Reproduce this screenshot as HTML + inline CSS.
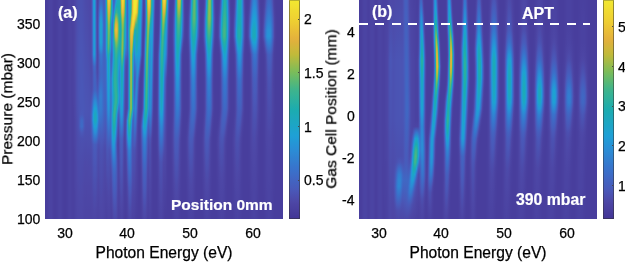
<!DOCTYPE html><html><head><meta charset="utf-8"><style>html,body{margin:0;padding:0;background:#fff;}body{width:625px;height:262px;position:relative;overflow:hidden;font-family:"Liberation Sans",sans-serif;}.t{position:absolute;line-height:1;white-space:nowrap;-webkit-font-smoothing:antialiased;will-change:transform;-webkit-text-stroke:0.25px #000;}.w{-webkit-text-stroke:0.2px #fff;}.hm{position:absolute;top:0;height:219px;width:238px;display:flex;}.hm i{display:block;width:1px;height:219px;flex:none;}.cb{position:absolute;top:0;height:219px;width:11.6px;box-sizing:border-box;border:1px solid rgba(50,50,50,0.5);border-top-color:rgba(50,50,50,0.3);background:linear-gradient(#f2e830,#f1e430,#f1e031,#f0db31,#f0d731,#efd332,#eecf32,#edca33,#ebc435,#e9be37,#e7b939,#e5b33b,#e0b13c,#d8b33b,#d0b63b,#c8b83a,#c0ba3a,#b2ba40,#a5bb47,#97bb4d,#89bc53,#7cbc59,#70bb63,#64b96c,#58b876,#4db680,#41b48a,#3ab391,#34b297,#2eb09d,#28afa3,#22ada9,#1cacaf,#1caab4,#1da9b9,#1da7be,#1da6c3,#1da4c8,#1ea3cd,#1ea1d3,#1f9fd6,#229ad6,#2595d6,#2890d6,#2b8cd5,#2e87d3,#3082d1,#337ecf,#3579ce,#3874cc,#3a70ca,#3d6cc7,#4067c4,#4363c0,#455fbd,#485bba,#4a56b6,#4b51b1,#4c4cab,#4d47a6,#4b43a2,#49409f,#473c9b,#443899,#423496);background-origin:border-box;}.tk{position:absolute;width:1.6px;height:1px;background:#4a4a4a;}.dash{position:absolute;height:2.4px;background:#fff;top:22.8px;}</style></head><body><div class="hm" style="left:45px"><i style="background:linear-gradient(#483e9d 0.5px,#483e9d 6.5px,#483e9d 12.5px,#483e9d 18.5px,#483e9d 24.5px,#483e9d 30.5px,#483e9d 36.5px,#483e9d 42.5px,#483e9d 48.5px,#483e9d 54.5px,#483e9d 60.5px,#483e9d 66.5px,#483e9d 72.5px,#483e9d 78.5px,#483e9d 84.5px,#483e9d 90.5px,#483e9d 96.5px,#483e9d 102.5px,#483e9d 108.5px,#483e9d 114.5px,#483e9d 120.5px,#483e9d 126.5px,#483e9d 132.5px,#483e9d 138.5px,#483e9d 144.5px,#483e9d 150.5px,#483e9d 156.5px,#483e9d 162.5px,#483e9d 168.5px,#483e9d 174.5px,#483e9d 180.5px,#483e9d 186.5px,#483e9d 192.5px,#483e9d 198.5px,#483e9d 204.5px,#483e9d 210.5px,#483e9d 216.5px,#483e9d 218.5px)"></i><i style="background:linear-gradient(#483e9d 0.5px,#483e9d 6.5px,#483e9d 12.5px,#483e9d 18.5px,#483e9d 24.5px,#483e9d 30.5px,#483e9d 36.5px,#483e9d 42.5px,#483e9d 48.5px,#483e9d 54.5px,#483e9d 60.5px,#483e9d 66.5px,#483e9d 72.5px,#483e9d 78.5px,#483e9d 84.5px,#483e9d 90.5px,#483e9d 96.5px,#483e9d 102.5px,#483e9d 108.5px,#483e9d 114.5px,#483e9d 120.5px,#483e9d 126.5px,#483e9d 132.5px,#483e9d 138.5px,#483e9d 144.5px,#483e9d 150.5px,#483e9d 156.5px,#483e9d 162.5px,#483e9d 168.5px,#483e9d 174.5px,#483e9d 180.5px,#483e9d 186.5px,#483e9d 192.5px,#483e9d 198.5px,#483e9d 204.5px,#483e9d 210.5px,#483e9d 216.5px,#483e9d 218.5px)"></i><i style="background:linear-gradient(#493f9e 0.5px,#493f9e 6.5px,#493f9e 12.5px,#493f9e 18.5px,#493f9e 24.5px,#493f9e 30.5px,#493f9e 36.5px,#493f9e 42.5px,#493f9e 48.5px,#493f9e 54.5px,#493f9e 60.5px,#493f9e 66.5px,#493f9e 72.5px,#493f9e 78.5px,#493f9e 84.5px,#493f9e 90.5px,#493f9e 96.5px,#493f9e 102.5px,#493f9e 108.5px,#493f9e 114.5px,#493f9e 120.5px,#493f9e 126.5px,#493f9e 132.5px,#493f9e 138.5px,#493f9e 144.5px,#493f9e 150.5px,#493f9e 156.5px,#493f9e 162.5px,#493f9e 168.5px,#493f9e 174.5px,#493f9e 180.5px,#493f9e 186.5px,#493f9e 192.5px,#493f9e 198.5px,#493f9e 204.5px,#493f9e 210.5px,#493f9e 216.5px,#493f9e 218.5px)"></i><i style="background:linear-gradient(#4a41a0 0.5px,#4a41a0 6.5px,#4a41a0 12.5px,#4a41a0 18.5px,#4a41a0 24.5px,#4a41a0 30.5px,#4a41a0 36.5px,#4a41a0 42.5px,#4a41a0 48.5px,#4a41a0 54.5px,#4a41a0 60.5px,#4a41a0 66.5px,#4a41a0 72.5px,#4a41a0 78.5px,#4a41a0 84.5px,#4a41a0 90.5px,#4a41a0 96.5px,#4a41a0 102.5px,#4a41a0 108.5px,#4a41a0 114.5px,#4a41a0 120.5px,#4a41a0 126.5px,#4a41a0 132.5px,#4a41a0 138.5px,#4a41a0 144.5px,#4a41a0 150.5px,#4a41a0 156.5px,#4a41a0 162.5px,#4a41a0 168.5px,#4a41a0 174.5px,#4a41a0 180.5px,#4a41a0 186.5px,#4a41a0 192.5px,#4a41a0 198.5px,#4a41a0 204.5px,#4a41a0 210.5px,#4a41a0 216.5px,#4a41a0 218.5px)"></i><i style="background:linear-gradient(#4b43a2 0.5px,#4b43a2 6.5px,#4b43a2 12.5px,#4b43a2 18.5px,#4b43a2 24.5px,#4b43a2 30.5px,#4b43a2 36.5px,#4b43a2 42.5px,#4b43a2 48.5px,#4b43a2 54.5px,#4b43a2 60.5px,#4b43a2 66.5px,#4b43a2 72.5px,#4b43a2 78.5px,#4b43a2 84.5px,#4b43a2 90.5px,#4b43a2 96.5px,#4b43a2 102.5px,#4b43a2 108.5px,#4b43a2 114.5px,#4b43a2 120.5px,#4b43a2 126.5px,#4b43a2 132.5px,#4b43a2 138.5px,#4b43a2 144.5px,#4b43a2 150.5px,#4b43a2 156.5px,#4b43a2 162.5px,#4b43a2 168.5px,#4b43a2 174.5px,#4b43a2 180.5px,#4b43a2 186.5px,#4b43a2 192.5px,#4b43a2 198.5px,#4b43a2 204.5px,#4b43a2 210.5px,#4b43a2 216.5px,#4b43a2 218.5px)"></i><i style="background:linear-gradient(#4b43a2 0.5px,#4b43a2 6.5px,#4b43a2 12.5px,#4b43a2 18.5px,#4b43a2 24.5px,#4b43a2 30.5px,#4b43a2 36.5px,#4b43a2 42.5px,#4b43a2 48.5px,#4b43a2 54.5px,#4b43a2 60.5px,#4b43a2 66.5px,#4b43a2 72.5px,#4b43a2 78.5px,#4b43a2 84.5px,#4b43a2 90.5px,#4b43a2 96.5px,#4b43a2 102.5px,#4b43a2 108.5px,#4b43a2 114.5px,#4b43a2 120.5px,#4b43a2 126.5px,#4b43a2 132.5px,#4b43a2 138.5px,#4b43a2 144.5px,#4b43a2 150.5px,#4b43a2 156.5px,#4b43a2 162.5px,#4b43a2 168.5px,#4b43a2 174.5px,#4b43a2 180.5px,#4b43a2 186.5px,#4b43a2 192.5px,#4b43a2 198.5px,#4b43a2 204.5px,#4b43a2 210.5px,#4b43a2 216.5px,#4b43a2 218.5px)"></i><i style="background:linear-gradient(#4b43a2 0.5px,#4b43a2 6.5px,#4b43a2 12.5px,#4b43a2 18.5px,#4b43a2 24.5px,#4b43a2 30.5px,#4b43a2 36.5px,#4b43a2 42.5px,#4b43a2 48.5px,#4b43a2 54.5px,#4b43a2 60.5px,#4b43a2 66.5px,#4b43a2 72.5px,#4b43a2 78.5px,#4b43a2 84.5px,#4b43a2 90.5px,#4b43a2 96.5px,#4b43a2 102.5px,#4b43a2 108.5px,#4b43a2 114.5px,#4b43a2 120.5px,#4b43a2 126.5px,#4b43a2 132.5px,#4b43a2 138.5px,#4b43a2 144.5px,#4b43a2 150.5px,#4b43a2 156.5px,#4b43a2 162.5px,#4b43a2 168.5px,#4b43a2 174.5px,#4b43a2 180.5px,#4b43a2 186.5px,#4b43a2 192.5px,#4b43a2 198.5px,#4b43a2 204.5px,#4b43a2 210.5px,#4b43a2 216.5px,#4b43a2 218.5px)"></i><i style="background:linear-gradient(#4a41a0 0.5px,#4a41a0 6.5px,#4a41a0 12.5px,#4a41a0 18.5px,#4a41a0 24.5px,#4a41a0 30.5px,#4a41a0 36.5px,#4a41a0 42.5px,#4a41a0 48.5px,#4a41a0 54.5px,#4a41a0 60.5px,#4a41a0 66.5px,#4a41a0 72.5px,#4a41a0 78.5px,#4a41a0 84.5px,#4a41a0 90.5px,#4a41a0 96.5px,#4a41a0 102.5px,#4a41a0 108.5px,#4a41a0 114.5px,#4a41a0 120.5px,#4a41a0 126.5px,#4a41a0 132.5px,#4a41a0 138.5px,#4a41a0 144.5px,#4a41a0 150.5px,#4a41a0 156.5px,#4a41a0 162.5px,#4a41a0 168.5px,#4a41a0 174.5px,#4a41a0 180.5px,#4a41a0 186.5px,#4a41a0 192.5px,#4a41a0 198.5px,#4a41a0 204.5px,#4a41a0 210.5px,#4a41a0 216.5px,#4a41a0 218.5px)"></i><i style="background:linear-gradient(#493f9e 0.5px,#493f9e 6.5px,#493f9e 12.5px,#493f9e 18.5px,#493f9e 24.5px,#493f9e 30.5px,#493f9e 36.5px,#493f9e 42.5px,#493f9e 48.5px,#493f9e 54.5px,#493f9e 60.5px,#493f9e 66.5px,#493f9e 72.5px,#493f9e 78.5px,#493f9e 84.5px,#493f9e 90.5px,#493f9e 96.5px,#493f9e 102.5px,#493f9e 108.5px,#493f9e 114.5px,#493f9e 120.5px,#493f9e 126.5px,#493f9e 132.5px,#493f9e 138.5px,#493f9e 144.5px,#493f9e 150.5px,#493f9e 156.5px,#493f9e 162.5px,#493f9e 168.5px,#493f9e 174.5px,#493f9e 180.5px,#493f9e 186.5px,#493f9e 192.5px,#493f9e 198.5px,#493f9e 204.5px,#493f9e 210.5px,#493f9e 216.5px,#493f9e 218.5px)"></i><i style="background:linear-gradient(#483e9d 0.5px,#483e9d 6.5px,#483e9d 12.5px,#483e9d 18.5px,#483e9d 24.5px,#483e9d 30.5px,#483e9d 36.5px,#483e9d 42.5px,#483e9d 48.5px,#483e9d 54.5px,#483e9d 60.5px,#483e9d 66.5px,#483e9d 72.5px,#483e9d 78.5px,#483e9d 84.5px,#483e9d 90.5px,#483e9d 96.5px,#483e9d 102.5px,#483e9d 108.5px,#483e9d 114.5px,#483e9d 120.5px,#483e9d 126.5px,#483e9d 132.5px,#483e9d 138.5px,#483e9d 144.5px,#483e9d 150.5px,#483e9d 156.5px,#483e9d 162.5px,#483e9d 168.5px,#483e9d 174.5px,#483e9d 180.5px,#483e9d 186.5px,#483e9d 192.5px,#483e9d 198.5px,#483e9d 204.5px,#483e9d 210.5px,#483e9d 216.5px,#483e9d 218.5px)"></i><i style="background:linear-gradient(#483e9d 0.5px,#483e9d 6.5px,#483e9d 12.5px,#483e9d 18.5px,#483e9d 24.5px,#483e9d 30.5px,#483e9d 36.5px,#483e9d 42.5px,#483e9d 48.5px,#483e9d 54.5px,#483e9d 60.5px,#483e9d 66.5px,#483e9d 72.5px,#483e9d 78.5px,#483e9d 84.5px,#483e9d 90.5px,#483e9d 96.5px,#483e9d 102.5px,#483e9d 108.5px,#483e9d 114.5px,#483e9d 120.5px,#483e9d 126.5px,#483e9d 132.5px,#483e9d 138.5px,#483e9d 144.5px,#483e9d 150.5px,#483e9d 156.5px,#483e9d 162.5px,#483e9d 168.5px,#483e9d 174.5px,#483e9d 180.5px,#483e9d 186.5px,#483e9d 192.5px,#483e9d 198.5px,#483e9d 204.5px,#483e9d 210.5px,#483e9d 216.5px,#483e9d 218.5px)"></i><i style="background:linear-gradient(#483f9e 0.5px,#483f9e 6.5px,#483f9e 12.5px,#483f9e 18.5px,#483f9e 24.5px,#483f9e 30.5px,#483f9e 36.5px,#483f9e 42.5px,#483f9e 48.5px,#483f9e 54.5px,#483f9e 60.5px,#483f9e 66.5px,#483f9e 72.5px,#483f9e 78.5px,#483f9e 84.5px,#483f9e 90.5px,#483f9e 96.5px,#483f9e 102.5px,#483f9e 108.5px,#483f9e 114.5px,#483f9e 120.5px,#483f9e 126.5px,#483f9e 132.5px,#483f9e 138.5px,#483f9e 144.5px,#483f9e 150.5px,#483f9e 156.5px,#483f9e 162.5px,#483f9e 168.5px,#483f9e 174.5px,#483f9e 180.5px,#483f9e 186.5px,#483f9e 192.5px,#483f9e 198.5px,#483f9e 204.5px,#483f9e 210.5px,#483f9e 216.5px,#483f9e 218.5px)"></i><i style="background:linear-gradient(#49409f 0.5px,#49409f 6.5px,#49409f 12.5px,#49409f 18.5px,#49409f 24.5px,#49409f 30.5px,#49409f 36.5px,#49409f 42.5px,#49409f 48.5px,#49409f 54.5px,#49409f 60.5px,#49409f 66.5px,#49409f 72.5px,#49409f 78.5px,#49409f 84.5px,#49409f 90.5px,#49409f 96.5px,#49409f 102.5px,#49409f 108.5px,#49409f 114.5px,#49409f 120.5px,#49409f 126.5px,#49409f 132.5px,#49409f 138.5px,#49409f 144.5px,#49409f 150.5px,#49409f 156.5px,#49409f 162.5px,#49409f 168.5px,#49409f 174.5px,#49409f 180.5px,#49409f 186.5px,#49409f 192.5px,#49409f 198.5px,#49409f 204.5px,#49409f 210.5px,#49409f 216.5px,#49409f 218.5px)"></i><i style="background:linear-gradient(#4a42a1 0.5px,#4a42a1 6.5px,#4a42a1 12.5px,#4a42a1 18.5px,#4a42a1 24.5px,#4a42a1 30.5px,#4a42a1 36.5px,#4a42a1 42.5px,#4a42a1 48.5px,#4a42a1 54.5px,#4a42a1 60.5px,#4a42a1 66.5px,#4a42a1 72.5px,#4a42a1 78.5px,#4a42a1 84.5px,#4a42a1 90.5px,#4a42a1 96.5px,#4a42a1 102.5px,#4a42a1 108.5px,#4a42a1 114.5px,#4a42a1 120.5px,#4a42a1 126.5px,#4a42a1 132.5px,#4a42a1 138.5px,#4a42a1 144.5px,#4a42a1 150.5px,#4a42a1 156.5px,#4a42a1 162.5px,#4a42a1 168.5px,#4a42a1 174.5px,#4a42a1 180.5px,#4a42a1 186.5px,#4a42a1 192.5px,#4a42a1 198.5px,#4a42a1 204.5px,#4a42a1 210.5px,#4a42a1 216.5px,#4a42a1 218.5px)"></i><i style="background:linear-gradient(#4b43a2 0.5px,#4b43a2 6.5px,#4b43a2 12.5px,#4b43a2 18.5px,#4b43a2 24.5px,#4b43a2 30.5px,#4b43a2 36.5px,#4b43a2 42.5px,#4b43a2 48.5px,#4b43a2 54.5px,#4b43a2 60.5px,#4b43a2 66.5px,#4b43a2 72.5px,#4b43a2 78.5px,#4b43a2 84.5px,#4b43a2 90.5px,#4b43a2 96.5px,#4b43a2 102.5px,#4b43a2 108.5px,#4b43a2 114.5px,#4b43a2 120.5px,#4b43a2 126.5px,#4b43a2 132.5px,#4b43a2 138.5px,#4b43a2 144.5px,#4b43a2 150.5px,#4b43a2 156.5px,#4b43a2 162.5px,#4b43a2 168.5px,#4b43a2 174.5px,#4b43a2 180.5px,#4b43a2 186.5px,#4b43a2 192.5px,#4b43a2 198.5px,#4b43a2 204.5px,#4b43a2 210.5px,#4b43a2 216.5px,#4b43a2 218.5px)"></i><i style="background:linear-gradient(#4b43a2 0.5px,#4b43a2 6.5px,#4b43a2 12.5px,#4b43a2 18.5px,#4b43a2 24.5px,#4b43a2 30.5px,#4b43a2 36.5px,#4b43a2 42.5px,#4b43a2 48.5px,#4b43a2 54.5px,#4b43a2 60.5px,#4b43a2 66.5px,#4b43a2 72.5px,#4b43a2 78.5px,#4b43a2 84.5px,#4b43a2 90.5px,#4b43a2 96.5px,#4b43a2 102.5px,#4b43a2 108.5px,#4b43a2 114.5px,#4b43a2 120.5px,#4b43a2 126.5px,#4b43a2 132.5px,#4b43a2 138.5px,#4b43a2 144.5px,#4b43a2 150.5px,#4b43a2 156.5px,#4b43a2 162.5px,#4b43a2 168.5px,#4b43a2 174.5px,#4b43a2 180.5px,#4b43a2 186.5px,#4b43a2 192.5px,#4b43a2 198.5px,#4b43a2 204.5px,#4b43a2 210.5px,#4b43a2 216.5px,#4b43a2 218.5px)"></i><i style="background:linear-gradient(#4a42a1 0.5px,#4a42a1 6.5px,#4a42a1 12.5px,#4a42a1 18.5px,#4a42a1 24.5px,#4a42a1 30.5px,#4a42a1 36.5px,#4a42a1 42.5px,#4a42a1 48.5px,#4a42a1 54.5px,#4a42a1 60.5px,#4a42a1 66.5px,#4a42a1 72.5px,#4a42a1 78.5px,#4a42a1 84.5px,#4a42a1 90.5px,#4a42a1 96.5px,#4a42a1 102.5px,#4a42a1 108.5px,#4a42a1 114.5px,#4a42a1 120.5px,#4a42a1 126.5px,#4a42a1 132.5px,#4a42a1 138.5px,#4a42a1 144.5px,#4a42a1 150.5px,#4a42a1 156.5px,#4a42a1 162.5px,#4a42a1 168.5px,#4a42a1 174.5px,#4a42a1 180.5px,#4a42a1 186.5px,#4a42a1 192.5px,#4a42a1 198.5px,#4a42a1 204.5px,#4a42a1 210.5px,#4a42a1 216.5px,#4a42a1 218.5px)"></i><i style="background:linear-gradient(#49409f 0.5px,#49409f 6.5px,#49409f 12.5px,#49409f 18.5px,#49409f 24.5px,#49409f 30.5px,#49409f 36.5px,#49409f 42.5px,#49409f 48.5px,#49409f 54.5px,#49409f 60.5px,#49409f 66.5px,#49409f 72.5px,#49409f 78.5px,#49409f 84.5px,#49409f 90.5px,#49409f 96.5px,#49409f 102.5px,#49409f 108.5px,#49409f 114.5px,#49409f 120.5px,#49409f 126.5px,#49409f 132.5px,#49409f 138.5px,#49409f 144.5px,#49409f 150.5px,#49409f 156.5px,#49409f 162.5px,#49409f 168.5px,#49409f 174.5px,#49409f 180.5px,#49409f 186.5px,#49409f 192.5px,#49409f 198.5px,#49409f 204.5px,#49409f 210.5px,#49409f 216.5px,#49409f 218.5px)"></i><i style="background:linear-gradient(#483f9e 0.5px,#483f9e 6.5px,#483f9e 12.5px,#483f9e 18.5px,#483f9e 24.5px,#483f9e 30.5px,#483f9e 36.5px,#483f9e 42.5px,#483f9e 48.5px,#483f9e 54.5px,#483f9e 60.5px,#483f9e 66.5px,#483f9e 72.5px,#483f9e 78.5px,#483f9e 84.5px,#483f9e 90.5px,#483f9e 96.5px,#483f9e 102.5px,#483f9e 108.5px,#483f9e 114.5px,#483f9e 120.5px,#483f9e 126.5px,#483f9e 132.5px,#483f9e 138.5px,#483f9e 144.5px,#483f9e 150.5px,#483f9e 156.5px,#483f9e 162.5px,#483f9e 168.5px,#483f9e 174.5px,#483f9e 180.5px,#483f9e 186.5px,#483f9e 192.5px,#483f9e 198.5px,#483f9e 204.5px,#483f9e 210.5px,#483f9e 216.5px,#483f9e 218.5px)"></i><i style="background:linear-gradient(#483e9d 0.5px,#483e9d 6.5px,#483e9d 12.5px,#483e9d 18.5px,#483e9d 24.5px,#483e9d 30.5px,#483e9d 36.5px,#483e9d 42.5px,#483e9d 48.5px,#483e9d 54.5px,#483e9d 60.5px,#483e9d 66.5px,#483e9d 72.5px,#483e9d 78.5px,#483e9d 84.5px,#483e9d 90.5px,#483e9d 96.5px,#483e9d 102.5px,#483e9d 108.5px,#483e9d 114.5px,#483e9d 120.5px,#483e9d 126.5px,#483e9d 132.5px,#483e9d 138.5px,#483e9d 144.5px,#483e9d 150.5px,#483e9d 156.5px,#483e9d 162.5px,#483e9d 168.5px,#483e9d 174.5px,#483e9d 180.5px,#483e9d 186.5px,#483e9d 192.5px,#483e9d 198.5px,#483e9d 204.5px,#483e9d 210.5px,#483e9d 216.5px,#483e9d 218.5px)"></i><i style="background:linear-gradient(#483e9d 0.5px,#483e9d 6.5px,#483e9d 12.5px,#483e9d 18.5px,#483e9d 24.5px,#483e9d 30.5px,#483e9d 36.5px,#483e9d 42.5px,#483e9d 48.5px,#483e9d 54.5px,#483e9d 60.5px,#483e9d 66.5px,#483e9d 72.5px,#483e9d 78.5px,#483e9d 84.5px,#483e9d 90.5px,#483e9d 96.5px,#483e9d 102.5px,#483e9d 108.5px,#483e9d 114.5px,#483e9d 120.5px,#483e9d 126.5px,#483e9d 132.5px,#483e9d 138.5px,#483e9d 144.5px,#483e9d 150.5px,#483e9d 156.5px,#483e9d 162.5px,#483e9d 168.5px,#483e9d 174.5px,#483e9d 180.5px,#483e9d 186.5px,#483e9d 192.5px,#483e9d 198.5px,#483e9d 204.5px,#483e9d 210.5px,#483e9d 216.5px,#483e9d 218.5px)"></i><i style="background:linear-gradient(#483f9e 0.5px,#483f9e 6.5px,#483f9e 12.5px,#483f9e 18.5px,#483f9e 24.5px,#483f9e 30.5px,#483f9e 36.5px,#483f9e 42.5px,#483f9e 48.5px,#483f9e 54.5px,#483f9e 60.5px,#483f9e 66.5px,#483f9e 72.5px,#483f9e 78.5px,#483f9e 84.5px,#483f9e 90.5px,#483f9e 96.5px,#483f9e 102.5px,#483f9e 108.5px,#483f9e 114.5px,#483f9e 120.5px,#483f9e 126.5px,#483f9e 132.5px,#483f9e 138.5px,#483f9e 144.5px,#483f9e 150.5px,#483f9e 156.5px,#483f9e 162.5px,#483f9e 168.5px,#483f9e 174.5px,#483f9e 180.5px,#483f9e 186.5px,#483f9e 192.5px,#483f9e 198.5px,#483f9e 204.5px,#483f9e 210.5px,#483f9e 216.5px,#483f9e 218.5px)"></i><i style="background:linear-gradient(#49409f 0.5px,#49409f 6.5px,#49409f 12.5px,#49409f 18.5px,#49409f 24.5px,#49409f 30.5px,#49409f 36.5px,#49409f 42.5px,#49409f 48.5px,#49409f 54.5px,#49409f 60.5px,#49409f 66.5px,#49409f 72.5px,#49409f 78.5px,#49409f 84.5px,#49409f 90.5px,#49409f 96.5px,#49409f 102.5px,#49409f 108.5px,#49409f 114.5px,#49409f 120.5px,#49409f 126.5px,#49409f 132.5px,#49409f 138.5px,#49409f 144.5px,#49409f 150.5px,#49409f 156.5px,#49409f 162.5px,#49409f 168.5px,#49409f 174.5px,#49409f 180.5px,#49409f 186.5px,#49409f 192.5px,#49409f 198.5px,#49409f 204.5px,#49409f 210.5px,#49409f 216.5px,#49409f 218.5px)"></i><i style="background:linear-gradient(#4a42a1 0.5px,#4a42a1 6.5px,#4a42a1 12.5px,#4a42a1 18.5px,#4a42a1 24.5px,#4a42a1 30.5px,#4a42a1 36.5px,#4a42a1 42.5px,#4a42a1 48.5px,#4a42a1 54.5px,#4a42a1 60.5px,#4a42a1 66.5px,#4a42a1 72.5px,#4a42a1 78.5px,#4a42a1 84.5px,#4a42a1 90.5px,#4a42a1 96.5px,#4a42a1 102.5px,#4a42a1 108.5px,#4a42a1 114.5px,#4a42a1 120.5px,#4a42a1 126.5px,#4a42a1 132.5px,#4a42a1 138.5px,#4a42a1 144.5px,#4a42a1 150.5px,#4a42a1 156.5px,#4a42a1 162.5px,#4a42a1 168.5px,#4a42a1 174.5px,#4a42a1 180.5px,#4a42a1 186.5px,#4a42a1 192.5px,#4a42a1 198.5px,#4a42a1 204.5px,#4a42a1 210.5px,#4a42a1 216.5px,#4a42a1 218.5px)"></i><i style="background:linear-gradient(#4b43a2 0.5px,#4b43a2 6.5px,#4b43a2 12.5px,#4b43a2 18.5px,#4b43a2 24.5px,#4b43a2 30.5px,#4b43a2 36.5px,#4b43a2 42.5px,#4b43a2 48.5px,#4b43a2 54.5px,#4b43a2 60.5px,#4b43a2 66.5px,#4b43a2 72.5px,#4b43a2 78.5px,#4b43a2 84.5px,#4b43a2 90.5px,#4b43a2 96.5px,#4b43a2 102.5px,#4b43a2 108.5px,#4b43a2 114.5px,#4b43a2 120.5px,#4b43a2 126.5px,#4b43a2 132.5px,#4b43a2 138.5px,#4b43a2 144.5px,#4b43a2 150.5px,#4b43a2 156.5px,#4b43a2 162.5px,#4b43a2 168.5px,#4b43a2 174.5px,#4b43a2 180.5px,#4b43a2 186.5px,#4b43a2 192.5px,#4b43a2 198.5px,#4b43a2 204.5px,#4b43a2 210.5px,#4b43a2 216.5px,#4b43a2 218.5px)"></i><i style="background:linear-gradient(#4b43a2 0.5px,#4b43a2 6.5px,#4b43a2 12.5px,#4b43a2 18.5px,#4b43a2 24.5px,#4b43a2 30.5px,#4b43a2 36.5px,#4b43a2 42.5px,#4b43a2 48.5px,#4b43a2 54.5px,#4b43a2 60.5px,#4b43a2 66.5px,#4b43a2 72.5px,#4b43a2 78.5px,#4b43a2 84.5px,#4b43a2 90.5px,#4b43a2 96.5px,#4b43a2 102.5px,#4b43a2 108.5px,#4b43a2 114.5px,#4b43a2 120.5px,#4b43a2 126.5px,#4b43a2 132.5px,#4b43a2 138.5px,#4b43a2 144.5px,#4b43a2 150.5px,#4b43a2 156.5px,#4b43a2 162.5px,#4b43a2 168.5px,#4b43a2 174.5px,#4b43a2 180.5px,#4b43a2 186.5px,#4b43a2 192.5px,#4b43a2 198.5px,#4b43a2 204.5px,#4b43a2 210.5px,#4b43a2 216.5px,#4b43a2 218.5px)"></i><i style="background:linear-gradient(#4a42a1 0.5px,#4a42a1 6.5px,#4a42a1 12.5px,#4a42a1 18.5px,#4a42a1 24.5px,#4b43a2 30.5px,#4b43a2 36.5px,#4b43a2 42.5px,#4b43a2 48.5px,#4b43a2 54.5px,#4b43a2 60.5px,#4b43a2 66.5px,#4a42a1 72.5px,#4a42a1 78.5px,#4a42a1 84.5px,#4a42a1 90.5px,#4a42a1 96.5px,#4a42a1 102.5px,#4a42a1 108.5px,#4a42a1 114.5px,#4a42a1 120.5px,#4a42a1 126.5px,#4a42a1 132.5px,#4a42a1 138.5px,#4a42a1 144.5px,#4a42a1 150.5px,#4a42a1 156.5px,#4a42a1 162.5px,#4a42a1 168.5px,#4a42a1 174.5px,#4a42a1 180.5px,#4a42a1 186.5px,#4a42a1 192.5px,#4a42a1 198.5px,#4a42a1 204.5px,#4a42a1 210.5px,#4a42a1 216.5px,#4a42a1 218.5px)"></i><i style="background:linear-gradient(#4a42a1 0.5px,#4a42a1 6.5px,#4a42a1 12.5px,#4a42a1 18.5px,#4a42a1 24.5px,#4a42a1 30.5px,#4a42a1 36.5px,#4a42a1 42.5px,#4a42a1 48.5px,#4a42a1 54.5px,#4a42a1 60.5px,#4a42a1 66.5px,#4a42a1 72.5px,#4a42a1 78.5px,#4a42a1 84.5px,#4a42a1 90.5px,#4a42a1 96.5px,#4a41a0 102.5px,#4a41a0 108.5px,#4a41a0 114.5px,#4a41a0 120.5px,#4a41a0 126.5px,#4a41a0 132.5px,#4a41a0 138.5px,#4a41a0 144.5px,#4a41a0 150.5px,#4a41a0 156.5px,#4a41a0 162.5px,#4a41a0 168.5px,#4a41a0 174.5px,#4a41a0 180.5px,#4a41a0 186.5px,#4a41a0 192.5px,#4a41a0 198.5px,#4a41a0 204.5px,#4a41a0 210.5px,#4a41a0 216.5px,#4a41a0 218.5px)"></i><i style="background:linear-gradient(#4a42a1 0.5px,#4b43a2 6.5px,#4b43a2 12.5px,#4b43a2 18.5px,#4b43a2 24.5px,#4b43a2 30.5px,#4b43a2 36.5px,#4b43a2 42.5px,#4b43a2 48.5px,#4b43a2 54.5px,#4b44a3 60.5px,#4b43a2 66.5px,#4b43a2 72.5px,#4b43a2 78.5px,#4b43a2 84.5px,#4b43a2 90.5px,#4b43a2 96.5px,#4b43a2 102.5px,#4a42a1 108.5px,#4a42a1 114.5px,#4a42a1 120.5px,#4a42a1 126.5px,#4a42a1 132.5px,#4a42a1 138.5px,#4a42a1 144.5px,#4a41a0 150.5px,#4a41a0 156.5px,#4a41a0 162.5px,#4a41a0 168.5px,#4a41a0 174.5px,#4a41a0 180.5px,#4a41a0 186.5px,#4a41a0 192.5px,#4a41a0 198.5px,#4a41a0 204.5px,#4941a0 210.5px,#4941a0 216.5px,#4941a0 218.5px)"></i><i style="background:linear-gradient(#4c45a4 0.5px,#4c45a4 6.5px,#4c45a4 12.5px,#4c45a4 18.5px,#4c45a4 24.5px,#4c45a4 30.5px,#4c45a4 36.5px,#4c46a5 42.5px,#4c46a5 48.5px,#4c46a5 54.5px,#4c46a5 60.5px,#4c46a5 66.5px,#4c46a5 72.5px,#4c46a5 78.5px,#4c45a4 84.5px,#4c45a4 90.5px,#4c45a4 96.5px,#4c45a4 102.5px,#4c45a4 108.5px,#4c45a4 114.5px,#4b44a3 120.5px,#4b44a3 126.5px,#4b44a3 132.5px,#4b44a3 138.5px,#4b44a3 144.5px,#4b43a2 150.5px,#4b43a2 156.5px,#4b43a2 162.5px,#4b43a2 168.5px,#4b43a2 174.5px,#4b43a2 180.5px,#4b43a2 186.5px,#4a42a1 192.5px,#4a42a1 198.5px,#4a42a1 204.5px,#4a42a1 210.5px,#4a42a1 216.5px,#4a42a1 218.5px)"></i><i style="background:linear-gradient(#4d47a6 0.5px,#4d47a7 6.5px,#4d48a7 12.5px,#4d48a7 18.5px,#4d48a7 24.5px,#4d49a8 30.5px,#4d49a8 36.5px,#4d49a8 42.5px,#4d49a9 48.5px,#4d4aa9 54.5px,#4c4aa9 60.5px,#4d4aa9 66.5px,#4d4aa9 72.5px,#4d49a9 78.5px,#4d49a8 84.5px,#4d49a8 90.5px,#4d49a8 96.5px,#4d49a8 102.5px,#4d48a7 108.5px,#4d48a7 114.5px,#4d47a6 120.5px,#4d47a6 126.5px,#4d47a6 132.5px,#4d46a5 138.5px,#4c46a5 144.5px,#4c46a5 150.5px,#4c46a5 156.5px,#4c45a4 162.5px,#4c45a4 168.5px,#4c45a4 174.5px,#4c45a4 180.5px,#4c45a4 186.5px,#4c44a3 192.5px,#4b44a3 198.5px,#4b44a3 204.5px,#4b44a3 210.5px,#4b44a3 216.5px,#4b44a3 218.5px)"></i><i style="background:linear-gradient(#4c4baa 0.5px,#4c4baa 6.5px,#4c4bab 12.5px,#4c4cab 18.5px,#4c4cab 24.5px,#4c4cac 30.5px,#4c4dac 36.5px,#4c4dac 42.5px,#4c4dad 48.5px,#4c4ead 54.5px,#4c4ead 60.5px,#4c4ead 66.5px,#4c4ead 72.5px,#4c4ead 78.5px,#4c4ead 84.5px,#4c4ead 90.5px,#4c4ead 96.5px,#4c4dad 102.5px,#4c4dac 108.5px,#4c4cab 114.5px,#4c4baa 120.5px,#4c4baa 126.5px,#4c4aa9 132.5px,#4d49a9 138.5px,#4d49a8 144.5px,#4d49a8 150.5px,#4d48a7 156.5px,#4d48a7 162.5px,#4d47a6 168.5px,#4d47a6 174.5px,#4d47a6 180.5px,#4d46a5 186.5px,#4d46a5 192.5px,#4c46a5 198.5px,#4c46a5 204.5px,#4c45a4 210.5px,#4c45a4 216.5px,#4c45a4 218.5px)"></i><i style="background:linear-gradient(#4c4ead 0.5px,#4c4ead 6.5px,#4c4eae 12.5px,#4c4fae 18.5px,#4c4faf 24.5px,#4c4faf 30.5px,#4b50af 36.5px,#4b50b0 42.5px,#4b51b0 48.5px,#4b51b1 54.5px,#4b51b1 60.5px,#4b51b1 66.5px,#4b51b1 72.5px,#4b51b1 78.5px,#4b51b1 84.5px,#4b51b1 90.5px,#4b51b1 96.5px,#4b51b0 102.5px,#4b50b0 108.5px,#4c4faf 114.5px,#4c4eae 120.5px,#4c4ead 126.5px,#4c4dac 132.5px,#4c4cab 138.5px,#4c4cab 144.5px,#4c4baa 150.5px,#4c4baa 156.5px,#4c4aa9 162.5px,#4d4aa9 168.5px,#4d49a8 174.5px,#4d49a8 180.5px,#4d48a7 186.5px,#4d48a7 192.5px,#4d47a6 198.5px,#4d47a6 204.5px,#4d47a6 210.5px,#4d46a5 216.5px,#4d46a5 218.5px)"></i><i style="background:linear-gradient(#4c4faf 0.5px,#4b50af 6.5px,#4b50b0 12.5px,#4b51b0 18.5px,#4b51b1 24.5px,#4b51b1 30.5px,#4b52b2 36.5px,#4b52b2 42.5px,#4b53b2 48.5px,#4b53b3 54.5px,#4b54b3 60.5px,#4b54b3 66.5px,#4b54b3 72.5px,#4b54b4 78.5px,#4b54b4 84.5px,#4b54b4 90.5px,#4b54b3 96.5px,#4b53b3 102.5px,#4b53b3 108.5px,#4b52b2 114.5px,#4b53b2 120.5px,#4b52b2 126.5px,#4c4faf 132.5px,#4c4ead 138.5px,#4c4dac 144.5px,#4c4cac 150.5px,#4c4cab 156.5px,#4c4bab 162.5px,#4c4baa 168.5px,#4c4aaa 174.5px,#4d4aa9 180.5px,#4d49a8 186.5px,#4d49a8 192.5px,#4d48a7 198.5px,#4d48a7 204.5px,#4d47a6 210.5px,#4d47a6 216.5px,#4d47a6 218.5px)"></i><i style="background:linear-gradient(#4b50b0 0.5px,#4b51b0 6.5px,#4b51b1 12.5px,#4b52b1 18.5px,#4b52b2 24.5px,#4b53b2 30.5px,#4b53b3 36.5px,#4b54b3 42.5px,#4b54b4 48.5px,#4b55b4 54.5px,#4b55b5 60.5px,#4b55b5 66.5px,#4a55b5 72.5px,#4a55b5 78.5px,#4a55b5 84.5px,#4a55b5 90.5px,#4a56b5 96.5px,#4a55b5 102.5px,#4b55b5 108.5px,#4b55b5 114.5px,#485aba 120.5px,#485bba 126.5px,#4b52b2 132.5px,#4c4fae 138.5px,#4c4ead 144.5px,#4c4dac 150.5px,#4c4cac 156.5px,#4c4cab 162.5px,#4c4bab 168.5px,#4c4baa 174.5px,#4c4aaa 180.5px,#4d4aa9 186.5px,#4d49a8 192.5px,#4d49a8 198.5px,#4d48a7 204.5px,#4d48a7 210.5px,#4d47a6 216.5px,#4d47a6 218.5px)"></i><i style="background:linear-gradient(#4b51b0 0.5px,#4b51b1 6.5px,#4b52b1 12.5px,#4b52b2 18.5px,#4b53b2 24.5px,#4b53b3 30.5px,#4b54b3 36.5px,#4b54b4 42.5px,#4b55b4 48.5px,#4a55b5 54.5px,#4a56b6 60.5px,#4a56b6 66.5px,#4a56b6 72.5px,#4a56b6 78.5px,#4a56b6 84.5px,#4a57b7 90.5px,#4a57b7 96.5px,#4a57b7 102.5px,#4a56b6 108.5px,#4a58b8 114.5px,#4263c1 120.5px,#4166c2 126.5px,#4a56b6 132.5px,#4b50af 138.5px,#4c4eae 144.5px,#4c4ead 150.5px,#4c4dac 156.5px,#4c4cab 162.5px,#4c4cab 168.5px,#4c4baa 174.5px,#4c4aaa 180.5px,#4c4aa9 186.5px,#4d49a9 192.5px,#4d49a8 198.5px,#4d48a7 204.5px,#4d48a7 210.5px,#4d47a6 216.5px,#4d47a6 218.5px)"></i><i style="background:linear-gradient(#4b51b0 0.5px,#4b51b1 6.5px,#4b52b1 12.5px,#4b52b2 18.5px,#4b53b2 24.5px,#4b53b3 30.5px,#4b54b3 36.5px,#4b54b4 42.5px,#4b55b5 48.5px,#4a55b5 54.5px,#4a56b6 60.5px,#4a56b6 66.5px,#4a56b6 72.5px,#4a57b7 78.5px,#4a57b7 84.5px,#4a57b7 90.5px,#4a57b7 96.5px,#4a57b7 102.5px,#4a57b7 108.5px,#4959b9 114.5px,#3f68c4 120.5px,#3d6bc6 126.5px,#4a59b9 132.5px,#4b50b0 138.5px,#4c4fae 144.5px,#4c4ead 150.5px,#4c4dac 156.5px,#4c4cab 162.5px,#4c4bab 168.5px,#4c4baa 174.5px,#4c4aaa 180.5px,#4d4aa9 186.5px,#4d49a8 192.5px,#4d49a8 198.5px,#4d48a7 204.5px,#4d48a7 210.5px,#4d47a6 216.5px,#4d47a6 218.5px)"></i><i style="background:linear-gradient(#4b50af 0.5px,#4b50b0 6.5px,#4b51b0 12.5px,#4b51b1 18.5px,#4b52b2 24.5px,#4b52b2 30.5px,#4b53b3 36.5px,#4b54b3 42.5px,#4b54b4 48.5px,#4b55b5 54.5px,#4a55b5 60.5px,#4a56b5 66.5px,#4a56b6 72.5px,#4a56b6 78.5px,#4a57b7 84.5px,#4a57b7 90.5px,#4a57b7 96.5px,#4a57b7 102.5px,#4a57b7 108.5px,#4959b9 114.5px,#4066c3 120.5px,#3f69c5 126.5px,#4a58b8 132.5px,#4b50b0 138.5px,#4c4fae 144.5px,#4c4ead 150.5px,#4c4cac 156.5px,#4c4cab 162.5px,#4c4baa 168.5px,#4c4aaa 174.5px,#4c4aa9 180.5px,#4d49a8 186.5px,#4d49a8 192.5px,#4d48a7 198.5px,#4d48a7 204.5px,#4d47a6 210.5px,#4d47a6 216.5px,#4d47a6 218.5px)"></i><i style="background:linear-gradient(#4c4eae 0.5px,#4c4fae 6.5px,#4c4faf 12.5px,#4b50b0 18.5px,#4b51b0 24.5px,#4b51b1 30.5px,#4b52b1 36.5px,#4b52b2 42.5px,#4b53b3 48.5px,#4b54b3 54.5px,#4b54b4 60.5px,#4b55b4 66.5px,#4b55b5 72.5px,#4a55b5 78.5px,#4a56b5 84.5px,#4a56b6 90.5px,#4a56b6 96.5px,#4a57b6 102.5px,#4a57b7 108.5px,#4a57b7 114.5px,#455fbd 120.5px,#4560be 126.5px,#4b55b5 132.5px,#4b50af 138.5px,#4c4eae 144.5px,#4c4dac 150.5px,#4c4cab 156.5px,#4c4baa 162.5px,#4c4aa9 168.5px,#4d49a9 174.5px,#4d49a8 180.5px,#4d48a7 186.5px,#4d48a7 192.5px,#4d47a6 198.5px,#4d47a6 204.5px,#4d46a5 210.5px,#4c46a5 216.5px,#4c46a5 218.5px)"></i><i style="background:linear-gradient(#4c4dac 0.5px,#4c4dad 6.5px,#4c4ead 12.5px,#4c4eae 18.5px,#4c4faf 24.5px,#4b50af 30.5px,#4b50b0 36.5px,#4b51b1 42.5px,#4b52b1 48.5px,#4b52b2 54.5px,#4b53b3 60.5px,#4b53b3 66.5px,#4b54b3 72.5px,#4b54b4 78.5px,#4b54b4 84.5px,#4b55b5 90.5px,#4a55b5 96.5px,#4a56b5 102.5px,#4a56b6 108.5px,#4a55b5 114.5px,#4a57b7 120.5px,#4a57b7 126.5px,#4b52b1 132.5px,#4c4faf 138.5px,#4c4ead 144.5px,#4c4cac 150.5px,#4c4baa 156.5px,#4d4aa9 162.5px,#4d49a8 168.5px,#4d49a8 174.5px,#4d48a7 180.5px,#4d47a6 186.5px,#4d47a6 192.5px,#4d46a5 198.5px,#4c46a5 204.5px,#4c46a5 210.5px,#4c45a4 216.5px,#4c45a4 218.5px)"></i><i style="background:linear-gradient(#4c4bab 0.5px,#4c4cab 6.5px,#4c4dac 12.5px,#4c4dad 18.5px,#4c4ead 24.5px,#4c4eae 30.5px,#4c4faf 36.5px,#4b50af 42.5px,#4b50b0 48.5px,#4b51b1 54.5px,#4b52b1 60.5px,#4b52b2 66.5px,#4b53b2 72.5px,#4b53b3 78.5px,#4b53b3 84.5px,#4b54b4 90.5px,#4b54b4 96.5px,#4b55b4 102.5px,#4b55b5 108.5px,#4b54b4 114.5px,#4b53b3 120.5px,#4b52b2 126.5px,#4b50b0 132.5px,#4c4fae 138.5px,#4c4dad 144.5px,#4c4cab 150.5px,#4c4baa 156.5px,#4d49a9 162.5px,#4d49a8 168.5px,#4d48a7 174.5px,#4d48a7 180.5px,#4d47a6 186.5px,#4d47a6 192.5px,#4c46a5 198.5px,#4c46a5 204.5px,#4c45a4 210.5px,#4c45a4 216.5px,#4c45a4 218.5px)"></i><i style="background:linear-gradient(#4c4aaa 0.5px,#4c4baa 6.5px,#4c4cab 12.5px,#4c4cac 18.5px,#4c4dac 24.5px,#4c4ead 30.5px,#4c4eae 36.5px,#4c4fae 42.5px,#4b50af 48.5px,#4b50b0 54.5px,#4b51b1 60.5px,#4b51b1 66.5px,#4b52b2 72.5px,#4b52b2 78.5px,#4b53b3 84.5px,#4b53b3 90.5px,#4b54b4 96.5px,#4b54b4 102.5px,#4b55b4 108.5px,#4b54b4 114.5px,#4b53b2 120.5px,#4b51b1 126.5px,#4b50b0 132.5px,#4c4fae 138.5px,#4c4dad 144.5px,#4c4cab 150.5px,#4c4baa 156.5px,#4d4aa9 162.5px,#4d49a8 168.5px,#4d48a7 174.5px,#4d48a7 180.5px,#4d47a6 186.5px,#4d46a5 192.5px,#4c46a5 198.5px,#4c46a5 204.5px,#4c45a4 210.5px,#4c45a4 216.5px,#4c45a4 218.5px)"></i><i style="background:linear-gradient(#4d4aa9 0.5px,#4c4aa9 6.5px,#4c4baa 12.5px,#4c4cab 18.5px,#4c4cac 24.5px,#4c4dac 30.5px,#4c4ead 36.5px,#4c4eae 42.5px,#4c4fae 48.5px,#4c4faf 54.5px,#4b50b0 60.5px,#4b51b0 66.5px,#4b51b1 72.5px,#4b52b1 78.5px,#4b52b2 84.5px,#4b53b3 90.5px,#4b53b3 96.5px,#4b54b4 102.5px,#4b54b4 108.5px,#4b54b3 114.5px,#4b52b2 120.5px,#4b51b1 126.5px,#4b50b0 132.5px,#4c4fae 138.5px,#4c4ead 144.5px,#4c4cac 150.5px,#4c4baa 156.5px,#4d4aa9 162.5px,#4d49a8 168.5px,#4d48a8 174.5px,#4d48a7 180.5px,#4d47a6 186.5px,#4d47a6 192.5px,#4d46a5 198.5px,#4c46a5 204.5px,#4c45a4 210.5px,#4c45a4 216.5px,#4c45a4 218.5px)"></i><i style="background:linear-gradient(#4d49a8 0.5px,#4d49a9 6.5px,#4c4aa9 12.5px,#4c4baa 18.5px,#4c4baa 24.5px,#4c4cab 30.5px,#4c4cac 36.5px,#4c4dac 42.5px,#4c4ead 48.5px,#4c4eae 54.5px,#4c4fae 60.5px,#4b50af 66.5px,#4b50b0 72.5px,#4b51b1 78.5px,#4b52b1 84.5px,#4b52b2 90.5px,#4b53b2 96.5px,#4b53b3 102.5px,#4b54b4 108.5px,#4b53b3 114.5px,#4b52b2 120.5px,#4b51b1 126.5px,#4b50b0 132.5px,#4c4fae 138.5px,#4c4ead 144.5px,#4c4cac 150.5px,#4c4baa 156.5px,#4c4aa9 162.5px,#4d49a8 168.5px,#4d49a8 174.5px,#4d48a7 180.5px,#4d47a6 186.5px,#4d47a6 192.5px,#4d46a5 198.5px,#4c46a5 204.5px,#4c45a4 210.5px,#4c45a4 216.5px,#4c45a4 218.5px)"></i><i style="background:linear-gradient(#4d48a7 0.5px,#4d48a7 6.5px,#4d49a8 12.5px,#4d49a8 18.5px,#4c4aa9 24.5px,#4c4aaa 30.5px,#4c4baa 36.5px,#4c4cab 42.5px,#4c4cab 48.5px,#4c4dac 54.5px,#4c4dad 60.5px,#4c4ead 66.5px,#4c4fae 72.5px,#4b50af 78.5px,#4b50b0 84.5px,#4b51b1 90.5px,#4b52b1 96.5px,#4b52b2 102.5px,#4b53b3 108.5px,#4b53b3 114.5px,#4b52b2 120.5px,#4b51b1 126.5px,#4b50af 132.5px,#4c4fae 138.5px,#4c4ead 144.5px,#4c4cac 150.5px,#4c4baa 156.5px,#4c4aa9 162.5px,#4d49a9 168.5px,#4d49a8 174.5px,#4d48a7 180.5px,#4d47a6 186.5px,#4d47a6 192.5px,#4d46a5 198.5px,#4c46a5 204.5px,#4c45a4 210.5px,#4c45a4 216.5px,#4c45a4 218.5px)"></i><i style="background:linear-gradient(#4d47a6 0.5px,#4d47a6 6.5px,#4d48a7 12.5px,#4d48a7 18.5px,#4d49a8 24.5px,#4d49a8 30.5px,#4d4aa9 36.5px,#4c4aa9 42.5px,#4c4baa 48.5px,#4c4baa 54.5px,#4c4cab 60.5px,#4c4cab 66.5px,#4c4dac 72.5px,#4c4ead 78.5px,#4c4fae 84.5px,#4b50af 90.5px,#4b51b0 96.5px,#4b52b2 102.5px,#4b55b4 108.5px,#4a57b6 114.5px,#4a56b6 120.5px,#4b54b3 126.5px,#4b52b1 132.5px,#4b50af 138.5px,#4c4ead 144.5px,#4c4dac 150.5px,#4c4bab 156.5px,#4c4aaa 162.5px,#4d4aa9 168.5px,#4d49a8 174.5px,#4d48a7 180.5px,#4d47a7 186.5px,#4d47a6 192.5px,#4d46a5 198.5px,#4c46a5 204.5px,#4c45a4 210.5px,#4c45a4 216.5px,#4c45a4 218.5px)"></i><i style="background:linear-gradient(#4c4faf 0.5px,#4c4faf 6.5px,#4c4faf 12.5px,#4c4faf 18.5px,#4c4faf 24.5px,#4c4faf 30.5px,#4c4faf 36.5px,#4b50af 42.5px,#4b50af 48.5px,#4b50af 54.5px,#4c4dad 60.5px,#4c4cab 66.5px,#4c4cab 72.5px,#4c4dac 78.5px,#4c4ead 84.5px,#4c4fae 90.5px,#4b53b3 96.5px,#4a59b8 102.5px,#465ebd 108.5px,#4264c1 114.5px,#4165c2 120.5px,#455fbd 126.5px,#495aba 132.5px,#4a55b5 138.5px,#4b50af 144.5px,#4c4eae 150.5px,#4c4dac 156.5px,#4c4cab 162.5px,#4c4baa 168.5px,#4c4aa9 174.5px,#4d49a8 180.5px,#4d48a7 186.5px,#4d48a7 192.5px,#4d47a6 198.5px,#4d46a5 204.5px,#4c46a5 210.5px,#4c45a4 216.5px,#4c45a4 218.5px)"></i><i style="background:linear-gradient(#3c6cc7 0.5px,#3d6cc7 6.5px,#3d6bc6 12.5px,#3e6bc6 18.5px,#3e6ac6 24.5px,#3e6ac5 30.5px,#3f69c5 36.5px,#3f69c4 42.5px,#3f68c4 48.5px,#4067c3 54.5px,#465ebc 60.5px,#4b54b4 66.5px,#4b51b1 72.5px,#4b52b2 78.5px,#4b52b2 84.5px,#4b54b4 90.5px,#465ebc 96.5px,#3f69c5 102.5px,#3775cc 108.5px,#3082d1 114.5px,#2f84d2 120.5px,#3776cd 126.5px,#3d6bc6 132.5px,#4461be 138.5px,#4a55b5 144.5px,#4b52b2 150.5px,#4b51b1 156.5px,#4b50af 162.5px,#4c4eae 168.5px,#4c4dac 174.5px,#4c4cab 180.5px,#4c4baa 186.5px,#4d49a9 192.5px,#4d48a7 198.5px,#4d47a6 204.5px,#4d46a5 210.5px,#4c46a5 216.5px,#4c45a4 218.5px)"></i><i style="background:linear-gradient(#2497d6 0.5px,#2496d6 6.5px,#2596d6 12.5px,#2695d6 18.5px,#2694d6 24.5px,#2793d6 30.5px,#2792d6 36.5px,#2891d6 42.5px,#2890d6 48.5px,#2a8fd6 54.5px,#3579ce 60.5px,#4263c1 66.5px,#465ebc 72.5px,#465dbc 78.5px,#475dbc 84.5px,#465ebd 90.5px,#3c6dc8 96.5px,#327fd0 102.5px,#2890d6 108.5px,#1ea0d5 114.5px,#1ea1d2 120.5px,#2891d6 126.5px,#327fd0 132.5px,#3d6cc7 138.5px,#485bba 144.5px,#4a57b7 150.5px,#4a56b6 156.5px,#4b54b4 162.5px,#4b52b2 168.5px,#4b51b0 174.5px,#4c4faf 180.5px,#4c4dad 186.5px,#4c4cab 192.5px,#4c4aa9 198.5px,#4d49a8 204.5px,#4d47a6 210.5px,#4d46a5 216.5px,#4c46a5 218.5px)"></i><i style="background:linear-gradient(#1ea0d6 0.5px,#1ea0d6 6.5px,#1ea0d6 12.5px,#1f9fd6 18.5px,#1f9fd6 24.5px,#1f9ed6 30.5px,#1f9ed6 36.5px,#209dd6 42.5px,#209dd6 48.5px,#219bd6 54.5px,#2f85d2 60.5px,#3e6ac6 66.5px,#4264c1 72.5px,#4264c1 78.5px,#4263c1 84.5px,#4165c2 90.5px,#3678cd 96.5px,#2b8cd5 102.5px,#1ea0d6 108.5px,#1da6c2 114.5px,#1da7bf 120.5px,#1ea0d5 126.5px,#2c8bd5 132.5px,#3973cb 138.5px,#465ebc 144.5px,#495ab9 150.5px,#4a58b8 156.5px,#4a56b6 162.5px,#4b54b4 168.5px,#4b53b2 174.5px,#4b51b0 180.5px,#4c4fae 186.5px,#4c4dac 192.5px,#4c4bab 198.5px,#4d4aa9 204.5px,#4d48a7 210.5px,#4d46a5 216.5px,#4d46a5 218.5px)"></i><i style="background:linear-gradient(#337ed0 0.5px,#337ed0 6.5px,#327ed0 12.5px,#327ed0 18.5px,#327ed0 24.5px,#327fd0 30.5px,#327fd0 36.5px,#327fd0 42.5px,#327fd0 48.5px,#327ed0 54.5px,#3972cb 60.5px,#4362bf 66.5px,#455fbd 72.5px,#4461bf 78.5px,#4362c0 84.5px,#4165c2 90.5px,#3678cd 96.5px,#2a8ed6 102.5px,#1ea1d3 108.5px,#1da7be 114.5px,#1da8bc 120.5px,#1ea1d2 126.5px,#2b8dd6 132.5px,#3873cb 138.5px,#465dbc 144.5px,#4959b9 150.5px,#4a58b8 156.5px,#4a56b6 162.5px,#4b54b4 168.5px,#4b52b2 174.5px,#4b50b0 180.5px,#4c4fae 186.5px,#4c4dac 192.5px,#4c4baa 198.5px,#4d49a8 204.5px,#4d47a6 210.5px,#4d46a5 216.5px,#4c46a5 218.5px)"></i><i style="background:linear-gradient(#4b55b4 0.5px,#4b55b5 6.5px,#4a55b5 12.5px,#4a56b6 18.5px,#4a56b6 24.5px,#4a56b6 30.5px,#4a57b7 36.5px,#4a57b7 42.5px,#4a57b7 48.5px,#4a58b8 54.5px,#4a55b5 60.5px,#4b50af 66.5px,#4b52b1 72.5px,#4a56b6 78.5px,#495aba 84.5px,#465fbd 90.5px,#3a70ca 96.5px,#2f85d2 102.5px,#229ad6 108.5px,#1da4c8 114.5px,#1da5c5 120.5px,#219cd6 126.5px,#2e86d3 132.5px,#3b6ec9 138.5px,#495aba 144.5px,#4a56b6 150.5px,#4b55b4 156.5px,#4b53b3 162.5px,#4b51b1 168.5px,#4b50af 174.5px,#4c4ead 180.5px,#4c4cac 186.5px,#4c4baa 192.5px,#4d49a8 198.5px,#4d48a7 204.5px,#4d46a5 210.5px,#4c45a4 216.5px,#4c45a4 218.5px)"></i><i style="background:linear-gradient(#4b44a3 0.5px,#4c45a4 6.5px,#4c46a5 12.5px,#4d47a6 18.5px,#4d48a7 24.5px,#4d48a7 30.5px,#4d48a7 36.5px,#4d48a7 42.5px,#4d47a6 48.5px,#4d47a6 54.5px,#4d48a7 60.5px,#4d48a7 66.5px,#4c4aa9 72.5px,#4c4eae 78.5px,#4b53b3 84.5px,#495ab9 90.5px,#4066c3 96.5px,#3775cc 102.5px,#2e86d3 108.5px,#2596d6 114.5px,#2399d6 120.5px,#2d88d4 126.5px,#3776cc 132.5px,#4264c1 138.5px,#4b54b4 144.5px,#4b50b0 150.5px,#4c4faf 156.5px,#4c4ead 162.5px,#4c4dac 168.5px,#4c4cab 174.5px,#4c4aa9 180.5px,#4d49a8 186.5px,#4d48a7 192.5px,#4d47a6 198.5px,#4c46a5 204.5px,#4c45a4 210.5px,#4c44a3 216.5px,#4b44a3 218.5px)"></i><i style="background:linear-gradient(#4c4baa 0.5px,#4b50b0 6.5px,#4a57b7 12.5px,#485bba 18.5px,#465fbd 24.5px,#455fbd 30.5px,#465ebd 36.5px,#465ebd 42.5px,#495ab9 48.5px,#4b52b1 54.5px,#4b52b1 60.5px,#4b53b2 66.5px,#4b53b3 72.5px,#4a56b6 78.5px,#475cbb 84.5px,#4362c0 90.5px,#3e6ac5 96.5px,#3b6fc9 102.5px,#3776cc 108.5px,#337dcf 114.5px,#337dcf 120.5px,#3a70ca 126.5px,#4165c2 132.5px,#495ab9 138.5px,#4b50af 144.5px,#4c4dac 150.5px,#4c4cab 156.5px,#4c4baa 162.5px,#4c4aa9 168.5px,#4d49a8 174.5px,#4d48a7 180.5px,#4d47a6 186.5px,#4d47a6 192.5px,#4c46a5 198.5px,#4c45a4 204.5px,#4c45a4 210.5px,#4c44a3 216.5px,#4b44a3 218.5px)"></i><i style="background:linear-gradient(#475dbb 0.5px,#4067c3 6.5px,#3873cb 12.5px,#337ecf 18.5px,#2e86d3 24.5px,#2e87d3 30.5px,#2f85d3 36.5px,#2f84d2 42.5px,#3678cd 48.5px,#4067c3 54.5px,#4363c0 60.5px,#4462bf 66.5px,#4560be 72.5px,#4362c0 78.5px,#3f69c5 84.5px,#3a70ca 90.5px,#3776cc 96.5px,#3776cc 102.5px,#3677cd 108.5px,#3874cc 114.5px,#3b6fc9 120.5px,#4067c3 126.5px,#465fbd 132.5px,#4a57b7 138.5px,#4b51b1 144.5px,#4c4eae 150.5px,#4c4ead 156.5px,#4c4dac 162.5px,#4c4cab 168.5px,#4c4baa 174.5px,#4c4aa9 180.5px,#4d49a8 186.5px,#4d48a7 192.5px,#4d47a6 198.5px,#4d47a6 204.5px,#4c46a5 210.5px,#4c45a4 216.5px,#4c45a4 218.5px)"></i><i style="background:linear-gradient(#3f68c4 0.5px,#3677cd 6.5px,#2d89d4 12.5px,#2398d6 18.5px,#1ea1d1 24.5px,#1ea2d1 30.5px,#1ea1d3 36.5px,#1ea1d4 42.5px,#2890d6 48.5px,#3776cc 54.5px,#3b6fc9 60.5px,#3d6bc6 66.5px,#4068c4 72.5px,#3e6ac5 78.5px,#3a70ca 84.5px,#3678cd 90.5px,#337ecf 96.5px,#337ccf 102.5px,#347bce 108.5px,#3775cc 114.5px,#3c6ec8 120.5px,#4066c3 126.5px,#455fbd 132.5px,#4959b9 138.5px,#4b54b4 144.5px,#4b51b1 150.5px,#4b50af 156.5px,#4c4fae 162.5px,#4c4ead 168.5px,#4c4dac 174.5px,#4c4cab 180.5px,#4c4baa 186.5px,#4c4aa9 192.5px,#4d49a8 198.5px,#4d48a7 204.5px,#4d47a6 210.5px,#4d46a5 216.5px,#4d46a5 218.5px)"></i><i style="background:linear-gradient(#3e6ac5 0.5px,#3579cd 6.5px,#2c8ad4 12.5px,#2399d6 18.5px,#1ea2d0 24.5px,#1ea2d0 30.5px,#1ea1d2 36.5px,#1ea1d3 42.5px,#2892d6 48.5px,#3678cd 54.5px,#3a71ca 60.5px,#3c6dc8 66.5px,#3e6ac5 72.5px,#3d6cc7 78.5px,#3a71ca 84.5px,#3677cd 90.5px,#347ccf 96.5px,#357ace 102.5px,#3579ce 108.5px,#3873cb 114.5px,#3c6cc7 120.5px,#4166c2 126.5px,#455fbe 132.5px,#4959b9 138.5px,#4b55b5 144.5px,#4b52b1 150.5px,#4b50b0 156.5px,#4c4faf 162.5px,#4c4eae 168.5px,#4c4dad 174.5px,#4c4cac 180.5px,#4c4bab 186.5px,#4c4aaa 192.5px,#4d49a8 198.5px,#4d48a7 204.5px,#4d47a6 210.5px,#4d47a6 216.5px,#4d46a5 218.5px)"></i><i style="background:linear-gradient(#4264c1 0.5px,#3c6dc8 6.5px,#3678cd 12.5px,#3082d1 18.5px,#2c8bd5 24.5px,#2b8bd5 30.5px,#2c8bd5 36.5px,#2c8ad4 42.5px,#327fd0 48.5px,#3b6fc9 54.5px,#3d6bc6 60.5px,#3f69c5 66.5px,#3f68c4 72.5px,#3f69c5 78.5px,#3d6cc7 84.5px,#3a6fca 90.5px,#3972cb 96.5px,#3971cb 102.5px,#3a71ca 108.5px,#3c6dc8 114.5px,#4068c4 120.5px,#4363c0 126.5px,#465dbc 132.5px,#4a58b8 138.5px,#4b54b3 144.5px,#4b50b0 150.5px,#4c4fae 156.5px,#4c4ead 162.5px,#4c4dac 168.5px,#4c4cab 174.5px,#4c4baa 180.5px,#4c4aa9 186.5px,#4d49a8 192.5px,#4d48a7 198.5px,#4d47a6 204.5px,#4d47a6 210.5px,#4c46a5 216.5px,#4c46a5 218.5px)"></i><i style="background:linear-gradient(#465ebc 0.5px,#4461bf 6.5px,#4165c2 12.5px,#3f69c4 18.5px,#3d6cc7 24.5px,#3c6cc7 30.5px,#3c6cc7 36.5px,#3c6dc8 42.5px,#3e6ac5 48.5px,#4166c2 54.5px,#4165c2 60.5px,#4165c2 66.5px,#4165c2 72.5px,#4166c2 78.5px,#4067c3 84.5px,#3f68c4 90.5px,#3f69c5 96.5px,#3f69c5 102.5px,#3f69c4 108.5px,#4166c2 114.5px,#4362bf 120.5px,#465ebd 126.5px,#495aba 132.5px,#4a56b6 138.5px,#4b51b1 144.5px,#4c4ead 150.5px,#4c4dac 156.5px,#4c4cab 162.5px,#4c4baa 168.5px,#4c4aa9 174.5px,#4d49a8 180.5px,#4d48a7 186.5px,#4d47a6 192.5px,#4d47a6 198.5px,#4d46a5 204.5px,#4c46a5 210.5px,#4c45a4 216.5px,#4c45a4 218.5px)"></i><i style="background:linear-gradient(#455fbe 0.5px,#4560be 6.5px,#4461bf 12.5px,#4362c0 18.5px,#4363c0 24.5px,#4264c1 30.5px,#4264c1 36.5px,#4165c2 42.5px,#4165c2 48.5px,#4263c1 54.5px,#4363c0 60.5px,#4263c0 66.5px,#4264c1 72.5px,#4264c1 78.5px,#4264c1 84.5px,#4264c1 90.5px,#4264c1 96.5px,#4264c1 102.5px,#4363c0 108.5px,#4461be 114.5px,#465dbc 120.5px,#495aba 126.5px,#4a57b7 132.5px,#4b53b3 138.5px,#4c4fae 144.5px,#4c4bab 150.5px,#4c4baa 156.5px,#4d4aa9 162.5px,#4d49a8 168.5px,#4d48a7 174.5px,#4d47a6 180.5px,#4d47a6 186.5px,#4c46a5 192.5px,#4c46a5 198.5px,#4c45a4 204.5px,#4c45a4 210.5px,#4b44a3 216.5px,#4b44a3 218.5px)"></i><i style="background:linear-gradient(#3579ce 0.5px,#3678cd 6.5px,#3677cd 12.5px,#3677cd 18.5px,#3776cc 24.5px,#3776cc 30.5px,#3776cc 36.5px,#3776cd 42.5px,#3776cc 48.5px,#3b6ec9 54.5px,#3f68c4 60.5px,#4067c4 66.5px,#4067c3 72.5px,#4067c3 78.5px,#4166c3 84.5px,#4165c2 90.5px,#4264c1 96.5px,#4363c0 102.5px,#4462bf 108.5px,#455fbd 114.5px,#475cbb 120.5px,#4959b9 126.5px,#4a56b6 132.5px,#4b53b3 138.5px,#4c4faf 144.5px,#4c4cac 150.5px,#4c4baa 156.5px,#4c4aa9 162.5px,#4d49a8 168.5px,#4d48a7 174.5px,#4d47a6 180.5px,#4c46a5 186.5px,#4c45a4 192.5px,#4c45a4 198.5px,#4b44a3 204.5px,#4b43a2 210.5px,#4b43a2 216.5px,#4b43a2 218.5px)"></i><i style="background:linear-gradient(#1caab5 0.5px,#1da8bb 6.5px,#1da6c1 12.5px,#1da5c7 18.5px,#1da3cb 24.5px,#1ea2cf 30.5px,#1ea2d0 36.5px,#1ea2d1 42.5px,#1ea1d2 48.5px,#2891d6 54.5px,#327fd0 60.5px,#337dcf 66.5px,#347bce 72.5px,#3579ce 78.5px,#3677cd 84.5px,#3874cc 90.5px,#3972cb 96.5px,#3a6fca 102.5px,#3c6dc8 108.5px,#3f69c5 114.5px,#4165c2 120.5px,#4461bf 126.5px,#465dbc 132.5px,#495ab9 138.5px,#4a56b6 144.5px,#4b53b2 150.5px,#4b51b0 156.5px,#4c4fae 162.5px,#4c4dac 168.5px,#4c4baa 174.5px,#4d49a8 180.5px,#4d47a6 186.5px,#4c46a5 192.5px,#4c45a4 198.5px,#4b44a3 204.5px,#4b43a2 210.5px,#4a42a1 216.5px,#4a42a1 218.5px)"></i><i style="background:linear-gradient(#b9ba3d 0.5px,#98bb4c 6.5px,#75bb5e 12.5px,#56b778 18.5px,#3db48d 24.5px,#33b198 30.5px,#2fb19b 36.5px,#2eb09c 42.5px,#29afa1 48.5px,#1da8bc 54.5px,#1ea2cf 60.5px,#1ea1d4 66.5px,#1f9ed6 72.5px,#229ad6 78.5px,#2596d6 84.5px,#2792d6 90.5px,#2a8ed6 96.5px,#2c8ad4 102.5px,#2f85d3 108.5px,#337ed0 114.5px,#3776cc 120.5px,#3b6ec8 126.5px,#4067c3 132.5px,#4461bf 138.5px,#485bba 144.5px,#4a56b6 150.5px,#4b54b3 156.5px,#4b51b1 162.5px,#4c4faf 168.5px,#4c4dad 174.5px,#4c4baa 180.5px,#4d49a8 186.5px,#4d47a6 192.5px,#4c46a5 198.5px,#4c45a4 204.5px,#4b44a3 210.5px,#4b43a2 216.5px,#4b43a2 218.5px)"></i><i style="background:linear-gradient(#eecd32 0.5px,#e8bb38 6.5px,#d8b33b 12.5px,#b9ba3d 18.5px,#91bb50 24.5px,#76bb5e 30.5px,#6aba67 36.5px,#63b96d 42.5px,#4db67f 48.5px,#25aea6 54.5px,#1ca9b8 60.5px,#1da8bd 66.5px,#1da6c2 72.5px,#1da4c7 78.5px,#1ea3cd 84.5px,#1ea1d2 90.5px,#1f9ed6 96.5px,#2399d6 102.5px,#2694d6 108.5px,#2c8bd5 114.5px,#3181d1 120.5px,#3677cd 126.5px,#3b6ec8 132.5px,#4165c2 138.5px,#475dbc 144.5px,#4b55b5 150.5px,#4b53b3 156.5px,#4b51b1 162.5px,#4b50af 168.5px,#4c4ead 174.5px,#4c4cac 180.5px,#4c4baa 186.5px,#4d49a8 192.5px,#4d47a6 198.5px,#4d46a5 204.5px,#4c45a4 210.5px,#4c44a3 216.5px,#4b44a3 218.5px)"></i><i style="background:linear-gradient(#edcb33 0.5px,#e7b939 6.5px,#d4b43b 12.5px,#afba42 18.5px,#83bc56 24.5px,#68ba69 30.5px,#54b779 36.5px,#41b48a 42.5px,#2db09d 48.5px,#1da6c1 54.5px,#1ea2d1 60.5px,#1ea1d4 66.5px,#1ea0d6 72.5px,#209dd6 78.5px,#229ad6 84.5px,#2496d6 90.5px,#2793d6 96.5px,#298fd6 102.5px,#2c8bd5 108.5px,#2f84d2 114.5px,#337ccf 120.5px,#3874cc 126.5px,#3d6cc7 132.5px,#4264c1 138.5px,#475cbb 144.5px,#4b54b4 150.5px,#4b51b1 156.5px,#4b50af 162.5px,#4c4ead 168.5px,#4c4dac 174.5px,#4c4baa 180.5px,#4d4aa9 186.5px,#4d48a7 192.5px,#4d47a6 198.5px,#4c46a5 204.5px,#4c45a4 210.5px,#4c44a3 216.5px,#4b44a3 218.5px)"></i><i style="background:linear-gradient(#b4ba40 0.5px,#8fbb50 6.5px,#68ba69 12.5px,#38b392 18.5px,#21adaa 24.5px,#1ca9b7 30.5px,#1da6c3 36.5px,#1ea2ce 42.5px,#2497d6 48.5px,#347ccf 54.5px,#3973cb 60.5px,#3874cc 66.5px,#3677cd 72.5px,#347bce 78.5px,#347ccf 84.5px,#347bce 90.5px,#3579ce 96.5px,#3678cd 102.5px,#3776cd 108.5px,#3775cc 114.5px,#3972cb 120.5px,#3b6fc9 126.5px,#3d6bc6 132.5px,#4166c2 138.5px,#4560be 144.5px,#4a59b8 150.5px,#4b54b3 156.5px,#4b50af 162.5px,#4c4cac 168.5px,#4c4aa9 174.5px,#4d49a8 180.5px,#4d47a6 186.5px,#4d46a5 192.5px,#4c45a4 198.5px,#4c44a3 204.5px,#4b44a3 210.5px,#4b43a2 216.5px,#4b43a2 218.5px)"></i><i style="background:linear-gradient(#26aea5 0.5px,#1dacae 6.5px,#1da9b9 12.5px,#1e9fd6 18.5px,#2e87d3 24.5px,#327ed0 30.5px,#347ccf 36.5px,#3579ce 42.5px,#3a70ca 48.5px,#4166c2 54.5px,#4166c2 60.5px,#3d6bc7 66.5px,#3874cc 72.5px,#3280d0 78.5px,#3181d1 84.5px,#3280d0 90.5px,#337ed0 96.5px,#337dcf 102.5px,#337ecf 108.5px,#2f85d2 114.5px,#2e86d3 120.5px,#2f85d2 126.5px,#3083d1 132.5px,#337dcf 138.5px,#3775cc 144.5px,#3d6bc6 150.5px,#4362c0 156.5px,#485bba 162.5px,#4b54b4 168.5px,#4b50af 174.5px,#4c4dac 180.5px,#4c4aa9 186.5px,#4d48a7 192.5px,#4c46a5 198.5px,#4c45a4 204.5px,#4b43a2 210.5px,#4a42a1 216.5px,#4a42a1 218.5px)"></i><i style="background:linear-gradient(#2792d6 0.5px,#2891d6 6.5px,#298fd6 12.5px,#3280d0 18.5px,#3775cc 24.5px,#3579cd 30.5px,#3181d1 36.5px,#2f85d3 42.5px,#337dcf 48.5px,#3677cd 54.5px,#327fd0 60.5px,#2c8bd5 66.5px,#2498d6 72.5px,#1ea1d2 78.5px,#1ea1d3 84.5px,#1f9fd6 90.5px,#229ad6 96.5px,#2399d6 102.5px,#1ea0d4 108.5px,#1da5c5 114.5px,#1da5c5 120.5px,#1da4c9 126.5px,#1ea2cf 132.5px,#219cd6 138.5px,#2990d6 144.5px,#3083d2 150.5px,#3776cd 156.5px,#3d6bc6 162.5px,#4462bf 168.5px,#475dbc 174.5px,#4959b9 180.5px,#4b55b5 186.5px,#4b51b1 192.5px,#4c4dad 198.5px,#4d4aa9 204.5px,#4d47a6 210.5px,#4c45a4 216.5px,#4c44a3 218.5px)"></i><i style="background:linear-gradient(#4363c0 0.5px,#3e6ac6 6.5px,#3678cd 12.5px,#2b8cd5 18.5px,#1ea2cf 24.5px,#1da8bc 30.5px,#1da8bc 36.5px,#1da6c4 42.5px,#1ea2ce 48.5px,#1ea0d6 54.5px,#1ea2d1 60.5px,#1da5c5 66.5px,#1da9ba 72.5px,#1cacb0 78.5px,#1cabb3 84.5px,#1da9ba 90.5px,#1da6c1 96.5px,#1da7c0 102.5px,#1dacad 108.5px,#2cb09f 114.5px,#26aea5 120.5px,#1dacae 126.5px,#1da9ba 132.5px,#1da4ca 138.5px,#219bd6 144.5px,#298fd6 150.5px,#3083d1 156.5px,#3776cd 162.5px,#3d6bc6 168.5px,#4166c2 174.5px,#4461bf 180.5px,#465dbc 186.5px,#495ab9 192.5px,#4a55b5 198.5px,#4b51b0 204.5px,#4c4dac 210.5px,#4d49a8 216.5px,#4d48a7 218.5px)"></i><i style="background:linear-gradient(#4166c2 0.5px,#357ace 6.5px,#229ad6 12.5px,#24aea6 18.5px,#6aba68 24.5px,#96bb4d 30.5px,#69ba68 36.5px,#34b296 42.5px,#25aea6 48.5px,#1cacb0 54.5px,#1cabb3 60.5px,#20adab 66.5px,#28afa3 72.5px,#2eb09c 78.5px,#2db09e 84.5px,#28afa3 90.5px,#21adaa 96.5px,#25aea6 102.5px,#36b295 108.5px,#36b294 114.5px,#2bafa0 120.5px,#1eacad 126.5px,#1da8bc 132.5px,#1ea2d0 138.5px,#2695d6 144.5px,#2b8bd5 150.5px,#3082d1 156.5px,#3677cd 162.5px,#3c6dc8 168.5px,#4067c4 174.5px,#4264c1 180.5px,#4560be 186.5px,#475cbb 192.5px,#4a58b8 198.5px,#4b54b4 204.5px,#4b50af 210.5px,#4c4bab 216.5px,#4c4aa9 218.5px)"></i><i style="background:linear-gradient(#2f84d2 0.5px,#1ea2d1 6.5px,#27afa4 12.5px,#8dbb51 18.5px,#dbb33b 24.5px,#e7ba39 30.5px,#cbb73b 36.5px,#71bb62 42.5px,#41b489 48.5px,#33b197 54.5px,#28afa3 60.5px,#2bafa0 66.5px,#2db09d 72.5px,#2fb09c 78.5px,#31b19a 84.5px,#32b199 90.5px,#31b199 96.5px,#34b296 102.5px,#35b295 108.5px,#26aea5 114.5px,#1caab5 120.5px,#1da5c4 126.5px,#1ea0d6 132.5px,#2b8dd5 138.5px,#347bcf 144.5px,#3678cd 150.5px,#3875cc 156.5px,#3b6fc9 162.5px,#4068c4 168.5px,#4263c1 174.5px,#4460be 180.5px,#465dbc 186.5px,#485aba 192.5px,#4a57b7 198.5px,#4b53b3 204.5px,#4c4faf 210.5px,#4c4bab 216.5px,#4c4aa9 218.5px)"></i><i style="background:linear-gradient(#1ea0d5 0.5px,#1cabb1 6.5px,#3bb38f 12.5px,#a6bb46 18.5px,#e5b33b 24.5px,#eac236 30.5px,#d9b33b 36.5px,#89bc53 42.5px,#50b67d 48.5px,#37b293 54.5px,#29afa2 60.5px,#28afa3 66.5px,#26aea4 72.5px,#25aea6 78.5px,#29afa2 84.5px,#2eb09c 90.5px,#33b197 96.5px,#32b198 102.5px,#1fadac 108.5px,#1da3cb 114.5px,#2497d6 120.5px,#2e87d3 126.5px,#3677cd 132.5px,#3f68c4 138.5px,#475dbc 144.5px,#465ebd 150.5px,#4560be 156.5px,#455fbe 162.5px,#475dbc 168.5px,#485bba 174.5px,#4959b9 180.5px,#4a57b7 186.5px,#4b54b4 192.5px,#4b51b1 198.5px,#4c4fae 204.5px,#4c4cab 210.5px,#4d49a8 216.5px,#4d48a7 218.5px)"></i><i style="background:linear-gradient(#1da8bd 0.5px,#1cacaf 6.5px,#2db09e 12.5px,#76bb5d 18.5px,#c3b93a 24.5px,#d1b53b 30.5px,#b1ba41 36.5px,#6cba65 42.5px,#3bb38f 48.5px,#28afa2 54.5px,#1cacb0 60.5px,#1caab5 66.5px,#1da9b9 72.5px,#1da7be 78.5px,#1da9b9 84.5px,#1cabb1 90.5px,#22ada9 96.5px,#1cacb0 102.5px,#1ea1d4 108.5px,#347bce 114.5px,#3e6ac6 120.5px,#455fbd 126.5px,#4a56b5 132.5px,#4c4cab 138.5px,#4d46a5 144.5px,#4d48a7 150.5px,#4c4baa 156.5px,#4c4dac 162.5px,#4c4dad 168.5px,#4c4dac 174.5px,#4c4cab 180.5px,#4c4baa 186.5px,#4d4aa9 192.5px,#4d48a7 198.5px,#4d47a6 204.5px,#4c46a5 210.5px,#4c45a4 216.5px,#4c44a3 218.5px)"></i><i style="background:linear-gradient(#1caab7 0.5px,#1caab4 6.5px,#20adaa 12.5px,#3ab390 18.5px,#5ab874 24.5px,#63b96d 30.5px,#54b779 36.5px,#3db48d 42.5px,#27afa4 48.5px,#1da8bb 54.5px,#1da4ca 60.5px,#1ea0d5 66.5px,#229ad6 72.5px,#2694d6 78.5px,#2399d6 84.5px,#1ea0d6 90.5px,#1ea3cd 96.5px,#1f9ed6 102.5px,#347bce 108.5px,#4560be 114.5px,#4a56b6 120.5px,#4c4fae 126.5px,#4d49a8 132.5px,#4c46a5 138.5px,#4b44a3 144.5px,#4c44a3 150.5px,#4c45a4 156.5px,#4c45a4 162.5px,#4c45a4 168.5px,#4c45a4 174.5px,#4c45a4 180.5px,#4c44a3 186.5px,#4b44a3 192.5px,#4b44a3 198.5px,#4b43a2 204.5px,#4a42a1 210.5px,#4a42a1 216.5px,#4a42a1 218.5px)"></i><i style="background:linear-gradient(#1fadac 0.5px,#1dacad 6.5px,#1fadac 12.5px,#21ada9 18.5px,#25aea5 24.5px,#26aea4 30.5px,#27afa4 36.5px,#26aea4 42.5px,#1cacb0 48.5px,#1da6c2 54.5px,#1ea0d6 60.5px,#2990d6 66.5px,#2d88d3 72.5px,#2f85d2 78.5px,#2e87d3 84.5px,#2b8bd5 90.5px,#2990d6 96.5px,#2d88d4 102.5px,#3678cd 108.5px,#3d6cc7 114.5px,#4264c1 120.5px,#465ebd 126.5px,#4a59b8 132.5px,#4b52b2 138.5px,#4c4faf 144.5px,#4c4ead 150.5px,#4c4cac 156.5px,#4c4baa 162.5px,#4c4aa9 168.5px,#4d49a8 174.5px,#4d47a6 180.5px,#4d46a5 186.5px,#4c45a4 192.5px,#4c44a3 198.5px,#4b44a3 204.5px,#4b43a2 210.5px,#4a42a1 216.5px,#4a42a1 218.5px)"></i><i style="background:linear-gradient(#5cb873 0.5px,#48b584 6.5px,#38b392 12.5px,#26aea5 18.5px,#1eacad 24.5px,#1cacb1 30.5px,#1dacae 36.5px,#21adaa 42.5px,#22ada9 48.5px,#1cacaf 54.5px,#1da7be 60.5px,#1da3cc 66.5px,#1ea1d4 72.5px,#1ea0d6 78.5px,#1e9fd6 84.5px,#1f9fd6 90.5px,#1f9ed6 96.5px,#229ad6 102.5px,#2695d6 108.5px,#2c8bd5 114.5px,#327fd0 120.5px,#3873cb 126.5px,#3f69c5 132.5px,#455fbd 138.5px,#485bba 144.5px,#4959b9 150.5px,#4a57b7 156.5px,#4a55b5 162.5px,#4b53b3 168.5px,#4b51b0 174.5px,#4c4fae 180.5px,#4c4dac 186.5px,#4c4aaa 192.5px,#4d48a7 198.5px,#4d47a6 204.5px,#4c45a4 210.5px,#4b44a3 216.5px,#4b44a3 218.5px)"></i><i style="background:linear-gradient(#e7b739 0.5px,#d7b43b 6.5px,#baba3d 12.5px,#71bb61 18.5px,#51b77c 24.5px,#3fb48b 30.5px,#47b585 36.5px,#50b67d 42.5px,#58b776 48.5px,#55b779 54.5px,#3ab391 60.5px,#26aea5 66.5px,#1cabb3 72.5px,#1ca9b7 78.5px,#1da8bc 84.5px,#1da7c0 90.5px,#1da5c5 96.5px,#1da4cb 102.5px,#1ea2d0 108.5px,#2299d6 114.5px,#2c8bd5 120.5px,#337dcf 126.5px,#3b6fc9 132.5px,#4362c0 138.5px,#465ebc 144.5px,#475cbb 150.5px,#495aba 156.5px,#4a58b8 162.5px,#4a56b6 168.5px,#4b54b3 174.5px,#4b51b1 180.5px,#4c4fae 186.5px,#4c4dac 192.5px,#4c4aaa 198.5px,#4d48a7 204.5px,#4d46a5 210.5px,#4c45a4 216.5px,#4c45a4 218.5px)"></i><i style="background:linear-gradient(#f0dc31 0.5px,#eecf32 6.5px,#e7ba39 12.5px,#c2ba3a 18.5px,#98bb4c 24.5px,#80bc57 30.5px,#87bc54 36.5px,#90bb50 42.5px,#90bb50 48.5px,#77bc5d 54.5px,#48b584 60.5px,#28afa3 66.5px,#1caab5 72.5px,#1da8bc 78.5px,#1da6c2 84.5px,#1da4c9 90.5px,#1ea2d0 96.5px,#1ea0d6 102.5px,#2299d6 108.5px,#2a8ed6 114.5px,#3181d1 120.5px,#3874cc 126.5px,#3f68c4 132.5px,#475dbc 138.5px,#4959b9 144.5px,#4a57b7 150.5px,#4a55b5 156.5px,#4b53b3 162.5px,#4b51b1 168.5px,#4b50af 174.5px,#4c4ead 180.5px,#4c4cab 186.5px,#4d4aa9 192.5px,#4d48a7 198.5px,#4d46a5 204.5px,#4c45a4 210.5px,#4b44a3 216.5px,#4b44a3 218.5px)"></i><i style="background:linear-gradient(#efd232 0.5px,#eac236 6.5px,#e0b13c 12.5px,#a7bb45 18.5px,#7cbc59 24.5px,#64b96c 30.5px,#5db872 36.5px,#57b777 42.5px,#48b583 48.5px,#2eb09d 54.5px,#1ca9b8 60.5px,#1ea2cf 66.5px,#2398d6 72.5px,#2892d6 78.5px,#2b8bd5 84.5px,#2f85d3 90.5px,#327fd0 96.5px,#357ace 102.5px,#3874cc 108.5px,#3c6dc8 114.5px,#4166c2 120.5px,#465ebd 126.5px,#4a57b7 132.5px,#4c4fae 138.5px,#4c4cab 144.5px,#4c4baa 150.5px,#4d4aa9 156.5px,#4d48a8 162.5px,#4d47a6 168.5px,#4d46a5 174.5px,#4c46a5 180.5px,#4c45a4 186.5px,#4b44a3 192.5px,#4b44a3 198.5px,#4b43a2 204.5px,#4a42a1 210.5px,#4a41a0 216.5px,#4a41a0 218.5px)"></i><i style="background:linear-gradient(#c3b93a 0.5px,#a3bb47 6.5px,#7abc5a 12.5px,#45b586 18.5px,#31b199 24.5px,#24aea7 30.5px,#1caab5 36.5px,#1da7c0 42.5px,#1ea2ce 48.5px,#2792d6 54.5px,#337ccf 60.5px,#3b6ec9 66.5px,#4067c3 72.5px,#4263c1 78.5px,#4560be 84.5px,#475dbc 90.5px,#495ab9 96.5px,#4a57b7 102.5px,#4b53b3 108.5px,#4b50af 114.5px,#4c4dac 120.5px,#4d4aa9 126.5px,#4d47a6 132.5px,#4c45a4 138.5px,#4b44a3 144.5px,#4b43a2 150.5px,#4b43a2 156.5px,#4a42a1 162.5px,#4a42a1 168.5px,#4a42a1 174.5px,#4a41a0 180.5px,#4a41a0 186.5px,#4941a0 192.5px,#49409f 198.5px,#49409f 204.5px,#49409f 210.5px,#493f9e 216.5px,#493f9e 218.5px)"></i><i style="background:linear-gradient(#26aea5 0.5px,#1eacad 6.5px,#1caab5 12.5px,#1da7bf 18.5px,#1da5c7 24.5px,#1ea3cd 30.5px,#1f9ed6 36.5px,#2694d6 42.5px,#2d88d3 48.5px,#3971ca 54.5px,#485bba 60.5px,#4b51b1 66.5px,#4c4eae 72.5px,#4c4dac 78.5px,#4c4baa 84.5px,#4d4aa9 90.5px,#4d48a7 96.5px,#4d47a6 102.5px,#4d46a5 108.5px,#4c46a5 114.5px,#4d4aa9 120.5px,#4c4baa 126.5px,#4c4baa 132.5px,#4d49a8 138.5px,#4c46a5 144.5px,#4b44a3 150.5px,#4b43a2 156.5px,#4a42a1 162.5px,#4a42a1 168.5px,#4a41a0 174.5px,#4a41a0 180.5px,#49409f 186.5px,#49409f 192.5px,#49409f 198.5px,#493f9e 204.5px,#483f9e 210.5px,#483e9d 216.5px,#483e9d 218.5px)"></i><i style="background:linear-gradient(#3083d1 0.5px,#3181d1 6.5px,#327fd0 12.5px,#337dcf 18.5px,#347bcf 24.5px,#347bce 30.5px,#357ace 36.5px,#3677cd 42.5px,#3972cb 48.5px,#4264c1 54.5px,#4c4faf 60.5px,#4d48a7 66.5px,#4d47a6 72.5px,#4d47a6 78.5px,#4d47a6 84.5px,#4d46a5 90.5px,#4c46a5 96.5px,#4c45a4 102.5px,#4c45a4 108.5px,#4c4cab 114.5px,#4362c0 120.5px,#4166c3 126.5px,#4068c4 132.5px,#4462bf 138.5px,#4a58b8 144.5px,#4c4faf 150.5px,#4c4cab 156.5px,#4d49a8 162.5px,#4d46a5 168.5px,#4c45a4 174.5px,#4b44a3 180.5px,#4a42a1 186.5px,#4a42a1 192.5px,#4a41a0 198.5px,#49409f 204.5px,#49409f 210.5px,#493f9e 216.5px,#493f9e 218.5px)"></i><i style="background:linear-gradient(#3e69c5 0.5px,#3f68c4 6.5px,#4067c3 12.5px,#4166c3 18.5px,#4165c2 24.5px,#4066c3 30.5px,#4066c3 36.5px,#4165c2 42.5px,#4265c1 48.5px,#475cbb 54.5px,#4b50b0 60.5px,#4c4dac 66.5px,#4c4dac 72.5px,#4c4dac 78.5px,#4c4dac 84.5px,#4c4dac 90.5px,#4c4dac 96.5px,#4c4dac 102.5px,#4c4dad 108.5px,#3f69c5 114.5px,#2497d6 120.5px,#2399d6 126.5px,#2596d6 132.5px,#2d88d4 138.5px,#3875cc 144.5px,#4166c2 150.5px,#4460be 156.5px,#475cbb 162.5px,#4a57b7 168.5px,#4b52b2 174.5px,#4c4ead 180.5px,#4d49a9 186.5px,#4d47a6 192.5px,#4c45a4 198.5px,#4b44a3 204.5px,#4b43a2 210.5px,#4a42a1 216.5px,#4a42a1 218.5px)"></i><i style="background:linear-gradient(#2a8ed6 0.5px,#2b8cd5 6.5px,#2c8ad5 12.5px,#2c89d4 18.5px,#2c8bd5 24.5px,#2792d6 30.5px,#2891d6 36.5px,#2b8cd5 42.5px,#2c8ad5 48.5px,#337dcf 54.5px,#3972cb 60.5px,#3971cb 66.5px,#3972cb 72.5px,#3973cb 78.5px,#3873cb 84.5px,#3874cc 90.5px,#3775cc 96.5px,#3776cc 102.5px,#3677cd 108.5px,#1ea2ce 114.5px,#28afa3 120.5px,#1dacae 126.5px,#1da8ba 132.5px,#1ea2cf 138.5px,#298fd6 144.5px,#357ace 150.5px,#3973cb 156.5px,#3c6cc7 162.5px,#4067c3 168.5px,#4461bf 174.5px,#485cbb 180.5px,#4a56b6 186.5px,#4b51b1 192.5px,#4c4ead 198.5px,#4c4baa 204.5px,#4d48a7 210.5px,#4c45a4 216.5px,#4c45a4 218.5px)"></i><i style="background:linear-gradient(#1da3cb 0.5px,#1da3cc 6.5px,#1da3cc 12.5px,#1da6c3 18.5px,#1cabb4 24.5px,#36b294 30.5px,#38b392 36.5px,#2eb09c 42.5px,#2aafa1 48.5px,#1dacae 54.5px,#1caab6 60.5px,#1caab6 66.5px,#1caab5 72.5px,#1caab5 78.5px,#1caab4 84.5px,#1cabb3 90.5px,#1cabb3 96.5px,#1cabb2 102.5px,#1cacb1 108.5px,#43b588 114.5px,#4ab682 120.5px,#2fb09c 126.5px,#1cabb2 132.5px,#1da4c8 138.5px,#2497d6 144.5px,#3082d1 150.5px,#347bce 156.5px,#3874cc 162.5px,#3b6ec9 168.5px,#3f68c4 174.5px,#4362c0 180.5px,#475cbb 186.5px,#4a58b8 192.5px,#4b54b3 198.5px,#4b50af 204.5px,#4c4cab 210.5px,#4d48a7 216.5px,#4d47a6 218.5px)"></i><i style="background:linear-gradient(#1da7be 0.5px,#1da8bc 6.5px,#1ca9b7 12.5px,#32b199 18.5px,#75bb5e 24.5px,#cbb73b 30.5px,#ccb73b 36.5px,#baba3d 42.5px,#a9bb45 48.5px,#93bb4f 54.5px,#88bc54 60.5px,#86bc55 66.5px,#85bc55 72.5px,#83bc56 78.5px,#82bc57 84.5px,#80bc57 90.5px,#7ebc58 96.5px,#7dbc59 102.5px,#7bbc5a 108.5px,#6eba64 114.5px,#33b197 120.5px,#1cabb3 126.5px,#1da4c9 132.5px,#219bd6 138.5px,#2c8bd5 144.5px,#347bce 150.5px,#3775cc 156.5px,#3a70ca 162.5px,#3d6cc7 168.5px,#4067c3 174.5px,#4461bf 180.5px,#475cbb 186.5px,#4a58b8 192.5px,#4b54b3 198.5px,#4b50af 204.5px,#4c4cab 210.5px,#4d48a7 216.5px,#4d47a6 218.5px)"></i><i style="background:linear-gradient(#4db67f 0.5px,#56b778 6.5px,#69ba68 12.5px,#bdba3b 18.5px,#e6b63a 24.5px,#ecc734 30.5px,#e9be37 36.5px,#e2b13c 42.5px,#ccb73b 48.5px,#adbb42 54.5px,#a3bb47 60.5px,#9ebb4a 66.5px,#99bb4c 72.5px,#94bb4e 78.5px,#8fbb50 84.5px,#8abc53 90.5px,#85bc55 96.5px,#80bc57 102.5px,#7abc5a 108.5px,#33b198 114.5px,#1ea2cf 120.5px,#2891d6 126.5px,#3280d0 132.5px,#3776cc 138.5px,#3b6ec9 144.5px,#4067c3 150.5px,#4265c1 156.5px,#4362c0 162.5px,#4560be 168.5px,#475dbc 174.5px,#495ab9 180.5px,#4a55b5 186.5px,#4b51b1 192.5px,#4c4eae 198.5px,#4c4baa 204.5px,#4d48a7 210.5px,#4c46a5 216.5px,#4c45a4 218.5px)"></i><i style="background:linear-gradient(#e0b13c 0.5px,#e5b23b 6.5px,#e7b939 12.5px,#eecd32 18.5px,#efd332 24.5px,#ecc634 30.5px,#dfb13c 36.5px,#b6ba3f 42.5px,#72bb60 48.5px,#3bb38f 54.5px,#33b197 60.5px,#30b19a 66.5px,#2db09e 72.5px,#29afa1 78.5px,#26aea5 84.5px,#23aea8 90.5px,#20adab 96.5px,#1eacad 102.5px,#1cacb0 108.5px,#2398d6 114.5px,#3971cb 120.5px,#4067c3 126.5px,#455fbe 132.5px,#475cbb 138.5px,#495ab9 144.5px,#4a56b5 150.5px,#4b54b4 156.5px,#4b53b3 162.5px,#4b52b1 168.5px,#4b50b0 174.5px,#4c4eae 180.5px,#4c4cab 186.5px,#4d4aa9 192.5px,#4d47a7 198.5px,#4c46a5 204.5px,#4c45a4 210.5px,#4b43a2 216.5px,#4b43a2 218.5px)"></i><i style="background:linear-gradient(#f0da31 0.5px,#f0dc31 6.5px,#f0de31 12.5px,#f0dd31 18.5px,#eecf32 24.5px,#c3b93a 30.5px,#57b777 36.5px,#26aea5 42.5px,#1da6c4 48.5px,#2398d6 54.5px,#2890d6 60.5px,#2b8cd5 66.5px,#2d88d3 72.5px,#3084d2 78.5px,#3181d1 84.5px,#3180d0 90.5px,#3181d1 96.5px,#2f84d2 102.5px,#2e87d3 108.5px,#3a70ca 114.5px,#4165c2 120.5px,#4263c1 126.5px,#4460be 132.5px,#475dbc 138.5px,#4a59b9 144.5px,#4b52b2 150.5px,#4b51b0 156.5px,#4c4faf 162.5px,#4c4ead 168.5px,#4c4cac 174.5px,#4c4baa 180.5px,#4d49a8 186.5px,#4d47a6 192.5px,#4c46a5 198.5px,#4c45a4 204.5px,#4b44a3 210.5px,#4b43a2 216.5px,#4a42a1 218.5px)"></i><i style="background:linear-gradient(#f2e830 0.5px,#f2e830 6.5px,#f2e630 12.5px,#efd731 18.5px,#d5b43b 24.5px,#32b198 30.5px,#1da5c5 36.5px,#209ed6 42.5px,#2891d6 48.5px,#2f84d2 54.5px,#3677cd 60.5px,#3b6ec8 66.5px,#4166c2 72.5px,#465fbd 78.5px,#4560be 84.5px,#4264c1 90.5px,#3d6bc7 96.5px,#3776cc 102.5px,#327fd0 108.5px,#357ace 114.5px,#3775cc 120.5px,#3a70ca 126.5px,#3f69c5 132.5px,#4362bf 138.5px,#495aba 144.5px,#4b52b2 150.5px,#4b50af 156.5px,#4c4eae 162.5px,#4c4dac 168.5px,#4c4baa 174.5px,#4d49a9 180.5px,#4d48a7 186.5px,#4d46a5 192.5px,#4c45a4 198.5px,#4b44a3 204.5px,#4b43a2 210.5px,#4a42a1 216.5px,#4a42a1 218.5px)"></i><i style="background:linear-gradient(#f2e830 0.5px,#f2e830 6.5px,#f1e230 12.5px,#e7b939 18.5px,#60b96f 24.5px,#1ca9b8 30.5px,#1da6c3 36.5px,#1da4c7 42.5px,#1ea3cd 48.5px,#209dd6 54.5px,#2c8ad4 60.5px,#3579ce 66.5px,#3c6dc8 72.5px,#3f68c4 78.5px,#3b6fc9 84.5px,#3678cd 90.5px,#3181d1 96.5px,#2e87d3 102.5px,#2d89d4 108.5px,#3082d1 114.5px,#3678cd 120.5px,#3c6ec8 126.5px,#4265c1 132.5px,#475cbb 138.5px,#4b54b4 144.5px,#4c4dad 150.5px,#4c4cab 156.5px,#4c4aa9 162.5px,#4d49a8 168.5px,#4d47a6 174.5px,#4c46a5 180.5px,#4c45a4 186.5px,#4b44a3 192.5px,#4b43a2 198.5px,#4a42a1 204.5px,#4a41a0 210.5px,#49409f 216.5px,#49409f 218.5px)"></i><i style="background:linear-gradient(#f1e430 0.5px,#f0dd31 6.5px,#eecf32 12.5px,#a9bb45 18.5px,#37b293 24.5px,#22ada9 30.5px,#20adab 36.5px,#1cacb0 42.5px,#1da9b9 48.5px,#1da4ca 54.5px,#2693d6 60.5px,#2e87d3 66.5px,#3181d1 72.5px,#3083d2 78.5px,#2e86d3 84.5px,#2e87d3 90.5px,#2e86d3 96.5px,#3181d1 102.5px,#357ace 108.5px,#3b6fc9 114.5px,#4264c1 120.5px,#485cbb 126.5px,#4b55b4 132.5px,#4c4faf 138.5px,#4c4baa 144.5px,#4d48a7 150.5px,#4d47a6 156.5px,#4c46a5 162.5px,#4c45a4 168.5px,#4c44a3 174.5px,#4b44a3 180.5px,#4b43a2 186.5px,#4a42a1 192.5px,#4a41a0 198.5px,#49409f 204.5px,#49409f 210.5px,#483f9e 216.5px,#483f9e 218.5px)"></i><i style="background:linear-gradient(#ecc834 0.5px,#e6b63a 6.5px,#c7b83a 12.5px,#4fb67e 18.5px,#2eb09d 24.5px,#25aea6 30.5px,#1eacad 36.5px,#1caab6 42.5px,#1da6c2 48.5px,#1ea1d3 54.5px,#2792d6 60.5px,#2792d6 66.5px,#298fd6 72.5px,#2f85d2 78.5px,#337ccf 84.5px,#3874cb 90.5px,#3e6ac6 96.5px,#4462bf 102.5px,#495ab9 108.5px,#4b52b1 114.5px,#4c4cab 120.5px,#4d47a7 126.5px,#4c46a5 132.5px,#4c45a4 138.5px,#4b44a3 144.5px,#4b43a2 150.5px,#4b43a2 156.5px,#4a42a1 162.5px,#4a42a1 168.5px,#4a42a1 174.5px,#4a41a0 180.5px,#4941a0 186.5px,#49409f 192.5px,#49409f 198.5px,#493f9e 204.5px,#483f9e 210.5px,#483e9d 216.5px,#483e9d 218.5px)"></i><i style="background:linear-gradient(#84bc55 0.5px,#5cb873 6.5px,#38b392 12.5px,#1eadac 18.5px,#1caab5 24.5px,#1da8bb 30.5px,#1da6c2 36.5px,#1da4ca 42.5px,#1ea1d3 48.5px,#209cd6 54.5px,#229ad6 60.5px,#2792d6 66.5px,#3180d1 72.5px,#4067c4 78.5px,#485bba 84.5px,#4b52b2 90.5px,#4c4aaa 96.5px,#4c45a4 102.5px,#4b43a2 108.5px,#4a41a0 114.5px,#4941a0 120.5px,#49409f 126.5px,#49409f 132.5px,#49409f 138.5px,#49409f 144.5px,#49409f 150.5px,#493f9e 156.5px,#493f9e 162.5px,#493f9e 168.5px,#493f9e 174.5px,#493f9e 180.5px,#483f9e 186.5px,#483f9e 192.5px,#483e9d 198.5px,#483e9d 204.5px,#483e9d 210.5px,#483e9d 216.5px,#483e9d 218.5px)"></i><i style="background:linear-gradient(#1caab5 0.5px,#1da7bf 6.5px,#1da6c4 12.5px,#1da5c6 18.5px,#1da5c6 24.5px,#1da4c8 30.5px,#1da3cb 36.5px,#1ea2cf 42.5px,#1ea0d5 48.5px,#219cd6 54.5px,#298fd6 60.5px,#3874cc 66.5px,#485cbb 72.5px,#4d48a7 78.5px,#4b43a2 84.5px,#4941a0 90.5px,#493f9e 96.5px,#483f9e 102.5px,#483e9d 108.5px,#483e9d 114.5px,#483f9e 120.5px,#493f9e 126.5px,#493f9e 132.5px,#493f9e 138.5px,#493f9e 144.5px,#483f9e 150.5px,#483f9e 156.5px,#483f9e 162.5px,#483e9d 168.5px,#483e9d 174.5px,#483e9d 180.5px,#483e9d 186.5px,#483e9d 192.5px,#483e9d 198.5px,#483e9d 204.5px,#483e9d 210.5px,#483e9d 216.5px,#483e9d 218.5px)"></i><i style="background:linear-gradient(#1da5c7 0.5px,#1da3cc 6.5px,#1ea2d0 12.5px,#1ea1d3 18.5px,#1ea0d6 24.5px,#219cd6 30.5px,#2497d6 36.5px,#2891d6 42.5px,#2c8ad4 48.5px,#3181d1 54.5px,#4066c3 60.5px,#4c4faf 66.5px,#4b43a2 72.5px,#493f9e 78.5px,#483e9d 84.5px,#483e9d 90.5px,#483e9d 96.5px,#483e9d 102.5px,#483e9d 108.5px,#483f9e 114.5px,#4a41a0 120.5px,#4c44a3 126.5px,#4b44a3 132.5px,#4b43a2 138.5px,#4b43a2 144.5px,#4a42a1 150.5px,#4a41a0 156.5px,#4a41a0 162.5px,#49409f 168.5px,#49409f 174.5px,#49409f 180.5px,#49409f 186.5px,#493f9e 192.5px,#493f9e 198.5px,#493f9e 204.5px,#483f9e 210.5px,#483f9e 216.5px,#483f9e 218.5px)"></i><i style="background:linear-gradient(#2497d6 0.5px,#2990d6 6.5px,#2d88d4 12.5px,#3280d0 18.5px,#3678cd 24.5px,#3a70ca 30.5px,#3f69c5 36.5px,#4363c0 42.5px,#475dbc 48.5px,#4a57b7 54.5px,#4c46a5 60.5px,#49409f 66.5px,#483f9e 72.5px,#483e9d 78.5px,#483e9d 84.5px,#483f9e 90.5px,#483f9e 96.5px,#493f9e 102.5px,#49409f 108.5px,#4b43a2 114.5px,#4c4eae 120.5px,#485bba 126.5px,#4a59b9 132.5px,#4b55b4 138.5px,#4b51b1 144.5px,#4c4eae 150.5px,#4c4bab 156.5px,#4d49a8 162.5px,#4d47a6 168.5px,#4c46a5 174.5px,#4c45a4 180.5px,#4b44a3 186.5px,#4b43a2 192.5px,#4b43a2 198.5px,#4a42a1 204.5px,#4a41a0 210.5px,#4941a0 216.5px,#49409f 218.5px)"></i><i style="background:linear-gradient(#4265c1 0.5px,#455fbd 6.5px,#4959b9 12.5px,#4b54b4 18.5px,#4c4eae 24.5px,#4c4aa9 30.5px,#4d46a5 36.5px,#4c44a3 42.5px,#4b43a2 48.5px,#4a42a1 54.5px,#49409f 60.5px,#493f9e 66.5px,#49409f 72.5px,#4a41a0 78.5px,#4a42a1 84.5px,#4b43a2 90.5px,#4c45a4 96.5px,#4d47a6 102.5px,#4c4aa9 108.5px,#485bba 114.5px,#3a70ca 120.5px,#337ecf 126.5px,#3775cc 132.5px,#3d6cc7 138.5px,#4166c3 144.5px,#4362c0 150.5px,#465ebd 156.5px,#485aba 162.5px,#4a56b6 168.5px,#4b53b3 174.5px,#4b51b0 180.5px,#4c4eae 186.5px,#4c4cab 192.5px,#4d49a9 198.5px,#4d47a6 204.5px,#4c45a4 210.5px,#4b44a3 216.5px,#4b43a2 218.5px)"></i><i style="background:linear-gradient(#4c45a4 0.5px,#4b44a3 6.5px,#4a42a1 12.5px,#4a41a0 18.5px,#4941a0 24.5px,#4941a0 30.5px,#4a41a0 36.5px,#4a42a1 42.5px,#4b43a2 48.5px,#4c45a4 54.5px,#4d47a6 60.5px,#4c4aaa 66.5px,#4c4fae 72.5px,#4b54b4 78.5px,#4959b9 84.5px,#465ebd 90.5px,#4263c0 96.5px,#3f69c5 102.5px,#3b6fc9 108.5px,#2e86d3 114.5px,#219cd6 120.5px,#1f9fd6 126.5px,#2990d6 132.5px,#3280d0 138.5px,#3677cd 144.5px,#3971ca 150.5px,#3d6cc7 156.5px,#4066c3 162.5px,#4461bf 168.5px,#465ebc 174.5px,#485bba 180.5px,#4a58b8 186.5px,#4b55b5 192.5px,#4b51b1 198.5px,#4c4ead 204.5px,#4c4aa9 210.5px,#4d47a6 216.5px,#4c46a5 218.5px)"></i><i style="background:linear-gradient(#4d47a6 0.5px,#4c46a5 6.5px,#4c45a4 12.5px,#4c46a5 18.5px,#4d47a6 24.5px,#4c4baa 30.5px,#4b51b0 36.5px,#4a58b8 42.5px,#455fbd 48.5px,#4067c3 54.5px,#3c6ec8 60.5px,#3775cc 66.5px,#337dcf 72.5px,#2f85d2 78.5px,#2b8dd5 84.5px,#2694d6 90.5px,#219bd6 96.5px,#1ea0d5 102.5px,#1ea2cf 108.5px,#1da7bf 114.5px,#1da8bb 120.5px,#1da5c7 126.5px,#229bd6 132.5px,#2e87d3 138.5px,#337ecf 144.5px,#3677cd 150.5px,#3a71ca 156.5px,#3d6bc6 162.5px,#4165c2 168.5px,#4461bf 174.5px,#465ebd 180.5px,#485bba 186.5px,#4a58b8 192.5px,#4b54b4 198.5px,#4b50b0 204.5px,#4c4cab 210.5px,#4d48a7 216.5px,#4d47a6 218.5px)"></i><i style="background:linear-gradient(#3c6ec8 0.5px,#3f68c4 6.5px,#4166c3 12.5px,#3f68c4 18.5px,#3c6dc8 24.5px,#3677cd 30.5px,#3082d1 36.5px,#298fd6 42.5px,#209cd6 48.5px,#1da3cb 54.5px,#1da6c2 60.5px,#1da8bb 66.5px,#1caab4 72.5px,#1cacaf 78.5px,#21ada9 84.5px,#25aea5 90.5px,#28afa3 96.5px,#2aafa1 102.5px,#2aafa1 108.5px,#25aea5 114.5px,#1caab6 120.5px,#1da3cb 126.5px,#2496d6 132.5px,#3083d2 138.5px,#3579ce 144.5px,#3873cb 150.5px,#3c6dc8 156.5px,#3f68c4 162.5px,#4363c0 168.5px,#455fbd 174.5px,#475cbb 180.5px,#4959b9 186.5px,#4a56b6 192.5px,#4b52b2 198.5px,#4c4eae 204.5px,#4c4baa 210.5px,#4d47a6 216.5px,#4d46a5 218.5px)"></i><i style="background:linear-gradient(#1caab5 0.5px,#1da6c1 6.5px,#1da4c8 12.5px,#1da5c7 18.5px,#1da6c1 24.5px,#1caab5 30.5px,#23aea8 36.5px,#31b19a 42.5px,#3cb48e 48.5px,#4db680 54.5px,#52b77c 60.5px,#53b77b 66.5px,#51b77c 72.5px,#4eb67f 78.5px,#49b583 84.5px,#43b588 90.5px,#3db48d 96.5px,#38b392 102.5px,#33b197 108.5px,#1eacad 114.5px,#1da4c9 120.5px,#2793d6 126.5px,#3182d1 132.5px,#3971cb 138.5px,#3e6ac6 144.5px,#4166c2 150.5px,#4461bf 156.5px,#465dbc 162.5px,#4959b9 168.5px,#4a56b6 174.5px,#4b53b3 180.5px,#4b51b0 186.5px,#4c4ead 192.5px,#4c4bab 198.5px,#4d49a8 204.5px,#4d46a5 210.5px,#4c45a4 216.5px,#4b44a3 218.5px)"></i><i style="background:linear-gradient(#cdb63b 0.5px,#aabb44 6.5px,#88bc54 12.5px,#75bb5f 18.5px,#6dba65 24.5px,#74bb5f 30.5px,#76bb5e 36.5px,#78bc5c 42.5px,#74bb5f 48.5px,#6aba68 54.5px,#5eb871 60.5px,#52b77b 66.5px,#45b587 72.5px,#3ab390 78.5px,#33b197 84.5px,#2cb09f 90.5px,#24aea7 96.5px,#1cacaf 102.5px,#1caab6 108.5px,#1ea1d2 114.5px,#2e86d3 120.5px,#3a70ca 126.5px,#4166c2 132.5px,#475cbb 138.5px,#4a58b8 144.5px,#4b55b4 150.5px,#4b51b1 156.5px,#4c4eae 162.5px,#4c4baa 168.5px,#4d49a8 174.5px,#4d48a7 180.5px,#4d47a6 186.5px,#4c46a5 192.5px,#4c45a4 198.5px,#4b44a3 204.5px,#4b43a2 210.5px,#4a42a1 216.5px,#4a41a0 218.5px)"></i><i style="background:linear-gradient(#efd731 0.5px,#ecc634 6.5px,#e5b23b 12.5px,#cab73b 18.5px,#a9bb44 24.5px,#8fbb51 30.5px,#70bb63 36.5px,#56b778 42.5px,#39b391 48.5px,#24aea6 54.5px,#1cabb1 60.5px,#1da9b9 66.5px,#1da7c1 72.5px,#1da5c7 78.5px,#1ea3cd 84.5px,#1ea1d2 90.5px,#1e9fd6 96.5px,#229bd6 102.5px,#2596d6 108.5px,#3280d0 114.5px,#3e6ac6 120.5px,#465fbd 126.5px,#4a59b8 132.5px,#4b50b0 138.5px,#4c4dac 144.5px,#4c4baa 150.5px,#4d4aa9 156.5px,#4d48a7 162.5px,#4d47a6 168.5px,#4c46a5 174.5px,#4c45a4 180.5px,#4c45a4 186.5px,#4b44a3 192.5px,#4b43a2 198.5px,#4a42a1 204.5px,#4a42a1 210.5px,#4a41a0 216.5px,#4a41a0 218.5px)"></i><i style="background:linear-gradient(#efd731 0.5px,#ecc734 6.5px,#e2b13c 12.5px,#b1ba41 18.5px,#6fba64 24.5px,#3bb38f 30.5px,#20adab 36.5px,#1da8bd 42.5px,#1ea2cf 48.5px,#2596d6 54.5px,#2990d6 60.5px,#2b8cd5 66.5px,#2d89d4 72.5px,#2e87d3 78.5px,#2e87d3 84.5px,#2d88d3 90.5px,#2d88d4 96.5px,#2d88d4 102.5px,#2d88d4 108.5px,#337ccf 114.5px,#3b6fc9 120.5px,#4166c2 126.5px,#465dbc 132.5px,#4b54b3 138.5px,#4c4faf 144.5px,#4c4ead 150.5px,#4c4dac 156.5px,#4c4bab 162.5px,#4c4aa9 168.5px,#4d49a8 174.5px,#4d47a6 180.5px,#4d46a5 186.5px,#4c46a5 192.5px,#4c45a4 198.5px,#4b44a3 204.5px,#4b43a2 210.5px,#4a42a1 216.5px,#4a42a1 218.5px)"></i><i style="background:linear-gradient(#d5b43b 0.5px,#bcba3c 6.5px,#82bc56 12.5px,#3eb48c 18.5px,#1fadac 24.5px,#1da5c6 30.5px,#209ed6 36.5px,#2497d6 42.5px,#2693d6 48.5px,#2890d6 54.5px,#2890d6 60.5px,#2891d6 66.5px,#2890d6 72.5px,#2990d6 78.5px,#2990d6 84.5px,#298fd6 90.5px,#2a8ed6 96.5px,#2b8cd5 102.5px,#2c8ad4 108.5px,#3180d1 114.5px,#3874cc 120.5px,#3f69c5 126.5px,#465ebd 132.5px,#4b53b3 138.5px,#4c4fae 144.5px,#4c4ead 150.5px,#4c4cac 156.5px,#4c4baa 162.5px,#4d4aa9 168.5px,#4d48a8 174.5px,#4d47a6 180.5px,#4d46a5 186.5px,#4c45a4 192.5px,#4c45a4 198.5px,#4b44a3 204.5px,#4b43a2 210.5px,#4a42a1 216.5px,#4a42a1 218.5px)"></i><i style="background:linear-gradient(#3ab390 0.5px,#30b19a 6.5px,#21adaa 12.5px,#1da8ba 18.5px,#1da5c6 24.5px,#1ea2cf 30.5px,#1ea0d6 36.5px,#209dd6 42.5px,#219cd6 48.5px,#229bd6 54.5px,#2398d6 60.5px,#2596d6 66.5px,#2793d6 72.5px,#298fd6 78.5px,#2c8bd5 84.5px,#2e87d3 90.5px,#3082d1 96.5px,#337dcf 102.5px,#3678cd 108.5px,#3b6ec9 114.5px,#4265c1 120.5px,#485bbb 126.5px,#4b52b2 132.5px,#4d49a8 138.5px,#4d46a5 144.5px,#4c46a5 150.5px,#4c45a4 156.5px,#4c45a4 162.5px,#4c44a3 168.5px,#4b44a3 174.5px,#4b43a2 180.5px,#4b43a2 186.5px,#4a42a1 192.5px,#4a42a1 198.5px,#4a41a0 204.5px,#4a41a0 210.5px,#49409f 216.5px,#49409f 218.5px)"></i><i style="background:linear-gradient(#1da7bf 0.5px,#1da5c4 6.5px,#1da3cc 12.5px,#1ea1d3 18.5px,#209ed6 24.5px,#2399d6 30.5px,#2693d6 36.5px,#2a8ed6 42.5px,#2d88d4 48.5px,#3082d1 54.5px,#337ccf 60.5px,#3776cd 66.5px,#3a71ca 72.5px,#3d6cc7 78.5px,#4067c3 84.5px,#4363c0 90.5px,#455fbd 96.5px,#485bba 102.5px,#4a58b7 108.5px,#4b51b1 114.5px,#4c4baa 120.5px,#4c46a5 126.5px,#4b43a2 132.5px,#4a41a0 138.5px,#49409f 144.5px,#49409f 150.5px,#49409f 156.5px,#49409f 162.5px,#49409f 168.5px,#49409f 174.5px,#49409f 180.5px,#493f9e 186.5px,#493f9e 192.5px,#493f9e 198.5px,#493f9e 204.5px,#483f9e 210.5px,#483f9e 216.5px,#483f9e 218.5px)"></i><i style="background:linear-gradient(#2a8ed6 0.5px,#2d88d4 6.5px,#3180d1 12.5px,#3579ce 18.5px,#3972cb 24.5px,#3d6cc7 30.5px,#4166c3 36.5px,#4461bf 42.5px,#475cbb 48.5px,#4a58b8 54.5px,#4b53b3 60.5px,#4b50af 66.5px,#4c4cac 72.5px,#4d49a9 78.5px,#4d47a6 84.5px,#4c45a4 90.5px,#4b44a3 96.5px,#4b43a2 102.5px,#4a42a1 108.5px,#4a41a0 114.5px,#49409f 120.5px,#493f9e 126.5px,#483f9e 132.5px,#483e9d 138.5px,#483e9d 144.5px,#483e9d 150.5px,#483e9d 156.5px,#483e9d 162.5px,#483e9d 168.5px,#483e9d 174.5px,#483e9d 180.5px,#483e9d 186.5px,#483e9d 192.5px,#483e9d 198.5px,#483e9d 204.5px,#483e9d 210.5px,#483e9d 216.5px,#483e9d 218.5px)"></i><i style="background:linear-gradient(#475dbc 0.5px,#4a59b8 6.5px,#4b54b3 12.5px,#4c4fae 18.5px,#4c4baa 24.5px,#4d47a6 30.5px,#4c45a4 36.5px,#4b44a3 42.5px,#4a42a1 48.5px,#4a41a0 54.5px,#49409f 60.5px,#49409f 66.5px,#49409f 72.5px,#493f9e 78.5px,#493f9e 84.5px,#483f9e 90.5px,#483f9e 96.5px,#483e9d 102.5px,#483e9d 108.5px,#483e9d 114.5px,#483e9d 120.5px,#483e9d 126.5px,#483e9d 132.5px,#483e9d 138.5px,#483e9d 144.5px,#483e9d 150.5px,#483e9d 156.5px,#483e9d 162.5px,#483e9d 168.5px,#483e9d 174.5px,#483e9d 180.5px,#483e9d 186.5px,#483e9d 192.5px,#483e9d 198.5px,#483e9d 204.5px,#483e9d 210.5px,#483e9d 216.5px,#483e9d 218.5px)"></i><i style="background:linear-gradient(#4a42a1 0.5px,#4a41a0 6.5px,#49409f 12.5px,#49409f 18.5px,#493f9e 24.5px,#483f9e 30.5px,#483f9e 36.5px,#483e9d 42.5px,#483e9d 48.5px,#483e9d 54.5px,#483e9d 60.5px,#483e9d 66.5px,#483e9d 72.5px,#483e9d 78.5px,#483e9d 84.5px,#483e9d 90.5px,#483e9d 96.5px,#483e9d 102.5px,#483e9d 108.5px,#483e9d 114.5px,#483e9d 120.5px,#483e9d 126.5px,#483e9d 132.5px,#483e9d 138.5px,#483e9d 144.5px,#483e9d 150.5px,#483e9d 156.5px,#483e9d 162.5px,#483e9d 168.5px,#483e9d 174.5px,#483e9d 180.5px,#483e9d 186.5px,#483e9d 192.5px,#483e9d 198.5px,#483e9d 204.5px,#483e9d 210.5px,#483e9d 216.5px,#483e9d 218.5px)"></i><i style="background:linear-gradient(#483e9d 0.5px,#483e9d 6.5px,#483e9d 12.5px,#483e9d 18.5px,#483e9d 24.5px,#483e9d 30.5px,#483e9d 36.5px,#483e9d 42.5px,#483e9d 48.5px,#483e9d 54.5px,#483f9e 60.5px,#483f9e 66.5px,#483f9e 72.5px,#483f9e 78.5px,#483f9e 84.5px,#493f9e 90.5px,#493f9e 96.5px,#493f9e 102.5px,#493f9e 108.5px,#493f9e 114.5px,#493f9e 120.5px,#493f9e 126.5px,#493f9e 132.5px,#493f9e 138.5px,#493f9e 144.5px,#483f9e 150.5px,#483f9e 156.5px,#483f9e 162.5px,#483f9e 168.5px,#483f9e 174.5px,#483e9d 180.5px,#483e9d 186.5px,#483e9d 192.5px,#483e9d 198.5px,#483e9d 204.5px,#483e9d 210.5px,#483e9d 216.5px,#483e9d 218.5px)"></i><i style="background:linear-gradient(#483e9d 0.5px,#483e9d 6.5px,#483e9d 12.5px,#483e9d 18.5px,#483e9d 24.5px,#483e9d 30.5px,#483f9e 36.5px,#493f9e 42.5px,#49409f 48.5px,#4a42a1 54.5px,#4b43a2 60.5px,#4b43a2 66.5px,#4b43a2 72.5px,#4b44a3 78.5px,#4c44a3 84.5px,#4c45a4 90.5px,#4c45a4 96.5px,#4c46a5 102.5px,#4d46a5 108.5px,#4c46a5 114.5px,#4c45a4 120.5px,#4b44a3 126.5px,#4b44a3 132.5px,#4b43a2 138.5px,#4b43a2 144.5px,#4a42a1 150.5px,#4a41a0 156.5px,#4a41a0 162.5px,#4941a0 168.5px,#49409f 174.5px,#49409f 180.5px,#49409f 186.5px,#49409f 192.5px,#49409f 198.5px,#49409f 204.5px,#493f9e 210.5px,#493f9e 216.5px,#493f9e 218.5px)"></i><i style="background:linear-gradient(#493f9e 0.5px,#493f9e 6.5px,#493f9e 12.5px,#49409f 18.5px,#49409f 24.5px,#4a41a0 30.5px,#4b43a2 36.5px,#4d47a6 42.5px,#4c4dad 48.5px,#4a56b6 54.5px,#4959b9 60.5px,#495aba 66.5px,#485bbb 72.5px,#475dbb 78.5px,#465ebc 84.5px,#465fbd 90.5px,#4560be 96.5px,#4461be 102.5px,#4461bf 108.5px,#465fbd 114.5px,#485bba 120.5px,#4a57b7 126.5px,#4b55b5 132.5px,#4b52b2 138.5px,#4c4faf 144.5px,#4c4cab 150.5px,#4d48a7 156.5px,#4c46a5 162.5px,#4c45a4 168.5px,#4c45a4 174.5px,#4b44a3 180.5px,#4b44a3 186.5px,#4b43a2 192.5px,#4b43a2 198.5px,#4a42a1 204.5px,#4a42a1 210.5px,#4a41a0 216.5px,#4a41a0 218.5px)"></i><i style="background:linear-gradient(#4c46a5 0.5px,#4d47a6 6.5px,#4d49a8 12.5px,#4c4cab 18.5px,#4b50b0 24.5px,#4a56b6 30.5px,#475dbc 36.5px,#4068c4 42.5px,#3874cc 48.5px,#3181d1 54.5px,#2f84d2 60.5px,#2f85d3 66.5px,#2e86d3 72.5px,#2e87d3 78.5px,#2d88d3 84.5px,#2d88d4 90.5px,#2d88d4 96.5px,#2d88d3 102.5px,#2e87d3 108.5px,#3180d0 114.5px,#3677cd 120.5px,#3b6fc9 126.5px,#3e6ac6 132.5px,#4165c2 138.5px,#4560be 144.5px,#495aba 150.5px,#4b53b3 156.5px,#4c4ead 162.5px,#4c4cac 168.5px,#4c4baa 174.5px,#4d4aa9 180.5px,#4d48a7 186.5px,#4d47a6 192.5px,#4d46a5 198.5px,#4c45a4 204.5px,#4c44a3 210.5px,#4b43a2 216.5px,#4b43a2 218.5px)"></i><i style="background:linear-gradient(#3f69c4 0.5px,#3d6bc6 6.5px,#3b6fc9 12.5px,#3875cc 18.5px,#337dcf 24.5px,#2e86d3 30.5px,#2891d6 36.5px,#1e9fd6 42.5px,#1da4c9 48.5px,#1da7be 54.5px,#1da8be 60.5px,#1da7bf 66.5px,#1da7c1 72.5px,#1da6c3 78.5px,#1da5c5 84.5px,#1da5c7 90.5px,#1da4ca 96.5px,#1ea3cd 102.5px,#1ea2d0 108.5px,#219bd6 114.5px,#2a8ed6 120.5px,#3083d1 126.5px,#357ace 132.5px,#3972cb 138.5px,#3e69c5 144.5px,#4461bf 150.5px,#4959b9 156.5px,#4b52b2 162.5px,#4b51b0 168.5px,#4c4fae 174.5px,#4c4dad 180.5px,#4c4cab 186.5px,#4c4aa9 192.5px,#4d49a8 198.5px,#4d47a6 204.5px,#4c46a5 210.5px,#4c45a4 216.5px,#4c45a4 218.5px)"></i><i style="background:linear-gradient(#1da6c3 0.5px,#1da7c1 6.5px,#1da7be 12.5px,#1da9ba 18.5px,#1cabb4 24.5px,#1dacae 30.5px,#22ada8 36.5px,#2bb0a0 42.5px,#30b19b 48.5px,#31b199 54.5px,#2db09e 60.5px,#28afa3 66.5px,#23aea8 72.5px,#1dacae 78.5px,#1cabb3 84.5px,#1ca9b7 90.5px,#1da8bc 96.5px,#1da6c1 102.5px,#1da5c7 108.5px,#1ea1d3 114.5px,#2595d6 120.5px,#2d88d4 126.5px,#337ed0 132.5px,#3874cc 138.5px,#3d6bc6 144.5px,#4362bf 150.5px,#4959b9 156.5px,#4b52b2 162.5px,#4b51b0 168.5px,#4c4fae 174.5px,#4c4dad 180.5px,#4c4cab 186.5px,#4c4aa9 192.5px,#4d49a8 198.5px,#4d47a6 204.5px,#4c46a5 210.5px,#4c45a4 216.5px,#4c45a4 218.5px)"></i><i style="background:linear-gradient(#adbb43 0.5px,#9dbb4a 6.5px,#89bc53 12.5px,#72bb60 18.5px,#66b96a 24.5px,#59b875 30.5px,#49b583 36.5px,#42b489 42.5px,#3ab390 48.5px,#33b198 54.5px,#2bb09f 60.5px,#24aea7 66.5px,#1dacae 72.5px,#1caab5 78.5px,#1da8bb 84.5px,#1da6c1 90.5px,#1da5c7 96.5px,#1ea3ce 102.5px,#1ea1d4 108.5px,#2497d6 114.5px,#2c8bd5 120.5px,#327fd0 126.5px,#3776cc 132.5px,#3c6dc7 138.5px,#4264c1 144.5px,#475cbb 150.5px,#4b54b4 156.5px,#4c4ead 162.5px,#4c4cac 168.5px,#4c4baa 174.5px,#4d4aa9 180.5px,#4d48a8 186.5px,#4d47a6 192.5px,#4d46a5 198.5px,#4c45a4 204.5px,#4c44a3 210.5px,#4b43a2 216.5px,#4b43a2 218.5px)"></i><i style="background:linear-gradient(#eed032 0.5px,#e9bf37 6.5px,#dab33b 12.5px,#b0ba41 18.5px,#83bc56 24.5px,#5cb873 30.5px,#3ab390 36.5px,#2eb09c 42.5px,#22ada9 48.5px,#1caab5 54.5px,#1da8bd 60.5px,#1da5c5 66.5px,#1ea3ce 72.5px,#1ea0d6 78.5px,#2299d6 84.5px,#2693d6 90.5px,#2a8dd6 96.5px,#2d88d4 102.5px,#3082d1 108.5px,#347bce 114.5px,#3973cb 120.5px,#3d6bc6 126.5px,#4265c1 132.5px,#465ebd 138.5px,#4959b9 144.5px,#4b52b2 150.5px,#4c4cab 156.5px,#4d48a7 162.5px,#4d47a6 168.5px,#4d46a5 174.5px,#4c45a4 180.5px,#4c45a4 186.5px,#4b44a3 192.5px,#4b43a2 198.5px,#4b43a2 204.5px,#4a42a1 210.5px,#4a41a0 216.5px,#4a41a0 218.5px)"></i><i style="background:linear-gradient(#f0da31 0.5px,#ebc435 6.5px,#d5b43b 12.5px,#8dbb51 18.5px,#50b67d 24.5px,#2cb09e 30.5px,#1caab5 36.5px,#1da6c1 42.5px,#1da3cb 48.5px,#1ea1d4 54.5px,#2399d6 60.5px,#2a8ed6 66.5px,#3082d1 72.5px,#3677cd 78.5px,#3a71ca 84.5px,#3c6dc8 90.5px,#3e69c5 96.5px,#4166c3 102.5px,#4363c0 108.5px,#4560be 114.5px,#475cbb 120.5px,#4959b9 126.5px,#4a55b5 132.5px,#4b52b1 138.5px,#4c4eae 144.5px,#4c4baa 150.5px,#4d48a7 156.5px,#4d47a6 162.5px,#4c46a5 168.5px,#4c45a4 174.5px,#4b44a3 180.5px,#4b43a2 186.5px,#4a42a1 192.5px,#4a42a1 198.5px,#4a41a0 204.5px,#49409f 210.5px,#493f9e 216.5px,#493f9e 218.5px)"></i><i style="background:linear-gradient(#e9bf37 0.5px,#ceb63b 6.5px,#7fbc58 12.5px,#35b295 18.5px,#1cabb2 24.5px,#1da6c4 30.5px,#1ea2d0 36.5px,#1e9fd6 42.5px,#2299d6 48.5px,#2694d6 54.5px,#2e86d3 60.5px,#3677cd 66.5px,#3e6ac5 72.5px,#465ebc 78.5px,#495ab9 84.5px,#4a58b8 90.5px,#4a56b6 96.5px,#4b54b4 102.5px,#4b52b2 108.5px,#4b50b0 114.5px,#4c4fae 120.5px,#4c4dac 126.5px,#4c4bab 132.5px,#4d4aa9 138.5px,#4d48a7 144.5px,#4d47a6 150.5px,#4d46a5 156.5px,#4c45a4 162.5px,#4c45a4 168.5px,#4b44a3 174.5px,#4b43a2 180.5px,#4a42a1 186.5px,#4a41a0 192.5px,#4941a0 198.5px,#49409f 204.5px,#493f9e 210.5px,#483e9d 216.5px,#483e9d 218.5px)"></i><i style="background:linear-gradient(#73bb60 0.5px,#3ab390 6.5px,#1cabb1 12.5px,#1da4ca 18.5px,#209ed6 24.5px,#2694d6 30.5px,#2b8dd6 36.5px,#2e87d3 42.5px,#3180d0 48.5px,#3579ce 54.5px,#3d6cc7 60.5px,#4560be 66.5px,#4a56b5 72.5px,#4c4baa 78.5px,#4d48a7 84.5px,#4d47a6 90.5px,#4d46a5 96.5px,#4c46a5 102.5px,#4c46a5 108.5px,#4c45a4 114.5px,#4c45a4 120.5px,#4b44a3 126.5px,#4b44a3 132.5px,#4b43a2 138.5px,#4b43a2 144.5px,#4b43a2 150.5px,#4a42a1 156.5px,#4a42a1 162.5px,#4a41a0 168.5px,#4a41a0 174.5px,#4941a0 180.5px,#49409f 186.5px,#49409f 192.5px,#493f9e 198.5px,#493f9e 204.5px,#483f9e 210.5px,#483e9d 216.5px,#483e9d 218.5px)"></i><i style="background:linear-gradient(#1ea2ce 0.5px,#2498d6 6.5px,#2d88d4 12.5px,#347bce 18.5px,#3972cb 24.5px,#3e6bc6 30.5px,#4264c1 36.5px,#465ebd 42.5px,#4959b9 48.5px,#4b54b3 54.5px,#4c4cac 60.5px,#4d46a5 66.5px,#4b43a2 72.5px,#4a41a0 78.5px,#49409f 84.5px,#49409f 90.5px,#49409f 96.5px,#49409f 102.5px,#49409f 108.5px,#49409f 114.5px,#49409f 120.5px,#49409f 126.5px,#493f9e 132.5px,#493f9e 138.5px,#493f9e 144.5px,#493f9e 150.5px,#493f9e 156.5px,#493f9e 162.5px,#483f9e 168.5px,#483f9e 174.5px,#483f9e 180.5px,#483f9e 186.5px,#483e9d 192.5px,#483e9d 198.5px,#483e9d 204.5px,#483e9d 210.5px,#483e9d 216.5px,#483e9d 218.5px)"></i><i style="background:linear-gradient(#4165c2 0.5px,#465ebc 6.5px,#4a57b7 12.5px,#4b51b1 18.5px,#4c4cab 24.5px,#4d48a7 30.5px,#4c45a4 36.5px,#4b43a2 42.5px,#4a42a1 48.5px,#4a41a0 54.5px,#49409f 60.5px,#493f9e 66.5px,#483f9e 72.5px,#483e9d 78.5px,#483e9d 84.5px,#483e9d 90.5px,#483e9d 96.5px,#483e9d 102.5px,#483e9d 108.5px,#483e9d 114.5px,#483e9d 120.5px,#483e9d 126.5px,#483e9d 132.5px,#483e9d 138.5px,#483e9d 144.5px,#483e9d 150.5px,#483e9d 156.5px,#483e9d 162.5px,#483e9d 168.5px,#483e9d 174.5px,#483e9d 180.5px,#483e9d 186.5px,#483e9d 192.5px,#483e9d 198.5px,#483e9d 204.5px,#483e9d 210.5px,#483e9d 216.5px,#483e9d 218.5px)"></i><i style="background:linear-gradient(#4b44a3 0.5px,#4a42a1 6.5px,#4a41a0 12.5px,#49409f 18.5px,#493f9e 24.5px,#493f9e 30.5px,#483f9e 36.5px,#483e9d 42.5px,#483e9d 48.5px,#483e9d 54.5px,#483e9d 60.5px,#483e9d 66.5px,#483e9d 72.5px,#483e9d 78.5px,#483e9d 84.5px,#483e9d 90.5px,#483e9d 96.5px,#483e9d 102.5px,#483e9d 108.5px,#483e9d 114.5px,#483e9d 120.5px,#483e9d 126.5px,#483e9d 132.5px,#483e9d 138.5px,#483e9d 144.5px,#483e9d 150.5px,#483e9d 156.5px,#483e9d 162.5px,#483e9d 168.5px,#483e9d 174.5px,#483e9d 180.5px,#483e9d 186.5px,#483e9d 192.5px,#483e9d 198.5px,#483e9d 204.5px,#483e9d 210.5px,#483e9d 216.5px,#483e9d 218.5px)"></i><i style="background:linear-gradient(#483f9e 0.5px,#483e9d 6.5px,#483e9d 12.5px,#483e9d 18.5px,#483e9d 24.5px,#483e9d 30.5px,#483e9d 36.5px,#483e9d 42.5px,#483e9d 48.5px,#483e9d 54.5px,#483e9d 60.5px,#483e9d 66.5px,#483e9d 72.5px,#483e9d 78.5px,#483e9d 84.5px,#483e9d 90.5px,#483e9d 96.5px,#483e9d 102.5px,#483e9d 108.5px,#483e9d 114.5px,#483e9d 120.5px,#483e9d 126.5px,#483e9d 132.5px,#483e9d 138.5px,#483e9d 144.5px,#483e9d 150.5px,#483e9d 156.5px,#483e9d 162.5px,#483e9d 168.5px,#483e9d 174.5px,#483e9d 180.5px,#483e9d 186.5px,#483e9d 192.5px,#483e9d 198.5px,#483e9d 204.5px,#483e9d 210.5px,#483e9d 216.5px,#483e9d 218.5px)"></i><i style="background:linear-gradient(#483e9d 0.5px,#483e9d 6.5px,#483e9d 12.5px,#483e9d 18.5px,#483f9e 24.5px,#483f9e 30.5px,#483f9e 36.5px,#483f9e 42.5px,#483e9d 48.5px,#483e9d 54.5px,#483e9d 60.5px,#483e9d 66.5px,#483e9d 72.5px,#483e9d 78.5px,#483e9d 84.5px,#483e9d 90.5px,#483e9d 96.5px,#483e9d 102.5px,#483e9d 108.5px,#483f9e 114.5px,#483f9e 120.5px,#493f9e 126.5px,#49409f 132.5px,#49409f 138.5px,#49409f 144.5px,#49409f 150.5px,#49409f 156.5px,#493f9e 162.5px,#493f9e 168.5px,#493f9e 174.5px,#493f9e 180.5px,#483f9e 186.5px,#483f9e 192.5px,#483f9e 198.5px,#483e9d 204.5px,#483e9d 210.5px,#483e9d 216.5px,#483e9d 218.5px)"></i><i style="background:linear-gradient(#483e9d 0.5px,#483f9e 6.5px,#49409f 12.5px,#4941a0 18.5px,#4a41a0 24.5px,#4a42a1 30.5px,#4b43a2 36.5px,#4a42a1 42.5px,#4a41a0 48.5px,#4941a0 54.5px,#49409f 60.5px,#49409f 66.5px,#49409f 72.5px,#49409f 78.5px,#49409f 84.5px,#49409f 90.5px,#49409f 96.5px,#49409f 102.5px,#4941a0 108.5px,#4a41a0 114.5px,#4a42a1 120.5px,#4b43a2 126.5px,#4b44a3 132.5px,#4b44a3 138.5px,#4b44a3 144.5px,#4b43a2 150.5px,#4b43a2 156.5px,#4b43a2 162.5px,#4a42a1 168.5px,#4a42a1 174.5px,#4a41a0 180.5px,#4a41a0 186.5px,#49409f 192.5px,#49409f 198.5px,#49409f 204.5px,#493f9e 210.5px,#493f9e 216.5px,#483f9e 218.5px)"></i><i style="background:linear-gradient(#4a41a0 0.5px,#4b43a2 6.5px,#4c46a5 12.5px,#4c4baa 18.5px,#4c4ead 24.5px,#4b50b0 30.5px,#4b52b1 36.5px,#4b50af 42.5px,#4c4ead 48.5px,#4c4cab 54.5px,#4c4baa 60.5px,#4d4aa9 66.5px,#4d48a7 72.5px,#4d47a6 78.5px,#4d47a6 84.5px,#4d47a7 90.5px,#4d48a7 96.5px,#4d48a7 102.5px,#4d48a7 108.5px,#4d49a8 114.5px,#4c4baa 120.5px,#4c4dac 126.5px,#4c4dac 132.5px,#4c4dac 138.5px,#4c4cab 144.5px,#4c4aa9 150.5px,#4d49a8 156.5px,#4d48a7 162.5px,#4d47a6 168.5px,#4c46a5 174.5px,#4c45a4 180.5px,#4b44a3 186.5px,#4b43a2 192.5px,#4a42a1 198.5px,#4a42a1 204.5px,#4a41a0 210.5px,#49409f 216.5px,#49409f 218.5px)"></i><i style="background:linear-gradient(#4b51b1 0.5px,#4959b9 6.5px,#4460be 12.5px,#4067c3 18.5px,#3e6bc6 24.5px,#3c6dc8 30.5px,#3b6ec9 36.5px,#3c6dc8 42.5px,#3d6bc6 48.5px,#3e6ac5 54.5px,#4067c3 60.5px,#4264c1 66.5px,#4462bf 72.5px,#455fbd 78.5px,#465ebc 84.5px,#465dbc 90.5px,#475cbb 96.5px,#485bbb 102.5px,#495aba 108.5px,#485bba 114.5px,#485bbb 120.5px,#485bba 126.5px,#495ab9 132.5px,#4a57b7 138.5px,#4b55b5 144.5px,#4b53b3 150.5px,#4b51b1 156.5px,#4c4fae 162.5px,#4c4dac 168.5px,#4c4baa 174.5px,#4d49a8 180.5px,#4d47a6 186.5px,#4c46a5 192.5px,#4c45a4 198.5px,#4b44a3 204.5px,#4b43a2 210.5px,#4a42a1 216.5px,#4a41a0 218.5px)"></i><i style="background:linear-gradient(#347bce 0.5px,#2f85d2 6.5px,#2a8ed6 12.5px,#2694d6 18.5px,#2596d6 24.5px,#2497d6 30.5px,#2497d6 36.5px,#2595d6 42.5px,#2693d6 48.5px,#2891d6 54.5px,#2b8cd5 60.5px,#2e86d3 66.5px,#3181d1 72.5px,#347bce 78.5px,#3677cd 84.5px,#3875cc 90.5px,#3971cb 96.5px,#3b6ec9 102.5px,#3d6bc7 108.5px,#3e6ac5 114.5px,#4068c4 120.5px,#4165c2 126.5px,#4461bf 132.5px,#475dbb 138.5px,#495aba 144.5px,#4a58b8 150.5px,#4a56b6 156.5px,#4b53b3 162.5px,#4b51b1 168.5px,#4c4fae 174.5px,#4c4cac 180.5px,#4c4aa9 186.5px,#4d48a7 192.5px,#4d47a6 198.5px,#4c45a4 204.5px,#4b44a3 210.5px,#4b43a2 216.5px,#4a42a1 218.5px)"></i><i style="background:linear-gradient(#1caab4 0.5px,#1cacaf 6.5px,#1eacad 12.5px,#1cacb0 18.5px,#1cabb3 24.5px,#1caab6 30.5px,#1da9ba 36.5px,#1da8bd 42.5px,#1da7c1 48.5px,#1da5c5 54.5px,#1ea3cd 60.5px,#1ea0d5 66.5px,#2399d6 72.5px,#2891d6 78.5px,#2b8cd5 84.5px,#2e87d3 90.5px,#3082d1 96.5px,#337dcf 102.5px,#3678cd 108.5px,#3873cb 114.5px,#3b6ec9 120.5px,#3f69c5 126.5px,#4264c1 132.5px,#465ebd 138.5px,#485bba 144.5px,#4959b9 150.5px,#4a57b7 156.5px,#4b55b4 162.5px,#4b52b2 168.5px,#4b50af 174.5px,#4c4dad 180.5px,#4c4baa 186.5px,#4d49a8 192.5px,#4d47a6 198.5px,#4c46a5 204.5px,#4c44a3 210.5px,#4b43a2 216.5px,#4b43a2 218.5px)"></i><i style="background:linear-gradient(#8cbb52 0.5px,#7bbc59 6.5px,#64b96c 12.5px,#48b584 18.5px,#39b391 24.5px,#30b19a 30.5px,#27afa3 36.5px,#21adaa 42.5px,#1cabb2 48.5px,#1da9b9 54.5px,#1da6c2 60.5px,#1da3cb 66.5px,#1ea1d4 72.5px,#2399d6 78.5px,#2793d6 84.5px,#2a8dd6 90.5px,#2d87d3 96.5px,#3182d1 102.5px,#347ccf 108.5px,#3776cc 114.5px,#3b6fc9 120.5px,#3f69c5 126.5px,#4363c0 132.5px,#475dbc 138.5px,#495aba 144.5px,#4a58b8 150.5px,#4a56b6 156.5px,#4b53b3 162.5px,#4b51b1 168.5px,#4c4fae 174.5px,#4c4cac 180.5px,#4c4aa9 186.5px,#4d48a7 192.5px,#4d47a6 198.5px,#4c45a4 204.5px,#4b44a3 210.5px,#4b43a2 216.5px,#4a42a1 218.5px)"></i><i style="background:linear-gradient(#d8b33b 0.5px,#c0ba3a 6.5px,#93bb4f 12.5px,#66b96b 18.5px,#4ab682 24.5px,#39b392 30.5px,#2db09d 36.5px,#23aea8 42.5px,#1cabb3 48.5px,#1da7c0 54.5px,#1da4c9 60.5px,#1ea1d2 66.5px,#219cd6 72.5px,#2694d6 78.5px,#2a8ed6 84.5px,#2d89d4 90.5px,#2f84d2 96.5px,#327fd0 102.5px,#3579ce 108.5px,#3972cb 114.5px,#3d6bc6 120.5px,#4265c2 126.5px,#465ebd 132.5px,#4a58b8 138.5px,#4b55b5 144.5px,#4b53b3 150.5px,#4b51b1 156.5px,#4c4fae 162.5px,#4c4dac 168.5px,#4c4baa 174.5px,#4d49a8 180.5px,#4d47a6 186.5px,#4c46a5 192.5px,#4c45a4 198.5px,#4b44a3 204.5px,#4b43a2 210.5px,#4a42a1 216.5px,#4a41a0 218.5px)"></i><i style="background:linear-gradient(#dcb23c 0.5px,#c1ba3a 6.5px,#8ebb51 12.5px,#60b970 18.5px,#42b489 24.5px,#33b198 30.5px,#25aea6 36.5px,#1caab5 42.5px,#1da5c7 48.5px,#219bd6 54.5px,#2793d6 60.5px,#2b8dd6 66.5px,#2e87d3 72.5px,#3180d1 78.5px,#337dcf 84.5px,#3579ce 90.5px,#3776cc 96.5px,#3972cb 102.5px,#3b6ec9 108.5px,#3f68c4 114.5px,#4461bf 120.5px,#485bba 126.5px,#4b55b4 132.5px,#4c4ead 138.5px,#4c4cab 144.5px,#4c4aa9 150.5px,#4d49a8 156.5px,#4d48a7 162.5px,#4d47a6 168.5px,#4c46a5 174.5px,#4c45a4 180.5px,#4b44a3 186.5px,#4b43a2 192.5px,#4a42a1 198.5px,#4a42a1 204.5px,#4a41a0 210.5px,#49409f 216.5px,#49409f 218.5px)"></i><i style="background:linear-gradient(#a3bb47 0.5px,#7cbc59 6.5px,#57b777 12.5px,#38b392 18.5px,#28afa2 24.5px,#1cacb0 30.5px,#1da7be 36.5px,#1ea0d4 42.5px,#2c8bd5 48.5px,#3874cb 54.5px,#3c6ec8 60.5px,#3e6ac6 66.5px,#4067c3 72.5px,#4264c1 78.5px,#4363c0 84.5px,#4362bf 90.5px,#4461be 96.5px,#455fbd 102.5px,#465ebc 108.5px,#4959b9 114.5px,#4b52b2 120.5px,#4c4cac 126.5px,#4d48a7 132.5px,#4c45a4 138.5px,#4b44a3 144.5px,#4b43a2 150.5px,#4b43a2 156.5px,#4b43a2 162.5px,#4a42a1 168.5px,#4a42a1 174.5px,#4a41a0 180.5px,#4a41a0 186.5px,#49409f 192.5px,#49409f 198.5px,#49409f 204.5px,#493f9e 210.5px,#493f9e 216.5px,#483f9e 218.5px)"></i><i style="background:linear-gradient(#25aea6 0.5px,#1dacae 6.5px,#1ca9b7 12.5px,#1da6c1 18.5px,#1ea3cc 24.5px,#1f9fd6 30.5px,#2891d6 36.5px,#3579ce 42.5px,#4264c1 48.5px,#4b53b3 54.5px,#4b50af 60.5px,#4c4eae 66.5px,#4c4dac 72.5px,#4c4baa 78.5px,#4c4baa 84.5px,#4c4baa 90.5px,#4c4baa 96.5px,#4c4baa 102.5px,#4c4baa 108.5px,#4d47a6 114.5px,#4c45a4 120.5px,#4b43a2 126.5px,#4a41a0 132.5px,#49409f 138.5px,#49409f 144.5px,#49409f 150.5px,#49409f 156.5px,#493f9e 162.5px,#493f9e 168.5px,#493f9e 174.5px,#493f9e 180.5px,#483f9e 186.5px,#483f9e 192.5px,#483f9e 198.5px,#483e9d 204.5px,#483e9d 210.5px,#483e9d 216.5px,#483e9d 218.5px)"></i><i style="background:linear-gradient(#2f85d3 0.5px,#2f85d3 6.5px,#2f84d2 12.5px,#3082d1 18.5px,#347bcf 24.5px,#3874cc 30.5px,#3e6ac5 36.5px,#4959b9 42.5px,#4d49a8 48.5px,#4a42a1 54.5px,#4a41a0 60.5px,#4a41a0 66.5px,#4a41a0 72.5px,#4a41a0 78.5px,#4a41a0 84.5px,#4a41a0 90.5px,#4a41a0 96.5px,#4a41a0 102.5px,#4a41a0 108.5px,#4941a0 114.5px,#49409f 120.5px,#493f9e 126.5px,#483f9e 132.5px,#483e9d 138.5px,#483e9d 144.5px,#483e9d 150.5px,#483e9d 156.5px,#483e9d 162.5px,#483e9d 168.5px,#483e9d 174.5px,#483e9d 180.5px,#483e9d 186.5px,#483e9d 192.5px,#483e9d 198.5px,#483e9d 204.5px,#483e9d 210.5px,#483e9d 216.5px,#483e9d 218.5px)"></i><i style="background:linear-gradient(#4a57b7 0.5px,#4959b9 6.5px,#485bba 12.5px,#475cbb 18.5px,#4959b9 24.5px,#4a55b5 30.5px,#4c4eae 36.5px,#4c44a3 42.5px,#49409f 48.5px,#483f9e 54.5px,#483e9d 60.5px,#483e9d 66.5px,#483e9d 72.5px,#483e9d 78.5px,#483e9d 84.5px,#483e9d 90.5px,#483f9e 96.5px,#483f9e 102.5px,#483f9e 108.5px,#483e9d 114.5px,#483e9d 120.5px,#483e9d 126.5px,#483e9d 132.5px,#483e9d 138.5px,#483e9d 144.5px,#483e9d 150.5px,#483e9d 156.5px,#483e9d 162.5px,#483e9d 168.5px,#483e9d 174.5px,#483e9d 180.5px,#483e9d 186.5px,#483e9d 192.5px,#483e9d 198.5px,#483e9d 204.5px,#483e9d 210.5px,#483e9d 216.5px,#483e9d 218.5px)"></i><i style="background:linear-gradient(#4a42a1 0.5px,#4b43a2 6.5px,#4b44a3 12.5px,#4c45a4 18.5px,#4c44a3 24.5px,#4b43a2 30.5px,#4a42a1 36.5px,#493f9e 42.5px,#483e9d 48.5px,#483e9d 54.5px,#483e9d 60.5px,#483e9d 66.5px,#483e9d 72.5px,#483e9d 78.5px,#483e9d 84.5px,#483e9d 90.5px,#483e9d 96.5px,#483e9d 102.5px,#483e9d 108.5px,#483e9d 114.5px,#483e9d 120.5px,#483e9d 126.5px,#483e9d 132.5px,#483e9d 138.5px,#483e9d 144.5px,#483e9d 150.5px,#483e9d 156.5px,#483e9d 162.5px,#483e9d 168.5px,#483e9d 174.5px,#483e9d 180.5px,#483e9d 186.5px,#483e9d 192.5px,#483e9d 198.5px,#483e9d 204.5px,#483e9d 210.5px,#483e9d 216.5px,#483e9d 218.5px)"></i><i style="background:linear-gradient(#483f9e 0.5px,#483f9e 6.5px,#493f9e 12.5px,#493f9e 18.5px,#493f9e 24.5px,#493f9e 30.5px,#483f9e 36.5px,#483e9d 42.5px,#483e9d 48.5px,#483e9d 54.5px,#483e9d 60.5px,#483e9d 66.5px,#483e9d 72.5px,#483e9d 78.5px,#483e9d 84.5px,#483e9d 90.5px,#483e9d 96.5px,#483e9d 102.5px,#483e9d 108.5px,#483e9d 114.5px,#483e9d 120.5px,#483e9d 126.5px,#483e9d 132.5px,#483f9e 138.5px,#483f9e 144.5px,#483f9e 150.5px,#483f9e 156.5px,#483f9e 162.5px,#483f9e 168.5px,#483f9e 174.5px,#483e9d 180.5px,#483e9d 186.5px,#483e9d 192.5px,#483e9d 198.5px,#483e9d 204.5px,#483e9d 210.5px,#483e9d 216.5px,#483e9d 218.5px)"></i><i style="background:linear-gradient(#483e9d 0.5px,#483e9d 6.5px,#483e9d 12.5px,#483e9d 18.5px,#483e9d 24.5px,#483f9e 30.5px,#483e9d 36.5px,#483e9d 42.5px,#483e9d 48.5px,#483e9d 54.5px,#483e9d 60.5px,#483e9d 66.5px,#483e9d 72.5px,#483e9d 78.5px,#483e9d 84.5px,#483e9d 90.5px,#483e9d 96.5px,#483e9d 102.5px,#483e9d 108.5px,#483e9d 114.5px,#483e9d 120.5px,#493f9e 126.5px,#49409f 132.5px,#4a41a0 138.5px,#4a41a0 144.5px,#4a41a0 150.5px,#4941a0 156.5px,#49409f 162.5px,#49409f 168.5px,#49409f 174.5px,#49409f 180.5px,#493f9e 186.5px,#493f9e 192.5px,#493f9e 198.5px,#483f9e 204.5px,#483f9e 210.5px,#483e9d 216.5px,#483e9d 218.5px)"></i><i style="background:linear-gradient(#483e9d 0.5px,#483e9d 6.5px,#483f9e 12.5px,#49409f 18.5px,#49409f 24.5px,#4941a0 30.5px,#4941a0 36.5px,#49409f 42.5px,#493f9e 48.5px,#483f9e 54.5px,#483e9d 60.5px,#483e9d 66.5px,#483e9d 72.5px,#483e9d 78.5px,#483e9d 84.5px,#483e9d 90.5px,#483f9e 96.5px,#483f9e 102.5px,#483f9e 108.5px,#493f9e 114.5px,#49409f 120.5px,#4a42a1 126.5px,#4b44a3 132.5px,#4c46a5 138.5px,#4c46a5 144.5px,#4c45a4 150.5px,#4c45a4 156.5px,#4b44a3 162.5px,#4b43a2 168.5px,#4b43a2 174.5px,#4a42a1 180.5px,#4a42a1 186.5px,#4a41a0 192.5px,#4941a0 198.5px,#49409f 204.5px,#49409f 210.5px,#493f9e 216.5px,#493f9e 218.5px)"></i><i style="background:linear-gradient(#493f9e 0.5px,#4941a0 6.5px,#4b43a2 12.5px,#4c46a5 18.5px,#4d47a6 24.5px,#4d49a8 30.5px,#4d49a8 36.5px,#4c46a5 42.5px,#4b44a3 48.5px,#4a42a1 54.5px,#4a41a0 60.5px,#4a41a0 66.5px,#4a41a0 72.5px,#4941a0 78.5px,#4941a0 84.5px,#4a41a0 90.5px,#4a41a0 96.5px,#4a41a0 102.5px,#4a41a0 108.5px,#4b43a2 114.5px,#4c46a5 120.5px,#4d49a8 126.5px,#4c4dac 132.5px,#4c4faf 138.5px,#4c4eae 144.5px,#4c4dac 150.5px,#4c4baa 156.5px,#4d49a8 162.5px,#4d48a7 168.5px,#4d46a5 174.5px,#4c45a4 180.5px,#4c44a3 186.5px,#4b44a3 192.5px,#4b43a2 198.5px,#4a42a1 204.5px,#4a42a1 210.5px,#4a41a0 216.5px,#4a41a0 218.5px)"></i><i style="background:linear-gradient(#4c46a5 0.5px,#4c4cab 6.5px,#4b54b4 12.5px,#475dbc 18.5px,#4461bf 24.5px,#4363c0 30.5px,#4362c0 36.5px,#475dbb 42.5px,#4a57b7 48.5px,#4b51b1 54.5px,#4c4fae 60.5px,#4c4dac 66.5px,#4c4baa 72.5px,#4d49a8 78.5px,#4d49a8 84.5px,#4d49a8 90.5px,#4d49a8 96.5px,#4d49a8 102.5px,#4d49a8 108.5px,#4c4dad 114.5px,#4b52b2 120.5px,#4a56b6 126.5px,#4a58b8 132.5px,#4a57b7 138.5px,#4a55b5 144.5px,#4b53b3 150.5px,#4b51b0 156.5px,#4c4fae 162.5px,#4c4cac 168.5px,#4c4aa9 174.5px,#4d48a7 180.5px,#4d47a6 186.5px,#4c46a5 192.5px,#4c45a4 198.5px,#4b44a3 204.5px,#4b43a2 210.5px,#4a42a1 216.5px,#4a42a1 218.5px)"></i><i style="background:linear-gradient(#4462bf 0.5px,#3d6bc7 6.5px,#3677cd 12.5px,#3083d2 18.5px,#2e87d3 24.5px,#2d88d4 30.5px,#2f85d3 36.5px,#337dcf 42.5px,#3775cc 48.5px,#3b6ec8 54.5px,#3e6ac5 60.5px,#4166c2 66.5px,#4362c0 72.5px,#465fbd 78.5px,#465dbc 84.5px,#475dbb 90.5px,#475cbb 96.5px,#485bba 102.5px,#495ab9 108.5px,#475cbb 114.5px,#455fbd 120.5px,#455fbd 126.5px,#465ebc 132.5px,#485bba 138.5px,#4a58b8 144.5px,#4a56b6 150.5px,#4b54b3 156.5px,#4b51b1 162.5px,#4c4fae 168.5px,#4c4cab 174.5px,#4d4aa9 180.5px,#4d48a7 186.5px,#4d47a6 192.5px,#4c46a5 198.5px,#4c45a4 204.5px,#4b44a3 210.5px,#4b43a2 216.5px,#4a42a1 218.5px)"></i><i style="background:linear-gradient(#2891d6 0.5px,#209dd6 6.5px,#1da3cc 12.5px,#1da6c1 18.5px,#1da6c1 24.5px,#1da5c5 30.5px,#1da3cb 36.5px,#1ea0d4 42.5px,#2399d6 48.5px,#2990d6 54.5px,#2d88d4 60.5px,#3181d1 66.5px,#347bce 72.5px,#3874cb 78.5px,#3a70ca 84.5px,#3b6ec8 90.5px,#3d6cc7 96.5px,#3e69c5 102.5px,#4067c3 108.5px,#4067c3 114.5px,#4166c2 120.5px,#4363c0 126.5px,#455fbe 132.5px,#485bba 138.5px,#4a58b8 144.5px,#4a56b6 150.5px,#4b54b3 156.5px,#4b51b1 162.5px,#4c4fae 168.5px,#4c4cab 174.5px,#4d4aa9 180.5px,#4d48a7 186.5px,#4d47a6 192.5px,#4c46a5 198.5px,#4c45a4 204.5px,#4b44a3 210.5px,#4b43a2 216.5px,#4a42a1 218.5px)"></i><i style="background:linear-gradient(#1fadac 0.5px,#28afa3 6.5px,#30b19b 12.5px,#35b295 18.5px,#2fb19b 24.5px,#25aea6 30.5px,#1cabb1 36.5px,#1da8bc 42.5px,#1da5c6 48.5px,#1ea2d1 54.5px,#219cd6 60.5px,#2693d6 66.5px,#2c8bd5 72.5px,#3082d1 78.5px,#337dcf 84.5px,#3579ce 90.5px,#3776cc 96.5px,#3972cb 102.5px,#3b6ec9 108.5px,#3d6bc7 114.5px,#4068c4 120.5px,#4363c0 126.5px,#465ebd 132.5px,#4a59b8 138.5px,#4a55b5 144.5px,#4b53b3 150.5px,#4b51b0 156.5px,#4c4fae 162.5px,#4c4cac 168.5px,#4c4aa9 174.5px,#4d48a7 180.5px,#4d47a6 186.5px,#4c46a5 192.5px,#4c45a4 198.5px,#4b44a3 204.5px,#4b43a2 210.5px,#4a42a1 216.5px,#4a42a1 218.5px)"></i><i style="background:linear-gradient(#52b77b 0.5px,#55b778 6.5px,#57b777 12.5px,#57b777 18.5px,#43b588 24.5px,#33b198 30.5px,#24aea6 36.5px,#1cabb3 42.5px,#1da7bf 48.5px,#1da3cc 54.5px,#1ea0d6 60.5px,#2497d6 66.5px,#2a8ed6 72.5px,#2f85d2 78.5px,#3280d0 84.5px,#347ccf 90.5px,#3678cd 96.5px,#3874cb 102.5px,#3a70ca 108.5px,#3d6bc6 114.5px,#4166c2 120.5px,#4560be 126.5px,#4959b9 132.5px,#4b52b1 138.5px,#4c4eae 144.5px,#4c4dac 150.5px,#4c4baa 156.5px,#4d49a8 162.5px,#4d48a7 168.5px,#4d46a5 174.5px,#4c45a4 180.5px,#4c44a3 186.5px,#4b44a3 192.5px,#4b43a2 198.5px,#4a42a1 204.5px,#4a42a1 210.5px,#4a41a0 216.5px,#4a41a0 218.5px)"></i><i style="background:linear-gradient(#66b96b 0.5px,#63b96d 6.5px,#5fb870 12.5px,#5bb874 18.5px,#43b588 24.5px,#31b199 30.5px,#21ada9 36.5px,#1ca9b8 42.5px,#1da5c7 48.5px,#1f9fd6 54.5px,#2596d6 60.5px,#2a8ed6 66.5px,#2e86d3 72.5px,#337ecf 78.5px,#3579ce 84.5px,#3776cc 90.5px,#3972cb 96.5px,#3b6fc9 102.5px,#3d6cc7 108.5px,#4166c3 114.5px,#465fbd 120.5px,#4a57b7 126.5px,#4c4fae 132.5px,#4d48a7 138.5px,#4c46a5 144.5px,#4c45a4 150.5px,#4c45a4 156.5px,#4b44a3 162.5px,#4b43a2 168.5px,#4b43a2 174.5px,#4a42a1 180.5px,#4a42a1 186.5px,#4a41a0 192.5px,#4941a0 198.5px,#49409f 204.5px,#49409f 210.5px,#493f9e 216.5px,#493f9e 218.5px)"></i><i style="background:linear-gradient(#45b586 0.5px,#42b589 6.5px,#3fb48b 12.5px,#3db48e 18.5px,#30b19b 24.5px,#1fadac 30.5px,#1da8bb 36.5px,#1ea3cd 42.5px,#2596d6 48.5px,#2f84d2 54.5px,#337dcf 60.5px,#3677cd 66.5px,#3a71ca 72.5px,#3d6bc7 78.5px,#3f69c5 84.5px,#4067c4 90.5px,#4166c2 96.5px,#4264c1 102.5px,#4362bf 108.5px,#485bba 114.5px,#4b52b2 120.5px,#4c4aa9 126.5px,#4c45a4 132.5px,#4a42a1 138.5px,#4a41a0 144.5px,#4a41a0 150.5px,#4941a0 156.5px,#49409f 162.5px,#49409f 168.5px,#49409f 174.5px,#49409f 180.5px,#493f9e 186.5px,#493f9e 192.5px,#493f9e 198.5px,#483f9e 204.5px,#483f9e 210.5px,#483e9d 216.5px,#483e9d 218.5px)"></i><i style="background:linear-gradient(#1ca9b8 0.5px,#1ca9b7 6.5px,#1caab6 12.5px,#1caab6 18.5px,#1da7c0 24.5px,#1ea3cd 30.5px,#229ad6 36.5px,#2e86d3 42.5px,#3972cb 48.5px,#4363c0 54.5px,#465fbd 60.5px,#475cbb 66.5px,#4959b9 72.5px,#4a56b6 78.5px,#4b55b5 84.5px,#4b55b5 90.5px,#4b54b4 96.5px,#4b54b3 102.5px,#4b53b2 108.5px,#4c4cab 114.5px,#4c46a5 120.5px,#4a42a1 126.5px,#49409f 132.5px,#493f9e 138.5px,#483f9e 144.5px,#483f9e 150.5px,#483f9e 156.5px,#483f9e 162.5px,#483f9e 168.5px,#483f9e 174.5px,#483e9d 180.5px,#483e9d 186.5px,#483e9d 192.5px,#483e9d 198.5px,#483e9d 204.5px,#483e9d 210.5px,#483e9d 216.5px,#483e9d 218.5px)"></i><i style="background:linear-gradient(#2f85d2 0.5px,#2d88d4 6.5px,#2b8cd5 12.5px,#298fd6 18.5px,#2d88d4 24.5px,#327fd0 30.5px,#3873cb 36.5px,#4363c0 42.5px,#4b55b5 48.5px,#4d49a8 54.5px,#4d47a6 60.5px,#4c46a5 66.5px,#4c45a4 72.5px,#4c44a3 78.5px,#4b44a3 84.5px,#4c45a4 90.5px,#4c45a4 96.5px,#4c45a4 102.5px,#4c45a4 108.5px,#4a42a1 114.5px,#49409f 120.5px,#493f9e 126.5px,#483e9d 132.5px,#483e9d 138.5px,#483e9d 144.5px,#483e9d 150.5px,#483e9d 156.5px,#483e9d 162.5px,#483e9d 168.5px,#483e9d 174.5px,#483e9d 180.5px,#483e9d 186.5px,#483e9d 192.5px,#483e9d 198.5px,#483e9d 204.5px,#483e9d 210.5px,#483e9d 216.5px,#483e9d 218.5px)"></i><i style="background:linear-gradient(#495aba 0.5px,#465dbc 6.5px,#4461bf 12.5px,#4264c1 18.5px,#4461bf 24.5px,#475cbb 30.5px,#4a56b6 36.5px,#4d49a9 42.5px,#4b43a2 48.5px,#49409f 54.5px,#49409f 60.5px,#49409f 66.5px,#493f9e 72.5px,#493f9e 78.5px,#493f9e 84.5px,#493f9e 90.5px,#49409f 96.5px,#49409f 102.5px,#49409f 108.5px,#493f9e 114.5px,#483e9d 120.5px,#483e9d 126.5px,#483e9d 132.5px,#483e9d 138.5px,#483e9d 144.5px,#483e9d 150.5px,#483e9d 156.5px,#483e9d 162.5px,#483e9d 168.5px,#483e9d 174.5px,#483e9d 180.5px,#483e9d 186.5px,#483e9d 192.5px,#483e9d 198.5px,#483e9d 204.5px,#483e9d 210.5px,#483e9d 216.5px,#483e9d 218.5px)"></i><i style="background:linear-gradient(#4b44a3 0.5px,#4c45a4 6.5px,#4d47a6 12.5px,#4d49a8 18.5px,#4d48a7 24.5px,#4c46a5 30.5px,#4b44a3 36.5px,#4941a0 42.5px,#483f9e 48.5px,#483e9d 54.5px,#483e9d 60.5px,#483e9d 66.5px,#483e9d 72.5px,#483e9d 78.5px,#483e9d 84.5px,#483e9d 90.5px,#483e9d 96.5px,#483e9d 102.5px,#483e9d 108.5px,#483e9d 114.5px,#483e9d 120.5px,#483e9d 126.5px,#483e9d 132.5px,#483e9d 138.5px,#483e9d 144.5px,#483e9d 150.5px,#483e9d 156.5px,#483e9d 162.5px,#483e9d 168.5px,#483e9d 174.5px,#483e9d 180.5px,#483e9d 186.5px,#483e9d 192.5px,#483e9d 198.5px,#483e9d 204.5px,#483e9d 210.5px,#483e9d 216.5px,#483e9d 218.5px)"></i><i style="background:linear-gradient(#483f9e 0.5px,#493f9e 6.5px,#49409f 12.5px,#49409f 18.5px,#49409f 24.5px,#49409f 30.5px,#493f9e 36.5px,#483e9d 42.5px,#483e9d 48.5px,#483e9d 54.5px,#483e9d 60.5px,#483e9d 66.5px,#483e9d 72.5px,#483e9d 78.5px,#483e9d 84.5px,#483e9d 90.5px,#483e9d 96.5px,#483e9d 102.5px,#483e9d 108.5px,#483e9d 114.5px,#483e9d 120.5px,#483e9d 126.5px,#483e9d 132.5px,#483e9d 138.5px,#483e9d 144.5px,#483e9d 150.5px,#483e9d 156.5px,#483e9d 162.5px,#483e9d 168.5px,#483e9d 174.5px,#483e9d 180.5px,#483e9d 186.5px,#483e9d 192.5px,#483e9d 198.5px,#483e9d 204.5px,#483e9d 210.5px,#483e9d 216.5px,#483e9d 218.5px)"></i><i style="background:linear-gradient(#483e9d 0.5px,#483e9d 6.5px,#483e9d 12.5px,#483e9d 18.5px,#483f9e 24.5px,#483f9e 30.5px,#483e9d 36.5px,#483e9d 42.5px,#483e9d 48.5px,#483e9d 54.5px,#483e9d 60.5px,#483e9d 66.5px,#483e9d 72.5px,#483e9d 78.5px,#483e9d 84.5px,#483e9d 90.5px,#483e9d 96.5px,#483e9d 102.5px,#483e9d 108.5px,#483e9d 114.5px,#483e9d 120.5px,#483e9d 126.5px,#483e9d 132.5px,#483f9e 138.5px,#483f9e 144.5px,#483f9e 150.5px,#483f9e 156.5px,#483f9e 162.5px,#483f9e 168.5px,#483f9e 174.5px,#483e9d 180.5px,#483e9d 186.5px,#483e9d 192.5px,#483e9d 198.5px,#483e9d 204.5px,#483e9d 210.5px,#483e9d 216.5px,#483e9d 218.5px)"></i><i style="background:linear-gradient(#483e9d 0.5px,#483e9d 6.5px,#483f9e 12.5px,#493f9e 18.5px,#49409f 24.5px,#49409f 30.5px,#49409f 36.5px,#483f9e 42.5px,#483e9d 48.5px,#483e9d 54.5px,#483e9d 60.5px,#483e9d 66.5px,#483e9d 72.5px,#483e9d 78.5px,#483e9d 84.5px,#483e9d 90.5px,#483e9d 96.5px,#483e9d 102.5px,#483e9d 108.5px,#483e9d 114.5px,#483f9e 120.5px,#493f9e 126.5px,#49409f 132.5px,#4a41a0 138.5px,#4a41a0 144.5px,#4a41a0 150.5px,#4941a0 156.5px,#49409f 162.5px,#49409f 168.5px,#49409f 174.5px,#49409f 180.5px,#493f9e 186.5px,#493f9e 192.5px,#493f9e 198.5px,#483f9e 204.5px,#483f9e 210.5px,#483e9d 216.5px,#483e9d 218.5px)"></i><i style="background:linear-gradient(#493f9e 0.5px,#49409f 6.5px,#4a42a1 12.5px,#4b44a3 18.5px,#4c46a5 24.5px,#4d47a6 30.5px,#4d47a6 36.5px,#4b43a2 42.5px,#4941a0 48.5px,#493f9e 54.5px,#493f9e 60.5px,#483f9e 66.5px,#483f9e 72.5px,#483f9e 78.5px,#483f9e 84.5px,#483f9e 90.5px,#493f9e 96.5px,#493f9e 102.5px,#493f9e 108.5px,#49409f 114.5px,#4a41a0 120.5px,#4b43a2 126.5px,#4c44a3 132.5px,#4c46a5 138.5px,#4c46a5 144.5px,#4c45a4 150.5px,#4c45a4 156.5px,#4b44a3 162.5px,#4b43a2 168.5px,#4b43a2 174.5px,#4a42a1 180.5px,#4a42a1 186.5px,#4a41a0 192.5px,#4941a0 198.5px,#49409f 204.5px,#49409f 210.5px,#493f9e 216.5px,#493f9e 218.5px)"></i><i style="background:linear-gradient(#4c44a3 0.5px,#4d49a8 6.5px,#4b51b0 12.5px,#495ab9 18.5px,#465ebc 24.5px,#4460be 30.5px,#455fbd 36.5px,#4b55b4 42.5px,#4c4baa 48.5px,#4c45a4 54.5px,#4b44a3 60.5px,#4b43a2 66.5px,#4b43a2 72.5px,#4a42a1 78.5px,#4a42a1 84.5px,#4a42a1 90.5px,#4b43a2 96.5px,#4b43a2 102.5px,#4b43a2 108.5px,#4c45a4 114.5px,#4d47a6 120.5px,#4c4baa 126.5px,#4c4ead 132.5px,#4c4faf 138.5px,#4c4eae 144.5px,#4c4dac 150.5px,#4c4baa 156.5px,#4d49a8 162.5px,#4d48a7 168.5px,#4d46a5 174.5px,#4c45a4 180.5px,#4c44a3 186.5px,#4b44a3 192.5px,#4b43a2 198.5px,#4a42a1 204.5px,#4a42a1 210.5px,#4a41a0 216.5px,#4a41a0 218.5px)"></i><i style="background:linear-gradient(#465ebc 0.5px,#4067c4 6.5px,#3873cb 12.5px,#3180d0 18.5px,#2f85d3 24.5px,#2e87d3 30.5px,#2f84d2 36.5px,#3874cc 42.5px,#4066c3 48.5px,#485cbb 54.5px,#4a58b8 60.5px,#4b55b5 66.5px,#4b52b2 72.5px,#4c4faf 78.5px,#4c4eae 84.5px,#4c4eae 90.5px,#4c4eae 96.5px,#4c4eae 102.5px,#4c4ead 108.5px,#4b51b1 114.5px,#4a55b5 120.5px,#4a58b8 126.5px,#4a59b8 132.5px,#4a58b8 138.5px,#4a55b5 144.5px,#4b53b3 150.5px,#4b51b0 156.5px,#4c4fae 162.5px,#4c4cac 168.5px,#4c4aa9 174.5px,#4d48a7 180.5px,#4d47a6 186.5px,#4c46a5 192.5px,#4c45a4 198.5px,#4b44a3 204.5px,#4b43a2 210.5px,#4a42a1 216.5px,#4a42a1 218.5px)"></i><i style="background:linear-gradient(#2a8ed6 0.5px,#219bd6 6.5px,#1ea3cc 12.5px,#1da7bf 18.5px,#1da8bd 24.5px,#1da7bf 30.5px,#1da5c6 36.5px,#209dd6 42.5px,#2b8cd5 48.5px,#337dcf 54.5px,#3775cc 60.5px,#3a70ca 66.5px,#3e6ac6 72.5px,#4165c2 78.5px,#4363c0 84.5px,#4362c0 90.5px,#4461bf 96.5px,#4560be 102.5px,#465ebd 108.5px,#455fbe 114.5px,#4461be 120.5px,#4560be 126.5px,#465ebc 132.5px,#485bba 138.5px,#4a58b8 144.5px,#4a56b6 150.5px,#4b54b3 156.5px,#4b51b1 162.5px,#4c4fae 168.5px,#4c4cab 174.5px,#4d4aa9 180.5px,#4d48a7 186.5px,#4d47a6 192.5px,#4c46a5 198.5px,#4c45a4 204.5px,#4b44a3 210.5px,#4b43a2 216.5px,#4a42a1 218.5px)"></i><i style="background:linear-gradient(#23aea8 0.5px,#2fb09c 6.5px,#39b391 12.5px,#43b587 18.5px,#3db48d 24.5px,#34b296 30.5px,#28afa3 36.5px,#1caab6 42.5px,#1da4c8 48.5px,#209ed6 54.5px,#2694d6 60.5px,#2c8bd5 66.5px,#3082d1 72.5px,#3579ce 78.5px,#3775cc 84.5px,#3972cb 90.5px,#3a6fc9 96.5px,#3c6dc7 102.5px,#3e6ac5 108.5px,#3f68c4 114.5px,#4066c3 120.5px,#4263c0 126.5px,#455fbe 132.5px,#485bba 138.5px,#4a58b8 144.5px,#4a56b6 150.5px,#4b54b3 156.5px,#4b51b1 162.5px,#4c4fae 168.5px,#4c4cab 174.5px,#4d4aa9 180.5px,#4d48a7 186.5px,#4d47a6 192.5px,#4c46a5 198.5px,#4c45a4 204.5px,#4b44a3 210.5px,#4b43a2 216.5px,#4a42a1 218.5px)"></i><i style="background:linear-gradient(#70bb63 0.5px,#77bc5d 6.5px,#7bbc59 12.5px,#7ebc58 18.5px,#6bba67 24.5px,#50b67d 30.5px,#38b392 36.5px,#26aea5 42.5px,#1caab7 48.5px,#1da5c7 54.5px,#1ea1d3 60.5px,#2399d6 66.5px,#2a8fd6 72.5px,#2f84d2 78.5px,#327fd0 84.5px,#347bce 90.5px,#3677cd 96.5px,#3873cb 102.5px,#3b6fc9 108.5px,#3d6cc7 114.5px,#4068c4 120.5px,#4363c0 126.5px,#465ebc 132.5px,#4a59b8 138.5px,#4a55b5 144.5px,#4b53b3 150.5px,#4b51b0 156.5px,#4c4fae 162.5px,#4c4cac 168.5px,#4c4aa9 174.5px,#4d48a7 180.5px,#4d47a6 186.5px,#4c46a5 192.5px,#4c45a4 198.5px,#4b44a3 204.5px,#4b43a2 210.5px,#4a42a1 216.5px,#4a42a1 218.5px)"></i><i style="background:linear-gradient(#96bb4d 0.5px,#93bb4e 6.5px,#90bb50 12.5px,#8bbc52 18.5px,#72bb61 24.5px,#53b77a 30.5px,#38b392 36.5px,#26aea5 42.5px,#1caab7 48.5px,#1da5c7 54.5px,#1ea1d3 60.5px,#2399d6 66.5px,#2a8fd6 72.5px,#2f84d2 78.5px,#327fd0 84.5px,#347bce 90.5px,#3677cd 96.5px,#3873cb 102.5px,#3b6fc9 108.5px,#3e6ac6 114.5px,#4265c2 120.5px,#465fbd 126.5px,#4a59b8 132.5px,#4b51b1 138.5px,#4c4eae 144.5px,#4c4dac 150.5px,#4c4baa 156.5px,#4d49a8 162.5px,#4d48a7 168.5px,#4d46a5 174.5px,#4c45a4 180.5px,#4c44a3 186.5px,#4b44a3 192.5px,#4b43a2 198.5px,#4a42a1 204.5px,#4a42a1 210.5px,#4a41a0 216.5px,#4a41a0 218.5px)"></i><i style="background:linear-gradient(#7abc5a 0.5px,#77bc5d 6.5px,#73bb60 12.5px,#6fbb63 18.5px,#55b779 24.5px,#39b391 30.5px,#28afa3 36.5px,#1caab6 42.5px,#1da4c8 48.5px,#209ed6 54.5px,#2694d6 60.5px,#2c8bd5 66.5px,#3082d1 72.5px,#3579ce 78.5px,#3775cc 84.5px,#3972cb 90.5px,#3a6fc9 96.5px,#3c6dc7 102.5px,#3e6ac5 108.5px,#4264c1 114.5px,#475dbc 120.5px,#4a56b5 126.5px,#4c4ead 132.5px,#4d47a6 138.5px,#4c46a5 144.5px,#4c45a4 150.5px,#4c45a4 156.5px,#4b44a3 162.5px,#4b43a2 168.5px,#4b43a2 174.5px,#4a42a1 180.5px,#4a42a1 186.5px,#4a41a0 192.5px,#4941a0 198.5px,#49409f 204.5px,#49409f 210.5px,#493f9e 216.5px,#493f9e 218.5px)"></i><i style="background:linear-gradient(#2eb09c 0.5px,#2fb09b 6.5px,#30b19b 12.5px,#30b19b 18.5px,#23aea8 24.5px,#1caab7 30.5px,#1da5c6 36.5px,#209dd6 42.5px,#2b8cd5 48.5px,#337dcf 54.5px,#3775cc 60.5px,#3a70ca 66.5px,#3e6ac6 72.5px,#4165c2 78.5px,#4363c0 84.5px,#4362c0 90.5px,#4461bf 96.5px,#4560be 102.5px,#465ebc 108.5px,#4a58b8 114.5px,#4c4faf 120.5px,#4d48a8 126.5px,#4c44a3 132.5px,#4a42a1 138.5px,#4a41a0 144.5px,#4a41a0 150.5px,#4941a0 156.5px,#49409f 162.5px,#49409f 168.5px,#49409f 174.5px,#49409f 180.5px,#493f9e 186.5px,#493f9e 192.5px,#493f9e 198.5px,#483f9e 204.5px,#483f9e 210.5px,#483e9d 216.5px,#483e9d 218.5px)"></i><i style="background:linear-gradient(#2398d6 0.5px,#219cd6 6.5px,#1f9fd6 12.5px,#1ea1d4 18.5px,#229ad6 24.5px,#2990d6 30.5px,#2f84d2 36.5px,#3874cc 42.5px,#4066c3 48.5px,#485cbb 54.5px,#4a58b8 60.5px,#4b55b5 66.5px,#4b52b2 72.5px,#4c4faf 78.5px,#4c4eae 84.5px,#4c4eae 90.5px,#4c4eae 96.5px,#4c4eae 102.5px,#4c4ead 108.5px,#4d48a7 114.5px,#4b44a3 120.5px,#4a42a1 126.5px,#49409f 132.5px,#493f9e 138.5px,#483f9e 144.5px,#483f9e 150.5px,#483f9e 156.5px,#483f9e 162.5px,#483f9e 168.5px,#483f9e 174.5px,#483e9d 180.5px,#483e9d 186.5px,#483e9d 192.5px,#483e9d 198.5px,#483e9d 204.5px,#483e9d 210.5px,#483e9d 216.5px,#483e9d 218.5px)"></i><i style="background:linear-gradient(#4264c1 0.5px,#4068c4 6.5px,#3d6cc7 12.5px,#3a6fca 18.5px,#3d6cc7 24.5px,#4166c2 30.5px,#455fbd 36.5px,#4b55b4 42.5px,#4c4baa 48.5px,#4c45a4 54.5px,#4b44a3 60.5px,#4b43a2 66.5px,#4b43a2 72.5px,#4a42a1 78.5px,#4a42a1 84.5px,#4a42a1 90.5px,#4b43a2 96.5px,#4b43a2 102.5px,#4b43a2 108.5px,#4a41a0 114.5px,#49409f 120.5px,#483f9e 126.5px,#483e9d 132.5px,#483e9d 138.5px,#483e9d 144.5px,#483e9d 150.5px,#483e9d 156.5px,#483e9d 162.5px,#483e9d 168.5px,#483e9d 174.5px,#483e9d 180.5px,#483e9d 186.5px,#483e9d 192.5px,#483e9d 198.5px,#483e9d 204.5px,#483e9d 210.5px,#483e9d 216.5px,#483e9d 218.5px)"></i><i style="background:linear-gradient(#4d46a5 0.5px,#4d49a8 6.5px,#4c4cab 12.5px,#4b50af 18.5px,#4c4ead 24.5px,#4c4baa 30.5px,#4d47a6 36.5px,#4b43a2 42.5px,#4941a0 48.5px,#493f9e 54.5px,#493f9e 60.5px,#483f9e 66.5px,#483f9e 72.5px,#483f9e 78.5px,#483f9e 84.5px,#483f9e 90.5px,#493f9e 96.5px,#493f9e 102.5px,#493f9e 108.5px,#483f9e 114.5px,#483e9d 120.5px,#483e9d 126.5px,#483e9d 132.5px,#483e9d 138.5px,#483e9d 144.5px,#483e9d 150.5px,#483e9d 156.5px,#483e9d 162.5px,#483e9d 168.5px,#483e9d 174.5px,#483e9d 180.5px,#483e9d 186.5px,#483e9d 192.5px,#483e9d 198.5px,#483e9d 204.5px,#483e9d 210.5px,#483e9d 216.5px,#483e9d 218.5px)"></i><i style="background:linear-gradient(#493f9e 0.5px,#49409f 6.5px,#4a41a0 12.5px,#4a42a1 18.5px,#4a41a0 24.5px,#4a41a0 30.5px,#49409f 36.5px,#483f9e 42.5px,#483e9d 48.5px,#483e9d 54.5px,#483e9d 60.5px,#483e9d 66.5px,#483e9d 72.5px,#483e9d 78.5px,#483e9d 84.5px,#483e9d 90.5px,#483e9d 96.5px,#483e9d 102.5px,#483e9d 108.5px,#483e9d 114.5px,#483e9d 120.5px,#483e9d 126.5px,#483e9d 132.5px,#483e9d 138.5px,#483e9d 144.5px,#483e9d 150.5px,#483e9d 156.5px,#483e9d 162.5px,#483e9d 168.5px,#483e9d 174.5px,#483e9d 180.5px,#483e9d 186.5px,#483e9d 192.5px,#483e9d 198.5px,#483e9d 204.5px,#483e9d 210.5px,#483e9d 216.5px,#483e9d 218.5px)"></i><i style="background:linear-gradient(#483e9d 0.5px,#483e9d 6.5px,#483e9d 12.5px,#483f9e 18.5px,#483f9e 24.5px,#483f9e 30.5px,#483f9e 36.5px,#483e9d 42.5px,#483e9d 48.5px,#483e9d 54.5px,#483e9d 60.5px,#483e9d 66.5px,#483e9d 72.5px,#483e9d 78.5px,#483e9d 84.5px,#483e9d 90.5px,#483e9d 96.5px,#483e9d 102.5px,#483e9d 108.5px,#483e9d 114.5px,#483e9d 120.5px,#483e9d 126.5px,#483f9e 132.5px,#493f9e 138.5px,#49409f 144.5px,#493f9e 150.5px,#493f9e 156.5px,#493f9e 162.5px,#493f9e 168.5px,#493f9e 174.5px,#483f9e 180.5px,#483f9e 186.5px,#483f9e 192.5px,#483f9e 198.5px,#483e9d 204.5px,#483e9d 210.5px,#483e9d 216.5px,#483e9d 218.5px)"></i><i style="background:linear-gradient(#483e9d 0.5px,#483e9d 6.5px,#483e9d 12.5px,#493f9e 18.5px,#49409f 24.5px,#49409f 30.5px,#49409f 36.5px,#483f9e 42.5px,#483e9d 48.5px,#483e9d 54.5px,#483e9d 60.5px,#483e9d 66.5px,#483e9d 72.5px,#483e9d 78.5px,#483e9d 84.5px,#483e9d 90.5px,#483e9d 96.5px,#483e9d 102.5px,#483e9d 108.5px,#483e9d 114.5px,#483e9d 120.5px,#493f9e 126.5px,#4941a0 132.5px,#4a42a1 138.5px,#4b43a2 144.5px,#4a42a1 150.5px,#4a42a1 156.5px,#4a41a0 162.5px,#4a41a0 168.5px,#4a41a0 174.5px,#49409f 180.5px,#49409f 186.5px,#49409f 192.5px,#49409f 198.5px,#493f9e 204.5px,#493f9e 210.5px,#493f9e 216.5px,#483f9e 218.5px)"></i><i style="background:linear-gradient(#483f9e 0.5px,#493f9e 6.5px,#4a41a0 12.5px,#4b43a2 18.5px,#4c45a4 24.5px,#4d46a5 30.5px,#4d46a5 36.5px,#4a42a1 42.5px,#493f9e 48.5px,#483e9d 54.5px,#483e9d 60.5px,#483e9d 66.5px,#483e9d 72.5px,#483e9d 78.5px,#483e9d 84.5px,#483e9d 90.5px,#483e9d 96.5px,#483e9d 102.5px,#483e9d 108.5px,#483f9e 114.5px,#49409f 120.5px,#4a42a1 126.5px,#4c45a4 132.5px,#4d47a6 138.5px,#4d47a6 144.5px,#4d46a5 150.5px,#4c46a5 156.5px,#4c45a4 162.5px,#4b44a3 168.5px,#4b43a2 174.5px,#4b43a2 180.5px,#4a42a1 186.5px,#4a42a1 192.5px,#4a41a0 198.5px,#4a41a0 204.5px,#4941a0 210.5px,#49409f 216.5px,#49409f 218.5px)"></i><i style="background:linear-gradient(#4a42a1 0.5px,#4c45a4 6.5px,#4c4aaa 12.5px,#4b53b3 18.5px,#4959b9 24.5px,#475dbc 30.5px,#475dbc 36.5px,#4c4ead 42.5px,#4c45a4 48.5px,#4941a0 54.5px,#49409f 60.5px,#49409f 66.5px,#49409f 72.5px,#493f9e 78.5px,#493f9e 84.5px,#49409f 90.5px,#49409f 96.5px,#49409f 102.5px,#49409f 108.5px,#4a41a0 114.5px,#4c44a3 120.5px,#4d48a7 126.5px,#4c4cac 132.5px,#4c4eae 138.5px,#4c4dad 144.5px,#4c4cab 150.5px,#4c4aa9 156.5px,#4d49a8 162.5px,#4d47a6 168.5px,#4c46a5 174.5px,#4c45a4 180.5px,#4c44a3 186.5px,#4b44a3 192.5px,#4b43a2 198.5px,#4b43a2 204.5px,#4a42a1 210.5px,#4a41a0 216.5px,#4a41a0 218.5px)"></i><i style="background:linear-gradient(#4b52b2 0.5px,#485bba 6.5px,#4165c2 12.5px,#3a70ca 18.5px,#3678cd 24.5px,#3280d0 30.5px,#327fd0 36.5px,#3e6ac5 42.5px,#4959b9 48.5px,#4c4baa 54.5px,#4d48a7 60.5px,#4d46a5 66.5px,#4c45a4 72.5px,#4b44a3 78.5px,#4b44a3 84.5px,#4c44a3 90.5px,#4c44a3 96.5px,#4c44a3 102.5px,#4c44a3 108.5px,#4d48a7 114.5px,#4c4ead 120.5px,#4b52b2 126.5px,#4b54b4 132.5px,#4b53b3 138.5px,#4b51b1 144.5px,#4c4faf 150.5px,#4c4ead 156.5px,#4c4cab 162.5px,#4d4aa9 168.5px,#4d48a7 174.5px,#4d46a5 180.5px,#4c46a5 186.5px,#4c45a4 192.5px,#4c44a3 198.5px,#4b44a3 204.5px,#4b43a2 210.5px,#4a42a1 216.5px,#4a42a1 218.5px)"></i><i style="background:linear-gradient(#3972cb 0.5px,#327ed0 6.5px,#2b8cd5 12.5px,#229ad6 18.5px,#1ea1d3 24.5px,#1da4ca 30.5px,#1da3cb 36.5px,#2891d6 42.5px,#3678cd 48.5px,#4265c2 54.5px,#455fbe 60.5px,#475cbb 66.5px,#4a58b8 72.5px,#4b54b4 78.5px,#4b53b2 84.5px,#4b52b2 90.5px,#4b51b1 96.5px,#4b51b0 102.5px,#4b50af 108.5px,#4b54b4 114.5px,#4959b9 120.5px,#495ab9 126.5px,#4a59b8 132.5px,#4a55b5 138.5px,#4b53b2 144.5px,#4b51b0 150.5px,#4c4fae 156.5px,#4c4dac 162.5px,#4c4baa 168.5px,#4d49a8 174.5px,#4d47a6 180.5px,#4d46a5 186.5px,#4c45a4 192.5px,#4c45a4 198.5px,#4b44a3 204.5px,#4b43a2 210.5px,#4b43a2 216.5px,#4b43a2 218.5px)"></i><i style="background:linear-gradient(#209dd6 0.5px,#1ea3cd 6.5px,#1da7c0 12.5px,#1caab5 18.5px,#1fadac 24.5px,#28afa3 30.5px,#26aea4 36.5px,#1da7c0 42.5px,#209dd6 48.5px,#2f86d3 54.5px,#347ccf 60.5px,#3775cc 66.5px,#3c6ec8 72.5px,#4067c3 78.5px,#4264c1 84.5px,#4363c0 90.5px,#4461bf 96.5px,#455fbd 102.5px,#475dbc 108.5px,#465ebd 114.5px,#465fbd 120.5px,#475dbc 126.5px,#495ab9 132.5px,#4b55b5 138.5px,#4b52b1 144.5px,#4b50af 150.5px,#4c4ead 156.5px,#4c4cab 162.5px,#4c4aa9 168.5px,#4d48a7 174.5px,#4d47a6 180.5px,#4c46a5 186.5px,#4c45a4 192.5px,#4c44a3 198.5px,#4b44a3 204.5px,#4b43a2 210.5px,#4a42a1 216.5px,#4a42a1 218.5px)"></i><i style="background:linear-gradient(#1caab5 0.5px,#1fadac 6.5px,#28afa2 12.5px,#31b199 18.5px,#38b392 24.5px,#3eb48c 30.5px,#3cb48e 36.5px,#23aea8 42.5px,#1da7c0 48.5px,#1ea0d6 54.5px,#2694d6 60.5px,#2c8ad4 66.5px,#3180d0 72.5px,#3776cc 78.5px,#3971ca 84.5px,#3b6ec9 90.5px,#3d6bc6 96.5px,#3f68c4 102.5px,#4165c2 108.5px,#4263c1 114.5px,#4461bf 120.5px,#475dbc 126.5px,#4a58b8 132.5px,#4b52b1 138.5px,#4c4eae 144.5px,#4c4dac 150.5px,#4c4baa 156.5px,#4d49a9 162.5px,#4d48a7 168.5px,#4d46a5 174.5px,#4c45a4 180.5px,#4c45a4 186.5px,#4b44a3 192.5px,#4b43a2 198.5px,#4b43a2 204.5px,#4a42a1 210.5px,#4a42a1 216.5px,#4a42a1 218.5px)"></i><i style="background:linear-gradient(#27afa4 0.5px,#2db09e 6.5px,#33b297 12.5px,#3ab390 18.5px,#3fb48b 24.5px,#48b584 30.5px,#43b588 36.5px,#2aafa1 42.5px,#1caab7 48.5px,#1da3cb 54.5px,#1f9ed6 60.5px,#2793d6 66.5px,#2d88d4 72.5px,#337dcf 78.5px,#3677cd 84.5px,#3873cb 90.5px,#3b6fc9 96.5px,#3d6cc7 102.5px,#3f68c4 108.5px,#4264c1 114.5px,#4560be 120.5px,#485aba 126.5px,#4b53b3 132.5px,#4c4baa 138.5px,#4d48a7 144.5px,#4d47a6 150.5px,#4d46a5 156.5px,#4c46a5 162.5px,#4c45a4 168.5px,#4b44a3 174.5px,#4b43a2 180.5px,#4b43a2 186.5px,#4a42a1 192.5px,#4a42a1 198.5px,#4a41a0 204.5px,#4a41a0 210.5px,#49409f 216.5px,#49409f 218.5px)"></i><i style="background:linear-gradient(#25aea6 0.5px,#2aafa1 6.5px,#2fb19b 12.5px,#35b296 18.5px,#38b392 24.5px,#3bb38f 30.5px,#37b293 36.5px,#22aea8 42.5px,#1da8bc 48.5px,#1ea3ce 54.5px,#219cd6 60.5px,#2891d6 66.5px,#2e86d3 72.5px,#347bcf 78.5px,#3776cc 84.5px,#3972cb 90.5px,#3b6ec9 96.5px,#3e6bc6 102.5px,#4067c3 108.5px,#4362c0 114.5px,#485bbb 120.5px,#4b53b3 126.5px,#4c4baa 132.5px,#4c45a4 138.5px,#4b43a2 144.5px,#4b43a2 150.5px,#4a42a1 156.5px,#4a42a1 162.5px,#4a42a1 168.5px,#4a41a0 174.5px,#4a41a0 180.5px,#49409f 186.5px,#49409f 192.5px,#49409f 198.5px,#49409f 204.5px,#493f9e 210.5px,#493f9e 216.5px,#493f9e 218.5px)"></i><i style="background:linear-gradient(#1da8bc 0.5px,#1caab7 6.5px,#1cabb2 12.5px,#1eadad 18.5px,#20adab 24.5px,#20adab 30.5px,#1cacb0 36.5px,#1da7c0 42.5px,#1ea2d1 48.5px,#2596d6 54.5px,#2b8cd5 60.5px,#3083d2 66.5px,#357ace 72.5px,#3a71ca 78.5px,#3c6dc8 84.5px,#3e6ac6 90.5px,#4068c4 96.5px,#4165c2 102.5px,#4362c0 108.5px,#485cbb 114.5px,#4b52b2 120.5px,#4d49a8 126.5px,#4b44a3 132.5px,#4a41a0 138.5px,#49409f 144.5px,#49409f 150.5px,#49409f 156.5px,#49409f 162.5px,#493f9e 168.5px,#493f9e 174.5px,#493f9e 180.5px,#493f9e 186.5px,#483f9e 192.5px,#483f9e 198.5px,#483f9e 204.5px,#483e9d 210.5px,#483e9d 216.5px,#483e9d 218.5px)"></i><i style="background:linear-gradient(#2693d6 0.5px,#2399d6 6.5px,#1f9ed6 12.5px,#1ea1d2 18.5px,#1ea1d2 24.5px,#1ea1d4 30.5px,#209dd6 36.5px,#2990d6 42.5px,#3083d1 48.5px,#3776cd 54.5px,#3a70ca 60.5px,#3e6ac6 66.5px,#4165c2 72.5px,#4560be 78.5px,#465ebc 84.5px,#475dbb 90.5px,#485bba 96.5px,#495ab9 102.5px,#4a58b8 108.5px,#4b50af 114.5px,#4d47a6 120.5px,#4a42a1 126.5px,#49409f 132.5px,#483f9e 138.5px,#483f9e 144.5px,#483e9d 150.5px,#483e9d 156.5px,#483e9d 162.5px,#483e9d 168.5px,#483e9d 174.5px,#483e9d 180.5px,#483e9d 186.5px,#483e9d 192.5px,#483e9d 198.5px,#483e9d 204.5px,#483e9d 210.5px,#483e9d 216.5px,#483e9d 218.5px)"></i><i style="background:linear-gradient(#3e69c5 0.5px,#3b6ec9 6.5px,#3874cc 12.5px,#357ace 18.5px,#3579ce 24.5px,#3677cd 30.5px,#3972cb 36.5px,#3f69c5 42.5px,#4460be 48.5px,#4959b9 54.5px,#4a55b5 60.5px,#4b52b2 66.5px,#4c4faf 72.5px,#4c4cab 78.5px,#4c4baa 84.5px,#4c4baa 90.5px,#4c4baa 96.5px,#4c4baa 102.5px,#4c4aa9 108.5px,#4c45a4 114.5px,#4a41a0 120.5px,#493f9e 126.5px,#483e9d 132.5px,#483e9d 138.5px,#483e9d 144.5px,#483e9d 150.5px,#483e9d 156.5px,#483e9d 162.5px,#483e9d 168.5px,#483e9d 174.5px,#483e9d 180.5px,#483e9d 186.5px,#483e9d 192.5px,#483e9d 198.5px,#483e9d 204.5px,#483e9d 210.5px,#483e9d 216.5px,#483e9d 218.5px)"></i><i style="background:linear-gradient(#4c4cac 0.5px,#4b50b0 6.5px,#4b55b5 12.5px,#4959b9 18.5px,#4959b9 24.5px,#4a58b8 30.5px,#4b54b4 36.5px,#4c4dad 42.5px,#4d48a7 48.5px,#4c44a3 54.5px,#4b43a2 60.5px,#4b43a2 66.5px,#4a42a1 72.5px,#4a42a1 78.5px,#4a42a1 84.5px,#4a42a1 90.5px,#4a42a1 96.5px,#4a42a1 102.5px,#4a42a1 108.5px,#49409f 114.5px,#483f9e 120.5px,#483e9d 126.5px,#483e9d 132.5px,#483e9d 138.5px,#483e9d 144.5px,#483e9d 150.5px,#483e9d 156.5px,#483e9d 162.5px,#483e9d 168.5px,#483e9d 174.5px,#483e9d 180.5px,#483e9d 186.5px,#483e9d 192.5px,#483e9d 198.5px,#483e9d 204.5px,#483e9d 210.5px,#483e9d 216.5px,#483e9d 218.5px)"></i><i style="background:linear-gradient(#4a41a0 0.5px,#4a42a1 6.5px,#4b43a2 12.5px,#4c45a4 18.5px,#4c45a4 24.5px,#4c44a3 30.5px,#4b43a2 36.5px,#4a41a0 42.5px,#49409f 48.5px,#493f9e 54.5px,#493f9e 60.5px,#483f9e 66.5px,#483f9e 72.5px,#483f9e 78.5px,#483f9e 84.5px,#483f9e 90.5px,#483f9e 96.5px,#493f9e 102.5px,#493f9e 108.5px,#483e9d 114.5px,#483e9d 120.5px,#483e9d 126.5px,#483e9d 132.5px,#483e9d 138.5px,#483e9d 144.5px,#483e9d 150.5px,#483e9d 156.5px,#483e9d 162.5px,#483e9d 168.5px,#483e9d 174.5px,#483e9d 180.5px,#483e9d 186.5px,#483e9d 192.5px,#483e9d 198.5px,#483e9d 204.5px,#483e9d 210.5px,#483e9d 216.5px,#483e9d 218.5px)"></i><i style="background:linear-gradient(#483e9d 0.5px,#483f9e 6.5px,#493f9e 12.5px,#49409f 18.5px,#49409f 24.5px,#49409f 30.5px,#493f9e 36.5px,#483f9e 42.5px,#483e9d 48.5px,#483e9d 54.5px,#483e9d 60.5px,#483e9d 66.5px,#483e9d 72.5px,#483e9d 78.5px,#483e9d 84.5px,#483e9d 90.5px,#483e9d 96.5px,#483e9d 102.5px,#483e9d 108.5px,#483e9d 114.5px,#483e9d 120.5px,#483e9d 126.5px,#483e9d 132.5px,#483e9d 138.5px,#483e9d 144.5px,#483e9d 150.5px,#483e9d 156.5px,#483e9d 162.5px,#483e9d 168.5px,#483e9d 174.5px,#483e9d 180.5px,#483e9d 186.5px,#483e9d 192.5px,#483e9d 198.5px,#483e9d 204.5px,#483e9d 210.5px,#483e9d 216.5px,#483e9d 218.5px)"></i><i style="background:linear-gradient(#483e9d 0.5px,#483e9d 6.5px,#483f9e 12.5px,#493f9e 18.5px,#49409f 24.5px,#49409f 30.5px,#49409f 36.5px,#483f9e 42.5px,#483e9d 48.5px,#483e9d 54.5px,#483e9d 60.5px,#483e9d 66.5px,#483e9d 72.5px,#483e9d 78.5px,#483e9d 84.5px,#483e9d 90.5px,#483e9d 96.5px,#483e9d 102.5px,#483e9d 108.5px,#483e9d 114.5px,#483e9d 120.5px,#483f9e 126.5px,#493f9e 132.5px,#49409f 138.5px,#49409f 144.5px,#49409f 150.5px,#49409f 156.5px,#493f9e 162.5px,#493f9e 168.5px,#493f9e 174.5px,#493f9e 180.5px,#493f9e 186.5px,#483f9e 192.5px,#483f9e 198.5px,#483f9e 204.5px,#483e9d 210.5px,#483e9d 216.5px,#483e9d 218.5px)"></i><i style="background:linear-gradient(#493f9e 0.5px,#49409f 6.5px,#4a41a0 12.5px,#4b43a2 18.5px,#4c45a4 24.5px,#4d47a6 30.5px,#4d47a6 36.5px,#4a42a1 42.5px,#49409f 48.5px,#483f9e 54.5px,#483e9d 60.5px,#483e9d 66.5px,#483e9d 72.5px,#483e9d 78.5px,#483e9d 84.5px,#483e9d 90.5px,#483e9d 96.5px,#483e9d 102.5px,#483e9d 108.5px,#483f9e 114.5px,#493f9e 120.5px,#49409f 126.5px,#4a42a1 132.5px,#4b43a2 138.5px,#4b43a2 144.5px,#4a42a1 150.5px,#4a42a1 156.5px,#4a42a1 162.5px,#4a41a0 168.5px,#4a41a0 174.5px,#4a41a0 180.5px,#49409f 186.5px,#49409f 192.5px,#49409f 198.5px,#49409f 204.5px,#493f9e 210.5px,#493f9e 216.5px,#493f9e 218.5px)"></i><i style="background:linear-gradient(#4b43a2 0.5px,#4d46a5 6.5px,#4c4cab 12.5px,#4b53b3 18.5px,#4959b9 24.5px,#465ebc 30.5px,#465ebc 36.5px,#4b50b0 42.5px,#4c46a5 48.5px,#4a42a1 54.5px,#4a41a0 60.5px,#4941a0 66.5px,#49409f 72.5px,#49409f 78.5px,#49409f 84.5px,#49409f 90.5px,#49409f 96.5px,#49409f 102.5px,#49409f 108.5px,#4a41a0 114.5px,#4b43a2 120.5px,#4c44a3 126.5px,#4c46a5 132.5px,#4d47a6 138.5px,#4d47a6 144.5px,#4d46a5 150.5px,#4c46a5 156.5px,#4c45a4 162.5px,#4c44a3 168.5px,#4b44a3 174.5px,#4b43a2 180.5px,#4b43a2 186.5px,#4a42a1 192.5px,#4a42a1 198.5px,#4a41a0 204.5px,#4a41a0 210.5px,#49409f 216.5px,#49409f 218.5px)"></i><i style="background:linear-gradient(#4a57b7 0.5px,#465ebd 6.5px,#4166c2 12.5px,#3c6dc8 18.5px,#3775cc 24.5px,#337dcf 30.5px,#337dcf 36.5px,#3e6ac6 42.5px,#485bbb 48.5px,#4c4ead 54.5px,#4c4aaa 60.5px,#4d48a8 66.5px,#4d47a6 72.5px,#4c45a4 78.5px,#4c45a4 84.5px,#4c45a4 90.5px,#4c45a4 96.5px,#4c45a4 102.5px,#4c45a4 108.5px,#4d46a5 114.5px,#4d49a8 120.5px,#4c4cab 126.5px,#4c4dac 132.5px,#4c4dac 138.5px,#4c4cab 144.5px,#4c4baa 150.5px,#4d49a9 156.5px,#4d48a7 162.5px,#4d47a6 168.5px,#4d46a5 174.5px,#4c45a4 180.5px,#4c45a4 186.5px,#4b44a3 192.5px,#4b43a2 198.5px,#4b43a2 204.5px,#4a42a1 210.5px,#4a42a1 216.5px,#4a42a1 218.5px)"></i><i style="background:linear-gradient(#3677cd 0.5px,#3180d0 6.5px,#2d89d4 12.5px,#2990d6 18.5px,#2398d6 24.5px,#1ea0d5 30.5px,#1ea1d4 36.5px,#2b8cd5 42.5px,#3678cd 48.5px,#4066c3 54.5px,#4461bf 60.5px,#475dbc 66.5px,#4959b9 72.5px,#4b55b5 78.5px,#4b53b3 84.5px,#4b52b2 90.5px,#4b51b1 96.5px,#4b50b0 102.5px,#4c4fae 108.5px,#4b51b0 114.5px,#4b53b2 120.5px,#4b53b3 126.5px,#4b52b2 132.5px,#4b51b0 138.5px,#4c4fae 144.5px,#4c4dad 150.5px,#4c4cab 156.5px,#4c4baa 162.5px,#4d49a8 168.5px,#4d48a7 174.5px,#4d47a6 180.5px,#4c46a5 186.5px,#4c45a4 192.5px,#4c44a3 198.5px,#4b44a3 204.5px,#4b43a2 210.5px,#4a42a1 216.5px,#4a42a1 218.5px)"></i><i style="background:linear-gradient(#1ea0d6 0.5px,#1ea2d0 6.5px,#1da3cb 12.5px,#1da4c8 18.5px,#1da6c1 24.5px,#1ca9b8 30.5px,#1ca9b8 36.5px,#1ea3cd 42.5px,#2695d6 48.5px,#3181d1 54.5px,#3579cd 60.5px,#3971cb 66.5px,#3e6bc6 72.5px,#4264c1 78.5px,#4461bf 84.5px,#455fbe 90.5px,#465ebc 96.5px,#485cbb 102.5px,#4959b9 108.5px,#4959b9 114.5px,#4959b9 120.5px,#4a57b7 126.5px,#4b55b5 132.5px,#4b52b1 138.5px,#4b50af 144.5px,#4c4eae 150.5px,#4c4dac 156.5px,#4c4baa 162.5px,#4d4aa9 168.5px,#4d48a7 174.5px,#4d47a6 180.5px,#4d46a5 186.5px,#4c45a4 192.5px,#4c45a4 198.5px,#4b44a3 204.5px,#4b43a2 210.5px,#4b43a2 216.5px,#4b43a2 218.5px)"></i><i style="background:linear-gradient(#1ca9b8 0.5px,#1caab7 6.5px,#1caab7 12.5px,#1ca9b7 18.5px,#1cabb2 24.5px,#21adaa 30.5px,#21adaa 36.5px,#1da8bd 42.5px,#1ea2d0 48.5px,#2694d6 54.5px,#2c8ad4 60.5px,#3180d1 66.5px,#3677cd 72.5px,#3b6ec9 78.5px,#3e6ac5 84.5px,#4067c3 90.5px,#4264c1 96.5px,#4462bf 102.5px,#465fbd 108.5px,#475dbc 114.5px,#485bba 120.5px,#4a58b8 126.5px,#4b55b4 132.5px,#4b51b0 138.5px,#4c4fae 144.5px,#4c4dac 150.5px,#4c4cab 156.5px,#4c4aa9 162.5px,#4d49a8 168.5px,#4d47a6 174.5px,#4d46a5 180.5px,#4c46a5 186.5px,#4c45a4 192.5px,#4c44a3 198.5px,#4b44a3 204.5px,#4b43a2 210.5px,#4a42a1 216.5px,#4a42a1 218.5px)"></i><i style="background:linear-gradient(#1fadac 0.5px,#1dacae 6.5px,#1cabb1 12.5px,#1cabb3 18.5px,#1cacaf 24.5px,#23aea8 30.5px,#23aea8 36.5px,#1da8ba 42.5px,#1da3cc 48.5px,#2399d6 54.5px,#2a8fd6 60.5px,#2f85d2 66.5px,#347bce 72.5px,#3971ca 78.5px,#3c6cc7 84.5px,#3e69c5 90.5px,#4066c3 96.5px,#4263c0 102.5px,#4560be 108.5px,#465dbc 114.5px,#495aba 120.5px,#4a56b6 126.5px,#4b52b1 132.5px,#4c4dad 138.5px,#4c4baa 144.5px,#4c4aa9 150.5px,#4d49a8 156.5px,#4d47a7 162.5px,#4d47a6 168.5px,#4c46a5 174.5px,#4c45a4 180.5px,#4c44a3 186.5px,#4b44a3 192.5px,#4b43a2 198.5px,#4b43a2 204.5px,#4a42a1 210.5px,#4a41a0 216.5px,#4a41a0 218.5px)"></i><i style="background:linear-gradient(#1cabb1 0.5px,#1cabb4 6.5px,#1caab6 12.5px,#1da9b9 18.5px,#1caab6 24.5px,#1cabb2 30.5px,#1cabb3 36.5px,#1da6c3 42.5px,#1ea1d3 48.5px,#2694d6 54.5px,#2c8ad4 60.5px,#3180d1 66.5px,#3677cd 72.5px,#3b6ec9 78.5px,#3e6ac5 84.5px,#4067c3 90.5px,#4264c1 96.5px,#4462bf 102.5px,#465fbd 108.5px,#485bba 114.5px,#4a57b7 120.5px,#4b51b1 126.5px,#4c4cab 132.5px,#4d47a6 138.5px,#4c46a5 144.5px,#4c45a4 150.5px,#4c45a4 156.5px,#4b44a3 162.5px,#4b44a3 168.5px,#4b43a2 174.5px,#4b43a2 180.5px,#4a42a1 186.5px,#4a42a1 192.5px,#4a41a0 198.5px,#4a41a0 204.5px,#4941a0 210.5px,#49409f 216.5px,#49409f 218.5px)"></i><i style="background:linear-gradient(#1da4c8 0.5px,#1da4c9 6.5px,#1da3cb 12.5px,#1da3cc 18.5px,#1da4cb 24.5px,#1da4c8 30.5px,#1da3cb 36.5px,#219cd6 42.5px,#2a8ed6 48.5px,#3181d1 54.5px,#3579cd 60.5px,#3971cb 66.5px,#3e6bc6 72.5px,#4264c1 78.5px,#4461bf 84.5px,#455fbe 90.5px,#465ebc 96.5px,#485cbb 102.5px,#4959b9 108.5px,#4b54b4 114.5px,#4c4eae 120.5px,#4d49a8 126.5px,#4c45a4 132.5px,#4b43a2 138.5px,#4a42a1 144.5px,#4a42a1 150.5px,#4a41a0 156.5px,#4a41a0 162.5px,#4a41a0 168.5px,#4941a0 174.5px,#49409f 180.5px,#49409f 186.5px,#49409f 192.5px,#49409f 198.5px,#493f9e 204.5px,#493f9e 210.5px,#493f9e 216.5px,#483f9e 218.5px)"></i><i style="background:linear-gradient(#2e87d3 0.5px,#2d88d4 6.5px,#2c8ad4 12.5px,#2c8bd5 18.5px,#2c8bd5 24.5px,#2c8bd5 30.5px,#2e87d3 36.5px,#347bce 42.5px,#3b6fc9 48.5px,#4166c2 54.5px,#4461bf 60.5px,#475dbc 66.5px,#4959b9 72.5px,#4b55b5 78.5px,#4b53b3 84.5px,#4b52b2 90.5px,#4b51b1 96.5px,#4b50b0 102.5px,#4c4fae 108.5px,#4c4aa9 114.5px,#4c46a5 120.5px,#4b43a2 126.5px,#4a41a0 132.5px,#49409f 138.5px,#493f9e 144.5px,#493f9e 150.5px,#493f9e 156.5px,#493f9e 162.5px,#493f9e 168.5px,#493f9e 174.5px,#483f9e 180.5px,#483f9e 186.5px,#483f9e 192.5px,#483f9e 198.5px,#483e9d 204.5px,#483e9d 210.5px,#483e9d 216.5px,#483e9d 218.5px)"></i><i style="background:linear-gradient(#4461bf 0.5px,#4264c1 6.5px,#4067c3 12.5px,#3f69c5 18.5px,#3f69c5 24.5px,#3f68c4 30.5px,#4265c2 36.5px,#475dbc 42.5px,#4b55b5 48.5px,#4c4dad 54.5px,#4c4aaa 60.5px,#4d48a8 66.5px,#4d47a6 72.5px,#4c45a4 78.5px,#4c45a4 84.5px,#4c45a4 90.5px,#4c45a4 96.5px,#4c45a4 102.5px,#4c45a4 108.5px,#4b43a2 114.5px,#4a41a0 120.5px,#49409f 126.5px,#483f9e 132.5px,#483e9d 138.5px,#483e9d 144.5px,#483e9d 150.5px,#483e9d 156.5px,#483e9d 162.5px,#483e9d 168.5px,#483e9d 174.5px,#483e9d 180.5px,#483e9d 186.5px,#483e9d 192.5px,#483e9d 198.5px,#483e9d 204.5px,#483e9d 210.5px,#483e9d 216.5px,#483e9d 218.5px)"></i><i style="background:linear-gradient(#4d47a6 0.5px,#4d4aa9 6.5px,#4c4dac 12.5px,#4c4faf 18.5px,#4c4faf 24.5px,#4c4eae 30.5px,#4c4cab 36.5px,#4d47a6 42.5px,#4b44a3 48.5px,#4a41a0 54.5px,#4a41a0 60.5px,#4941a0 66.5px,#49409f 72.5px,#49409f 78.5px,#49409f 84.5px,#49409f 90.5px,#49409f 96.5px,#49409f 102.5px,#49409f 108.5px,#493f9e 114.5px,#483f9e 120.5px,#483e9d 126.5px,#483e9d 132.5px,#483e9d 138.5px,#483e9d 144.5px,#483e9d 150.5px,#483e9d 156.5px,#483e9d 162.5px,#483e9d 168.5px,#483e9d 174.5px,#483e9d 180.5px,#483e9d 186.5px,#483e9d 192.5px,#483e9d 198.5px,#483e9d 204.5px,#483e9d 210.5px,#483e9d 216.5px,#483e9d 218.5px)"></i><i style="background:linear-gradient(#49409f 0.5px,#4941a0 6.5px,#4a41a0 12.5px,#4a42a1 18.5px,#4a42a1 24.5px,#4a42a1 30.5px,#4a41a0 36.5px,#49409f 42.5px,#493f9e 48.5px,#483f9e 54.5px,#483e9d 60.5px,#483e9d 66.5px,#483e9d 72.5px,#483e9d 78.5px,#483e9d 84.5px,#483e9d 90.5px,#483e9d 96.5px,#483e9d 102.5px,#483e9d 108.5px,#483e9d 114.5px,#483e9d 120.5px,#483e9d 126.5px,#483e9d 132.5px,#483e9d 138.5px,#483e9d 144.5px,#483e9d 150.5px,#483e9d 156.5px,#483e9d 162.5px,#483e9d 168.5px,#483e9d 174.5px,#483e9d 180.5px,#483e9d 186.5px,#483e9d 192.5px,#483e9d 198.5px,#483e9d 204.5px,#483e9d 210.5px,#483e9d 216.5px,#483e9d 218.5px)"></i><i style="background:linear-gradient(#483e9d 0.5px,#483e9d 6.5px,#483f9e 12.5px,#493f9e 18.5px,#493f9e 24.5px,#493f9e 30.5px,#493f9e 36.5px,#483e9d 42.5px,#483e9d 48.5px,#483e9d 54.5px,#483e9d 60.5px,#483e9d 66.5px,#483e9d 72.5px,#483e9d 78.5px,#483e9d 84.5px,#483e9d 90.5px,#483e9d 96.5px,#483e9d 102.5px,#483e9d 108.5px,#483e9d 114.5px,#483e9d 120.5px,#483e9d 126.5px,#483e9d 132.5px,#483e9d 138.5px,#483e9d 144.5px,#483e9d 150.5px,#483e9d 156.5px,#483e9d 162.5px,#483e9d 168.5px,#483e9d 174.5px,#483e9d 180.5px,#483e9d 186.5px,#483e9d 192.5px,#483e9d 198.5px,#483e9d 204.5px,#483e9d 210.5px,#483e9d 216.5px,#483e9d 218.5px)"></i><i style="background:linear-gradient(#483e9d 0.5px,#483e9d 6.5px,#483f9e 12.5px,#49409f 18.5px,#4941a0 24.5px,#4a42a1 30.5px,#4a42a1 36.5px,#493f9e 42.5px,#483e9d 48.5px,#483e9d 54.5px,#483e9d 60.5px,#483e9d 66.5px,#483e9d 72.5px,#483e9d 78.5px,#483e9d 84.5px,#483e9d 90.5px,#483e9d 96.5px,#483e9d 102.5px,#483e9d 108.5px,#483e9d 114.5px,#483e9d 120.5px,#483e9d 126.5px,#483e9d 132.5px,#483e9d 138.5px,#483e9d 144.5px,#483e9d 150.5px,#483e9d 156.5px,#483e9d 162.5px,#483e9d 168.5px,#483e9d 174.5px,#483e9d 180.5px,#483e9d 186.5px,#483e9d 192.5px,#483e9d 198.5px,#483e9d 204.5px,#483e9d 210.5px,#483e9d 216.5px,#483e9d 218.5px)"></i><i style="background:linear-gradient(#493f9e 0.5px,#49409f 6.5px,#4a42a1 12.5px,#4c45a4 18.5px,#4d47a6 24.5px,#4c4bab 30.5px,#4c4baa 36.5px,#4b43a2 42.5px,#49409f 48.5px,#483e9d 54.5px,#483e9d 60.5px,#483e9d 66.5px,#483e9d 72.5px,#483e9d 78.5px,#483e9d 84.5px,#483e9d 90.5px,#483e9d 96.5px,#483e9d 102.5px,#483e9d 108.5px,#483e9d 114.5px,#483e9d 120.5px,#483f9e 126.5px,#483f9e 132.5px,#483f9e 138.5px,#483f9e 144.5px,#483f9e 150.5px,#483f9e 156.5px,#483f9e 162.5px,#483f9e 168.5px,#483f9e 174.5px,#483f9e 180.5px,#483e9d 186.5px,#483e9d 192.5px,#483e9d 198.5px,#483e9d 204.5px,#483e9d 210.5px,#483e9d 216.5px,#483e9d 218.5px)"></i><i style="background:linear-gradient(#4b43a2 0.5px,#4c46a5 6.5px,#4c4cab 12.5px,#4b54b4 18.5px,#485bba 24.5px,#4461bf 30.5px,#4462bf 36.5px,#4b50af 42.5px,#4c44a3 48.5px,#49409f 54.5px,#49409f 60.5px,#493f9e 66.5px,#493f9e 72.5px,#493f9e 78.5px,#493f9e 84.5px,#493f9e 90.5px,#493f9e 96.5px,#493f9e 102.5px,#493f9e 108.5px,#49409f 114.5px,#49409f 120.5px,#49409f 126.5px,#49409f 132.5px,#49409f 138.5px,#49409f 144.5px,#49409f 150.5px,#49409f 156.5px,#49409f 162.5px,#49409f 168.5px,#49409f 174.5px,#493f9e 180.5px,#493f9e 186.5px,#493f9e 192.5px,#493f9e 198.5px,#493f9e 204.5px,#483f9e 210.5px,#483f9e 216.5px,#483f9e 218.5px)"></i><i style="background:linear-gradient(#4c4eae 0.5px,#4a57b7 6.5px,#4560be 12.5px,#3e6ac5 18.5px,#3874cb 24.5px,#327ed0 30.5px,#327fd0 36.5px,#4067c3 42.5px,#4b54b4 48.5px,#4c46a5 54.5px,#4b44a3 60.5px,#4b44a3 66.5px,#4b43a2 72.5px,#4a42a1 78.5px,#4a42a1 84.5px,#4a42a1 90.5px,#4a42a1 96.5px,#4a42a1 102.5px,#4a42a1 108.5px,#4a42a1 114.5px,#4b43a2 120.5px,#4b43a2 126.5px,#4b43a2 132.5px,#4b43a2 138.5px,#4b43a2 144.5px,#4b43a2 150.5px,#4a42a1 156.5px,#4a42a1 162.5px,#4a42a1 168.5px,#4a41a0 174.5px,#4a41a0 180.5px,#4a41a0 186.5px,#4941a0 192.5px,#49409f 198.5px,#49409f 204.5px,#49409f 210.5px,#49409f 216.5px,#49409f 218.5px)"></i><i style="background:linear-gradient(#4362bf 0.5px,#3d6bc6 6.5px,#3677cd 12.5px,#3083d2 18.5px,#298fd6 24.5px,#219cd6 30.5px,#209ed6 36.5px,#3182d1 42.5px,#3f69c5 48.5px,#4a56b6 54.5px,#4b51b1 60.5px,#4c4fae 66.5px,#4c4cab 72.5px,#4d4aa9 78.5px,#4d49a8 84.5px,#4d48a7 90.5px,#4d48a7 96.5px,#4d47a6 102.5px,#4d47a6 108.5px,#4d47a6 114.5px,#4d47a6 120.5px,#4d47a6 126.5px,#4d47a6 132.5px,#4d46a5 138.5px,#4c46a5 144.5px,#4c45a4 150.5px,#4c45a4 156.5px,#4b44a3 162.5px,#4b44a3 168.5px,#4b43a2 174.5px,#4b43a2 180.5px,#4b43a2 186.5px,#4a42a1 192.5px,#4a42a1 198.5px,#4a42a1 204.5px,#4a41a0 210.5px,#4a41a0 216.5px,#4a41a0 218.5px)"></i><i style="background:linear-gradient(#3874cc 0.5px,#327fd0 6.5px,#2c8bd5 12.5px,#2497d6 18.5px,#1ea1d3 24.5px,#1da5c5 30.5px,#1da6c2 36.5px,#2398d6 42.5px,#337dcf 48.5px,#4066c3 54.5px,#4461bf 60.5px,#465dbc 66.5px,#495ab9 72.5px,#4a56b6 78.5px,#4b54b4 84.5px,#4b52b2 90.5px,#4b51b1 96.5px,#4c4faf 102.5px,#4c4ead 108.5px,#4c4dac 114.5px,#4c4cac 120.5px,#4c4cab 126.5px,#4c4aaa 132.5px,#4d49a8 138.5px,#4d48a7 144.5px,#4d47a6 150.5px,#4d46a5 156.5px,#4c46a5 162.5px,#4c45a4 168.5px,#4c45a4 174.5px,#4b44a3 180.5px,#4b44a3 186.5px,#4b43a2 192.5px,#4b43a2 198.5px,#4b43a2 204.5px,#4a42a1 210.5px,#4a42a1 216.5px,#4a42a1 218.5px)"></i><i style="background:linear-gradient(#3181d1 0.5px,#2c8bd5 6.5px,#2596d6 12.5px,#1ea0d6 18.5px,#1da4c9 24.5px,#1da8bb 30.5px,#1ca9b9 36.5px,#1ea1d3 42.5px,#2c8ad4 48.5px,#3972cb 54.5px,#3d6bc6 60.5px,#4067c3 66.5px,#4362c0 72.5px,#465ebc 78.5px,#485bba 84.5px,#4959b9 90.5px,#4a57b7 96.5px,#4b55b5 102.5px,#4b53b3 108.5px,#4b51b1 114.5px,#4b50af 120.5px,#4c4ead 126.5px,#4c4cac 132.5px,#4c4aaa 138.5px,#4d49a8 144.5px,#4d48a7 150.5px,#4d47a6 156.5px,#4d47a6 162.5px,#4c46a5 168.5px,#4c45a4 174.5px,#4c45a4 180.5px,#4b44a3 186.5px,#4b44a3 192.5px,#4b44a3 198.5px,#4b43a2 204.5px,#4b43a2 210.5px,#4b43a2 216.5px,#4a42a1 218.5px)"></i><i style="background:linear-gradient(#2f85d2 0.5px,#2a8ed6 6.5px,#2398d6 12.5px,#1ea1d4 18.5px,#1da4c7 24.5px,#1da8bb 30.5px,#1ca9b8 36.5px,#1ea2d0 42.5px,#2a8ed6 48.5px,#3677cd 54.5px,#3a6fca 60.5px,#3e6ac6 66.5px,#4165c2 72.5px,#4460be 78.5px,#465ebc 84.5px,#485cbb 90.5px,#495ab9 96.5px,#4a57b7 102.5px,#4b55b5 108.5px,#4b53b2 114.5px,#4b51b0 120.5px,#4c4fae 126.5px,#4c4dac 132.5px,#4c4baa 138.5px,#4d49a8 144.5px,#4d48a7 150.5px,#4d47a6 156.5px,#4d47a6 162.5px,#4c46a5 168.5px,#4c45a4 174.5px,#4c45a4 180.5px,#4b44a3 186.5px,#4b44a3 192.5px,#4b44a3 198.5px,#4b43a2 204.5px,#4b43a2 210.5px,#4b43a2 216.5px,#4a42a1 218.5px)"></i><i style="background:linear-gradient(#3082d1 0.5px,#2c8bd5 6.5px,#2695d6 12.5px,#1f9ed6 18.5px,#1ea3cd 24.5px,#1da6c2 30.5px,#1da7c0 36.5px,#1ea0d6 42.5px,#2c8bd5 48.5px,#3776cc 54.5px,#3b6ec9 60.5px,#3e6ac5 66.5px,#4265c1 72.5px,#4560be 78.5px,#475dbc 84.5px,#485bba 90.5px,#4959b9 96.5px,#4a57b7 102.5px,#4b54b4 108.5px,#4b52b2 114.5px,#4b50af 120.5px,#4c4ead 126.5px,#4c4bab 132.5px,#4d49a8 138.5px,#4d48a7 144.5px,#4d47a6 150.5px,#4d46a5 156.5px,#4c46a5 162.5px,#4c45a4 168.5px,#4c45a4 174.5px,#4b44a3 180.5px,#4b44a3 186.5px,#4b43a2 192.5px,#4b43a2 198.5px,#4b43a2 204.5px,#4a42a1 210.5px,#4a42a1 216.5px,#4a42a1 218.5px)"></i><i style="background:linear-gradient(#3677cd 0.5px,#327fd0 6.5px,#2d88d4 12.5px,#2891d6 18.5px,#2399d6 24.5px,#1ea0d6 30.5px,#1ea0d5 36.5px,#2990d6 42.5px,#327fd0 48.5px,#3c6dc8 54.5px,#4068c4 60.5px,#4264c1 66.5px,#455fbe 72.5px,#485bba 78.5px,#4959b9 84.5px,#4a57b7 90.5px,#4a55b5 96.5px,#4b53b3 102.5px,#4b51b1 108.5px,#4c4fae 114.5px,#4c4dac 120.5px,#4c4aaa 126.5px,#4d48a7 132.5px,#4d46a5 138.5px,#4c46a5 144.5px,#4c45a4 150.5px,#4c45a4 156.5px,#4b44a3 162.5px,#4b44a3 168.5px,#4b43a2 174.5px,#4b43a2 180.5px,#4b43a2 186.5px,#4a42a1 192.5px,#4a42a1 198.5px,#4a42a1 204.5px,#4a41a0 210.5px,#4a41a0 216.5px,#4a41a0 218.5px)"></i><i style="background:linear-gradient(#4165c2 0.5px,#3d6bc6 6.5px,#3972cb 12.5px,#357ace 18.5px,#3280d0 24.5px,#2f84d2 30.5px,#3083d2 36.5px,#3776cd 42.5px,#3e6ac6 48.5px,#455fbd 54.5px,#485bba 60.5px,#4a58b8 66.5px,#4b55b5 72.5px,#4b51b1 78.5px,#4b50af 84.5px,#4c4fae 90.5px,#4c4dad 96.5px,#4c4cac 102.5px,#4c4baa 108.5px,#4d49a8 114.5px,#4d47a6 120.5px,#4c46a5 126.5px,#4c45a4 132.5px,#4b43a2 138.5px,#4b43a2 144.5px,#4b43a2 150.5px,#4a42a1 156.5px,#4a42a1 162.5px,#4a42a1 168.5px,#4a41a0 174.5px,#4a41a0 180.5px,#4a41a0 186.5px,#4941a0 192.5px,#49409f 198.5px,#49409f 204.5px,#49409f 210.5px,#49409f 216.5px,#49409f 218.5px)"></i><i style="background:linear-gradient(#4b52b1 0.5px,#4a57b7 6.5px,#475cbb 12.5px,#4362bf 18.5px,#4265c1 24.5px,#4166c2 30.5px,#4265c2 36.5px,#465dbc 42.5px,#4a56b5 48.5px,#4c4dad 54.5px,#4c4baa 60.5px,#4d49a8 66.5px,#4d47a6 72.5px,#4c46a5 78.5px,#4c45a4 84.5px,#4c45a4 90.5px,#4c45a4 96.5px,#4c45a4 102.5px,#4c45a4 108.5px,#4b44a3 114.5px,#4b43a2 120.5px,#4a42a1 126.5px,#4a41a0 132.5px,#4941a0 138.5px,#49409f 144.5px,#49409f 150.5px,#49409f 156.5px,#49409f 162.5px,#49409f 168.5px,#49409f 174.5px,#493f9e 180.5px,#493f9e 186.5px,#493f9e 192.5px,#493f9e 198.5px,#493f9e 204.5px,#483f9e 210.5px,#483f9e 216.5px,#483f9e 218.5px)"></i><i style="background:linear-gradient(#4b44a3 0.5px,#4c46a5 6.5px,#4d49a8 12.5px,#4c4dac 18.5px,#4c4eae 24.5px,#4c4fae 30.5px,#4c4dad 36.5px,#4d48a7 42.5px,#4c45a4 48.5px,#4a42a1 54.5px,#4a42a1 60.5px,#4a41a0 66.5px,#4a41a0 72.5px,#4941a0 78.5px,#4941a0 84.5px,#4941a0 90.5px,#4a41a0 96.5px,#4a41a0 102.5px,#4a41a0 108.5px,#49409f 114.5px,#49409f 120.5px,#49409f 126.5px,#493f9e 132.5px,#493f9e 138.5px,#483f9e 144.5px,#483f9e 150.5px,#483f9e 156.5px,#483f9e 162.5px,#483f9e 168.5px,#483f9e 174.5px,#483f9e 180.5px,#483e9d 186.5px,#483e9d 192.5px,#483e9d 198.5px,#483e9d 204.5px,#483e9d 210.5px,#483e9d 216.5px,#483e9d 218.5px)"></i><i style="background:linear-gradient(#493f9e 0.5px,#49409f 6.5px,#4a41a0 12.5px,#4a42a1 18.5px,#4b43a2 24.5px,#4b43a2 30.5px,#4a42a1 36.5px,#4a41a0 42.5px,#49409f 48.5px,#493f9e 54.5px,#483f9e 60.5px,#483f9e 66.5px,#483f9e 72.5px,#483f9e 78.5px,#483f9e 84.5px,#483f9e 90.5px,#483f9e 96.5px,#483f9e 102.5px,#483f9e 108.5px,#483f9e 114.5px,#483f9e 120.5px,#483e9d 126.5px,#483e9d 132.5px,#483e9d 138.5px,#483e9d 144.5px,#483e9d 150.5px,#483e9d 156.5px,#483e9d 162.5px,#483e9d 168.5px,#483e9d 174.5px,#483e9d 180.5px,#483e9d 186.5px,#483e9d 192.5px,#483e9d 198.5px,#483e9d 204.5px,#483e9d 210.5px,#483e9d 216.5px,#483e9d 218.5px)"></i><i style="background:linear-gradient(#483e9d 0.5px,#483e9d 6.5px,#483f9e 12.5px,#493f9e 18.5px,#49409f 24.5px,#49409f 30.5px,#49409f 36.5px,#483f9e 42.5px,#483e9d 48.5px,#483e9d 54.5px,#483e9d 60.5px,#483e9d 66.5px,#483e9d 72.5px,#483e9d 78.5px,#483e9d 84.5px,#483e9d 90.5px,#483e9d 96.5px,#483e9d 102.5px,#483e9d 108.5px,#483e9d 114.5px,#483e9d 120.5px,#483e9d 126.5px,#483e9d 132.5px,#483e9d 138.5px,#483e9d 144.5px,#483e9d 150.5px,#483e9d 156.5px,#483e9d 162.5px,#483e9d 168.5px,#483e9d 174.5px,#483e9d 180.5px,#483e9d 186.5px,#483e9d 192.5px,#483e9d 198.5px,#483e9d 204.5px,#483e9d 210.5px,#483e9d 216.5px,#483e9d 218.5px)"></i><i style="background:linear-gradient(#483e9d 0.5px,#483f9e 6.5px,#493f9e 12.5px,#4941a0 18.5px,#4a42a1 24.5px,#4b43a2 30.5px,#4b43a2 36.5px,#49409f 42.5px,#483e9d 48.5px,#483e9d 54.5px,#483e9d 60.5px,#483e9d 66.5px,#483e9d 72.5px,#483e9d 78.5px,#483e9d 84.5px,#483e9d 90.5px,#483e9d 96.5px,#483e9d 102.5px,#483e9d 108.5px,#483e9d 114.5px,#483e9d 120.5px,#483e9d 126.5px,#483e9d 132.5px,#483e9d 138.5px,#483e9d 144.5px,#483e9d 150.5px,#483e9d 156.5px,#483e9d 162.5px,#483e9d 168.5px,#483e9d 174.5px,#483e9d 180.5px,#483e9d 186.5px,#483e9d 192.5px,#483e9d 198.5px,#483e9d 204.5px,#483e9d 210.5px,#483e9d 216.5px,#483e9d 218.5px)"></i><i style="background:linear-gradient(#493f9e 0.5px,#4941a0 6.5px,#4b43a2 12.5px,#4c46a5 18.5px,#4d49a8 24.5px,#4c4ead 30.5px,#4c4ead 36.5px,#4b44a3 42.5px,#49409f 48.5px,#483f9e 54.5px,#483e9d 60.5px,#483e9d 66.5px,#483e9d 72.5px,#483e9d 78.5px,#483e9d 84.5px,#483e9d 90.5px,#483e9d 96.5px,#483e9d 102.5px,#483f9e 108.5px,#483f9e 114.5px,#483f9e 120.5px,#483f9e 126.5px,#483f9e 132.5px,#483f9e 138.5px,#483f9e 144.5px,#483f9e 150.5px,#483f9e 156.5px,#483f9e 162.5px,#483f9e 168.5px,#483f9e 174.5px,#483f9e 180.5px,#483f9e 186.5px,#483f9e 192.5px,#483e9d 198.5px,#483e9d 204.5px,#483e9d 210.5px,#483e9d 216.5px,#483e9d 218.5px)"></i><i style="background:linear-gradient(#4b43a2 0.5px,#4c46a5 6.5px,#4c4cab 12.5px,#4b53b3 18.5px,#495aba 24.5px,#4560be 30.5px,#4560be 36.5px,#4b51b0 42.5px,#4c45a4 48.5px,#4941a0 54.5px,#49409f 60.5px,#49409f 66.5px,#49409f 72.5px,#49409f 78.5px,#49409f 84.5px,#49409f 90.5px,#49409f 96.5px,#49409f 102.5px,#49409f 108.5px,#49409f 114.5px,#49409f 120.5px,#49409f 126.5px,#49409f 132.5px,#49409f 138.5px,#49409f 144.5px,#49409f 150.5px,#49409f 156.5px,#49409f 162.5px,#49409f 168.5px,#49409f 174.5px,#49409f 180.5px,#49409f 186.5px,#493f9e 192.5px,#493f9e 198.5px,#493f9e 204.5px,#493f9e 210.5px,#483f9e 216.5px,#483f9e 218.5px)"></i><i style="background:linear-gradient(#4c4cab 0.5px,#4b53b3 6.5px,#485bba 12.5px,#4363c0 18.5px,#3e6bc6 24.5px,#3973cb 30.5px,#3874cc 36.5px,#4362bf 42.5px,#4b52b2 48.5px,#4c46a5 54.5px,#4b44a3 60.5px,#4b44a3 66.5px,#4b43a2 72.5px,#4b43a2 78.5px,#4a42a1 84.5px,#4b43a2 90.5px,#4b43a2 96.5px,#4b43a2 102.5px,#4b43a2 108.5px,#4b43a2 114.5px,#4b43a2 120.5px,#4b43a2 126.5px,#4b43a2 132.5px,#4b43a2 138.5px,#4a42a1 144.5px,#4a42a1 150.5px,#4a42a1 156.5px,#4a42a1 162.5px,#4a42a1 168.5px,#4a42a1 174.5px,#4a41a0 180.5px,#4a41a0 186.5px,#4a41a0 192.5px,#4941a0 198.5px,#49409f 204.5px,#49409f 210.5px,#49409f 216.5px,#49409f 218.5px)"></i><i style="background:linear-gradient(#4959b9 0.5px,#4460be 6.5px,#3f68c4 12.5px,#3a71ca 18.5px,#347ace 24.5px,#2f84d2 30.5px,#2e86d3 36.5px,#3972cb 42.5px,#4560be 48.5px,#4b50b0 54.5px,#4c4dac 60.5px,#4c4baa 66.5px,#4d49a9 72.5px,#4d48a7 78.5px,#4d47a6 84.5px,#4d47a6 90.5px,#4d47a6 96.5px,#4d46a5 102.5px,#4d46a5 108.5px,#4c46a5 114.5px,#4c46a5 120.5px,#4c46a5 126.5px,#4c45a4 132.5px,#4c45a4 138.5px,#4c45a4 144.5px,#4b44a3 150.5px,#4b44a3 156.5px,#4b44a3 162.5px,#4b44a3 168.5px,#4b43a2 174.5px,#4b43a2 180.5px,#4b43a2 186.5px,#4a42a1 192.5px,#4a42a1 198.5px,#4a42a1 204.5px,#4a41a0 210.5px,#4a41a0 216.5px,#4a41a0 218.5px)"></i><i style="background:linear-gradient(#4363c0 0.5px,#3e6ac5 6.5px,#3972cb 12.5px,#347bce 18.5px,#2f84d2 24.5px,#2a8ed6 30.5px,#2891d6 36.5px,#337dcf 42.5px,#3e6bc6 48.5px,#485bba 54.5px,#4a57b7 60.5px,#4b54b4 66.5px,#4b52b1 72.5px,#4c4faf 78.5px,#4c4ead 84.5px,#4c4dac 90.5px,#4c4cac 96.5px,#4c4bab 102.5px,#4c4aaa 108.5px,#4d4aa9 114.5px,#4d49a8 120.5px,#4d48a7 126.5px,#4d47a6 132.5px,#4d46a5 138.5px,#4c46a5 144.5px,#4c46a5 150.5px,#4c45a4 156.5px,#4c45a4 162.5px,#4c45a4 168.5px,#4c44a3 174.5px,#4b44a3 180.5px,#4b44a3 186.5px,#4b43a2 192.5px,#4b43a2 198.5px,#4b43a2 204.5px,#4a42a1 210.5px,#4a42a1 216.5px,#4a42a1 218.5px)"></i><i style="background:linear-gradient(#4068c4 0.5px,#3b6ec9 6.5px,#3777cd 12.5px,#327fd0 18.5px,#2d88d4 24.5px,#2792d6 30.5px,#2694d6 36.5px,#3082d1 42.5px,#3a70ca 48.5px,#4560be 54.5px,#485cbb 60.5px,#4959b9 66.5px,#4a57b7 72.5px,#4b54b3 78.5px,#4b52b2 84.5px,#4b51b0 90.5px,#4b50af 96.5px,#4c4eae 102.5px,#4c4dac 108.5px,#4c4cab 114.5px,#4c4baa 120.5px,#4d4aa9 126.5px,#4d48a7 132.5px,#4d47a6 138.5px,#4d47a6 144.5px,#4d46a5 150.5px,#4c46a5 156.5px,#4c46a5 162.5px,#4c45a4 168.5px,#4c45a4 174.5px,#4c45a4 180.5px,#4b44a3 186.5px,#4b44a3 192.5px,#4b44a3 198.5px,#4b43a2 204.5px,#4b43a2 210.5px,#4b43a2 216.5px,#4a42a1 218.5px)"></i><i style="background:linear-gradient(#3f68c4 0.5px,#3b6fc9 6.5px,#3677cd 12.5px,#327fd0 18.5px,#2d88d4 24.5px,#2891d6 30.5px,#2793d6 36.5px,#3082d1 42.5px,#3a71ca 48.5px,#4461bf 54.5px,#475dbc 60.5px,#485bba 66.5px,#4a58b8 72.5px,#4b55b5 78.5px,#4b53b3 84.5px,#4b52b1 90.5px,#4b50b0 96.5px,#4c4faf 102.5px,#4c4ead 108.5px,#4c4cac 114.5px,#4c4baa 120.5px,#4d4aa9 126.5px,#4d48a8 132.5px,#4d47a6 138.5px,#4d47a6 144.5px,#4d46a5 150.5px,#4c46a5 156.5px,#4c46a5 162.5px,#4c45a4 168.5px,#4c45a4 174.5px,#4c45a4 180.5px,#4b44a3 186.5px,#4b44a3 192.5px,#4b44a3 198.5px,#4b43a2 204.5px,#4b43a2 210.5px,#4b43a2 216.5px,#4a42a1 218.5px)"></i><i style="background:linear-gradient(#4166c3 0.5px,#3c6cc7 6.5px,#3873cb 12.5px,#347bce 18.5px,#3083d2 24.5px,#2c8bd5 30.5px,#2b8dd5 36.5px,#337dcf 42.5px,#3c6ec8 48.5px,#4560be 54.5px,#485cbb 60.5px,#4959b9 66.5px,#4a57b7 72.5px,#4b54b3 78.5px,#4b52b2 84.5px,#4b51b0 90.5px,#4b50af 96.5px,#4c4eae 102.5px,#4c4dac 108.5px,#4c4cab 114.5px,#4c4aaa 120.5px,#4d49a8 126.5px,#4d48a7 132.5px,#4d46a5 138.5px,#4c46a5 144.5px,#4c46a5 150.5px,#4c45a4 156.5px,#4c45a4 162.5px,#4c45a4 168.5px,#4c44a3 174.5px,#4b44a3 180.5px,#4b44a3 186.5px,#4b43a2 192.5px,#4b43a2 198.5px,#4b43a2 204.5px,#4a42a1 210.5px,#4a42a1 216.5px,#4a42a1 218.5px)"></i><i style="background:linear-gradient(#455fbd 0.5px,#4165c2 6.5px,#3d6bc6 12.5px,#3971cb 18.5px,#3678cd 24.5px,#337ecf 30.5px,#327ed0 36.5px,#3972cb 42.5px,#4166c2 48.5px,#485aba 54.5px,#4a57b7 60.5px,#4b54b4 66.5px,#4b52b1 72.5px,#4c4faf 78.5px,#4c4ead 84.5px,#4c4dac 90.5px,#4c4cac 96.5px,#4c4bab 102.5px,#4c4aaa 108.5px,#4d49a8 114.5px,#4d48a7 120.5px,#4d47a6 126.5px,#4c46a5 132.5px,#4c45a4 138.5px,#4c45a4 144.5px,#4b44a3 150.5px,#4b44a3 156.5px,#4b44a3 162.5px,#4b44a3 168.5px,#4b43a2 174.5px,#4b43a2 180.5px,#4b43a2 186.5px,#4a42a1 192.5px,#4a42a1 198.5px,#4a42a1 204.5px,#4a41a0 210.5px,#4a41a0 216.5px,#4a41a0 218.5px)"></i><i style="background:linear-gradient(#4b54b4 0.5px,#4959b9 6.5px,#465ebd 12.5px,#4264c1 18.5px,#4068c4 24.5px,#3e6bc6 30.5px,#3e6ac6 36.5px,#4362bf 42.5px,#4959b9 48.5px,#4b50af 54.5px,#4c4dac 60.5px,#4c4baa 66.5px,#4d49a9 72.5px,#4d48a7 78.5px,#4d47a6 84.5px,#4d47a6 90.5px,#4d47a6 96.5px,#4d46a5 102.5px,#4c46a5 108.5px,#4c45a4 114.5px,#4c45a4 120.5px,#4b44a3 126.5px,#4b43a2 132.5px,#4b43a2 138.5px,#4a42a1 144.5px,#4a42a1 150.5px,#4a42a1 156.5px,#4a42a1 162.5px,#4a42a1 168.5px,#4a42a1 174.5px,#4a41a0 180.5px,#4a41a0 186.5px,#4a41a0 192.5px,#4941a0 198.5px,#49409f 204.5px,#49409f 210.5px,#49409f 216.5px,#49409f 218.5px)"></i><i style="background:linear-gradient(#4d47a6 0.5px,#4c4aaa 6.5px,#4c4faf 12.5px,#4b54b4 18.5px,#4a57b7 24.5px,#4a58b8 30.5px,#4a58b8 36.5px,#4b51b0 42.5px,#4c4aa9 48.5px,#4c45a4 54.5px,#4b44a3 60.5px,#4b44a3 66.5px,#4b43a2 72.5px,#4b43a2 78.5px,#4a42a1 84.5px,#4b43a2 90.5px,#4b43a2 96.5px,#4b43a2 102.5px,#4b43a2 108.5px,#4a42a1 114.5px,#4a42a1 120.5px,#4a41a0 126.5px,#4a41a0 132.5px,#49409f 138.5px,#49409f 144.5px,#49409f 150.5px,#49409f 156.5px,#49409f 162.5px,#49409f 168.5px,#49409f 174.5px,#49409f 180.5px,#49409f 186.5px,#493f9e 192.5px,#493f9e 198.5px,#493f9e 204.5px,#493f9e 210.5px,#483f9e 216.5px,#483f9e 218.5px)"></i><i style="background:linear-gradient(#4a41a0 0.5px,#4a42a1 6.5px,#4b44a3 12.5px,#4c46a5 18.5px,#4d47a6 24.5px,#4d47a6 30.5px,#4d47a6 36.5px,#4b44a3 42.5px,#4a42a1 48.5px,#49409f 54.5px,#49409f 60.5px,#49409f 66.5px,#49409f 72.5px,#49409f 78.5px,#49409f 84.5px,#49409f 90.5px,#49409f 96.5px,#49409f 102.5px,#49409f 108.5px,#49409f 114.5px,#493f9e 120.5px,#493f9e 126.5px,#493f9e 132.5px,#493f9e 138.5px,#483f9e 144.5px,#483f9e 150.5px,#483f9e 156.5px,#483f9e 162.5px,#483f9e 168.5px,#483f9e 174.5px,#483f9e 180.5px,#483f9e 186.5px,#483f9e 192.5px,#483e9d 198.5px,#483e9d 204.5px,#483e9d 210.5px,#483e9d 216.5px,#483e9d 218.5px)"></i><i style="background:linear-gradient(#483f9e 0.5px,#493f9e 6.5px,#49409f 12.5px,#4941a0 18.5px,#4a41a0 24.5px,#4a41a0 30.5px,#4a41a0 36.5px,#49409f 42.5px,#493f9e 48.5px,#483f9e 54.5px,#483e9d 60.5px,#483e9d 66.5px,#483e9d 72.5px,#483e9d 78.5px,#483e9d 84.5px,#483e9d 90.5px,#483e9d 96.5px,#483e9d 102.5px,#483f9e 108.5px,#483e9d 114.5px,#483e9d 120.5px,#483e9d 126.5px,#483e9d 132.5px,#483e9d 138.5px,#483e9d 144.5px,#483e9d 150.5px,#483e9d 156.5px,#483e9d 162.5px,#483e9d 168.5px,#483e9d 174.5px,#483e9d 180.5px,#483e9d 186.5px,#483e9d 192.5px,#483e9d 198.5px,#483e9d 204.5px,#483e9d 210.5px,#483e9d 216.5px,#483e9d 218.5px)"></i><i style="background:linear-gradient(#483e9d 0.5px,#483e9d 6.5px,#483e9d 12.5px,#483f9e 18.5px,#483f9e 24.5px,#483f9e 30.5px,#483f9e 36.5px,#483e9d 42.5px,#483e9d 48.5px,#483e9d 54.5px,#483e9d 60.5px,#483e9d 66.5px,#483e9d 72.5px,#483e9d 78.5px,#483e9d 84.5px,#483e9d 90.5px,#483e9d 96.5px,#483e9d 102.5px,#483e9d 108.5px,#483e9d 114.5px,#483e9d 120.5px,#483e9d 126.5px,#483e9d 132.5px,#483e9d 138.5px,#483e9d 144.5px,#483e9d 150.5px,#483e9d 156.5px,#483e9d 162.5px,#483e9d 168.5px,#483e9d 174.5px,#483e9d 180.5px,#483e9d 186.5px,#483e9d 192.5px,#483e9d 198.5px,#483e9d 204.5px,#483e9d 210.5px,#483e9d 216.5px,#483e9d 218.5px)"></i><i style="background:linear-gradient(#483e9d 0.5px,#483e9d 6.5px,#483e9d 12.5px,#483e9d 18.5px,#483e9d 24.5px,#483e9d 30.5px,#483e9d 36.5px,#483e9d 42.5px,#483e9d 48.5px,#483e9d 54.5px,#483e9d 60.5px,#483e9d 66.5px,#483e9d 72.5px,#483e9d 78.5px,#483e9d 84.5px,#483e9d 90.5px,#483e9d 96.5px,#483e9d 102.5px,#483e9d 108.5px,#483e9d 114.5px,#483e9d 120.5px,#483e9d 126.5px,#483e9d 132.5px,#483e9d 138.5px,#483e9d 144.5px,#483e9d 150.5px,#483e9d 156.5px,#483e9d 162.5px,#483e9d 168.5px,#483e9d 174.5px,#483e9d 180.5px,#483e9d 186.5px,#483e9d 192.5px,#483e9d 198.5px,#483e9d 204.5px,#483e9d 210.5px,#483e9d 216.5px,#483e9d 218.5px)"></i><i style="background:linear-gradient(#483e9d 0.5px,#483e9d 6.5px,#483e9d 12.5px,#483e9d 18.5px,#483e9d 24.5px,#483e9d 30.5px,#483e9d 36.5px,#483e9d 42.5px,#483e9d 48.5px,#483e9d 54.5px,#483e9d 60.5px,#483e9d 66.5px,#483e9d 72.5px,#483e9d 78.5px,#483e9d 84.5px,#483e9d 90.5px,#483e9d 96.5px,#483e9d 102.5px,#483e9d 108.5px,#483e9d 114.5px,#483e9d 120.5px,#483e9d 126.5px,#483e9d 132.5px,#483e9d 138.5px,#483e9d 144.5px,#483e9d 150.5px,#483e9d 156.5px,#483e9d 162.5px,#483e9d 168.5px,#483e9d 174.5px,#483e9d 180.5px,#483e9d 186.5px,#483e9d 192.5px,#483e9d 198.5px,#483e9d 204.5px,#483e9d 210.5px,#483e9d 216.5px,#483e9d 218.5px)"></i><i style="background:linear-gradient(#483e9d 0.5px,#483e9d 6.5px,#483e9d 12.5px,#483e9d 18.5px,#483e9d 24.5px,#483e9d 30.5px,#483e9d 36.5px,#483e9d 42.5px,#483e9d 48.5px,#483e9d 54.5px,#483e9d 60.5px,#483e9d 66.5px,#483e9d 72.5px,#483e9d 78.5px,#483e9d 84.5px,#483e9d 90.5px,#483e9d 96.5px,#483e9d 102.5px,#483e9d 108.5px,#483e9d 114.5px,#483e9d 120.5px,#483e9d 126.5px,#483e9d 132.5px,#483e9d 138.5px,#483e9d 144.5px,#483e9d 150.5px,#483e9d 156.5px,#483e9d 162.5px,#483e9d 168.5px,#483e9d 174.5px,#483e9d 180.5px,#483e9d 186.5px,#483e9d 192.5px,#483e9d 198.5px,#483e9d 204.5px,#483e9d 210.5px,#483e9d 216.5px,#483e9d 218.5px)"></i><i style="background:linear-gradient(#483e9d 0.5px,#483e9d 6.5px,#483e9d 12.5px,#483e9d 18.5px,#483e9d 24.5px,#483e9d 30.5px,#483e9d 36.5px,#483e9d 42.5px,#483e9d 48.5px,#483e9d 54.5px,#483e9d 60.5px,#483e9d 66.5px,#483e9d 72.5px,#483e9d 78.5px,#483e9d 84.5px,#483e9d 90.5px,#483e9d 96.5px,#483e9d 102.5px,#483e9d 108.5px,#483e9d 114.5px,#483e9d 120.5px,#483e9d 126.5px,#483e9d 132.5px,#483e9d 138.5px,#483e9d 144.5px,#483e9d 150.5px,#483e9d 156.5px,#483e9d 162.5px,#483e9d 168.5px,#483e9d 174.5px,#483e9d 180.5px,#483e9d 186.5px,#483e9d 192.5px,#483e9d 198.5px,#483e9d 204.5px,#483e9d 210.5px,#483e9d 216.5px,#483e9d 218.5px)"></i><i style="background:linear-gradient(#483e9d 0.5px,#483e9d 6.5px,#483e9d 12.5px,#483e9d 18.5px,#483e9d 24.5px,#483e9d 30.5px,#483e9d 36.5px,#483e9d 42.5px,#483e9d 48.5px,#483e9d 54.5px,#483e9d 60.5px,#483e9d 66.5px,#483e9d 72.5px,#483e9d 78.5px,#483e9d 84.5px,#483e9d 90.5px,#483e9d 96.5px,#483e9d 102.5px,#483e9d 108.5px,#483e9d 114.5px,#483e9d 120.5px,#483e9d 126.5px,#483e9d 132.5px,#483e9d 138.5px,#483e9d 144.5px,#483e9d 150.5px,#483e9d 156.5px,#483e9d 162.5px,#483e9d 168.5px,#483e9d 174.5px,#483e9d 180.5px,#483e9d 186.5px,#483e9d 192.5px,#483e9d 198.5px,#483e9d 204.5px,#483e9d 210.5px,#483e9d 216.5px,#483e9d 218.5px)"></i><i style="background:linear-gradient(#483e9d 0.5px,#483e9d 6.5px,#483e9d 12.5px,#483e9d 18.5px,#483e9d 24.5px,#483e9d 30.5px,#483e9d 36.5px,#483e9d 42.5px,#483e9d 48.5px,#483e9d 54.5px,#483e9d 60.5px,#483e9d 66.5px,#483e9d 72.5px,#483e9d 78.5px,#483e9d 84.5px,#483e9d 90.5px,#483e9d 96.5px,#483e9d 102.5px,#483e9d 108.5px,#483e9d 114.5px,#483e9d 120.5px,#483e9d 126.5px,#483e9d 132.5px,#483e9d 138.5px,#483e9d 144.5px,#483e9d 150.5px,#483e9d 156.5px,#483e9d 162.5px,#483e9d 168.5px,#483e9d 174.5px,#483e9d 180.5px,#483e9d 186.5px,#483e9d 192.5px,#483e9d 198.5px,#483e9d 204.5px,#483e9d 210.5px,#483e9d 216.5px,#483e9d 218.5px)"></i></div><div class="hm" style="left:359px"><i style="background:linear-gradient(#483e9d 0.5px,#483e9d 6.5px,#483e9d 12.5px,#483e9d 18.5px,#483e9d 24.5px,#483e9d 30.5px,#483e9d 36.5px,#483e9d 42.5px,#483e9d 48.5px,#483e9d 54.5px,#483e9d 60.5px,#483e9d 66.5px,#483e9d 72.5px,#483e9d 78.5px,#483e9d 84.5px,#483e9d 90.5px,#483e9d 96.5px,#483e9d 102.5px,#483e9d 108.5px,#483e9d 114.5px,#483e9d 120.5px,#483e9d 126.5px,#483e9d 132.5px,#483e9d 138.5px,#483e9d 144.5px,#483e9d 150.5px,#483e9d 156.5px,#483e9d 162.5px,#483e9d 168.5px,#483e9d 174.5px,#483e9d 180.5px,#483e9d 186.5px,#483e9d 192.5px,#483e9d 198.5px,#483e9d 204.5px,#483e9d 210.5px,#483e9d 216.5px,#483e9d 218.5px)"></i><i style="background:linear-gradient(#483e9d 0.5px,#483e9d 6.5px,#483e9d 12.5px,#483e9d 18.5px,#483e9d 24.5px,#483e9d 30.5px,#483e9d 36.5px,#483e9d 42.5px,#483e9d 48.5px,#483e9d 54.5px,#483e9d 60.5px,#483e9d 66.5px,#483e9d 72.5px,#483e9d 78.5px,#483e9d 84.5px,#483e9d 90.5px,#483e9d 96.5px,#483e9d 102.5px,#483e9d 108.5px,#483e9d 114.5px,#483e9d 120.5px,#483e9d 126.5px,#483e9d 132.5px,#483e9d 138.5px,#483e9d 144.5px,#483e9d 150.5px,#483e9d 156.5px,#483e9d 162.5px,#483e9d 168.5px,#483e9d 174.5px,#483e9d 180.5px,#483e9d 186.5px,#483e9d 192.5px,#483e9d 198.5px,#483e9d 204.5px,#483e9d 210.5px,#483e9d 216.5px,#483e9d 218.5px)"></i><i style="background:linear-gradient(#493f9e 0.5px,#493f9e 6.5px,#493f9e 12.5px,#493f9e 18.5px,#493f9e 24.5px,#493f9e 30.5px,#493f9e 36.5px,#493f9e 42.5px,#493f9e 48.5px,#493f9e 54.5px,#493f9e 60.5px,#493f9e 66.5px,#493f9e 72.5px,#493f9e 78.5px,#493f9e 84.5px,#493f9e 90.5px,#493f9e 96.5px,#493f9e 102.5px,#493f9e 108.5px,#493f9e 114.5px,#493f9e 120.5px,#493f9e 126.5px,#493f9e 132.5px,#493f9e 138.5px,#493f9e 144.5px,#493f9e 150.5px,#493f9e 156.5px,#493f9e 162.5px,#493f9e 168.5px,#493f9e 174.5px,#493f9e 180.5px,#493f9e 186.5px,#493f9e 192.5px,#493f9e 198.5px,#493f9e 204.5px,#493f9e 210.5px,#493f9e 216.5px,#493f9e 218.5px)"></i><i style="background:linear-gradient(#4a41a0 0.5px,#4a41a0 6.5px,#4a41a0 12.5px,#4a41a0 18.5px,#4a41a0 24.5px,#4a41a0 30.5px,#4a41a0 36.5px,#4a41a0 42.5px,#4a41a0 48.5px,#4a41a0 54.5px,#4a41a0 60.5px,#4a41a0 66.5px,#4a41a0 72.5px,#4a41a0 78.5px,#4a41a0 84.5px,#4a41a0 90.5px,#4a41a0 96.5px,#4a41a0 102.5px,#4a41a0 108.5px,#4a41a0 114.5px,#4a41a0 120.5px,#4a41a0 126.5px,#4a41a0 132.5px,#4a41a0 138.5px,#4a41a0 144.5px,#4a41a0 150.5px,#4a41a0 156.5px,#4a41a0 162.5px,#4a41a0 168.5px,#4a41a0 174.5px,#4a41a0 180.5px,#4a41a0 186.5px,#4a41a0 192.5px,#4a41a0 198.5px,#4a41a0 204.5px,#4a41a0 210.5px,#4a41a0 216.5px,#4a41a0 218.5px)"></i><i style="background:linear-gradient(#4b43a2 0.5px,#4b43a2 6.5px,#4b43a2 12.5px,#4b43a2 18.5px,#4b43a2 24.5px,#4b43a2 30.5px,#4b43a2 36.5px,#4b43a2 42.5px,#4b43a2 48.5px,#4b43a2 54.5px,#4b43a2 60.5px,#4b43a2 66.5px,#4b43a2 72.5px,#4b43a2 78.5px,#4b43a2 84.5px,#4b43a2 90.5px,#4b43a2 96.5px,#4b43a2 102.5px,#4b43a2 108.5px,#4b43a2 114.5px,#4b43a2 120.5px,#4b43a2 126.5px,#4b43a2 132.5px,#4b43a2 138.5px,#4b43a2 144.5px,#4b43a2 150.5px,#4b43a2 156.5px,#4b43a2 162.5px,#4b43a2 168.5px,#4b43a2 174.5px,#4b43a2 180.5px,#4b43a2 186.5px,#4b43a2 192.5px,#4b43a2 198.5px,#4b43a2 204.5px,#4b43a2 210.5px,#4b43a2 216.5px,#4b43a2 218.5px)"></i><i style="background:linear-gradient(#4b44a3 0.5px,#4b44a3 6.5px,#4b44a3 12.5px,#4b44a3 18.5px,#4b44a3 24.5px,#4b44a3 30.5px,#4b44a3 36.5px,#4b44a3 42.5px,#4b44a3 48.5px,#4b44a3 54.5px,#4b44a3 60.5px,#4b44a3 66.5px,#4b44a3 72.5px,#4b44a3 78.5px,#4b44a3 84.5px,#4b44a3 90.5px,#4b44a3 96.5px,#4b44a3 102.5px,#4b44a3 108.5px,#4b44a3 114.5px,#4b44a3 120.5px,#4b44a3 126.5px,#4b44a3 132.5px,#4b44a3 138.5px,#4b44a3 144.5px,#4b44a3 150.5px,#4b44a3 156.5px,#4b44a3 162.5px,#4b44a3 168.5px,#4b44a3 174.5px,#4b44a3 180.5px,#4b44a3 186.5px,#4b44a3 192.5px,#4b44a3 198.5px,#4b44a3 204.5px,#4b44a3 210.5px,#4b44a3 216.5px,#4b44a3 218.5px)"></i><i style="background:linear-gradient(#4b44a3 0.5px,#4b44a3 6.5px,#4b44a3 12.5px,#4b44a3 18.5px,#4b44a3 24.5px,#4b44a3 30.5px,#4b44a3 36.5px,#4b44a3 42.5px,#4b44a3 48.5px,#4b44a3 54.5px,#4b44a3 60.5px,#4b44a3 66.5px,#4b44a3 72.5px,#4b44a3 78.5px,#4b44a3 84.5px,#4b44a3 90.5px,#4b44a3 96.5px,#4b44a3 102.5px,#4b44a3 108.5px,#4b44a3 114.5px,#4b44a3 120.5px,#4b44a3 126.5px,#4b44a3 132.5px,#4b44a3 138.5px,#4b44a3 144.5px,#4b44a3 150.5px,#4b44a3 156.5px,#4b44a3 162.5px,#4b44a3 168.5px,#4b44a3 174.5px,#4b44a3 180.5px,#4b44a3 186.5px,#4b44a3 192.5px,#4b44a3 198.5px,#4b44a3 204.5px,#4b44a3 210.5px,#4b44a3 216.5px,#4b44a3 218.5px)"></i><i style="background:linear-gradient(#4b43a2 0.5px,#4b43a2 6.5px,#4b43a2 12.5px,#4b43a2 18.5px,#4b43a2 24.5px,#4b43a2 30.5px,#4b43a2 36.5px,#4b43a2 42.5px,#4b43a2 48.5px,#4b43a2 54.5px,#4b43a2 60.5px,#4b43a2 66.5px,#4b43a2 72.5px,#4b43a2 78.5px,#4b43a2 84.5px,#4b43a2 90.5px,#4b43a2 96.5px,#4b43a2 102.5px,#4b43a2 108.5px,#4b43a2 114.5px,#4b43a2 120.5px,#4b43a2 126.5px,#4b43a2 132.5px,#4b43a2 138.5px,#4b43a2 144.5px,#4b43a2 150.5px,#4b43a2 156.5px,#4b43a2 162.5px,#4b43a2 168.5px,#4b43a2 174.5px,#4b43a2 180.5px,#4b43a2 186.5px,#4b43a2 192.5px,#4b43a2 198.5px,#4b43a2 204.5px,#4b43a2 210.5px,#4b43a2 216.5px,#4b43a2 218.5px)"></i><i style="background:linear-gradient(#4a41a0 0.5px,#4a41a0 6.5px,#4a41a0 12.5px,#4a41a0 18.5px,#4a41a0 24.5px,#4a41a0 30.5px,#4a41a0 36.5px,#4a41a0 42.5px,#4a41a0 48.5px,#4a41a0 54.5px,#4a41a0 60.5px,#4a41a0 66.5px,#4a41a0 72.5px,#4a41a0 78.5px,#4a41a0 84.5px,#4a41a0 90.5px,#4a41a0 96.5px,#4a41a0 102.5px,#4a41a0 108.5px,#4a41a0 114.5px,#4a41a0 120.5px,#4a41a0 126.5px,#4a41a0 132.5px,#4a41a0 138.5px,#4a41a0 144.5px,#4a41a0 150.5px,#4a41a0 156.5px,#4a41a0 162.5px,#4a41a0 168.5px,#4a41a0 174.5px,#4a41a0 180.5px,#4a41a0 186.5px,#4a41a0 192.5px,#4a41a0 198.5px,#4a41a0 204.5px,#4a41a0 210.5px,#4a41a0 216.5px,#4a41a0 218.5px)"></i><i style="background:linear-gradient(#49409f 0.5px,#49409f 6.5px,#49409f 12.5px,#49409f 18.5px,#49409f 24.5px,#49409f 30.5px,#49409f 36.5px,#49409f 42.5px,#49409f 48.5px,#49409f 54.5px,#49409f 60.5px,#49409f 66.5px,#49409f 72.5px,#49409f 78.5px,#49409f 84.5px,#49409f 90.5px,#49409f 96.5px,#49409f 102.5px,#49409f 108.5px,#49409f 114.5px,#49409f 120.5px,#49409f 126.5px,#49409f 132.5px,#49409f 138.5px,#49409f 144.5px,#49409f 150.5px,#49409f 156.5px,#49409f 162.5px,#49409f 168.5px,#49409f 174.5px,#49409f 180.5px,#49409f 186.5px,#49409f 192.5px,#49409f 198.5px,#49409f 204.5px,#49409f 210.5px,#49409f 216.5px,#49409f 218.5px)"></i><i style="background:linear-gradient(#4a41a0 0.5px,#4a41a0 6.5px,#4a41a0 12.5px,#4a41a0 18.5px,#4a41a0 24.5px,#4a41a0 30.5px,#4a41a0 36.5px,#4a41a0 42.5px,#4a41a0 48.5px,#4a41a0 54.5px,#4a41a0 60.5px,#4a41a0 66.5px,#4a41a0 72.5px,#4a41a0 78.5px,#4a41a0 84.5px,#4a41a0 90.5px,#4a41a0 96.5px,#4a41a0 102.5px,#4a41a0 108.5px,#4a41a0 114.5px,#4a41a0 120.5px,#4a41a0 126.5px,#4a41a0 132.5px,#4a41a0 138.5px,#4a41a0 144.5px,#4a41a0 150.5px,#4a41a0 156.5px,#4a41a0 162.5px,#4a41a0 168.5px,#4a41a0 174.5px,#4a41a0 180.5px,#4a41a0 186.5px,#4a41a0 192.5px,#4a41a0 198.5px,#4a41a0 204.5px,#4a41a0 210.5px,#4a41a0 216.5px,#4a41a0 218.5px)"></i><i style="background:linear-gradient(#4b43a2 0.5px,#4b43a2 6.5px,#4b43a2 12.5px,#4b43a2 18.5px,#4b43a2 24.5px,#4b43a2 30.5px,#4b43a2 36.5px,#4b43a2 42.5px,#4b43a2 48.5px,#4b43a2 54.5px,#4b43a2 60.5px,#4b43a2 66.5px,#4b43a2 72.5px,#4b43a2 78.5px,#4b43a2 84.5px,#4b43a2 90.5px,#4b43a2 96.5px,#4b43a2 102.5px,#4b43a2 108.5px,#4b43a2 114.5px,#4b43a2 120.5px,#4b43a2 126.5px,#4b43a2 132.5px,#4b43a2 138.5px,#4b43a2 144.5px,#4b43a2 150.5px,#4b43a2 156.5px,#4b43a2 162.5px,#4b43a2 168.5px,#4b43a2 174.5px,#4b43a2 180.5px,#4b43a2 186.5px,#4b43a2 192.5px,#4b43a2 198.5px,#4b43a2 204.5px,#4b43a2 210.5px,#4b43a2 216.5px,#4b43a2 218.5px)"></i><i style="background:linear-gradient(#4b44a3 0.5px,#4b44a3 6.5px,#4b44a3 12.5px,#4b44a3 18.5px,#4b44a3 24.5px,#4b44a3 30.5px,#4b44a3 36.5px,#4b44a3 42.5px,#4b44a3 48.5px,#4b44a3 54.5px,#4b44a3 60.5px,#4b44a3 66.5px,#4b44a3 72.5px,#4b44a3 78.5px,#4b44a3 84.5px,#4b44a3 90.5px,#4b44a3 96.5px,#4b44a3 102.5px,#4b44a3 108.5px,#4b44a3 114.5px,#4b44a3 120.5px,#4b44a3 126.5px,#4b44a3 132.5px,#4b44a3 138.5px,#4b44a3 144.5px,#4b44a3 150.5px,#4b44a3 156.5px,#4b44a3 162.5px,#4b44a3 168.5px,#4b44a3 174.5px,#4b44a3 180.5px,#4b44a3 186.5px,#4b44a3 192.5px,#4b44a3 198.5px,#4b44a3 204.5px,#4b44a3 210.5px,#4b44a3 216.5px,#4b44a3 218.5px)"></i><i style="background:linear-gradient(#4b44a3 0.5px,#4b44a3 6.5px,#4b44a3 12.5px,#4b44a3 18.5px,#4b44a3 24.5px,#4b44a3 30.5px,#4b44a3 36.5px,#4b44a3 42.5px,#4b44a3 48.5px,#4b44a3 54.5px,#4b44a3 60.5px,#4b44a3 66.5px,#4b44a3 72.5px,#4b44a3 78.5px,#4b44a3 84.5px,#4b44a3 90.5px,#4b44a3 96.5px,#4b44a3 102.5px,#4b44a3 108.5px,#4b44a3 114.5px,#4b44a3 120.5px,#4b44a3 126.5px,#4b44a3 132.5px,#4b44a3 138.5px,#4b44a3 144.5px,#4b44a3 150.5px,#4b44a3 156.5px,#4b44a3 162.5px,#4b44a3 168.5px,#4b44a3 174.5px,#4b44a3 180.5px,#4b44a3 186.5px,#4b44a3 192.5px,#4b44a3 198.5px,#4b44a3 204.5px,#4b44a3 210.5px,#4b44a3 216.5px,#4b44a3 218.5px)"></i><i style="background:linear-gradient(#4b43a2 0.5px,#4b43a2 6.5px,#4b43a2 12.5px,#4b43a2 18.5px,#4b43a2 24.5px,#4b43a2 30.5px,#4b43a2 36.5px,#4b43a2 42.5px,#4b43a2 48.5px,#4b43a2 54.5px,#4b43a2 60.5px,#4b43a2 66.5px,#4b43a2 72.5px,#4b43a2 78.5px,#4b43a2 84.5px,#4b43a2 90.5px,#4b43a2 96.5px,#4b43a2 102.5px,#4b43a2 108.5px,#4b43a2 114.5px,#4b43a2 120.5px,#4b43a2 126.5px,#4b43a2 132.5px,#4b43a2 138.5px,#4b43a2 144.5px,#4b43a2 150.5px,#4b43a2 156.5px,#4b43a2 162.5px,#4b43a2 168.5px,#4b43a2 174.5px,#4b43a2 180.5px,#4b43a2 186.5px,#4b43a2 192.5px,#4b43a2 198.5px,#4b43a2 204.5px,#4b43a2 210.5px,#4b43a2 216.5px,#4b43a2 218.5px)"></i><i style="background:linear-gradient(#4a41a0 0.5px,#4a41a0 6.5px,#4a41a0 12.5px,#4a41a0 18.5px,#4a41a0 24.5px,#4a41a0 30.5px,#4a41a0 36.5px,#4a41a0 42.5px,#4a41a0 48.5px,#4a41a0 54.5px,#4a41a0 60.5px,#4a41a0 66.5px,#4a41a0 72.5px,#4a41a0 78.5px,#4a41a0 84.5px,#4a41a0 90.5px,#4a41a0 96.5px,#4a41a0 102.5px,#4a41a0 108.5px,#4a41a0 114.5px,#4a41a0 120.5px,#4a41a0 126.5px,#4a41a0 132.5px,#4a41a0 138.5px,#4a41a0 144.5px,#4a41a0 150.5px,#4a41a0 156.5px,#4a41a0 162.5px,#4a41a0 168.5px,#4a41a0 174.5px,#4a41a0 180.5px,#4a41a0 186.5px,#4a41a0 192.5px,#4a41a0 198.5px,#4a41a0 204.5px,#4a41a0 210.5px,#4a41a0 216.5px,#4a41a0 218.5px)"></i><i style="background:linear-gradient(#493f9e 0.5px,#493f9e 6.5px,#493f9e 12.5px,#493f9e 18.5px,#493f9e 24.5px,#493f9e 30.5px,#493f9e 36.5px,#493f9e 42.5px,#493f9e 48.5px,#493f9e 54.5px,#493f9e 60.5px,#493f9e 66.5px,#493f9e 72.5px,#493f9e 78.5px,#493f9e 84.5px,#493f9e 90.5px,#493f9e 96.5px,#493f9e 102.5px,#493f9e 108.5px,#493f9e 114.5px,#493f9e 120.5px,#493f9e 126.5px,#493f9e 132.5px,#493f9e 138.5px,#493f9e 144.5px,#493f9e 150.5px,#493f9e 156.5px,#493f9e 162.5px,#493f9e 168.5px,#493f9e 174.5px,#493f9e 180.5px,#493f9e 186.5px,#493f9e 192.5px,#493f9e 198.5px,#493f9e 204.5px,#493f9e 210.5px,#493f9e 216.5px,#493f9e 218.5px)"></i><i style="background:linear-gradient(#493f9e 0.5px,#493f9e 6.5px,#493f9e 12.5px,#493f9e 18.5px,#493f9e 24.5px,#493f9e 30.5px,#493f9e 36.5px,#493f9e 42.5px,#493f9e 48.5px,#493f9e 54.5px,#493f9e 60.5px,#493f9e 66.5px,#493f9e 72.5px,#493f9e 78.5px,#493f9e 84.5px,#493f9e 90.5px,#493f9e 96.5px,#493f9e 102.5px,#493f9e 108.5px,#493f9e 114.5px,#493f9e 120.5px,#493f9e 126.5px,#493f9e 132.5px,#493f9e 138.5px,#493f9e 144.5px,#493f9e 150.5px,#493f9e 156.5px,#493f9e 162.5px,#493f9e 168.5px,#493f9e 174.5px,#493f9e 180.5px,#493f9e 186.5px,#493f9e 192.5px,#493f9e 198.5px,#493f9e 204.5px,#493f9e 210.5px,#493f9e 216.5px,#493f9e 218.5px)"></i><i style="background:linear-gradient(#4a41a0 0.5px,#4a41a0 6.5px,#4a41a0 12.5px,#4a41a0 18.5px,#4a41a0 24.5px,#4a41a0 30.5px,#4a41a0 36.5px,#4a41a0 42.5px,#4a41a0 48.5px,#4a41a0 54.5px,#4a41a0 60.5px,#4a41a0 66.5px,#4a41a0 72.5px,#4a41a0 78.5px,#4a41a0 84.5px,#4a41a0 90.5px,#4a41a0 96.5px,#4a41a0 102.5px,#4a41a0 108.5px,#4a41a0 114.5px,#4a41a0 120.5px,#4a41a0 126.5px,#4a41a0 132.5px,#4a41a0 138.5px,#4a41a0 144.5px,#4a41a0 150.5px,#4a41a0 156.5px,#4a41a0 162.5px,#4a41a0 168.5px,#4a41a0 174.5px,#4a41a0 180.5px,#4a41a0 186.5px,#4a41a0 192.5px,#4a41a0 198.5px,#4a41a0 204.5px,#4a41a0 210.5px,#4a41a0 216.5px,#4a41a0 218.5px)"></i><i style="background:linear-gradient(#4b43a2 0.5px,#4b43a2 6.5px,#4b43a2 12.5px,#4b43a2 18.5px,#4b43a2 24.5px,#4b43a2 30.5px,#4b43a2 36.5px,#4b43a2 42.5px,#4b43a2 48.5px,#4b43a2 54.5px,#4b43a2 60.5px,#4b43a2 66.5px,#4b43a2 72.5px,#4b43a2 78.5px,#4b43a2 84.5px,#4b43a2 90.5px,#4b43a2 96.5px,#4b43a2 102.5px,#4b43a2 108.5px,#4b43a2 114.5px,#4b43a2 120.5px,#4b43a2 126.5px,#4b43a2 132.5px,#4b43a2 138.5px,#4b43a2 144.5px,#4b43a2 150.5px,#4b43a2 156.5px,#4b43a2 162.5px,#4b43a2 168.5px,#4b43a2 174.5px,#4b43a2 180.5px,#4b43a2 186.5px,#4b43a2 192.5px,#4b43a2 198.5px,#4b43a2 204.5px,#4b43a2 210.5px,#4b43a2 216.5px,#4b43a2 218.5px)"></i><i style="background:linear-gradient(#4b44a3 0.5px,#4b44a3 6.5px,#4b44a3 12.5px,#4b44a3 18.5px,#4b44a3 24.5px,#4b44a3 30.5px,#4b44a3 36.5px,#4b44a3 42.5px,#4b44a3 48.5px,#4b44a3 54.5px,#4b44a3 60.5px,#4b44a3 66.5px,#4b44a3 72.5px,#4b44a3 78.5px,#4b44a3 84.5px,#4b44a3 90.5px,#4b44a3 96.5px,#4b44a3 102.5px,#4b44a3 108.5px,#4b44a3 114.5px,#4b44a3 120.5px,#4b44a3 126.5px,#4b44a3 132.5px,#4b44a3 138.5px,#4b44a3 144.5px,#4b44a3 150.5px,#4b44a3 156.5px,#4b44a3 162.5px,#4b44a3 168.5px,#4b44a3 174.5px,#4b44a3 180.5px,#4b44a3 186.5px,#4b44a3 192.5px,#4b44a3 198.5px,#4b44a3 204.5px,#4b44a3 210.5px,#4b44a3 216.5px,#4b44a3 218.5px)"></i><i style="background:linear-gradient(#4b44a3 0.5px,#4b44a3 6.5px,#4b44a3 12.5px,#4b44a3 18.5px,#4b44a3 24.5px,#4b44a3 30.5px,#4b44a3 36.5px,#4b44a3 42.5px,#4b44a3 48.5px,#4b44a3 54.5px,#4b44a3 60.5px,#4b44a3 66.5px,#4b44a3 72.5px,#4b44a3 78.5px,#4b44a3 84.5px,#4b44a3 90.5px,#4b44a3 96.5px,#4b44a3 102.5px,#4b44a3 108.5px,#4b44a3 114.5px,#4b44a3 120.5px,#4b44a3 126.5px,#4b44a3 132.5px,#4b44a3 138.5px,#4b44a3 144.5px,#4b44a3 150.5px,#4b44a3 156.5px,#4b44a3 162.5px,#4b44a3 168.5px,#4b44a3 174.5px,#4b44a3 180.5px,#4b44a3 186.5px,#4b44a3 192.5px,#4b44a3 198.5px,#4b44a3 204.5px,#4b44a3 210.5px,#4b44a3 216.5px,#4b44a3 218.5px)"></i><i style="background:linear-gradient(#4b43a2 0.5px,#4b43a2 6.5px,#4b43a2 12.5px,#4b43a2 18.5px,#4b43a2 24.5px,#4b43a2 30.5px,#4b43a2 36.5px,#4b43a2 42.5px,#4b43a2 48.5px,#4b43a2 54.5px,#4b43a2 60.5px,#4b43a2 66.5px,#4b43a2 72.5px,#4b43a2 78.5px,#4b43a2 84.5px,#4b43a2 90.5px,#4b43a2 96.5px,#4b43a2 102.5px,#4b43a2 108.5px,#4b43a2 114.5px,#4b43a2 120.5px,#4b43a2 126.5px,#4b43a2 132.5px,#4b43a2 138.5px,#4b43a2 144.5px,#4b43a2 150.5px,#4b43a2 156.5px,#4b43a2 162.5px,#4b43a2 168.5px,#4b43a2 174.5px,#4b43a2 180.5px,#4b43a2 186.5px,#4b43a2 192.5px,#4b43a2 198.5px,#4b43a2 204.5px,#4b43a2 210.5px,#4b43a2 216.5px,#4b43a2 218.5px)"></i><i style="background:linear-gradient(#4a41a0 0.5px,#4a41a0 6.5px,#4a41a0 12.5px,#4a41a0 18.5px,#4a42a1 24.5px,#4a42a1 30.5px,#4a42a1 36.5px,#4a42a1 42.5px,#4a42a1 48.5px,#4a42a1 54.5px,#4a42a1 60.5px,#4a42a1 66.5px,#4a42a1 72.5px,#4a42a1 78.5px,#4a42a1 84.5px,#4a42a1 90.5px,#4a42a1 96.5px,#4a42a1 102.5px,#4a42a1 108.5px,#4a42a1 114.5px,#4a42a1 120.5px,#4a42a1 126.5px,#4a42a1 132.5px,#4a42a1 138.5px,#4a42a1 144.5px,#4a42a1 150.5px,#4a42a1 156.5px,#4a42a1 162.5px,#4a41a0 168.5px,#4a41a0 174.5px,#4a41a0 180.5px,#4a41a0 186.5px,#4a41a0 192.5px,#4a41a0 198.5px,#4a41a0 204.5px,#4a41a0 210.5px,#4a41a0 216.5px,#4a41a0 218.5px)"></i><i style="background:linear-gradient(#4941a0 0.5px,#4941a0 6.5px,#4a41a0 12.5px,#4a41a0 18.5px,#4a41a0 24.5px,#4a41a0 30.5px,#4a41a0 36.5px,#4a41a0 42.5px,#4a41a0 48.5px,#4a42a1 54.5px,#4a42a1 60.5px,#4a42a1 66.5px,#4a42a1 72.5px,#4a42a1 78.5px,#4a42a1 84.5px,#4a42a1 90.5px,#4a42a1 96.5px,#4a42a1 102.5px,#4a42a1 108.5px,#4a42a1 114.5px,#4a42a1 120.5px,#4a42a1 126.5px,#4a42a1 132.5px,#4a41a0 138.5px,#4a41a0 144.5px,#4a41a0 150.5px,#4a41a0 156.5px,#4a41a0 162.5px,#4a41a0 168.5px,#4a41a0 174.5px,#4a41a0 180.5px,#4941a0 186.5px,#4941a0 192.5px,#49409f 198.5px,#49409f 204.5px,#49409f 210.5px,#49409f 216.5px,#49409f 218.5px)"></i><i style="background:linear-gradient(#4a41a0 0.5px,#4a41a0 6.5px,#4a41a0 12.5px,#4a41a0 18.5px,#4a41a0 24.5px,#4a42a1 30.5px,#4a42a1 36.5px,#4a42a1 42.5px,#4a42a1 48.5px,#4a42a1 54.5px,#4a42a1 60.5px,#4a42a1 66.5px,#4a42a1 72.5px,#4a42a1 78.5px,#4a42a1 84.5px,#4a42a1 90.5px,#4a42a1 96.5px,#4a42a1 102.5px,#4a42a1 108.5px,#4a42a1 114.5px,#4a42a1 120.5px,#4a42a1 126.5px,#4a42a1 132.5px,#4a42a1 138.5px,#4a42a1 144.5px,#4a42a1 150.5px,#4a42a1 156.5px,#4a42a1 162.5px,#4a41a0 168.5px,#4a41a0 174.5px,#4a41a0 180.5px,#4a41a0 186.5px,#4a41a0 192.5px,#4a41a0 198.5px,#4941a0 204.5px,#49409f 210.5px,#49409f 216.5px,#49409f 218.5px)"></i><i style="background:linear-gradient(#4a41a0 0.5px,#4a42a1 6.5px,#4a42a1 12.5px,#4a42a1 18.5px,#4a42a1 24.5px,#4b43a2 30.5px,#4b43a2 36.5px,#4b43a2 42.5px,#4b43a2 48.5px,#4b43a2 54.5px,#4b44a3 60.5px,#4b44a3 66.5px,#4b44a3 72.5px,#4b44a3 78.5px,#4b44a3 84.5px,#4b44a3 90.5px,#4b44a3 96.5px,#4b44a3 102.5px,#4b44a3 108.5px,#4b44a3 114.5px,#4b44a3 120.5px,#4b43a2 126.5px,#4b43a2 132.5px,#4b43a2 138.5px,#4b43a2 144.5px,#4b43a2 150.5px,#4b43a2 156.5px,#4a42a1 162.5px,#4a42a1 168.5px,#4a42a1 174.5px,#4a42a1 180.5px,#4a42a1 186.5px,#4a42a1 192.5px,#4a41a0 198.5px,#4a41a0 204.5px,#4a41a0 210.5px,#4a41a0 216.5px,#4a41a0 218.5px)"></i><i style="background:linear-gradient(#4a42a1 0.5px,#4b43a2 6.5px,#4b43a2 12.5px,#4b43a2 18.5px,#4b43a2 24.5px,#4b44a3 30.5px,#4b44a3 36.5px,#4b44a3 42.5px,#4c44a3 48.5px,#4c45a4 54.5px,#4c45a4 60.5px,#4c45a4 66.5px,#4c45a4 72.5px,#4c45a4 78.5px,#4c45a4 84.5px,#4c45a4 90.5px,#4c45a4 96.5px,#4c45a4 102.5px,#4c45a4 108.5px,#4c45a4 114.5px,#4c45a4 120.5px,#4c45a4 126.5px,#4c44a3 132.5px,#4b44a3 138.5px,#4b44a3 144.5px,#4b44a3 150.5px,#4b44a3 156.5px,#4b43a2 162.5px,#4b43a2 168.5px,#4b43a2 174.5px,#4b43a2 180.5px,#4b43a2 186.5px,#4a42a1 192.5px,#4a42a1 198.5px,#4a42a1 204.5px,#4a42a1 210.5px,#4a42a1 216.5px,#4a42a1 218.5px)"></i><i style="background:linear-gradient(#4b43a2 0.5px,#4b44a3 6.5px,#4b44a3 12.5px,#4c45a4 18.5px,#4c45a4 24.5px,#4c45a4 30.5px,#4c46a5 36.5px,#4c46a5 42.5px,#4d46a5 48.5px,#4d47a6 54.5px,#4d47a6 60.5px,#4d47a6 66.5px,#4d47a6 72.5px,#4d47a6 78.5px,#4d47a6 84.5px,#4d47a6 90.5px,#4d47a6 96.5px,#4d47a6 102.5px,#4d47a6 108.5px,#4d47a6 114.5px,#4d47a6 120.5px,#4d47a6 126.5px,#4d46a5 132.5px,#4d46a5 138.5px,#4c46a5 144.5px,#4c46a5 150.5px,#4c46a5 156.5px,#4c45a4 162.5px,#4c45a4 168.5px,#4c45a4 174.5px,#4c45a4 180.5px,#4c44a3 186.5px,#4b44a3 192.5px,#4b44a3 198.5px,#4b44a3 204.5px,#4b43a2 210.5px,#4b43a2 216.5px,#4b43a2 218.5px)"></i><i style="background:linear-gradient(#4c45a4 0.5px,#4c46a5 6.5px,#4d46a5 12.5px,#4d47a6 18.5px,#4d48a7 24.5px,#4d49a8 30.5px,#4d49a9 36.5px,#4c4aaa 42.5px,#4c4baa 48.5px,#4c4cab 54.5px,#4c4dac 60.5px,#4c4dac 66.5px,#4c4dac 72.5px,#4c4cac 78.5px,#4c4cac 84.5px,#4c4cac 90.5px,#4c4cab 96.5px,#4c4cab 102.5px,#4c4cab 108.5px,#4c4cab 114.5px,#4c4cab 120.5px,#4c4baa 126.5px,#4c4baa 132.5px,#4c4aa9 138.5px,#4c4aa9 144.5px,#4d49a9 150.5px,#4d49a8 156.5px,#4d49a8 162.5px,#4d48a7 168.5px,#4d48a7 174.5px,#4d47a6 180.5px,#4d47a6 186.5px,#4d47a6 192.5px,#4d46a5 198.5px,#4c46a5 204.5px,#4c46a5 210.5px,#4c45a4 216.5px,#4c45a4 218.5px)"></i><i style="background:linear-gradient(#4d47a6 0.5px,#4d48a8 6.5px,#4d4aa9 12.5px,#4c4baa 18.5px,#4c4cab 24.5px,#4c4dac 30.5px,#4c4eae 36.5px,#4c4faf 42.5px,#4b51b0 48.5px,#4b52b1 54.5px,#4b53b3 60.5px,#4b53b2 66.5px,#4b52b2 72.5px,#4b52b2 78.5px,#4b52b1 84.5px,#4b52b1 90.5px,#4b51b1 96.5px,#4b51b1 102.5px,#4b51b0 108.5px,#4b50b0 114.5px,#4b50b0 120.5px,#4b50af 126.5px,#4c4fae 132.5px,#4c4eae 138.5px,#4c4ead 144.5px,#4c4dad 150.5px,#4c4dac 156.5px,#4c4cac 162.5px,#4c4cab 168.5px,#4c4baa 174.5px,#4c4baa 180.5px,#4c4aa9 186.5px,#4d4aa9 192.5px,#4d49a8 198.5px,#4d48a7 204.5px,#4d48a7 210.5px,#4d47a6 216.5px,#4d47a6 218.5px)"></i><i style="background:linear-gradient(#4d49a8 0.5px,#4c4aa9 6.5px,#4c4bab 12.5px,#4c4dac 18.5px,#4c4eae 24.5px,#4c4faf 30.5px,#4b51b0 36.5px,#4b52b2 42.5px,#4b53b3 48.5px,#4b55b5 54.5px,#4a56b6 60.5px,#4a56b5 66.5px,#4b55b5 72.5px,#4b55b5 78.5px,#4b54b4 84.5px,#4b54b4 90.5px,#4b54b3 96.5px,#4b53b3 102.5px,#4b53b3 108.5px,#4b53b2 114.5px,#4b52b2 120.5px,#4b52b1 126.5px,#4b51b0 132.5px,#4b50b0 138.5px,#4b50af 144.5px,#4c4fae 150.5px,#4c4eae 156.5px,#4c4ead 162.5px,#4c4dac 168.5px,#4c4dac 174.5px,#4c4cab 180.5px,#4c4baa 186.5px,#4c4baa 192.5px,#4d4aa9 198.5px,#4d49a8 204.5px,#4d48a8 210.5px,#4d48a7 216.5px,#4d48a7 218.5px)"></i><i style="background:linear-gradient(#4d49a8 0.5px,#4c4aa9 6.5px,#4c4bab 12.5px,#4c4dac 18.5px,#4c4ead 24.5px,#4c4faf 30.5px,#4b50b0 36.5px,#4b52b1 42.5px,#4b53b3 48.5px,#4b54b4 54.5px,#4b55b5 60.5px,#4b55b5 66.5px,#4b54b4 72.5px,#4b54b4 78.5px,#4b54b4 84.5px,#4b53b3 90.5px,#4b53b3 96.5px,#4b53b3 102.5px,#4b53b2 108.5px,#4b52b2 114.5px,#4b52b2 120.5px,#4b51b1 126.5px,#4b50b0 132.5px,#4b50af 138.5px,#4c4faf 144.5px,#4c4eae 150.5px,#4c4ead 156.5px,#4c4dac 162.5px,#4c4dac 168.5px,#4c4cab 174.5px,#4c4cab 180.5px,#4c4baa 186.5px,#4c4aa9 192.5px,#4d49a8 198.5px,#4d48a7 204.5px,#4d47a7 210.5px,#4d47a6 216.5px,#4d47a6 218.5px)"></i><i style="background:linear-gradient(#4d48a8 0.5px,#4d49a9 6.5px,#4c4aaa 12.5px,#4c4cab 18.5px,#4c4dac 24.5px,#4c4ead 30.5px,#4c4fae 36.5px,#4b50af 42.5px,#4b51b0 48.5px,#4b52b1 54.5px,#4b53b2 60.5px,#4b53b2 66.5px,#4b52b2 72.5px,#4b52b2 78.5px,#4b52b2 84.5px,#4b52b1 90.5px,#4b52b1 96.5px,#4b51b1 102.5px,#4b51b1 108.5px,#4b51b1 114.5px,#4b51b0 120.5px,#4b50b0 126.5px,#4c4faf 132.5px,#4c4fae 138.5px,#4c4ead 144.5px,#4c4dad 150.5px,#4c4dac 156.5px,#4c4cab 162.5px,#4c4cab 168.5px,#4c4cab 174.5px,#4c4cab 180.5px,#4c4baa 186.5px,#4d4aa9 192.5px,#4d49a8 198.5px,#4d47a7 204.5px,#4d47a6 210.5px,#4d46a5 216.5px,#4c46a5 218.5px)"></i><i style="background:linear-gradient(#4d48a8 0.5px,#4d49a8 6.5px,#4c4aa9 12.5px,#4c4baa 18.5px,#4c4cab 24.5px,#4c4dac 30.5px,#4c4ead 36.5px,#4c4fae 42.5px,#4b50af 48.5px,#4b51b0 54.5px,#4b52b1 60.5px,#4b52b1 66.5px,#4b51b1 72.5px,#4b51b1 78.5px,#4b51b1 84.5px,#4b51b1 90.5px,#4b51b1 96.5px,#4b51b1 102.5px,#4b51b1 108.5px,#4b51b1 114.5px,#4b51b1 120.5px,#4b50b0 126.5px,#4b50af 132.5px,#4c4fae 138.5px,#4c4eae 144.5px,#4c4dad 150.5px,#4c4dac 156.5px,#4c4cac 162.5px,#4c4dac 168.5px,#4c4dad 174.5px,#4c4ead 180.5px,#4c4dad 186.5px,#4c4cab 192.5px,#4c4aa9 198.5px,#4d48a7 204.5px,#4d47a6 210.5px,#4d46a5 216.5px,#4c46a5 218.5px)"></i><i style="background:linear-gradient(#4d49a8 0.5px,#4c4aa9 6.5px,#4c4baa 12.5px,#4c4cab 18.5px,#4c4dac 24.5px,#4c4ead 30.5px,#4c4eae 36.5px,#4c4faf 42.5px,#4b50b0 48.5px,#4b51b1 54.5px,#4b52b2 60.5px,#4b52b2 66.5px,#4b52b2 72.5px,#4b52b2 78.5px,#4b52b2 84.5px,#4b52b2 90.5px,#4b52b2 96.5px,#4b52b2 102.5px,#4b52b2 108.5px,#4b52b2 114.5px,#4b52b2 120.5px,#4b51b1 126.5px,#4b51b0 132.5px,#4b50af 138.5px,#4c4fae 144.5px,#4c4eae 150.5px,#4c4ead 156.5px,#4c4dad 162.5px,#4c4fae 168.5px,#4b52b1 174.5px,#4b54b4 180.5px,#4b55b5 186.5px,#4b53b3 192.5px,#4b50b0 198.5px,#4c4cab 204.5px,#4d48a7 210.5px,#4d47a6 216.5px,#4d47a6 218.5px)"></i><i style="background:linear-gradient(#4d4aa9 0.5px,#4c4aaa 6.5px,#4c4bab 12.5px,#4c4cac 18.5px,#4c4dad 24.5px,#4c4eae 30.5px,#4c4faf 36.5px,#4b50b0 42.5px,#4b51b1 48.5px,#4b52b2 54.5px,#4b53b3 60.5px,#4b53b3 66.5px,#4b53b3 72.5px,#4b53b3 78.5px,#4b53b3 84.5px,#4b53b3 90.5px,#4b53b3 96.5px,#4b53b3 102.5px,#4b53b3 108.5px,#4b53b3 114.5px,#4b53b3 120.5px,#4b52b2 126.5px,#4b51b1 132.5px,#4b51b0 138.5px,#4b50af 144.5px,#4c4faf 150.5px,#4c4eae 156.5px,#4c4fae 162.5px,#4b54b4 168.5px,#485bba 174.5px,#455fbd 180.5px,#4362bf 186.5px,#465ebd 192.5px,#495ab9 198.5px,#4b51b1 204.5px,#4c4aaa 210.5px,#4d48a7 216.5px,#4d47a6 218.5px)"></i><i style="background:linear-gradient(#4c4aa9 0.5px,#4c4baa 6.5px,#4c4cab 12.5px,#4c4dac 18.5px,#4c4ead 24.5px,#4c4fae 30.5px,#4b50af 36.5px,#4b51b0 42.5px,#4b52b1 48.5px,#4b53b3 54.5px,#4b54b3 60.5px,#4b54b3 66.5px,#4b54b3 72.5px,#4b54b3 78.5px,#4b54b3 84.5px,#4b54b3 90.5px,#4b54b3 96.5px,#4b54b3 102.5px,#4b54b3 108.5px,#4b54b3 114.5px,#4b54b3 120.5px,#4b53b3 126.5px,#4b52b2 132.5px,#4b51b1 138.5px,#4b50b0 144.5px,#4b50af 150.5px,#4c4faf 156.5px,#4b51b1 162.5px,#475cbb 168.5px,#4067c3 174.5px,#3c6ec8 180.5px,#3971ca 186.5px,#3e6ac6 192.5px,#4362c0 198.5px,#4a58b8 204.5px,#4c4dac 210.5px,#4d49a8 216.5px,#4d48a8 218.5px)"></i><i style="background:linear-gradient(#4c4aaa 0.5px,#4c4baa 6.5px,#4c4cac 12.5px,#4c4dad 18.5px,#4c4eae 24.5px,#4c4faf 30.5px,#4b50b0 36.5px,#4b51b1 42.5px,#4b52b2 48.5px,#4b53b3 54.5px,#4b54b4 60.5px,#4b54b4 66.5px,#4b54b4 72.5px,#4b54b4 78.5px,#4b54b4 84.5px,#4b54b4 90.5px,#4b54b4 96.5px,#4b54b4 102.5px,#4b54b4 108.5px,#4b54b4 114.5px,#4b54b4 120.5px,#4b53b3 126.5px,#4b53b2 132.5px,#4b52b1 138.5px,#4b51b0 144.5px,#4b50b0 150.5px,#4b50af 156.5px,#4b54b4 162.5px,#4265c1 168.5px,#3874cb 174.5px,#347ccf 180.5px,#327fd0 186.5px,#3874cb 192.5px,#3f68c4 198.5px,#485bba 204.5px,#4c4eae 210.5px,#4c4aa9 216.5px,#4d49a8 218.5px)"></i><i style="background:linear-gradient(#4c4aaa 0.5px,#4c4bab 6.5px,#4c4cac 12.5px,#4c4dad 18.5px,#4c4eae 24.5px,#4c4faf 30.5px,#4b50b0 36.5px,#4b52b1 42.5px,#4b53b2 48.5px,#4b54b3 54.5px,#4b54b4 60.5px,#4b54b4 66.5px,#4b54b4 72.5px,#4b54b4 78.5px,#4b54b4 84.5px,#4b54b4 90.5px,#4b54b4 96.5px,#4b54b4 102.5px,#4b54b4 108.5px,#4b54b4 114.5px,#4b54b4 120.5px,#4b54b3 126.5px,#4b53b2 132.5px,#4b52b2 138.5px,#4b51b1 144.5px,#4b50b0 150.5px,#4b50af 156.5px,#4a57b7 162.5px,#3d6bc6 168.5px,#337dcf 174.5px,#2f85d2 180.5px,#2e86d3 186.5px,#3678cd 192.5px,#3e6ac5 198.5px,#475cbb 204.5px,#4c4faf 210.5px,#4c4baa 216.5px,#4d4aa9 218.5px)"></i><i style="background:linear-gradient(#4c4baa 0.5px,#4c4bab 6.5px,#4c4dac 12.5px,#4c4ead 18.5px,#4c4fae 24.5px,#4b50af 30.5px,#4b51b0 36.5px,#4b52b1 42.5px,#4b53b2 48.5px,#4b54b3 54.5px,#4b55b4 60.5px,#4b55b4 66.5px,#4b55b4 72.5px,#4b55b4 78.5px,#4b55b4 84.5px,#4b55b4 90.5px,#4b55b4 96.5px,#4b55b4 102.5px,#4b55b4 108.5px,#4b55b4 114.5px,#4b54b4 120.5px,#4b54b3 126.5px,#4b53b3 132.5px,#4b52b2 138.5px,#4b51b1 144.5px,#4b50b0 150.5px,#4b50b0 156.5px,#4a58b8 162.5px,#3c6dc8 168.5px,#327fd0 174.5px,#2e86d3 180.5px,#2e86d3 186.5px,#3677cd 192.5px,#3f68c4 198.5px,#485bba 204.5px,#4c4fae 210.5px,#4c4aaa 216.5px,#4d49a9 218.5px)"></i><i style="background:linear-gradient(#4c4baa 0.5px,#4c4cab 6.5px,#4c4dac 12.5px,#4c4ead 18.5px,#4c4fae 24.5px,#4b50af 30.5px,#4b51b0 36.5px,#4b52b1 42.5px,#4b53b2 48.5px,#4b54b3 54.5px,#4b55b4 60.5px,#4b55b4 66.5px,#4b55b4 72.5px,#4b55b4 78.5px,#4b55b4 84.5px,#4b55b4 90.5px,#4b55b4 96.5px,#4b55b4 102.5px,#4b55b4 108.5px,#4b55b4 114.5px,#4b54b4 120.5px,#4b54b3 126.5px,#4b53b3 132.5px,#4b52b2 138.5px,#4b51b1 144.5px,#4b50b0 150.5px,#4b50b0 156.5px,#4a58b8 162.5px,#3d6bc7 168.5px,#337ccf 174.5px,#3182d1 180.5px,#327fd0 186.5px,#3a70ca 192.5px,#4264c1 198.5px,#4a58b8 204.5px,#4c4ead 210.5px,#4c4aa9 216.5px,#4d49a8 218.5px)"></i><i style="background:linear-gradient(#4c4baa 0.5px,#4c4cab 6.5px,#4c4dac 12.5px,#4c4ead 18.5px,#4c4fae 24.5px,#4b50af 30.5px,#4b51b0 36.5px,#4b52b1 42.5px,#4b53b2 48.5px,#4b54b3 54.5px,#4b54b4 60.5px,#4b55b4 66.5px,#4b55b4 72.5px,#4b55b4 78.5px,#4b55b4 84.5px,#4b55b4 90.5px,#4b54b4 96.5px,#4b54b4 102.5px,#4b54b4 108.5px,#4b54b4 114.5px,#4b54b4 120.5px,#4b54b3 126.5px,#4b53b2 132.5px,#4b52b2 138.5px,#4b51b1 144.5px,#4b50b0 150.5px,#4b50b0 156.5px,#4a56b6 162.5px,#4066c3 168.5px,#3874cc 174.5px,#3678cd 180.5px,#3873cb 186.5px,#4068c4 192.5px,#465ebc 198.5px,#4b54b4 204.5px,#4c4dad 210.5px,#4d4aa9 216.5px,#4d49a8 218.5px)"></i><i style="background:linear-gradient(#4c4dad 0.5px,#4c4ead 6.5px,#4c4fae 12.5px,#4c4faf 18.5px,#4b50b0 24.5px,#4b51b0 30.5px,#4b52b1 36.5px,#4b52b2 42.5px,#4b53b3 48.5px,#4b54b4 54.5px,#4b55b5 60.5px,#4b55b5 66.5px,#4b55b5 72.5px,#4b55b5 78.5px,#4b55b5 84.5px,#4b55b5 90.5px,#4b55b4 96.5px,#4b55b4 102.5px,#4b55b4 108.5px,#4b55b4 114.5px,#4b55b4 120.5px,#4b54b4 126.5px,#4b53b3 132.5px,#4b52b2 138.5px,#4b52b1 144.5px,#4b51b0 150.5px,#4b51b0 156.5px,#4b55b5 162.5px,#4560be 168.5px,#3e6ac5 174.5px,#3c6dc8 180.5px,#3f68c4 186.5px,#4460be 192.5px,#4959b9 198.5px,#4b53b2 204.5px,#4c4ead 210.5px,#4d4aa9 216.5px,#4d49a8 218.5px)"></i><i style="background:linear-gradient(#4b54b3 0.5px,#4b54b4 6.5px,#4b54b4 12.5px,#4b55b4 18.5px,#4b55b5 24.5px,#4a55b5 30.5px,#4a56b6 36.5px,#4a56b6 42.5px,#4a57b7 48.5px,#4a57b7 54.5px,#4a58b8 60.5px,#4a58b8 66.5px,#4a58b8 72.5px,#4a57b7 78.5px,#4a57b7 84.5px,#4a57b7 90.5px,#4a57b7 96.5px,#4a57b7 102.5px,#4a57b6 108.5px,#4a57b7 114.5px,#4a57b7 120.5px,#4a56b6 126.5px,#4a55b5 132.5px,#4b55b5 138.5px,#4b54b4 144.5px,#4b53b3 150.5px,#4b53b3 156.5px,#4a56b6 162.5px,#475dbb 168.5px,#4264c1 174.5px,#4068c4 180.5px,#4363c0 186.5px,#465ebc 192.5px,#4a59b9 198.5px,#4b53b3 204.5px,#4c4eae 210.5px,#4c4aa9 216.5px,#4d49a8 218.5px)"></i><i style="background:linear-gradient(#485bba 0.5px,#485bba 6.5px,#485bbb 12.5px,#485cbb 18.5px,#475cbb 24.5px,#475cbb 30.5px,#475cbb 36.5px,#475dbb 42.5px,#475dbc 48.5px,#475dbc 54.5px,#475dbc 60.5px,#475dbc 66.5px,#475dbc 72.5px,#475dbc 78.5px,#475dbb 84.5px,#475cbb 90.5px,#475cbb 96.5px,#475cbb 102.5px,#475cbb 108.5px,#475cbb 114.5px,#485cbb 120.5px,#485bba 126.5px,#485bba 132.5px,#495ab9 138.5px,#4959b9 144.5px,#4a59b8 150.5px,#4a58b8 156.5px,#4959b9 162.5px,#475dbc 168.5px,#4362c0 174.5px,#4067c3 180.5px,#4363c0 186.5px,#465ebd 192.5px,#495ab9 198.5px,#4b55b5 204.5px,#4c4faf 210.5px,#4c4baa 216.5px,#4d4aa9 218.5px)"></i><i style="background:linear-gradient(#455fbd 0.5px,#455fbe 6.5px,#4560be 12.5px,#4560be 18.5px,#4461be 24.5px,#4461bf 30.5px,#4461bf 36.5px,#4462bf 42.5px,#4362bf 48.5px,#4362c0 54.5px,#4363c0 60.5px,#4363c0 66.5px,#4363c0 72.5px,#4363c0 78.5px,#4363c0 84.5px,#4363c0 90.5px,#4363c0 96.5px,#4363c0 102.5px,#4363c0 108.5px,#4362c0 114.5px,#4462bf 120.5px,#4461bf 126.5px,#4560be 132.5px,#455fbd 138.5px,#465ebc 144.5px,#475cbb 150.5px,#485cbb 156.5px,#475cbb 162.5px,#465ebd 168.5px,#4363c0 174.5px,#4067c3 180.5px,#4363c0 186.5px,#455fbd 192.5px,#485bba 198.5px,#4a56b6 204.5px,#4b51b0 210.5px,#4c4bab 216.5px,#4c4aa9 218.5px)"></i><i style="background:linear-gradient(#455fbd 0.5px,#455fbe 6.5px,#4560be 12.5px,#4461bf 18.5px,#4461bf 24.5px,#4362bf 30.5px,#4362c0 36.5px,#4363c0 42.5px,#4264c1 48.5px,#4264c1 54.5px,#4265c1 60.5px,#4165c2 66.5px,#4165c2 72.5px,#4166c2 78.5px,#4166c3 84.5px,#4066c3 90.5px,#4067c3 96.5px,#4067c3 102.5px,#4067c3 108.5px,#4066c3 114.5px,#4165c2 120.5px,#4264c1 126.5px,#4362c0 132.5px,#4461bf 138.5px,#455fbd 144.5px,#465ebc 150.5px,#475cbb 156.5px,#475cbb 162.5px,#465fbd 168.5px,#4363c0 174.5px,#4067c3 180.5px,#4264c1 186.5px,#4461be 192.5px,#475dbc 198.5px,#4a58b8 204.5px,#4b52b1 210.5px,#4c4cab 216.5px,#4c4aaa 218.5px)"></i><i style="background:linear-gradient(#485bba 0.5px,#485bba 6.5px,#475cbb 12.5px,#475dbc 18.5px,#465ebc 24.5px,#465ebd 30.5px,#455fbd 36.5px,#4560be 42.5px,#4461bf 48.5px,#4462bf 54.5px,#4362c0 60.5px,#4363c0 66.5px,#4264c1 72.5px,#4264c1 78.5px,#4265c2 84.5px,#4165c2 90.5px,#4166c2 96.5px,#4066c3 102.5px,#4067c3 108.5px,#4166c2 114.5px,#4264c1 120.5px,#4362c0 126.5px,#4461be 132.5px,#455fbd 138.5px,#475dbc 144.5px,#485bba 150.5px,#495ab9 156.5px,#495aba 162.5px,#475dbc 168.5px,#4362bf 174.5px,#4067c3 180.5px,#4165c2 186.5px,#4165c2 192.5px,#4461bf 198.5px,#4959b9 204.5px,#4b52b2 210.5px,#4c4cab 216.5px,#4c4aa9 218.5px)"></i><i style="background:linear-gradient(#4b52b1 0.5px,#4b53b2 6.5px,#4b54b4 12.5px,#4b55b5 18.5px,#4a56b6 24.5px,#4a57b7 30.5px,#4a58b8 36.5px,#4959b9 42.5px,#495ab9 48.5px,#485bba 54.5px,#485cbb 60.5px,#475cbb 66.5px,#475dbc 72.5px,#465ebc 78.5px,#465ebd 84.5px,#455fbd 90.5px,#4560be 96.5px,#4461bf 102.5px,#4461bf 108.5px,#4560be 114.5px,#465ebd 120.5px,#475dbb 126.5px,#485bba 132.5px,#4959b9 138.5px,#4a57b7 144.5px,#4a55b5 150.5px,#4b54b4 156.5px,#4a56b6 162.5px,#485bba 168.5px,#4462bf 174.5px,#3e69c5 180.5px,#3c6dc8 186.5px,#3b6ec9 192.5px,#4166c3 198.5px,#485aba 204.5px,#4b52b2 210.5px,#4c4baa 216.5px,#4d49a8 218.5px)"></i><i style="background:linear-gradient(#4d49a8 0.5px,#4c4aa9 6.5px,#4c4baa 12.5px,#4c4cab 18.5px,#4c4dac 24.5px,#4c4ead 30.5px,#4c4eae 36.5px,#4c4faf 42.5px,#4b50b0 48.5px,#4b51b1 54.5px,#4b52b2 60.5px,#4b53b3 66.5px,#4b54b3 72.5px,#4b54b4 78.5px,#4b55b5 84.5px,#4a56b6 90.5px,#4a57b7 96.5px,#4a57b7 102.5px,#4a58b8 108.5px,#4a57b7 114.5px,#4a55b5 120.5px,#4b54b3 126.5px,#4b52b2 132.5px,#4b50b0 138.5px,#4c4fae 144.5px,#4c4ead 150.5px,#4c4fae 156.5px,#4b54b3 162.5px,#475dbc 168.5px,#3f69c5 174.5px,#3875cc 180.5px,#347bcf 186.5px,#3677cd 192.5px,#3f69c5 198.5px,#495ab9 204.5px,#4b51b0 210.5px,#4d49a8 216.5px,#4d48a7 218.5px)"></i><i style="background:linear-gradient(#4c45a4 0.5px,#4c46a5 6.5px,#4d46a5 12.5px,#4d47a6 18.5px,#4d47a6 24.5px,#4d48a7 30.5px,#4d48a8 36.5px,#4d49a8 42.5px,#4c4aa9 48.5px,#4c4baa 54.5px,#4c4bab 60.5px,#4c4cab 66.5px,#4c4cab 72.5px,#4c4cab 78.5px,#4c4cac 84.5px,#4c4dac 90.5px,#4c4dac 96.5px,#4c4ead 102.5px,#4c4ead 108.5px,#4c4dad 114.5px,#4c4dac 120.5px,#4c4cab 126.5px,#4c4baa 132.5px,#4c4aaa 138.5px,#4c4cab 144.5px,#4c4fae 150.5px,#4b54b3 156.5px,#465ebc 162.5px,#3c6dc8 168.5px,#337ecf 174.5px,#2d88d4 180.5px,#2d88d3 186.5px,#357ace 192.5px,#4067c4 198.5px,#4a57b7 204.5px,#4c4ead 210.5px,#4d47a6 216.5px,#4d46a5 218.5px)"></i><i style="background:linear-gradient(#4b44a3 0.5px,#4c44a3 6.5px,#4c45a4 12.5px,#4c45a4 18.5px,#4c45a4 24.5px,#4c46a5 30.5px,#4d46a5 36.5px,#4d46a5 42.5px,#4d47a6 48.5px,#4d47a6 54.5px,#4d48a7 60.5px,#4d48a7 66.5px,#4d48a7 72.5px,#4d48a7 78.5px,#4d48a7 84.5px,#4d48a7 90.5px,#4d48a7 96.5px,#4d48a7 102.5px,#4d48a7 108.5px,#4d48a7 114.5px,#4d48a7 120.5px,#4d48a7 126.5px,#4d48a7 132.5px,#4c4dac 138.5px,#4b55b4 144.5px,#455fbd 150.5px,#3f69c5 156.5px,#3579ce 162.5px,#2a8dd6 168.5px,#2399d6 174.5px,#2398d6 180.5px,#2b8bd5 186.5px,#3776cc 192.5px,#4462bf 198.5px,#4b52b2 204.5px,#4c4baa 210.5px,#4c46a5 216.5px,#4c45a4 218.5px)"></i><i style="background:linear-gradient(#4b43a2 0.5px,#4b43a2 6.5px,#4b44a3 12.5px,#4b44a3 18.5px,#4b44a3 24.5px,#4c45a4 30.5px,#4c45a4 36.5px,#4c45a4 42.5px,#4c45a4 48.5px,#4c46a5 54.5px,#4c46a5 60.5px,#4c46a5 66.5px,#4c46a5 72.5px,#4c46a5 78.5px,#4c46a5 84.5px,#4c46a5 90.5px,#4c46a5 96.5px,#4c46a5 102.5px,#4c46a5 108.5px,#4c46a5 114.5px,#4c46a5 120.5px,#4c46a5 126.5px,#4c4baa 132.5px,#485cbb 138.5px,#3d6bc6 144.5px,#327fd0 150.5px,#298fd6 156.5px,#1ea1d4 162.5px,#1da5c7 168.5px,#1da4c9 174.5px,#209cd6 180.5px,#2f85d3 186.5px,#3d6bc6 192.5px,#4959b9 198.5px,#4c4ead 204.5px,#4d49a8 210.5px,#4c45a4 216.5px,#4c45a4 218.5px)"></i><i style="background:linear-gradient(#4a42a1 0.5px,#4a42a1 6.5px,#4b43a2 12.5px,#4b43a2 18.5px,#4b43a2 24.5px,#4b44a3 30.5px,#4b44a3 36.5px,#4b44a3 42.5px,#4b44a3 48.5px,#4c45a4 54.5px,#4c45a4 60.5px,#4c45a4 66.5px,#4c45a4 72.5px,#4c45a4 78.5px,#4c45a4 84.5px,#4c45a4 90.5px,#4c45a4 96.5px,#4c45a4 102.5px,#4c45a4 108.5px,#4c45a4 114.5px,#4c45a4 120.5px,#4c45a4 126.5px,#4a57b7 132.5px,#3873cb 138.5px,#2a8ed6 144.5px,#1ea3cd 150.5px,#1da9b9 156.5px,#20adab 162.5px,#1cabb1 168.5px,#1da5c5 174.5px,#2595d6 180.5px,#3776cc 186.5px,#465ebd 192.5px,#4b51b1 198.5px,#4c4baa 204.5px,#4d47a6 210.5px,#4c44a3 216.5px,#4b44a3 218.5px)"></i><i style="background:linear-gradient(#4a41a0 0.5px,#4a42a1 6.5px,#4a42a1 12.5px,#4a42a1 18.5px,#4a42a1 24.5px,#4b43a2 30.5px,#4b43a2 36.5px,#4b43a2 42.5px,#4b43a2 48.5px,#4b43a2 54.5px,#4b44a3 60.5px,#4b44a3 66.5px,#4b44a3 72.5px,#4b44a3 78.5px,#4b44a3 84.5px,#4b44a3 90.5px,#4b44a3 96.5px,#4b44a3 102.5px,#4b44a3 108.5px,#4b44a3 114.5px,#4b44a3 120.5px,#4c45a4 126.5px,#4265c2 132.5px,#2990d6 138.5px,#1da5c6 144.5px,#25aea6 150.5px,#37b294 156.5px,#3ab391 162.5px,#1eacad 168.5px,#1ea2cf 174.5px,#3182d1 180.5px,#4264c1 186.5px,#4b54b4 192.5px,#4c4dac 198.5px,#4d49a8 204.5px,#4c46a5 210.5px,#4b44a3 216.5px,#4b43a2 218.5px)"></i><i style="background:linear-gradient(#4a41a0 0.5px,#4a41a0 6.5px,#4a41a0 12.5px,#4a41a0 18.5px,#4a41a0 24.5px,#4a42a1 30.5px,#4a42a1 36.5px,#4a42a1 42.5px,#4a42a1 48.5px,#4a42a1 54.5px,#4a42a1 60.5px,#4a42a1 66.5px,#4a42a1 72.5px,#4a42a1 78.5px,#4a42a1 84.5px,#4a42a1 90.5px,#4a42a1 96.5px,#4a42a1 102.5px,#4a42a1 108.5px,#4a42a1 114.5px,#4a42a1 120.5px,#4c45a4 126.5px,#3a70ca 132.5px,#1ea1d2 138.5px,#1cabb2 144.5px,#3ab390 150.5px,#4db67f 156.5px,#3cb48e 162.5px,#1da8bb 168.5px,#2a8fd6 174.5px,#3e6ac5 180.5px,#4a56b6 186.5px,#4c4ead 192.5px,#4c4aa9 198.5px,#4d47a6 204.5px,#4c45a4 210.5px,#4b43a2 216.5px,#4a42a1 218.5px)"></i><i style="background:linear-gradient(#49409f 0.5px,#49409f 6.5px,#49409f 12.5px,#4941a0 18.5px,#4a41a0 24.5px,#4a41a0 30.5px,#4a41a0 36.5px,#4a41a0 42.5px,#4a41a0 48.5px,#4a41a0 54.5px,#4a42a1 60.5px,#4a42a1 66.5px,#4a42a1 72.5px,#4a42a1 78.5px,#4a42a1 84.5px,#4a42a1 90.5px,#4a42a1 96.5px,#4a42a1 102.5px,#4a42a1 108.5px,#4a42a1 114.5px,#4a42a1 120.5px,#4c45a4 126.5px,#3776cc 132.5px,#1da3cc 138.5px,#1dacae 144.5px,#39b391 150.5px,#3fb48b 156.5px,#29afa2 162.5px,#209dd6 168.5px,#3a6fca 174.5px,#4a58b8 180.5px,#4c4eae 186.5px,#4c4aaa 192.5px,#4d47a6 198.5px,#4c45a4 204.5px,#4b44a3 210.5px,#4a42a1 216.5px,#4a42a1 218.5px)"></i><i style="background:linear-gradient(#49409f 0.5px,#49409f 6.5px,#49409f 12.5px,#4941a0 18.5px,#4a41a0 24.5px,#4a41a0 30.5px,#4a41a0 36.5px,#4a41a0 42.5px,#4a42a1 48.5px,#4a42a1 54.5px,#4b43a2 60.5px,#4b43a2 66.5px,#4b43a2 72.5px,#4a42a1 78.5px,#4a42a1 84.5px,#4a42a1 90.5px,#4a42a1 96.5px,#4a42a1 102.5px,#4a42a1 108.5px,#4a42a1 114.5px,#4a42a1 120.5px,#4c45a4 126.5px,#3874cb 132.5px,#1ea1d3 138.5px,#1da8bb 144.5px,#23aea8 150.5px,#20adab 156.5px,#1da4c8 162.5px,#3678cd 168.5px,#4a59b8 174.5px,#4c4ead 180.5px,#4c4aa9 186.5px,#4d48a7 192.5px,#4c46a5 198.5px,#4b44a3 204.5px,#4b43a2 210.5px,#4a41a0 216.5px,#4a41a0 218.5px)"></i><i style="background:linear-gradient(#4b43a2 0.5px,#4b44a3 6.5px,#4c45a4 12.5px,#4c46a5 18.5px,#4d46a5 24.5px,#4d47a6 30.5px,#4d47a6 36.5px,#4d48a7 42.5px,#4d49a8 48.5px,#4c4cab 54.5px,#4b50b0 60.5px,#4b50b0 66.5px,#4c4fae 72.5px,#4c4dac 78.5px,#4c4cac 84.5px,#4c4cab 90.5px,#4c4bab 96.5px,#4c4baa 102.5px,#4c4aaa 108.5px,#4d49a8 114.5px,#4d47a6 120.5px,#4d4aa9 126.5px,#3c6dc7 132.5px,#2890d6 138.5px,#1f9fd6 144.5px,#1ea3ce 150.5px,#1ea0d6 156.5px,#2f84d2 162.5px,#465ebc 168.5px,#4c4cab 174.5px,#4c4aa9 180.5px,#4d48a7 186.5px,#4d46a5 192.5px,#4c45a4 198.5px,#4b43a2 204.5px,#4a42a1 210.5px,#4a41a0 216.5px,#4a41a0 218.5px)"></i><i style="background:linear-gradient(#4b52b2 0.5px,#4a58b8 6.5px,#475dbc 12.5px,#4560be 18.5px,#4362c0 24.5px,#4264c1 30.5px,#4165c2 36.5px,#4067c3 42.5px,#3f68c4 48.5px,#3c6dc8 54.5px,#3874cc 60.5px,#3873cb 66.5px,#3a6fca 72.5px,#3d6cc7 78.5px,#3e6ac6 84.5px,#3f69c5 90.5px,#4068c4 96.5px,#4067c3 102.5px,#4165c2 108.5px,#4362c0 114.5px,#465ebd 120.5px,#475cbb 126.5px,#3e6ac6 132.5px,#337ecf 138.5px,#2f85d2 144.5px,#2d88d3 150.5px,#327ed0 156.5px,#3e6ac6 162.5px,#4a58b8 168.5px,#4b50b0 174.5px,#4c4faf 180.5px,#4c4dac 186.5px,#4d49a8 192.5px,#4c46a5 198.5px,#4c44a3 204.5px,#4b43a2 210.5px,#4a42a1 216.5px,#4a42a1 218.5px)"></i><i style="background:linear-gradient(#4263c0 0.5px,#3c6dc8 6.5px,#3579cd 12.5px,#3181d1 18.5px,#2d88d4 24.5px,#2a8dd6 30.5px,#2891d6 36.5px,#2694d6 42.5px,#2497d6 48.5px,#1f9fd6 54.5px,#1ea3cc 60.5px,#1ea2cf 66.5px,#1f9ed6 72.5px,#2497d6 78.5px,#2793d6 84.5px,#2891d6 90.5px,#2a8ed6 96.5px,#2b8cd5 102.5px,#2d89d4 108.5px,#3082d1 114.5px,#357ace 120.5px,#3874cc 126.5px,#3678cd 132.5px,#327ed0 138.5px,#3181d1 144.5px,#3181d1 150.5px,#3579ce 156.5px,#3b6ec8 162.5px,#4165c2 168.5px,#4560be 174.5px,#475dbb 180.5px,#4a58b8 186.5px,#4b52b2 192.5px,#4c4baa 198.5px,#4d47a6 204.5px,#4c45a4 210.5px,#4b44a3 216.5px,#4b43a2 218.5px)"></i><i style="background:linear-gradient(#4264c1 0.5px,#3a70ca 6.5px,#3180d1 12.5px,#2a8ed6 18.5px,#229ad6 24.5px,#1ea2d1 30.5px,#1da4c9 36.5px,#1da6c2 42.5px,#1da8bb 48.5px,#1cabb1 54.5px,#27afa4 60.5px,#21adaa 66.5px,#1caab5 72.5px,#1da7c0 78.5px,#1da5c6 84.5px,#1da4c9 90.5px,#1ea3cd 96.5px,#1ea2d0 102.5px,#1ea1d4 108.5px,#2399d6 114.5px,#2a8ed6 120.5px,#2e87d3 126.5px,#2d88d4 132.5px,#2c8ad4 138.5px,#2c8bd5 144.5px,#2c8bd5 150.5px,#2f84d2 156.5px,#337ccf 162.5px,#3775cc 168.5px,#3b6fc9 174.5px,#3f68c4 180.5px,#4461bf 186.5px,#4959b9 192.5px,#4c4fae 198.5px,#4c4aa9 204.5px,#4d47a6 210.5px,#4c45a4 216.5px,#4c45a4 218.5px)"></i><i style="background:linear-gradient(#4b53b3 0.5px,#465ebd 6.5px,#3d6bc6 12.5px,#3579ce 18.5px,#2e87d3 24.5px,#2596d6 30.5px,#1ea1d4 36.5px,#1da4c8 42.5px,#1da8bc 48.5px,#1cabb1 54.5px,#27afa4 60.5px,#21adaa 66.5px,#1caab5 72.5px,#1da7c0 78.5px,#1da5c6 84.5px,#1da4c9 90.5px,#1ea3cd 96.5px,#1ea2d0 102.5px,#1ea1d4 108.5px,#2399d6 114.5px,#2a8ed6 120.5px,#2e87d3 126.5px,#2d89d4 132.5px,#2c8bd5 138.5px,#2b8dd5 144.5px,#2a8dd6 150.5px,#2d87d3 156.5px,#3181d1 162.5px,#347bce 168.5px,#3874cc 174.5px,#3d6cc7 180.5px,#4363c0 186.5px,#495ab9 192.5px,#4c4faf 198.5px,#4c4aa9 204.5px,#4d47a6 210.5px,#4c45a4 216.5px,#4c45a4 218.5px)"></i><i style="background:linear-gradient(#4b43a2 0.5px,#4d47a6 6.5px,#4c4eae 12.5px,#4a58b8 18.5px,#4461bf 24.5px,#3d6cc7 30.5px,#3678cd 36.5px,#2e86d3 42.5px,#2694d6 48.5px,#1f9fd6 54.5px,#1ea3cc 60.5px,#1ea2cf 66.5px,#1f9ed6 72.5px,#2497d6 78.5px,#2793d6 84.5px,#2891d6 90.5px,#2a8ed6 96.5px,#2b8cd5 102.5px,#2d89d4 108.5px,#3082d1 114.5px,#357ace 120.5px,#3775cc 126.5px,#3678cd 132.5px,#347ace 138.5px,#337dcf 144.5px,#327fd0 150.5px,#347ccf 156.5px,#3677cd 162.5px,#3973cb 168.5px,#3b6ec9 174.5px,#4166c3 180.5px,#465dbc 186.5px,#4b54b4 192.5px,#4c4baa 198.5px,#4d47a6 204.5px,#4c45a4 210.5px,#4b44a3 216.5px,#4b43a2 218.5px)"></i><i style="background:linear-gradient(#483f9e 0.5px,#493f9e 6.5px,#4941a0 12.5px,#4b43a2 18.5px,#4c45a4 24.5px,#4c4baa 30.5px,#4b53b2 36.5px,#475cbb 42.5px,#4165c2 48.5px,#3c6dc8 54.5px,#3874cc 60.5px,#3873cb 66.5px,#3a6fc9 72.5px,#3d6cc7 78.5px,#3e6ac5 84.5px,#3f69c5 90.5px,#4068c4 96.5px,#4066c3 102.5px,#4165c2 108.5px,#4362c0 114.5px,#465ebd 120.5px,#475cbb 126.5px,#465ebd 132.5px,#4461bf 138.5px,#4264c1 144.5px,#4166c2 150.5px,#4165c2 156.5px,#4363c0 162.5px,#4461bf 168.5px,#455fbd 174.5px,#4959b9 180.5px,#4b51b1 186.5px,#4d4aa9 192.5px,#4c45a4 198.5px,#4b43a2 204.5px,#4a42a1 210.5px,#4a41a0 216.5px,#4a41a0 218.5px)"></i><i style="background:linear-gradient(#483e9d 0.5px,#483e9d 6.5px,#483e9d 12.5px,#483f9e 18.5px,#493f9e 24.5px,#49409f 30.5px,#4a41a0 36.5px,#4b44a3 42.5px,#4d47a6 48.5px,#4c4baa 54.5px,#4c4faf 60.5px,#4c4faf 66.5px,#4c4ead 72.5px,#4c4cac 78.5px,#4c4bab 84.5px,#4c4baa 90.5px,#4c4aaa 96.5px,#4c4aa9 102.5px,#4d49a9 108.5px,#4d48a7 114.5px,#4d47a6 120.5px,#4c46a5 126.5px,#4d47a6 132.5px,#4d49a9 138.5px,#4c4cab 144.5px,#4c4ead 150.5px,#4c4ead 156.5px,#4c4dad 162.5px,#4c4dac 168.5px,#4c4cab 174.5px,#4d48a7 180.5px,#4c45a4 186.5px,#4b43a2 192.5px,#4a41a0 198.5px,#49409f 204.5px,#49409f 210.5px,#493f9e 216.5px,#493f9e 218.5px)"></i><i style="background:linear-gradient(#483e9d 0.5px,#483e9d 6.5px,#483e9d 12.5px,#483e9d 18.5px,#483e9d 24.5px,#483e9d 30.5px,#483e9d 36.5px,#483f9e 42.5px,#493f9e 48.5px,#49409f 54.5px,#4a41a0 60.5px,#4a41a0 66.5px,#4a41a0 72.5px,#4941a0 78.5px,#49409f 84.5px,#49409f 90.5px,#49409f 96.5px,#49409f 102.5px,#49409f 108.5px,#49409f 114.5px,#49409f 120.5px,#49409f 126.5px,#49409f 132.5px,#4941a0 138.5px,#4a41a0 144.5px,#4a42a1 150.5px,#4a42a1 156.5px,#4a42a1 162.5px,#4b43a2 168.5px,#4b43a2 174.5px,#4b43a2 180.5px,#4a42a1 186.5px,#4a41a0 192.5px,#49409f 198.5px,#49409f 204.5px,#493f9e 210.5px,#493f9e 216.5px,#483f9e 218.5px)"></i><i style="background:linear-gradient(#483e9d 0.5px,#483e9d 6.5px,#483e9d 12.5px,#483e9d 18.5px,#483e9d 24.5px,#483e9d 30.5px,#483e9d 36.5px,#483e9d 42.5px,#483e9d 48.5px,#483e9d 54.5px,#483e9d 60.5px,#483e9d 66.5px,#483e9d 72.5px,#483e9d 78.5px,#483e9d 84.5px,#483e9d 90.5px,#483e9d 96.5px,#483e9d 102.5px,#483e9d 108.5px,#483e9d 114.5px,#483e9d 120.5px,#483e9d 126.5px,#483f9e 132.5px,#49409f 138.5px,#4a41a0 144.5px,#4a42a1 150.5px,#4b43a2 156.5px,#4b44a3 162.5px,#4c45a4 168.5px,#4c46a5 174.5px,#4d47a6 180.5px,#4c46a5 186.5px,#4b44a3 192.5px,#4b43a2 198.5px,#4a42a1 204.5px,#4a41a0 210.5px,#49409f 216.5px,#49409f 218.5px)"></i><i style="background:linear-gradient(#483e9d 0.5px,#483e9d 6.5px,#483e9d 12.5px,#483e9d 18.5px,#483e9d 24.5px,#483e9d 30.5px,#483e9d 36.5px,#483e9d 42.5px,#483e9d 48.5px,#483e9d 54.5px,#483e9d 60.5px,#483e9d 66.5px,#483e9d 72.5px,#483e9d 78.5px,#483e9d 84.5px,#483e9d 90.5px,#483e9d 96.5px,#483e9d 102.5px,#483e9d 108.5px,#483e9d 114.5px,#483e9d 120.5px,#493f9e 126.5px,#4a41a0 132.5px,#4d46a5 138.5px,#4c4baa 144.5px,#4c4ead 150.5px,#4b51b1 156.5px,#4b55b5 162.5px,#4a57b7 168.5px,#4a59b8 174.5px,#4a58b8 180.5px,#4b52b1 186.5px,#4c4baa 192.5px,#4d48a7 198.5px,#4c46a5 204.5px,#4b44a3 210.5px,#4a42a1 216.5px,#4a41a0 218.5px)"></i><i style="background:linear-gradient(#483e9d 0.5px,#483e9d 6.5px,#483e9d 12.5px,#483e9d 18.5px,#483e9d 24.5px,#483e9d 30.5px,#483e9d 36.5px,#483e9d 42.5px,#483e9d 48.5px,#483e9d 54.5px,#483e9d 60.5px,#483e9d 66.5px,#483e9d 72.5px,#483e9d 78.5px,#483e9d 84.5px,#483e9d 90.5px,#483e9d 96.5px,#483e9d 102.5px,#483e9d 108.5px,#493f9e 114.5px,#4a41a0 120.5px,#4c45a4 126.5px,#4c4faf 132.5px,#455fbd 138.5px,#4166c2 144.5px,#3e6ac5 150.5px,#3c6ec8 156.5px,#3a70ca 162.5px,#3a70ca 168.5px,#3c6dc8 174.5px,#4166c2 180.5px,#485bba 186.5px,#4b50b0 192.5px,#4c4dac 198.5px,#4d49a8 204.5px,#4c46a5 210.5px,#4b43a2 216.5px,#4a42a1 218.5px)"></i><i style="background:linear-gradient(#483e9d 0.5px,#483e9d 6.5px,#483e9d 12.5px,#483e9d 18.5px,#483e9d 24.5px,#483e9d 30.5px,#483e9d 36.5px,#483e9d 42.5px,#483e9d 48.5px,#483e9d 54.5px,#483e9d 60.5px,#483e9d 66.5px,#483e9d 72.5px,#483e9d 78.5px,#483e9d 84.5px,#483e9d 90.5px,#483e9d 96.5px,#493f9e 102.5px,#4a41a0 108.5px,#4c45a4 114.5px,#4c4ead 120.5px,#475cbb 126.5px,#3c6dc8 132.5px,#3180d0 138.5px,#2e87d3 144.5px,#2c8ad4 150.5px,#2b8dd5 156.5px,#2b8bd5 162.5px,#2f84d2 168.5px,#347ace 174.5px,#3d6bc7 180.5px,#475cbb 186.5px,#4b50b0 192.5px,#4c4dac 198.5px,#4d49a8 204.5px,#4c46a5 210.5px,#4b43a2 216.5px,#4a42a1 218.5px)"></i><i style="background:linear-gradient(#483f9e 0.5px,#483f9e 6.5px,#483f9e 12.5px,#483f9e 18.5px,#483f9e 24.5px,#483f9e 30.5px,#483e9d 36.5px,#483e9d 42.5px,#483e9d 48.5px,#483e9d 54.5px,#483e9d 60.5px,#483e9d 66.5px,#483e9d 72.5px,#483e9d 78.5px,#483e9d 84.5px,#493f9e 90.5px,#4a42a1 96.5px,#4c46a5 102.5px,#4c4fae 108.5px,#475dbc 114.5px,#3d6cc7 120.5px,#327fd0 126.5px,#2890d6 132.5px,#229bd6 138.5px,#219cd6 144.5px,#219bd6 150.5px,#229ad6 156.5px,#2694d6 162.5px,#2d88d4 168.5px,#3579ce 174.5px,#4067c3 180.5px,#4a57b7 186.5px,#4c4baa 192.5px,#4d48a7 198.5px,#4c46a5 204.5px,#4b44a3 210.5px,#4a42a1 216.5px,#4a41a0 218.5px)"></i><i style="background:linear-gradient(#4b44a3 0.5px,#4b44a3 6.5px,#4b44a3 12.5px,#4c44a3 18.5px,#4c45a4 24.5px,#4b44a3 30.5px,#4b43a2 36.5px,#4a41a0 42.5px,#49409f 48.5px,#493f9e 54.5px,#493f9e 60.5px,#483f9e 66.5px,#493f9e 72.5px,#49409f 78.5px,#4a42a1 84.5px,#4d47a6 90.5px,#4b54b4 96.5px,#4362bf 102.5px,#3a70ca 108.5px,#3083d2 114.5px,#2694d6 120.5px,#1f9fd6 126.5px,#1ea1d2 132.5px,#1f9ed6 138.5px,#2399d6 144.5px,#2595d6 150.5px,#2891d6 156.5px,#2e87d3 162.5px,#3678cd 168.5px,#3e69c5 174.5px,#495ab9 180.5px,#4c4aaa 186.5px,#4b44a3 192.5px,#4b43a2 198.5px,#4a42a1 204.5px,#4a41a0 210.5px,#49409f 216.5px,#49409f 218.5px)"></i><i style="background:linear-gradient(#455fbd 0.5px,#4560be 6.5px,#4461bf 12.5px,#4363c0 18.5px,#4165c2 24.5px,#4264c1 30.5px,#4461be 36.5px,#4959b9 42.5px,#4b51b0 48.5px,#4c4aa9 54.5px,#4d47a6 60.5px,#4c46a5 66.5px,#4d47a6 72.5px,#4c4dac 78.5px,#4959b9 84.5px,#3f69c5 90.5px,#337dcf 96.5px,#298fd6 102.5px,#209cd6 108.5px,#1ea3ce 114.5px,#1da4c9 120.5px,#1ea3cd 126.5px,#209dd6 132.5px,#2c8ad4 138.5px,#3280d0 144.5px,#357ace 150.5px,#3873cb 156.5px,#3e6bc6 162.5px,#4560be 168.5px,#4b54b4 174.5px,#4d48a7 180.5px,#4a42a1 186.5px,#49409f 192.5px,#49409f 198.5px,#493f9e 204.5px,#493f9e 210.5px,#483f9e 216.5px,#483f9e 218.5px)"></i><i style="background:linear-gradient(#2e87d3 0.5px,#2b8bd5 6.5px,#2990d6 12.5px,#2398d6 18.5px,#1ea0d4 24.5px,#1ea2d0 30.5px,#1ea1d3 36.5px,#2497d6 42.5px,#2d88d4 48.5px,#357ace 54.5px,#3972cb 60.5px,#3d6cc7 66.5px,#3a71ca 72.5px,#347bce 78.5px,#2a8ed6 84.5px,#1ea1d4 90.5px,#1da6c3 96.5px,#1da8bc 102.5px,#1da8bc 108.5px,#1da7c1 114.5px,#1ea3cc 120.5px,#2497d6 126.5px,#3280d0 132.5px,#3f68c4 138.5px,#455fbe 144.5px,#485bba 150.5px,#4a56b6 156.5px,#4b50af 162.5px,#4d48a7 168.5px,#4b44a3 174.5px,#4941a0 180.5px,#493f9e 186.5px,#483e9d 192.5px,#483e9d 198.5px,#483e9d 204.5px,#483e9d 210.5px,#483e9d 216.5px,#483e9d 218.5px)"></i><i style="background:linear-gradient(#2595d6 0.5px,#1f9fd6 6.5px,#1da3cb 12.5px,#1da9b9 18.5px,#29afa2 24.5px,#3db48d 30.5px,#57b777 36.5px,#54b77a 42.5px,#41b489 48.5px,#30b19a 54.5px,#22ada9 60.5px,#1caab5 66.5px,#1cabb2 72.5px,#20adab 78.5px,#2aafa0 84.5px,#2db09d 90.5px,#25aea6 96.5px,#1cabb2 102.5px,#1da7c0 108.5px,#1ea1d3 114.5px,#2b8cd5 120.5px,#3973cb 126.5px,#465ebc 132.5px,#4c4cab 138.5px,#4d46a5 144.5px,#4c45a4 150.5px,#4b43a2 156.5px,#4a42a1 162.5px,#49409f 168.5px,#493f9e 174.5px,#483e9d 180.5px,#483e9d 186.5px,#483e9d 192.5px,#483e9d 198.5px,#483e9d 204.5px,#483e9d 210.5px,#483e9d 216.5px,#483e9d 218.5px)"></i><i style="background:linear-gradient(#3678cd 0.5px,#2f85d3 6.5px,#2694d6 12.5px,#1ea3cd 18.5px,#1cabb1 24.5px,#3ab390 30.5px,#76bb5e 36.5px,#b1ba41 42.5px,#cdb63b 48.5px,#d7b43b 54.5px,#d0b63b 60.5px,#c4b93a 66.5px,#afba42 72.5px,#8ebb51 78.5px,#61b96f 84.5px,#35b296 90.5px,#1caab7 96.5px,#1ea3ce 102.5px,#2693d6 108.5px,#347bce 114.5px,#4165c2 120.5px,#4b53b3 126.5px,#4c46a5 132.5px,#4a41a0 138.5px,#49409f 144.5px,#493f9e 150.5px,#483f9e 156.5px,#483f9e 162.5px,#483e9d 168.5px,#483e9d 174.5px,#483e9d 180.5px,#483e9d 186.5px,#483e9d 192.5px,#483e9d 198.5px,#483e9d 204.5px,#483e9d 210.5px,#483e9d 216.5px,#483e9d 218.5px)"></i><i style="background:linear-gradient(#4b53b2 0.5px,#485bba 6.5px,#4165c2 12.5px,#3973cb 18.5px,#2e87d3 24.5px,#1ea0d6 30.5px,#1caab4 36.5px,#4bb681 42.5px,#9dbb4a 48.5px,#d4b43b 54.5px,#e3b03c 60.5px,#e5b33b 66.5px,#c7b83a 72.5px,#7ebc58 78.5px,#31b199 84.5px,#1da5c4 90.5px,#2a8dd6 96.5px,#3678cd 102.5px,#3f68c4 108.5px,#4a58b8 114.5px,#4d48a8 120.5px,#4a42a1 126.5px,#493f9e 132.5px,#483e9d 138.5px,#483e9d 144.5px,#483e9d 150.5px,#483e9d 156.5px,#483e9d 162.5px,#483e9d 168.5px,#483e9d 174.5px,#483e9d 180.5px,#483e9d 186.5px,#483e9d 192.5px,#483e9d 198.5px,#483e9d 204.5px,#483e9d 210.5px,#483e9d 216.5px,#483e9d 218.5px)"></i><i style="background:linear-gradient(#4a41a0 0.5px,#4b43a2 6.5px,#4c45a4 12.5px,#4c4baa 18.5px,#4b55b4 24.5px,#4461bf 30.5px,#3873cb 36.5px,#2793d6 42.5px,#1da6c2 48.5px,#2bafa0 54.5px,#47b585 60.5px,#69ba68 66.5px,#36b294 72.5px,#1da9ba 78.5px,#2595d6 84.5px,#3775cc 90.5px,#465ebd 96.5px,#4b52b2 102.5px,#4d49a9 108.5px,#4b43a2 114.5px,#49409f 120.5px,#483f9e 126.5px,#483e9d 132.5px,#483e9d 138.5px,#483e9d 144.5px,#483e9d 150.5px,#483e9d 156.5px,#483e9d 162.5px,#483e9d 168.5px,#483e9d 174.5px,#483e9d 180.5px,#483e9d 186.5px,#483e9d 192.5px,#483e9d 198.5px,#483e9d 204.5px,#483e9d 210.5px,#483e9d 216.5px,#483e9d 218.5px)"></i><i style="background:linear-gradient(#483e9d 0.5px,#483e9d 6.5px,#483f9e 12.5px,#49409f 18.5px,#4a41a0 24.5px,#4b43a2 30.5px,#4d48a8 36.5px,#4a57b7 42.5px,#4166c2 48.5px,#3776cd 54.5px,#2e86d3 60.5px,#2695d6 66.5px,#2f84d2 72.5px,#3a6fca 78.5px,#475dbc 84.5px,#4c4dad 90.5px,#4b44a3 96.5px,#4a41a0 102.5px,#49409f 108.5px,#483f9e 114.5px,#483e9d 120.5px,#483e9d 126.5px,#483e9d 132.5px,#483e9d 138.5px,#483e9d 144.5px,#483e9d 150.5px,#483e9d 156.5px,#483e9d 162.5px,#483e9d 168.5px,#483e9d 174.5px,#483e9d 180.5px,#483e9d 186.5px,#483e9d 192.5px,#483e9d 198.5px,#483e9d 204.5px,#483e9d 210.5px,#483e9d 216.5px,#483e9d 218.5px)"></i><i style="background:linear-gradient(#483e9d 0.5px,#483e9d 6.5px,#483e9d 12.5px,#483e9d 18.5px,#483e9d 24.5px,#483e9d 30.5px,#493f9e 36.5px,#4a41a0 42.5px,#4b44a3 48.5px,#4d49a8 54.5px,#4c4faf 60.5px,#4a57b7 66.5px,#4b50af 72.5px,#4d48a7 78.5px,#4b43a2 84.5px,#49409f 90.5px,#483f9e 96.5px,#483e9d 102.5px,#483e9d 108.5px,#483e9d 114.5px,#483e9d 120.5px,#483e9d 126.5px,#483e9d 132.5px,#483e9d 138.5px,#483e9d 144.5px,#483e9d 150.5px,#483e9d 156.5px,#483e9d 162.5px,#483e9d 168.5px,#483e9d 174.5px,#483e9d 180.5px,#483e9d 186.5px,#483e9d 192.5px,#483e9d 198.5px,#483e9d 204.5px,#483e9d 210.5px,#483e9d 216.5px,#483e9d 218.5px)"></i><i style="background:linear-gradient(#483e9d 0.5px,#483e9d 6.5px,#483e9d 12.5px,#483e9d 18.5px,#483e9d 24.5px,#483e9d 30.5px,#483e9d 36.5px,#483e9d 42.5px,#483f9e 48.5px,#493f9e 54.5px,#49409f 60.5px,#4a41a0 66.5px,#49409f 72.5px,#493f9e 78.5px,#483f9e 84.5px,#483e9d 90.5px,#483e9d 96.5px,#483e9d 102.5px,#483e9d 108.5px,#483e9d 114.5px,#483e9d 120.5px,#483e9d 126.5px,#483e9d 132.5px,#483e9d 138.5px,#483e9d 144.5px,#483e9d 150.5px,#483e9d 156.5px,#483e9d 162.5px,#483e9d 168.5px,#483e9d 174.5px,#483e9d 180.5px,#483e9d 186.5px,#483e9d 192.5px,#483e9d 198.5px,#483e9d 204.5px,#483e9d 210.5px,#483e9d 216.5px,#483e9d 218.5px)"></i><i style="background:linear-gradient(#483e9d 0.5px,#483e9d 6.5px,#483e9d 12.5px,#483e9d 18.5px,#483e9d 24.5px,#483e9d 30.5px,#483e9d 36.5px,#483e9d 42.5px,#483e9d 48.5px,#483e9d 54.5px,#483e9d 60.5px,#483e9d 66.5px,#483e9d 72.5px,#483e9d 78.5px,#483e9d 84.5px,#483e9d 90.5px,#483e9d 96.5px,#483e9d 102.5px,#483e9d 108.5px,#483f9e 114.5px,#493f9e 120.5px,#493f9e 126.5px,#49409f 132.5px,#493f9e 138.5px,#493f9e 144.5px,#493f9e 150.5px,#493f9e 156.5px,#493f9e 162.5px,#493f9e 168.5px,#493f9e 174.5px,#493f9e 180.5px,#493f9e 186.5px,#493f9e 192.5px,#493f9e 198.5px,#493f9e 204.5px,#493f9e 210.5px,#493f9e 216.5px,#493f9e 218.5px)"></i><i style="background:linear-gradient(#483e9d 0.5px,#483e9d 6.5px,#483e9d 12.5px,#483e9d 18.5px,#483e9d 24.5px,#483e9d 30.5px,#483e9d 36.5px,#483e9d 42.5px,#483e9d 48.5px,#483e9d 54.5px,#483e9d 60.5px,#483e9d 66.5px,#483e9d 72.5px,#483e9d 78.5px,#483e9d 84.5px,#483e9d 90.5px,#483e9d 96.5px,#493f9e 102.5px,#49409f 108.5px,#4a42a1 114.5px,#4c45a4 120.5px,#4d46a5 126.5px,#4d47a6 132.5px,#4c45a4 138.5px,#4b44a3 144.5px,#4b43a2 150.5px,#4b43a2 156.5px,#4b43a2 162.5px,#4b43a2 168.5px,#4a42a1 174.5px,#4a42a1 180.5px,#4b43a2 186.5px,#4b43a2 192.5px,#4b43a2 198.5px,#4a42a1 204.5px,#4a42a1 210.5px,#4a41a0 216.5px,#4a41a0 218.5px)"></i><i style="background:linear-gradient(#483e9d 0.5px,#483e9d 6.5px,#483e9d 12.5px,#483e9d 18.5px,#483e9d 24.5px,#483e9d 30.5px,#483e9d 36.5px,#483e9d 42.5px,#483e9d 48.5px,#483e9d 54.5px,#483e9d 60.5px,#483e9d 66.5px,#483e9d 72.5px,#483e9d 78.5px,#483e9d 84.5px,#483e9d 90.5px,#49409f 96.5px,#4b44a3 102.5px,#4d4aa9 108.5px,#4b53b3 114.5px,#465ebc 120.5px,#4362bf 126.5px,#4362bf 132.5px,#475dbc 138.5px,#4a58b8 144.5px,#4b52b2 150.5px,#4b50b0 156.5px,#4c4fae 162.5px,#4c4dad 168.5px,#4c4baa 174.5px,#4c4aa9 180.5px,#4d4aa9 186.5px,#4d49a8 192.5px,#4d48a7 198.5px,#4d46a5 204.5px,#4c45a4 210.5px,#4b44a3 216.5px,#4b43a2 218.5px)"></i><i style="background:linear-gradient(#483f9e 0.5px,#483f9e 6.5px,#483f9e 12.5px,#483f9e 18.5px,#483e9d 24.5px,#483e9d 30.5px,#483e9d 36.5px,#483e9d 42.5px,#483e9d 48.5px,#483e9d 54.5px,#483e9d 60.5px,#483e9d 66.5px,#483e9d 72.5px,#483e9d 78.5px,#483f9e 84.5px,#4a41a0 90.5px,#4d49a9 96.5px,#485bba 102.5px,#3f68c4 108.5px,#3678cd 114.5px,#2c8ad4 120.5px,#2a8ed6 126.5px,#2c8bd5 132.5px,#327fd0 138.5px,#3873cb 144.5px,#3f69c5 150.5px,#4264c1 156.5px,#4461bf 162.5px,#475dbb 168.5px,#4a58b8 174.5px,#4a55b5 180.5px,#4b53b3 186.5px,#4b51b1 192.5px,#4c4eae 198.5px,#4c4baa 204.5px,#4d48a7 210.5px,#4c45a4 216.5px,#4c45a4 218.5px)"></i><i style="background:linear-gradient(#4c45a4 0.5px,#4c45a4 6.5px,#4b44a3 12.5px,#4b44a3 18.5px,#4a42a1 24.5px,#4a41a0 30.5px,#49409f 36.5px,#493f9e 42.5px,#493f9e 48.5px,#483f9e 54.5px,#493f9e 60.5px,#493f9e 66.5px,#49409f 72.5px,#4a41a0 78.5px,#4c44a3 84.5px,#4b50af 90.5px,#3f69c5 96.5px,#3083d1 102.5px,#2595d6 108.5px,#1da3cc 114.5px,#1ca9b8 120.5px,#1da9b9 126.5px,#1da6c4 132.5px,#1f9fd6 138.5px,#2a8ed6 144.5px,#337ecf 150.5px,#3874cc 156.5px,#3c6dc8 162.5px,#4166c2 168.5px,#465ebd 174.5px,#485bba 180.5px,#4a58b8 186.5px,#4b54b4 192.5px,#4b50b0 198.5px,#4c4cac 204.5px,#4d48a8 210.5px,#4c45a4 216.5px,#4c45a4 218.5px)"></i><i style="background:linear-gradient(#4362c0 0.5px,#4362c0 6.5px,#4462bf 12.5px,#4560be 18.5px,#475dbc 24.5px,#4b55b5 30.5px,#4c4dad 36.5px,#4d49a8 42.5px,#4d47a6 48.5px,#4c45a4 54.5px,#4d47a6 60.5px,#4c4baa 66.5px,#4c4faf 72.5px,#4b55b5 78.5px,#4461bf 84.5px,#3677cd 90.5px,#219bd6 96.5px,#1da6c4 102.5px,#1ca9b8 108.5px,#24aea7 114.5px,#32b199 120.5px,#28afa3 126.5px,#1caab5 132.5px,#1da4cb 138.5px,#2498d6 144.5px,#2f85d3 150.5px,#3579ce 156.5px,#3a70ca 162.5px,#4067c3 168.5px,#465ebd 174.5px,#485aba 180.5px,#4a56b6 186.5px,#4b52b2 192.5px,#4c4ead 198.5px,#4d4aa9 204.5px,#4d46a5 210.5px,#4b44a3 216.5px,#4b43a2 218.5px)"></i><i style="background:linear-gradient(#2c8ad4 0.5px,#2a8ed6 6.5px,#2890d6 12.5px,#2694d6 18.5px,#2595d6 24.5px,#2c8bd5 30.5px,#327ed0 36.5px,#3776cc 42.5px,#3a70ca 48.5px,#3d6cc7 54.5px,#3972cb 60.5px,#347bce 66.5px,#3182d1 72.5px,#2d88d4 78.5px,#229ad6 84.5px,#1da6c4 90.5px,#1eadac 96.5px,#24aea7 102.5px,#21adaa 108.5px,#27aea4 114.5px,#29afa1 120.5px,#1cabb2 126.5px,#1da6c4 132.5px,#1f9fd6 138.5px,#2a8ed6 144.5px,#337dcf 150.5px,#3971cb 156.5px,#3f68c4 162.5px,#4560be 168.5px,#4a58b8 174.5px,#4b53b3 180.5px,#4c4fae 186.5px,#4c4baa 192.5px,#4d47a6 198.5px,#4c45a4 204.5px,#4b43a2 210.5px,#4a41a0 216.5px,#4a41a0 218.5px)"></i><i style="background:linear-gradient(#2694d6 0.5px,#1f9fd6 6.5px,#1da3cb 12.5px,#1da9ba 18.5px,#23aea8 24.5px,#29afa1 30.5px,#25aea6 36.5px,#20adab 42.5px,#1cacb0 48.5px,#1cabb3 54.5px,#23aea8 60.5px,#2fb09b 66.5px,#30b19a 72.5px,#2db09e 78.5px,#33b198 84.5px,#35b295 90.5px,#2eb09d 96.5px,#1dacae 102.5px,#1da7be 108.5px,#1da5c5 114.5px,#1ea3cd 120.5px,#2399d6 126.5px,#2c8bd5 132.5px,#327fd0 138.5px,#3873cb 144.5px,#3f69c5 150.5px,#4461be 156.5px,#4959b9 162.5px,#4b52b2 168.5px,#4c4baa 174.5px,#4d47a6 180.5px,#4c45a4 186.5px,#4b44a3 192.5px,#4a42a1 198.5px,#4a41a0 204.5px,#49409f 210.5px,#493f9e 216.5px,#493f9e 218.5px)"></i><i style="background:linear-gradient(#3874cc 0.5px,#3083d2 6.5px,#2694d6 12.5px,#1da4c9 18.5px,#22ada9 24.5px,#4bb682 30.5px,#7cbc59 36.5px,#a2bb48 42.5px,#baba3d 48.5px,#c7b83a 54.5px,#ceb63b 60.5px,#d3b53b 66.5px,#beba3b 72.5px,#89bc53 78.5px,#5bb874 84.5px,#32b198 90.5px,#1ca9b8 96.5px,#1ea1d4 102.5px,#2b8cd5 108.5px,#327fd0 114.5px,#3874cc 120.5px,#3e6ac5 126.5px,#4362bf 132.5px,#475dbc 138.5px,#4a58b8 144.5px,#4b52b2 150.5px,#4c4cac 156.5px,#4d47a6 162.5px,#4c45a4 168.5px,#4a42a1 174.5px,#4a41a0 180.5px,#49409f 186.5px,#49409f 192.5px,#493f9e 198.5px,#483f9e 204.5px,#483f9e 210.5px,#483e9d 216.5px,#483e9d 218.5px)"></i><i style="background:linear-gradient(#4c4faf 0.5px,#4959b9 6.5px,#4264c1 12.5px,#3677cd 18.5px,#2793d6 24.5px,#1da9ba 30.5px,#41b48a 36.5px,#8cbb52 42.5px,#c6b83a 48.5px,#e0b13c 54.5px,#deb23c 60.5px,#d6b43b 66.5px,#acbb43 72.5px,#64b96c 78.5px,#28afa3 84.5px,#1da4c9 90.5px,#2b8bd5 96.5px,#3972cb 102.5px,#4461bf 108.5px,#4a58b8 114.5px,#4b51b0 120.5px,#4c4aaa 126.5px,#4d47a6 132.5px,#4c45a4 138.5px,#4b44a3 144.5px,#4b43a2 150.5px,#4a42a1 156.5px,#4941a0 162.5px,#49409f 168.5px,#493f9e 174.5px,#483f9e 180.5px,#483f9e 186.5px,#483e9d 192.5px,#483e9d 198.5px,#483e9d 204.5px,#483e9d 210.5px,#483e9d 216.5px,#483e9d 218.5px)"></i><i style="background:linear-gradient(#49409f 0.5px,#4a42a1 6.5px,#4c45a4 12.5px,#4c4dad 18.5px,#475cbb 24.5px,#3874cc 30.5px,#2596d6 36.5px,#1da8be 42.5px,#2bb09f 48.5px,#47b585 54.5px,#3eb48c 60.5px,#34b296 66.5px,#1eacad 72.5px,#1da5c6 78.5px,#2a8ed6 84.5px,#3972cb 90.5px,#465ebd 96.5px,#4b50af 102.5px,#4d46a5 108.5px,#4b43a2 114.5px,#4a41a0 120.5px,#49409f 126.5px,#49409f 132.5px,#493f9e 138.5px,#493f9e 144.5px,#493f9e 150.5px,#483f9e 156.5px,#483e9d 162.5px,#483e9d 168.5px,#483e9d 174.5px,#483e9d 180.5px,#483e9d 186.5px,#483e9d 192.5px,#483e9d 198.5px,#483e9d 204.5px,#483e9d 210.5px,#483e9d 216.5px,#483e9d 218.5px)"></i><i style="background:linear-gradient(#483e9d 0.5px,#483e9d 6.5px,#483f9e 12.5px,#49409f 18.5px,#4a42a1 24.5px,#4d49a9 30.5px,#495ab9 36.5px,#3e6ac6 42.5px,#357ace 48.5px,#2e86d3 54.5px,#3083d2 60.5px,#327fd0 66.5px,#3775cc 72.5px,#3e6ac6 78.5px,#485bba 84.5px,#4c4dac 90.5px,#4c45a4 96.5px,#4a41a0 102.5px,#493f9e 108.5px,#483f9e 114.5px,#483e9d 120.5px,#483e9d 126.5px,#483e9d 132.5px,#483e9d 138.5px,#483e9d 144.5px,#483e9d 150.5px,#483e9d 156.5px,#483e9d 162.5px,#483e9d 168.5px,#483e9d 174.5px,#483e9d 180.5px,#483e9d 186.5px,#483e9d 192.5px,#483e9d 198.5px,#483e9d 204.5px,#483e9d 210.5px,#483e9d 216.5px,#483e9d 218.5px)"></i><i style="background:linear-gradient(#483e9d 0.5px,#483e9d 6.5px,#483e9d 12.5px,#483e9d 18.5px,#483e9d 24.5px,#493f9e 30.5px,#4a42a1 36.5px,#4c45a4 42.5px,#4c4aaa 48.5px,#4c4faf 54.5px,#4c4eae 60.5px,#4c4dac 66.5px,#4d4aa9 72.5px,#4d46a5 78.5px,#4b43a2 84.5px,#49409f 90.5px,#493f9e 96.5px,#483e9d 102.5px,#483e9d 108.5px,#483e9d 114.5px,#483e9d 120.5px,#483e9d 126.5px,#483e9d 132.5px,#483e9d 138.5px,#483e9d 144.5px,#483e9d 150.5px,#483e9d 156.5px,#483e9d 162.5px,#483e9d 168.5px,#483e9d 174.5px,#483e9d 180.5px,#483e9d 186.5px,#483e9d 192.5px,#483e9d 198.5px,#483e9d 204.5px,#483e9d 210.5px,#483e9d 216.5px,#483e9d 218.5px)"></i><i style="background:linear-gradient(#483e9d 0.5px,#483e9d 6.5px,#483e9d 12.5px,#483e9d 18.5px,#483e9d 24.5px,#483e9d 30.5px,#483e9d 36.5px,#483f9e 42.5px,#493f9e 48.5px,#49409f 54.5px,#49409f 60.5px,#49409f 66.5px,#493f9e 72.5px,#493f9e 78.5px,#483e9d 84.5px,#483e9d 90.5px,#483e9d 96.5px,#483e9d 102.5px,#483e9d 108.5px,#483e9d 114.5px,#483e9d 120.5px,#483e9d 126.5px,#483e9d 132.5px,#483e9d 138.5px,#483e9d 144.5px,#483e9d 150.5px,#483e9d 156.5px,#483e9d 162.5px,#483e9d 168.5px,#483e9d 174.5px,#483e9d 180.5px,#483e9d 186.5px,#483e9d 192.5px,#483e9d 198.5px,#483e9d 204.5px,#483e9d 210.5px,#483e9d 216.5px,#483e9d 218.5px)"></i><i style="background:linear-gradient(#483e9d 0.5px,#483e9d 6.5px,#483e9d 12.5px,#483e9d 18.5px,#483e9d 24.5px,#483e9d 30.5px,#483e9d 36.5px,#483e9d 42.5px,#483e9d 48.5px,#483e9d 54.5px,#483e9d 60.5px,#483e9d 66.5px,#483e9d 72.5px,#483e9d 78.5px,#483e9d 84.5px,#483e9d 90.5px,#483e9d 96.5px,#483e9d 102.5px,#483e9d 108.5px,#483e9d 114.5px,#483e9d 120.5px,#483e9d 126.5px,#483e9d 132.5px,#483e9d 138.5px,#483e9d 144.5px,#483e9d 150.5px,#483e9d 156.5px,#483e9d 162.5px,#483e9d 168.5px,#483e9d 174.5px,#483e9d 180.5px,#483e9d 186.5px,#483e9d 192.5px,#483e9d 198.5px,#483e9d 204.5px,#483e9d 210.5px,#483e9d 216.5px,#483e9d 218.5px)"></i><i style="background:linear-gradient(#483e9d 0.5px,#483e9d 6.5px,#483e9d 12.5px,#483e9d 18.5px,#483e9d 24.5px,#483e9d 30.5px,#483e9d 36.5px,#483e9d 42.5px,#483e9d 48.5px,#483e9d 54.5px,#483e9d 60.5px,#483e9d 66.5px,#483e9d 72.5px,#483e9d 78.5px,#483e9d 84.5px,#483e9d 90.5px,#483e9d 96.5px,#483e9d 102.5px,#483e9d 108.5px,#483e9d 114.5px,#483e9d 120.5px,#483e9d 126.5px,#483f9e 132.5px,#493f9e 138.5px,#493f9e 144.5px,#483f9e 150.5px,#483f9e 156.5px,#483f9e 162.5px,#483f9e 168.5px,#483f9e 174.5px,#483f9e 180.5px,#483e9d 186.5px,#483e9d 192.5px,#483e9d 198.5px,#483e9d 204.5px,#483e9d 210.5px,#483e9d 216.5px,#483e9d 218.5px)"></i><i style="background:linear-gradient(#483e9d 0.5px,#483e9d 6.5px,#483e9d 12.5px,#483e9d 18.5px,#483e9d 24.5px,#483e9d 30.5px,#483e9d 36.5px,#483e9d 42.5px,#483e9d 48.5px,#483e9d 54.5px,#483e9d 60.5px,#483e9d 66.5px,#483e9d 72.5px,#483e9d 78.5px,#483e9d 84.5px,#483e9d 90.5px,#483e9d 96.5px,#483f9e 102.5px,#483f9e 108.5px,#493f9e 114.5px,#49409f 120.5px,#4a41a0 126.5px,#4a42a1 132.5px,#4b43a2 138.5px,#4b43a2 144.5px,#4a42a1 150.5px,#4a41a0 156.5px,#4a41a0 162.5px,#4a41a0 168.5px,#4941a0 174.5px,#49409f 180.5px,#49409f 186.5px,#49409f 192.5px,#49409f 198.5px,#493f9e 204.5px,#493f9e 210.5px,#493f9e 216.5px,#483f9e 218.5px)"></i><i style="background:linear-gradient(#483e9d 0.5px,#483e9d 6.5px,#483e9d 12.5px,#483e9d 18.5px,#483e9d 24.5px,#483e9d 30.5px,#483e9d 36.5px,#483f9e 42.5px,#493f9e 48.5px,#49409f 54.5px,#493f9e 60.5px,#493f9e 66.5px,#493f9e 72.5px,#493f9e 78.5px,#49409f 84.5px,#49409f 90.5px,#4a41a0 96.5px,#4a42a1 102.5px,#4b43a2 108.5px,#4c45a4 114.5px,#4d47a6 120.5px,#4c4baa 126.5px,#4b50af 132.5px,#4b55b5 138.5px,#4b53b2 144.5px,#4c4dac 150.5px,#4d48a7 156.5px,#4d47a6 162.5px,#4d47a6 168.5px,#4c46a5 174.5px,#4c45a4 180.5px,#4c45a4 186.5px,#4b44a3 192.5px,#4b43a2 198.5px,#4a42a1 204.5px,#4a42a1 210.5px,#4a41a0 216.5px,#4941a0 218.5px)"></i><i style="background:linear-gradient(#483e9d 0.5px,#483e9d 6.5px,#483e9d 12.5px,#483f9e 18.5px,#493f9e 24.5px,#493f9e 30.5px,#4941a0 36.5px,#4b43a2 42.5px,#4c45a4 48.5px,#4c46a5 54.5px,#4c45a4 60.5px,#4c45a4 66.5px,#4c45a4 72.5px,#4c45a4 78.5px,#4c46a5 84.5px,#4d48a8 90.5px,#4c4cab 96.5px,#4b50b0 102.5px,#4b55b4 108.5px,#495ab9 114.5px,#455fbd 120.5px,#4165c2 126.5px,#3e6ac6 132.5px,#3a6fca 138.5px,#3e6ac5 144.5px,#4560be 150.5px,#4a57b7 156.5px,#4b55b5 162.5px,#4b53b3 168.5px,#4b51b1 174.5px,#4c4faf 180.5px,#4c4dac 186.5px,#4c4baa 192.5px,#4d49a8 198.5px,#4d47a6 204.5px,#4c45a4 210.5px,#4b43a2 216.5px,#4b43a2 218.5px)"></i><i style="background:linear-gradient(#493f9e 0.5px,#49409f 6.5px,#4a41a0 12.5px,#4b43a2 18.5px,#4b44a3 24.5px,#4d47a6 30.5px,#4c4dac 36.5px,#4a56b5 42.5px,#465ebc 48.5px,#455fbd 54.5px,#465ebd 60.5px,#475dbc 66.5px,#475cbb 72.5px,#485cbb 78.5px,#455fbd 84.5px,#4264c1 90.5px,#3f69c5 96.5px,#3b6ec9 102.5px,#3873cb 108.5px,#357ace 114.5px,#3180d0 120.5px,#2e86d3 126.5px,#2c8ad5 132.5px,#2a8dd6 138.5px,#3181d1 144.5px,#3b6fc9 150.5px,#4461bf 156.5px,#455fbd 162.5px,#475dbb 168.5px,#495aba 174.5px,#4a58b8 180.5px,#4b55b4 186.5px,#4b51b1 192.5px,#4c4eae 198.5px,#4c4baa 204.5px,#4d47a6 210.5px,#4c45a4 216.5px,#4c44a3 218.5px)"></i><i style="background:linear-gradient(#4d47a6 0.5px,#4c4baa 6.5px,#4b50af 12.5px,#4a56b6 18.5px,#475cbb 24.5px,#4362c0 30.5px,#3c6cc7 36.5px,#3678cd 42.5px,#2f85d2 48.5px,#2d88d4 54.5px,#2e87d3 60.5px,#2e86d3 66.5px,#2f84d2 72.5px,#3083d1 78.5px,#2e87d3 84.5px,#2b8dd6 90.5px,#2792d6 96.5px,#2596d6 102.5px,#2399d6 108.5px,#219cd6 114.5px,#1f9fd6 120.5px,#1ea0d6 126.5px,#1e9fd6 132.5px,#209dd6 138.5px,#2b8cd5 144.5px,#3776cc 150.5px,#4165c2 156.5px,#4362c0 162.5px,#4560be 168.5px,#475dbb 174.5px,#495ab9 180.5px,#4a56b6 186.5px,#4b53b2 192.5px,#4c4faf 198.5px,#4c4bab 204.5px,#4d48a7 210.5px,#4c45a4 216.5px,#4c44a3 218.5px)"></i><i style="background:linear-gradient(#465ebd 0.5px,#4165c2 6.5px,#3c6dc7 12.5px,#3775cc 18.5px,#327fd0 24.5px,#2d89d4 30.5px,#2596d6 36.5px,#1ea1d3 42.5px,#1da5c6 48.5px,#1da7c0 54.5px,#1da7bf 60.5px,#1da7be 66.5px,#1da6c1 72.5px,#1da6c4 78.5px,#1da6c3 84.5px,#1da6c1 90.5px,#1da7c1 96.5px,#1da6c2 102.5px,#1da5c5 108.5px,#1da5c7 114.5px,#1da4ca 120.5px,#1ea2cf 126.5px,#1ea0d4 132.5px,#219bd6 138.5px,#2d88d4 144.5px,#3972cb 150.5px,#4363c0 156.5px,#455fbd 162.5px,#475cbb 168.5px,#4959b9 174.5px,#4a56b6 180.5px,#4b52b2 186.5px,#4c4fae 192.5px,#4c4baa 198.5px,#4d48a7 204.5px,#4c45a4 210.5px,#4b43a2 216.5px,#4b43a2 218.5px)"></i><i style="background:linear-gradient(#3972cb 0.5px,#347bce 6.5px,#2e86d3 12.5px,#2990d6 18.5px,#219bd6 24.5px,#1ea2d0 30.5px,#1da5c4 36.5px,#1da9b9 42.5px,#1dacae 48.5px,#25aea6 54.5px,#2bb09f 60.5px,#2eb09c 66.5px,#2aafa0 72.5px,#26aea5 78.5px,#22ada9 84.5px,#1cacaf 90.5px,#1caab5 96.5px,#1da8bc 102.5px,#1da6c3 108.5px,#1da3cb 114.5px,#1ea1d4 120.5px,#2299d6 126.5px,#2990d6 132.5px,#2e86d3 138.5px,#3776cc 144.5px,#4165c2 150.5px,#4959b9 156.5px,#4a56b6 162.5px,#4b52b2 168.5px,#4c4faf 174.5px,#4c4cab 180.5px,#4d49a8 186.5px,#4d47a6 192.5px,#4c45a4 198.5px,#4b44a3 204.5px,#4a42a1 210.5px,#4a41a0 216.5px,#4941a0 218.5px)"></i><i style="background:linear-gradient(#3972cb 0.5px,#347bce 6.5px,#2e86d3 12.5px,#2990d6 18.5px,#219bd6 24.5px,#1ea2d0 30.5px,#1da5c6 36.5px,#1da8bd 42.5px,#1cabb3 48.5px,#20adaa 54.5px,#29afa2 60.5px,#2eb09c 66.5px,#2aafa0 72.5px,#26aea5 78.5px,#1dacae 84.5px,#1ca9b9 90.5px,#1da6c3 96.5px,#1ea2cf 102.5px,#219cd6 108.5px,#2891d6 114.5px,#2e86d3 120.5px,#347bce 126.5px,#3a70ca 132.5px,#4068c4 138.5px,#465ebc 144.5px,#4b53b3 150.5px,#4c4aaa 156.5px,#4d48a7 162.5px,#4d46a5 168.5px,#4c45a4 174.5px,#4b44a3 180.5px,#4b43a2 186.5px,#4a42a1 192.5px,#4a41a0 198.5px,#49409f 204.5px,#49409f 210.5px,#493f9e 216.5px,#483f9e 218.5px)"></i><i style="background:linear-gradient(#465ebd 0.5px,#4165c2 6.5px,#3c6dc7 12.5px,#3775cc 18.5px,#327fd0 24.5px,#2d88d4 30.5px,#2891d6 36.5px,#2399d6 42.5px,#1ea0d5 48.5px,#1da3cc 54.5px,#1da6c4 60.5px,#1da7be 66.5px,#1da6c1 72.5px,#1da5c4 78.5px,#1ea2cf 84.5px,#229ad6 90.5px,#2a8ed6 96.5px,#3082d1 102.5px,#3677cd 108.5px,#3c6dc7 114.5px,#4264c1 120.5px,#475cbb 126.5px,#4b55b5 132.5px,#4c4ead 138.5px,#4d48a7 144.5px,#4c44a3 150.5px,#4a42a1 156.5px,#4a41a0 162.5px,#4941a0 168.5px,#49409f 174.5px,#49409f 180.5px,#493f9e 186.5px,#493f9e 192.5px,#483f9e 198.5px,#483e9d 204.5px,#483e9d 210.5px,#483e9d 216.5px,#483e9d 218.5px)"></i><i style="background:linear-gradient(#4d47a6 0.5px,#4c4baa 6.5px,#4b50af 12.5px,#4a56b6 18.5px,#475cbb 24.5px,#4362bf 30.5px,#4068c4 36.5px,#3c6ec8 42.5px,#3875cc 48.5px,#347bce 54.5px,#3181d1 60.5px,#2e86d3 66.5px,#2f84d2 72.5px,#3082d1 78.5px,#3579ce 84.5px,#3b6ec9 90.5px,#4166c2 96.5px,#465ebd 102.5px,#4a58b7 108.5px,#4b50b0 114.5px,#4c4aa9 120.5px,#4c46a5 126.5px,#4b43a2 132.5px,#4a42a1 138.5px,#4941a0 144.5px,#49409f 150.5px,#493f9e 156.5px,#483f9e 162.5px,#483f9e 168.5px,#483f9e 174.5px,#483e9d 180.5px,#483e9d 186.5px,#483e9d 192.5px,#483e9d 198.5px,#483e9d 204.5px,#483e9d 210.5px,#483e9d 216.5px,#483e9d 218.5px)"></i><i style="background:linear-gradient(#493f9e 0.5px,#49409f 6.5px,#4a41a0 12.5px,#4b43a2 18.5px,#4b44a3 24.5px,#4d46a5 30.5px,#4c4aa9 36.5px,#4c4eae 42.5px,#4b53b3 48.5px,#4a57b7 54.5px,#485aba 60.5px,#475dbc 66.5px,#475cbb 72.5px,#485cbb 78.5px,#4a56b6 84.5px,#4c4faf 90.5px,#4c4aa9 96.5px,#4c46a5 102.5px,#4b44a3 108.5px,#4a42a1 114.5px,#4941a0 120.5px,#49409f 126.5px,#493f9e 132.5px,#493f9e 138.5px,#493f9e 144.5px,#493f9e 150.5px,#493f9e 156.5px,#493f9e 162.5px,#493f9e 168.5px,#483f9e 174.5px,#483f9e 180.5px,#483f9e 186.5px,#483e9d 192.5px,#483e9d 198.5px,#483e9d 204.5px,#483e9d 210.5px,#483e9d 216.5px,#483e9d 218.5px)"></i><i style="background:linear-gradient(#483e9d 0.5px,#483e9d 6.5px,#483e9d 12.5px,#483f9e 18.5px,#493f9e 24.5px,#493f9e 30.5px,#49409f 36.5px,#4a41a0 42.5px,#4a42a1 48.5px,#4b43a2 54.5px,#4b44a3 60.5px,#4c45a4 66.5px,#4c45a4 72.5px,#4c45a4 78.5px,#4b43a2 84.5px,#4a42a1 90.5px,#49409f 96.5px,#49409f 102.5px,#493f9e 108.5px,#483f9e 114.5px,#483e9d 120.5px,#483e9d 126.5px,#493f9e 132.5px,#49409f 138.5px,#4a41a0 144.5px,#4a41a0 150.5px,#4a41a0 156.5px,#4a42a1 162.5px,#4a41a0 168.5px,#4a41a0 174.5px,#4941a0 180.5px,#49409f 186.5px,#49409f 192.5px,#49409f 198.5px,#493f9e 204.5px,#493f9e 210.5px,#493f9e 216.5px,#483f9e 218.5px)"></i><i style="background:linear-gradient(#483e9d 0.5px,#483e9d 6.5px,#483e9d 12.5px,#483e9d 18.5px,#483e9d 24.5px,#483e9d 30.5px,#483e9d 36.5px,#483e9d 42.5px,#483f9e 48.5px,#483f9e 54.5px,#493f9e 60.5px,#493f9e 66.5px,#493f9e 72.5px,#493f9e 78.5px,#483f9e 84.5px,#483f9e 90.5px,#483e9d 96.5px,#483e9d 102.5px,#483e9d 108.5px,#483e9d 114.5px,#483f9e 120.5px,#49409f 126.5px,#4a42a1 132.5px,#4c45a4 138.5px,#4d46a5 144.5px,#4d47a6 150.5px,#4d47a6 156.5px,#4d47a6 162.5px,#4c46a5 168.5px,#4c45a4 174.5px,#4c44a3 180.5px,#4b44a3 186.5px,#4b43a2 192.5px,#4a42a1 198.5px,#4a42a1 204.5px,#4a41a0 210.5px,#4941a0 216.5px,#4941a0 218.5px)"></i><i style="background:linear-gradient(#483e9d 0.5px,#483e9d 6.5px,#483e9d 12.5px,#483e9d 18.5px,#483e9d 24.5px,#483e9d 30.5px,#483e9d 36.5px,#483e9d 42.5px,#483e9d 48.5px,#483e9d 54.5px,#483e9d 60.5px,#483e9d 66.5px,#483e9d 72.5px,#483e9d 78.5px,#483e9d 84.5px,#483e9d 90.5px,#483e9d 96.5px,#483e9d 102.5px,#483e9d 108.5px,#493f9e 114.5px,#4941a0 120.5px,#4b44a3 126.5px,#4c4baa 132.5px,#4b52b1 138.5px,#4b53b3 144.5px,#4b53b2 150.5px,#4b51b1 156.5px,#4c4faf 162.5px,#4c4dac 168.5px,#4c4bab 174.5px,#4c4aa9 180.5px,#4d48a7 186.5px,#4d47a6 192.5px,#4c46a5 198.5px,#4c45a4 204.5px,#4b44a3 210.5px,#4b43a2 216.5px,#4b43a2 218.5px)"></i><i style="background:linear-gradient(#483e9d 0.5px,#483e9d 6.5px,#483e9d 12.5px,#483e9d 18.5px,#483e9d 24.5px,#483e9d 30.5px,#483e9d 36.5px,#483e9d 42.5px,#483e9d 48.5px,#483e9d 54.5px,#483e9d 60.5px,#483e9d 66.5px,#483e9d 72.5px,#483e9d 78.5px,#483e9d 84.5px,#483e9d 90.5px,#483f9e 96.5px,#493f9e 102.5px,#49409f 108.5px,#4a42a1 114.5px,#4d48a7 120.5px,#4b53b2 126.5px,#475cbb 132.5px,#455fbe 138.5px,#465ebc 144.5px,#485cbb 150.5px,#4a59b9 156.5px,#4b55b4 162.5px,#4b52b1 168.5px,#4b50af 174.5px,#4c4ead 180.5px,#4c4cac 186.5px,#4c4aaa 192.5px,#4d49a8 198.5px,#4d47a6 204.5px,#4c46a5 210.5px,#4c45a4 216.5px,#4c44a3 218.5px)"></i><i style="background:linear-gradient(#483e9d 0.5px,#483e9d 6.5px,#483e9d 12.5px,#483e9d 18.5px,#483e9d 24.5px,#483e9d 30.5px,#483f9e 36.5px,#493f9e 42.5px,#49409f 48.5px,#49409f 54.5px,#49409f 60.5px,#493f9e 66.5px,#493f9e 72.5px,#493f9e 78.5px,#49409f 84.5px,#4941a0 90.5px,#4a42a1 96.5px,#4b44a3 102.5px,#4c46a5 108.5px,#4c4fae 114.5px,#475cbb 120.5px,#4166c2 126.5px,#3e6ac6 132.5px,#4067c4 138.5px,#4363c0 144.5px,#465fbd 150.5px,#485aba 156.5px,#4a55b5 162.5px,#4b52b1 168.5px,#4b50af 174.5px,#4c4ead 180.5px,#4c4cac 186.5px,#4c4aaa 192.5px,#4d49a8 198.5px,#4d47a6 204.5px,#4c46a5 210.5px,#4c45a4 216.5px,#4c44a3 218.5px)"></i><i style="background:linear-gradient(#483e9d 0.5px,#483e9d 6.5px,#483f9e 12.5px,#493f9e 18.5px,#49409f 24.5px,#4941a0 30.5px,#4a42a1 36.5px,#4c44a3 42.5px,#4d48a7 48.5px,#4d47a6 54.5px,#4c45a4 60.5px,#4b44a3 66.5px,#4b44a3 72.5px,#4b44a3 78.5px,#4c46a5 84.5px,#4d49a8 90.5px,#4c4eae 96.5px,#4b54b4 102.5px,#495ab9 108.5px,#4166c2 114.5px,#3972cb 120.5px,#3677cd 126.5px,#3873cb 132.5px,#3f69c5 138.5px,#4462bf 144.5px,#475cbb 150.5px,#4a57b7 156.5px,#4b51b0 162.5px,#4c4dac 168.5px,#4c4bab 174.5px,#4c4aa9 180.5px,#4d48a7 186.5px,#4d47a6 192.5px,#4c46a5 198.5px,#4c45a4 204.5px,#4b44a3 210.5px,#4b43a2 216.5px,#4b43a2 218.5px)"></i><i style="background:linear-gradient(#49409f 0.5px,#4a41a0 6.5px,#4a42a1 12.5px,#4b44a3 18.5px,#4c46a5 24.5px,#4d49a8 30.5px,#4b50af 36.5px,#4a58b8 42.5px,#455fbe 48.5px,#465fbd 54.5px,#485bba 60.5px,#4a57b7 66.5px,#4a57b7 72.5px,#4a56b6 78.5px,#485bba 84.5px,#4461bf 90.5px,#3f68c4 96.5px,#3b6ec9 102.5px,#3874cc 108.5px,#3280d0 114.5px,#2f85d2 120.5px,#3280d0 126.5px,#3873cb 132.5px,#4263c1 138.5px,#485bba 144.5px,#4b55b4 150.5px,#4c4ead 156.5px,#4d48a7 162.5px,#4c46a5 168.5px,#4c45a4 174.5px,#4c44a3 180.5px,#4b44a3 186.5px,#4b43a2 192.5px,#4a42a1 198.5px,#4a42a1 204.5px,#4a41a0 210.5px,#4941a0 216.5px,#4941a0 218.5px)"></i><i style="background:linear-gradient(#4c46a5 0.5px,#4d49a8 6.5px,#4c4eae 12.5px,#4b54b4 18.5px,#495ab9 24.5px,#4560be 30.5px,#3e69c5 36.5px,#3874cc 42.5px,#3181d1 48.5px,#3181d1 54.5px,#347bcf 60.5px,#3677cd 66.5px,#3776cc 72.5px,#3775cc 78.5px,#347bce 84.5px,#3083d2 90.5px,#2c89d4 96.5px,#2a8ed6 102.5px,#2891d6 108.5px,#2793d6 114.5px,#2b8cd5 120.5px,#337ecf 126.5px,#3e6bc6 132.5px,#4a59b8 138.5px,#4c4eae 144.5px,#4d48a8 150.5px,#4c45a4 156.5px,#4a42a1 162.5px,#4a41a0 168.5px,#4a41a0 174.5px,#4941a0 180.5px,#49409f 186.5px,#49409f 192.5px,#49409f 198.5px,#493f9e 204.5px,#493f9e 210.5px,#493f9e 216.5px,#483f9e 218.5px)"></i><i style="background:linear-gradient(#4b53b3 0.5px,#495aba 6.5px,#4461bf 12.5px,#3f68c4 18.5px,#3b6fc9 24.5px,#3678cd 30.5px,#2e86d3 36.5px,#2694d6 42.5px,#1ea1d3 48.5px,#1ea2d0 54.5px,#1ea1d2 60.5px,#1ea0d5 66.5px,#1f9fd6 72.5px,#209dd6 78.5px,#1ea0d5 84.5px,#1ea2d1 90.5px,#1ea2d0 96.5px,#1ea1d1 102.5px,#1ea0d5 108.5px,#2399d6 114.5px,#2d88d3 120.5px,#3a71ca 126.5px,#475cbb 132.5px,#4d49a9 138.5px,#4b44a3 144.5px,#4a42a1 150.5px,#49409f 156.5px,#493f9e 162.5px,#493f9e 168.5px,#483f9e 174.5px,#483f9e 180.5px,#483f9e 186.5px,#483e9d 192.5px,#483e9d 198.5px,#483e9d 204.5px,#483e9d 210.5px,#483e9d 216.5px,#483e9d 218.5px)"></i><i style="background:linear-gradient(#475dbc 0.5px,#4264c1 6.5px,#3c6dc7 12.5px,#3775cc 18.5px,#327fd0 24.5px,#2d89d4 30.5px,#2498d6 36.5px,#1ea2cf 42.5px,#1da7be 48.5px,#1ca9b7 54.5px,#1caab5 60.5px,#1caab4 66.5px,#1caab6 72.5px,#1ca9b8 78.5px,#1da9ba 84.5px,#1da8be 90.5px,#1da6c3 96.5px,#1da4cb 102.5px,#1ea1d3 108.5px,#2890d6 114.5px,#3776cd 120.5px,#465fbd 126.5px,#4c4baa 132.5px,#4a42a1 138.5px,#49409f 144.5px,#493f9e 150.5px,#483f9e 156.5px,#483e9d 162.5px,#483e9d 168.5px,#483e9d 174.5px,#483e9d 180.5px,#483e9d 186.5px,#483e9d 192.5px,#483e9d 198.5px,#483e9d 204.5px,#483e9d 210.5px,#483e9d 216.5px,#483e9d 218.5px)"></i><i style="background:linear-gradient(#475dbc 0.5px,#4264c1 6.5px,#3c6dc7 12.5px,#3775cc 18.5px,#327fd0 24.5px,#2d89d4 30.5px,#2498d6 36.5px,#1ea2cf 42.5px,#1da7be 48.5px,#1caab4 54.5px,#1eadad 60.5px,#23aea8 66.5px,#20adaa 72.5px,#1dacae 78.5px,#1caab4 84.5px,#1da7be 90.5px,#1da4c9 96.5px,#1ea0d6 102.5px,#2694d6 108.5px,#347bce 114.5px,#4460be 120.5px,#4c4bab 126.5px,#4a42a1 132.5px,#493f9e 138.5px,#483e9d 144.5px,#483e9d 150.5px,#483e9d 156.5px,#483e9d 162.5px,#483e9d 168.5px,#483e9d 174.5px,#483e9d 180.5px,#483e9d 186.5px,#483e9d 192.5px,#483e9d 198.5px,#483e9d 204.5px,#483e9d 210.5px,#483e9d 216.5px,#483e9d 218.5px)"></i><i style="background:linear-gradient(#4b53b3 0.5px,#495aba 6.5px,#4461bf 12.5px,#3f68c4 18.5px,#3b6fc9 24.5px,#3678cd 30.5px,#2e86d3 36.5px,#2694d6 42.5px,#1ea1d3 48.5px,#1da5c6 54.5px,#1da8bb 60.5px,#1caab4 66.5px,#1caab6 72.5px,#1ca9b9 78.5px,#1da6c4 84.5px,#1ea1d3 90.5px,#2595d6 96.5px,#2e86d3 102.5px,#3678cd 108.5px,#4461bf 114.5px,#4c4bab 120.5px,#4a42a1 126.5px,#483f9e 132.5px,#483e9d 138.5px,#483e9d 144.5px,#483e9d 150.5px,#483e9d 156.5px,#483e9d 162.5px,#483e9d 168.5px,#483e9d 174.5px,#483e9d 180.5px,#483e9d 186.5px,#483e9d 192.5px,#483e9d 198.5px,#483e9d 204.5px,#483e9d 210.5px,#483e9d 216.5px,#483e9d 218.5px)"></i><i style="background:linear-gradient(#4c46a5 0.5px,#4d49a8 6.5px,#4c4eae 12.5px,#4b54b4 18.5px,#495ab9 24.5px,#4560be 30.5px,#3e69c5 36.5px,#3874cc 42.5px,#3181d1 48.5px,#2b8dd5 54.5px,#2398d6 60.5px,#1ea0d5 66.5px,#1f9fd6 72.5px,#209dd6 78.5px,#2891d6 84.5px,#3181d1 90.5px,#3973cb 96.5px,#4067c3 102.5px,#475dbc 108.5px,#4c4baa 114.5px,#4a42a1 120.5px,#483f9e 126.5px,#483e9d 132.5px,#483e9d 138.5px,#483e9d 144.5px,#483e9d 150.5px,#483e9d 156.5px,#483e9d 162.5px,#483e9d 168.5px,#483e9d 174.5px,#483e9d 180.5px,#483e9d 186.5px,#483e9d 192.5px,#483e9d 198.5px,#483e9d 204.5px,#483e9d 210.5px,#483e9d 216.5px,#483e9d 218.5px)"></i><i style="background:linear-gradient(#49409f 0.5px,#4a41a0 6.5px,#4a42a1 12.5px,#4b44a3 18.5px,#4c46a5 24.5px,#4d49a8 30.5px,#4b50af 36.5px,#4a58b8 42.5px,#4560be 48.5px,#4067c3 54.5px,#3a70ca 60.5px,#3677cd 66.5px,#3776cc 72.5px,#3775cc 78.5px,#3d6bc6 84.5px,#4560be 90.5px,#4a57b7 96.5px,#4c4ead 102.5px,#4d47a6 108.5px,#4a41a0 114.5px,#483f9e 120.5px,#483e9d 126.5px,#483e9d 132.5px,#483e9d 138.5px,#483e9d 144.5px,#483e9d 150.5px,#483e9d 156.5px,#483e9d 162.5px,#483e9d 168.5px,#483e9d 174.5px,#483e9d 180.5px,#483e9d 186.5px,#483e9d 192.5px,#483e9d 198.5px,#483e9d 204.5px,#483e9d 210.5px,#483e9d 216.5px,#483e9d 218.5px)"></i><i style="background:linear-gradient(#483e9d 0.5px,#483e9d 6.5px,#483f9e 12.5px,#493f9e 18.5px,#49409f 24.5px,#4941a0 30.5px,#4a42a1 36.5px,#4c44a3 42.5px,#4d48a7 48.5px,#4c4dac 54.5px,#4b52b2 60.5px,#4a57b7 66.5px,#4a57b7 72.5px,#4a56b6 78.5px,#4c4faf 84.5px,#4d48a7 90.5px,#4c44a3 96.5px,#4a42a1 102.5px,#49409f 108.5px,#483f9e 114.5px,#483e9d 120.5px,#483e9d 126.5px,#483e9d 132.5px,#483e9d 138.5px,#483e9d 144.5px,#483e9d 150.5px,#483e9d 156.5px,#483e9d 162.5px,#483e9d 168.5px,#483e9d 174.5px,#483e9d 180.5px,#483e9d 186.5px,#483e9d 192.5px,#483e9d 198.5px,#483e9d 204.5px,#483e9d 210.5px,#483e9d 216.5px,#483e9d 218.5px)"></i><i style="background:linear-gradient(#483e9d 0.5px,#483e9d 6.5px,#483e9d 12.5px,#483e9d 18.5px,#483e9d 24.5px,#483e9d 30.5px,#483f9e 36.5px,#493f9e 42.5px,#49409f 48.5px,#4a41a0 54.5px,#4b43a2 60.5px,#4b44a3 66.5px,#4b44a3 72.5px,#4b44a3 78.5px,#4a42a1 84.5px,#49409f 90.5px,#493f9e 96.5px,#483f9e 102.5px,#483e9d 108.5px,#483e9d 114.5px,#483e9d 120.5px,#483e9d 126.5px,#483e9d 132.5px,#483e9d 138.5px,#483e9d 144.5px,#483e9d 150.5px,#483e9d 156.5px,#483e9d 162.5px,#483e9d 168.5px,#483e9d 174.5px,#483e9d 180.5px,#483e9d 186.5px,#483e9d 192.5px,#483e9d 198.5px,#483e9d 204.5px,#483e9d 210.5px,#483e9d 216.5px,#483e9d 218.5px)"></i><i style="background:linear-gradient(#483e9d 0.5px,#483e9d 6.5px,#483e9d 12.5px,#483e9d 18.5px,#483e9d 24.5px,#483e9d 30.5px,#483e9d 36.5px,#483e9d 42.5px,#483e9d 48.5px,#483f9e 54.5px,#493f9e 60.5px,#493f9e 66.5px,#493f9e 72.5px,#493f9e 78.5px,#483f9e 84.5px,#483e9d 90.5px,#483e9d 96.5px,#483e9d 102.5px,#483e9d 108.5px,#483e9d 114.5px,#483e9d 120.5px,#483e9d 126.5px,#483e9d 132.5px,#483e9d 138.5px,#483e9d 144.5px,#483e9d 150.5px,#483e9d 156.5px,#483e9d 162.5px,#483e9d 168.5px,#483e9d 174.5px,#483e9d 180.5px,#483e9d 186.5px,#483e9d 192.5px,#483e9d 198.5px,#483e9d 204.5px,#483e9d 210.5px,#483e9d 216.5px,#483e9d 218.5px)"></i><i style="background:linear-gradient(#483e9d 0.5px,#483e9d 6.5px,#483e9d 12.5px,#483e9d 18.5px,#483e9d 24.5px,#483e9d 30.5px,#483e9d 36.5px,#483e9d 42.5px,#483e9d 48.5px,#483e9d 54.5px,#483e9d 60.5px,#483e9d 66.5px,#483e9d 72.5px,#483e9d 78.5px,#483e9d 84.5px,#483e9d 90.5px,#483e9d 96.5px,#483e9d 102.5px,#483e9d 108.5px,#483e9d 114.5px,#483e9d 120.5px,#483e9d 126.5px,#483e9d 132.5px,#483e9d 138.5px,#483e9d 144.5px,#483f9e 150.5px,#483f9e 156.5px,#483f9e 162.5px,#483f9e 168.5px,#483f9e 174.5px,#483f9e 180.5px,#483f9e 186.5px,#483f9e 192.5px,#483f9e 198.5px,#483f9e 204.5px,#483f9e 210.5px,#483f9e 216.5px,#483f9e 218.5px)"></i><i style="background:linear-gradient(#483e9d 0.5px,#483e9d 6.5px,#483e9d 12.5px,#483e9d 18.5px,#483e9d 24.5px,#483f9e 30.5px,#483f9e 36.5px,#483f9e 42.5px,#493f9e 48.5px,#493f9e 54.5px,#493f9e 60.5px,#493f9e 66.5px,#493f9e 72.5px,#493f9e 78.5px,#493f9e 84.5px,#493f9e 90.5px,#493f9e 96.5px,#493f9e 102.5px,#493f9e 108.5px,#493f9e 114.5px,#49409f 120.5px,#49409f 126.5px,#49409f 132.5px,#49409f 138.5px,#49409f 144.5px,#49409f 150.5px,#49409f 156.5px,#49409f 162.5px,#49409f 168.5px,#49409f 174.5px,#49409f 180.5px,#49409f 186.5px,#49409f 192.5px,#49409f 198.5px,#49409f 204.5px,#49409f 210.5px,#49409f 216.5px,#49409f 218.5px)"></i><i style="background:linear-gradient(#493f9e 0.5px,#493f9e 6.5px,#49409f 12.5px,#49409f 18.5px,#49409f 24.5px,#49409f 30.5px,#4a41a0 36.5px,#4a42a1 42.5px,#4a42a1 48.5px,#4b43a2 54.5px,#4b43a2 60.5px,#4b43a2 66.5px,#4b43a2 72.5px,#4b43a2 78.5px,#4b43a2 84.5px,#4b43a2 90.5px,#4b43a2 96.5px,#4b43a2 102.5px,#4b43a2 108.5px,#4b43a2 114.5px,#4b43a2 120.5px,#4b43a2 126.5px,#4b43a2 132.5px,#4b43a2 138.5px,#4b43a2 144.5px,#4b43a2 150.5px,#4b43a2 156.5px,#4b43a2 162.5px,#4a42a1 168.5px,#4a42a1 174.5px,#4a42a1 180.5px,#4a42a1 186.5px,#4a42a1 192.5px,#4a42a1 198.5px,#4a42a1 204.5px,#4a41a0 210.5px,#4a41a0 216.5px,#4a41a0 218.5px)"></i><i style="background:linear-gradient(#4a41a0 0.5px,#4a42a1 6.5px,#4b43a2 12.5px,#4b44a3 18.5px,#4c44a3 24.5px,#4c45a4 30.5px,#4d47a6 36.5px,#4d4aa9 42.5px,#4c4dac 48.5px,#4c4faf 54.5px,#4b52b2 60.5px,#4b52b2 66.5px,#4b52b2 72.5px,#4b52b1 78.5px,#4b51b1 84.5px,#4b50b0 90.5px,#4b50af 96.5px,#4c4faf 102.5px,#4c4faf 108.5px,#4c4eae 114.5px,#4c4ead 120.5px,#4c4cac 126.5px,#4c4aa9 132.5px,#4d49a8 138.5px,#4d49a8 144.5px,#4d48a7 150.5px,#4d48a7 156.5px,#4d47a6 162.5px,#4c46a5 168.5px,#4c45a4 174.5px,#4c45a4 180.5px,#4c44a3 186.5px,#4b44a3 192.5px,#4b44a3 198.5px,#4b43a2 204.5px,#4b43a2 210.5px,#4a42a1 216.5px,#4a42a1 218.5px)"></i><i style="background:linear-gradient(#4c45a4 0.5px,#4d47a6 6.5px,#4d49a9 12.5px,#4c4cac 18.5px,#4c4faf 24.5px,#4b53b2 30.5px,#4a58b8 36.5px,#475dbc 42.5px,#4362bf 48.5px,#4067c3 54.5px,#3d6bc7 60.5px,#3d6cc7 66.5px,#3d6cc7 72.5px,#3d6bc6 78.5px,#3e6ac5 84.5px,#3f69c4 90.5px,#4067c4 96.5px,#4166c3 102.5px,#4264c1 108.5px,#4461bf 114.5px,#465ebd 120.5px,#485bba 126.5px,#4a56b6 132.5px,#4b53b3 138.5px,#4b52b1 144.5px,#4b50b0 150.5px,#4c4ead 156.5px,#4c4cab 162.5px,#4d49a8 168.5px,#4d47a6 174.5px,#4d47a6 180.5px,#4d46a5 186.5px,#4c45a4 192.5px,#4c45a4 198.5px,#4b44a3 204.5px,#4b43a2 210.5px,#4b43a2 216.5px,#4a42a1 218.5px)"></i><i style="background:linear-gradient(#4c4baa 0.5px,#4b50af 6.5px,#4b55b5 12.5px,#495ab9 18.5px,#465ebc 24.5px,#4362c0 30.5px,#3e6ac5 36.5px,#3972cb 42.5px,#347bcf 48.5px,#2f85d2 54.5px,#2a8ed6 60.5px,#2a8ed6 66.5px,#2a8ed6 72.5px,#2b8dd5 78.5px,#2c8ad5 84.5px,#2d88d4 90.5px,#2e86d3 96.5px,#3082d1 102.5px,#347bcf 108.5px,#3873cb 114.5px,#3c6dc8 120.5px,#4166c3 126.5px,#465fbd 132.5px,#495aba 138.5px,#4a58b8 144.5px,#4b55b5 150.5px,#4b52b2 156.5px,#4c4eae 162.5px,#4c4baa 168.5px,#4d49a8 174.5px,#4d48a7 180.5px,#4d47a6 186.5px,#4c46a5 192.5px,#4c45a4 198.5px,#4b44a3 204.5px,#4b43a2 210.5px,#4b43a2 216.5px,#4a42a1 218.5px)"></i><i style="background:linear-gradient(#4b51b1 0.5px,#4a58b8 6.5px,#465dbc 12.5px,#4363c0 18.5px,#3f68c4 24.5px,#3b6ec9 30.5px,#357ace 36.5px,#2e86d3 42.5px,#2793d6 48.5px,#1ea0d6 54.5px,#1da4ca 60.5px,#1da4c9 66.5px,#1da4c9 72.5px,#1da3cb 78.5px,#1ea2ce 84.5px,#1ea1d2 90.5px,#1ea0d5 96.5px,#229bd6 102.5px,#2a8ed6 108.5px,#3181d1 114.5px,#3677cd 120.5px,#3c6dc8 126.5px,#4363c0 132.5px,#475dbc 138.5px,#495aba 144.5px,#4a57b7 150.5px,#4b53b2 156.5px,#4c4fae 162.5px,#4c4baa 168.5px,#4d49a8 174.5px,#4d47a6 180.5px,#4d46a5 186.5px,#4c45a4 192.5px,#4c45a4 198.5px,#4b44a3 204.5px,#4b43a2 210.5px,#4a42a1 216.5px,#4a42a1 218.5px)"></i><i style="background:linear-gradient(#4b55b5 0.5px,#485bba 6.5px,#4461bf 12.5px,#4067c4 18.5px,#3c6dc8 24.5px,#3775cc 30.5px,#3082d1 36.5px,#2890d6 42.5px,#1f9fd6 48.5px,#1da5c7 54.5px,#1da9b9 60.5px,#1ca9b8 66.5px,#1ca9b8 72.5px,#1da8bb 78.5px,#1da7be 84.5px,#1da6c2 90.5px,#1da5c6 96.5px,#1ea2cf 102.5px,#2496d6 108.5px,#2e86d3 114.5px,#3579ce 120.5px,#3c6ec8 126.5px,#4363c0 132.5px,#475dbb 138.5px,#4959b9 144.5px,#4b55b5 150.5px,#4b51b0 156.5px,#4c4dac 162.5px,#4d48a8 168.5px,#4d47a6 174.5px,#4c46a5 180.5px,#4c45a4 186.5px,#4b44a3 192.5px,#4b43a2 198.5px,#4a42a1 204.5px,#4a42a1 210.5px,#4a41a0 216.5px,#4a41a0 218.5px)"></i><i style="background:linear-gradient(#4b55b5 0.5px,#485bba 6.5px,#4461bf 12.5px,#4067c4 18.5px,#3c6dc8 24.5px,#3775cc 30.5px,#3082d1 36.5px,#2890d6 42.5px,#1f9fd6 48.5px,#1da5c7 54.5px,#1da9b9 60.5px,#1ca9b8 66.5px,#1ca9b8 72.5px,#1da8bb 78.5px,#1da7be 84.5px,#1da6c2 90.5px,#1da5c6 96.5px,#1ea2d0 102.5px,#2694d6 108.5px,#3082d1 114.5px,#3775cc 120.5px,#3e6ac5 126.5px,#455fbd 132.5px,#4a59b8 138.5px,#4b54b4 144.5px,#4b50af 150.5px,#4c4cab 156.5px,#4d48a7 162.5px,#4c45a4 168.5px,#4b44a3 174.5px,#4b43a2 180.5px,#4b43a2 186.5px,#4a42a1 192.5px,#4a41a0 198.5px,#4a41a0 204.5px,#49409f 210.5px,#49409f 216.5px,#49409f 218.5px)"></i><i style="background:linear-gradient(#4b51b1 0.5px,#4a58b8 6.5px,#465dbc 12.5px,#4363c0 18.5px,#3f68c4 24.5px,#3b6ec9 30.5px,#357ace 36.5px,#2e86d3 42.5px,#2793d6 48.5px,#1ea0d6 54.5px,#1da4ca 60.5px,#1da4c9 66.5px,#1da4c9 72.5px,#1da3cb 78.5px,#1ea2ce 84.5px,#1ea1d2 90.5px,#1ea0d5 96.5px,#2498d6 102.5px,#2e86d3 108.5px,#3775cc 114.5px,#3e6ac5 120.5px,#4560be 126.5px,#4a57b7 132.5px,#4b50af 138.5px,#4c4cab 144.5px,#4d48a7 150.5px,#4c46a5 156.5px,#4b44a3 162.5px,#4a42a1 168.5px,#4a41a0 174.5px,#4a41a0 180.5px,#49409f 186.5px,#49409f 192.5px,#49409f 198.5px,#493f9e 204.5px,#493f9e 210.5px,#483f9e 216.5px,#483f9e 218.5px)"></i><i style="background:linear-gradient(#4c4baa 0.5px,#4b50af 6.5px,#4b55b5 12.5px,#495ab9 18.5px,#465ebc 24.5px,#4362c0 30.5px,#3e6ac5 36.5px,#3972cb 42.5px,#347bcf 48.5px,#2f85d2 54.5px,#2a8ed6 60.5px,#2a8ed6 66.5px,#2a8ed6 72.5px,#2b8dd5 78.5px,#2c8ad5 84.5px,#2d88d4 90.5px,#2e86d3 96.5px,#337ed0 102.5px,#3b6fc9 108.5px,#4263c1 114.5px,#485bba 120.5px,#4b52b2 126.5px,#4c4baa 132.5px,#4d46a5 138.5px,#4c44a3 144.5px,#4b43a2 150.5px,#4a42a1 156.5px,#4941a0 162.5px,#49409f 168.5px,#493f9e 174.5px,#493f9e 180.5px,#493f9e 186.5px,#483f9e 192.5px,#483f9e 198.5px,#483e9d 204.5px,#483e9d 210.5px,#483e9d 216.5px,#483e9d 218.5px)"></i><i style="background:linear-gradient(#4c45a4 0.5px,#4d47a6 6.5px,#4d49a9 12.5px,#4c4cac 18.5px,#4c4faf 24.5px,#4b53b2 30.5px,#4a58b8 36.5px,#475dbc 42.5px,#4362bf 48.5px,#4067c3 54.5px,#3d6bc7 60.5px,#3d6cc7 66.5px,#3d6cc7 72.5px,#3d6bc6 78.5px,#3e6ac5 84.5px,#3f69c4 90.5px,#4067c4 96.5px,#4363c0 102.5px,#495ab9 108.5px,#4b51b0 114.5px,#4c4aaa 120.5px,#4c46a5 126.5px,#4b43a2 132.5px,#4a42a1 138.5px,#4941a0 144.5px,#49409f 150.5px,#493f9e 156.5px,#483f9e 162.5px,#483f9e 168.5px,#483e9d 174.5px,#483e9d 180.5px,#483e9d 186.5px,#483e9d 192.5px,#483e9d 198.5px,#483e9d 204.5px,#483e9d 210.5px,#483e9d 216.5px,#483e9d 218.5px)"></i><i style="background:linear-gradient(#4a41a0 0.5px,#4a42a1 6.5px,#4b43a2 12.5px,#4b44a3 18.5px,#4c44a3 24.5px,#4c45a4 30.5px,#4d47a6 36.5px,#4d4aa9 42.5px,#4c4dac 48.5px,#4c4faf 54.5px,#4b52b2 60.5px,#4b52b2 66.5px,#4b52b2 72.5px,#4b52b1 78.5px,#4b51b1 84.5px,#4b50b0 90.5px,#4b50af 96.5px,#4c4dac 102.5px,#4d47a6 108.5px,#4b44a3 114.5px,#4a42a1 120.5px,#4a41a0 126.5px,#49409f 132.5px,#493f9e 138.5px,#483f9e 144.5px,#483f9e 150.5px,#483e9d 156.5px,#483e9d 162.5px,#483e9d 168.5px,#483e9d 174.5px,#483e9d 180.5px,#483e9d 186.5px,#483e9d 192.5px,#483e9d 198.5px,#483e9d 204.5px,#483e9d 210.5px,#483e9d 216.5px,#483e9d 218.5px)"></i><i style="background:linear-gradient(#493f9e 0.5px,#493f9e 6.5px,#49409f 12.5px,#49409f 18.5px,#49409f 24.5px,#49409f 30.5px,#4a41a0 36.5px,#4a42a1 42.5px,#4a42a1 48.5px,#4b43a2 54.5px,#4b43a2 60.5px,#4b43a2 66.5px,#4b43a2 72.5px,#4b43a2 78.5px,#4b43a2 84.5px,#4b43a2 90.5px,#4b43a2 96.5px,#4a42a1 102.5px,#4941a0 108.5px,#49409f 114.5px,#493f9e 120.5px,#483f9e 126.5px,#483e9d 132.5px,#483e9d 138.5px,#483e9d 144.5px,#483e9d 150.5px,#483e9d 156.5px,#483e9d 162.5px,#483e9d 168.5px,#483e9d 174.5px,#483e9d 180.5px,#483e9d 186.5px,#483e9d 192.5px,#483e9d 198.5px,#483e9d 204.5px,#483e9d 210.5px,#483e9d 216.5px,#483e9d 218.5px)"></i><i style="background:linear-gradient(#483e9d 0.5px,#483e9d 6.5px,#483e9d 12.5px,#483e9d 18.5px,#483e9d 24.5px,#483f9e 30.5px,#483f9e 36.5px,#483f9e 42.5px,#493f9e 48.5px,#493f9e 54.5px,#493f9e 60.5px,#493f9e 66.5px,#493f9e 72.5px,#493f9e 78.5px,#493f9e 84.5px,#493f9e 90.5px,#493f9e 96.5px,#493f9e 102.5px,#483f9e 108.5px,#483e9d 114.5px,#483e9d 120.5px,#483e9d 126.5px,#483e9d 132.5px,#483e9d 138.5px,#483e9d 144.5px,#483e9d 150.5px,#483e9d 156.5px,#483e9d 162.5px,#483e9d 168.5px,#483e9d 174.5px,#483e9d 180.5px,#483e9d 186.5px,#483e9d 192.5px,#483e9d 198.5px,#483e9d 204.5px,#483e9d 210.5px,#483e9d 216.5px,#483e9d 218.5px)"></i><i style="background:linear-gradient(#483e9d 0.5px,#483e9d 6.5px,#483e9d 12.5px,#483e9d 18.5px,#483e9d 24.5px,#483e9d 30.5px,#483e9d 36.5px,#483e9d 42.5px,#483e9d 48.5px,#483e9d 54.5px,#483e9d 60.5px,#483e9d 66.5px,#483e9d 72.5px,#483e9d 78.5px,#483e9d 84.5px,#483e9d 90.5px,#483e9d 96.5px,#483e9d 102.5px,#483e9d 108.5px,#483e9d 114.5px,#483e9d 120.5px,#483e9d 126.5px,#483e9d 132.5px,#483e9d 138.5px,#483e9d 144.5px,#483e9d 150.5px,#483e9d 156.5px,#483e9d 162.5px,#483e9d 168.5px,#483e9d 174.5px,#483e9d 180.5px,#483e9d 186.5px,#483e9d 192.5px,#483f9e 198.5px,#483f9e 204.5px,#483f9e 210.5px,#483e9d 216.5px,#483e9d 218.5px)"></i><i style="background:linear-gradient(#483e9d 0.5px,#483e9d 6.5px,#483e9d 12.5px,#483e9d 18.5px,#483e9d 24.5px,#483e9d 30.5px,#483e9d 36.5px,#483e9d 42.5px,#483e9d 48.5px,#483e9d 54.5px,#483f9e 60.5px,#483f9e 66.5px,#483f9e 72.5px,#483f9e 78.5px,#483f9e 84.5px,#483f9e 90.5px,#483f9e 96.5px,#483f9e 102.5px,#483f9e 108.5px,#483f9e 114.5px,#483f9e 120.5px,#483f9e 126.5px,#483f9e 132.5px,#483f9e 138.5px,#493f9e 144.5px,#493f9e 150.5px,#493f9e 156.5px,#493f9e 162.5px,#493f9e 168.5px,#493f9e 174.5px,#493f9e 180.5px,#493f9e 186.5px,#493f9e 192.5px,#493f9e 198.5px,#493f9e 204.5px,#493f9e 210.5px,#493f9e 216.5px,#493f9e 218.5px)"></i><i style="background:linear-gradient(#483e9d 0.5px,#483e9d 6.5px,#483e9d 12.5px,#483f9e 18.5px,#483f9e 24.5px,#483f9e 30.5px,#493f9e 36.5px,#493f9e 42.5px,#49409f 48.5px,#49409f 54.5px,#4941a0 60.5px,#4a41a0 66.5px,#4a41a0 72.5px,#4a41a0 78.5px,#4a41a0 84.5px,#4a41a0 90.5px,#4a41a0 96.5px,#4a41a0 102.5px,#4a41a0 108.5px,#4a41a0 114.5px,#4a41a0 120.5px,#4a41a0 126.5px,#4a41a0 132.5px,#4a41a0 138.5px,#4a41a0 144.5px,#4a41a0 150.5px,#4a42a1 156.5px,#4a41a0 162.5px,#4a41a0 168.5px,#4a41a0 174.5px,#4a41a0 180.5px,#4a41a0 186.5px,#4a41a0 192.5px,#4a41a0 198.5px,#4a41a0 204.5px,#4941a0 210.5px,#49409f 216.5px,#49409f 218.5px)"></i><i style="background:linear-gradient(#493f9e 0.5px,#493f9e 6.5px,#49409f 12.5px,#49409f 18.5px,#49409f 24.5px,#4941a0 30.5px,#4a41a0 36.5px,#4a42a1 42.5px,#4b44a3 48.5px,#4c46a5 54.5px,#4d47a6 60.5px,#4d48a7 66.5px,#4d49a8 72.5px,#4d4aa9 78.5px,#4d49a9 84.5px,#4d49a8 90.5px,#4d49a8 96.5px,#4d49a8 102.5px,#4d49a8 108.5px,#4d48a7 114.5px,#4d48a7 120.5px,#4d47a6 126.5px,#4c46a5 132.5px,#4c45a4 138.5px,#4c45a4 144.5px,#4c45a4 150.5px,#4c45a4 156.5px,#4c45a4 162.5px,#4c44a3 168.5px,#4b44a3 174.5px,#4b44a3 180.5px,#4b44a3 186.5px,#4b43a2 192.5px,#4b43a2 198.5px,#4b43a2 204.5px,#4a42a1 210.5px,#4a42a1 216.5px,#4a42a1 218.5px)"></i><i style="background:linear-gradient(#4a41a0 0.5px,#4a42a1 6.5px,#4a42a1 12.5px,#4b43a2 18.5px,#4b44a3 24.5px,#4c44a3 30.5px,#4d47a6 36.5px,#4c4aaa 42.5px,#4b50af 48.5px,#4a56b6 54.5px,#485cbb 60.5px,#465ebc 66.5px,#4560be 72.5px,#4460be 78.5px,#4560be 84.5px,#4560be 90.5px,#455fbd 96.5px,#465ebd 102.5px,#475dbb 108.5px,#495ab9 114.5px,#4a58b8 120.5px,#4b55b4 126.5px,#4b50af 132.5px,#4c4dad 138.5px,#4c4dac 144.5px,#4c4cab 150.5px,#4c4baa 156.5px,#4d49a8 162.5px,#4d47a6 168.5px,#4d47a6 174.5px,#4c46a5 180.5px,#4c46a5 186.5px,#4c45a4 192.5px,#4c44a3 198.5px,#4b44a3 204.5px,#4b43a2 210.5px,#4a42a1 216.5px,#4a42a1 218.5px)"></i><i style="background:linear-gradient(#4b44a3 0.5px,#4c45a4 6.5px,#4d46a5 12.5px,#4d48a7 18.5px,#4d49a9 24.5px,#4c4cab 30.5px,#4b53b2 36.5px,#4959b9 42.5px,#4461bf 48.5px,#3d6bc6 54.5px,#3775cc 60.5px,#357ace 66.5px,#337ed0 72.5px,#327fd0 78.5px,#327fd0 84.5px,#327ed0 90.5px,#337ccf 96.5px,#3579ce 102.5px,#3873cb 108.5px,#3d6cc7 114.5px,#4067c3 120.5px,#4461bf 126.5px,#485aba 132.5px,#4a56b6 138.5px,#4b54b4 144.5px,#4b52b2 150.5px,#4b50af 156.5px,#4c4dac 162.5px,#4c4aa9 168.5px,#4d49a8 174.5px,#4d48a7 180.5px,#4d47a6 186.5px,#4c46a5 192.5px,#4c45a4 198.5px,#4c44a3 204.5px,#4b44a3 210.5px,#4b43a2 216.5px,#4a42a1 218.5px)"></i><i style="background:linear-gradient(#4d47a6 0.5px,#4d49a8 6.5px,#4c4cab 12.5px,#4c4eae 18.5px,#4b51b1 24.5px,#4b55b4 30.5px,#465dbc 36.5px,#4165c2 42.5px,#3972cb 48.5px,#3082d1 54.5px,#2891d6 60.5px,#2398d6 66.5px,#1f9fd6 72.5px,#1ea0d5 78.5px,#1ea0d6 84.5px,#1f9fd6 90.5px,#219cd6 96.5px,#2596d6 102.5px,#2c8ad4 108.5px,#337dcf 114.5px,#3873cb 120.5px,#3e6ac5 126.5px,#4560be 132.5px,#485bba 138.5px,#4a58b8 144.5px,#4b55b5 150.5px,#4b52b1 156.5px,#4c4eae 162.5px,#4c4baa 168.5px,#4d49a8 174.5px,#4d48a7 180.5px,#4d47a6 186.5px,#4c46a5 192.5px,#4c45a4 198.5px,#4b44a3 204.5px,#4b43a2 210.5px,#4a42a1 216.5px,#4a42a1 218.5px)"></i><i style="background:linear-gradient(#4d4aa9 0.5px,#4c4dac 6.5px,#4b50af 12.5px,#4b53b3 18.5px,#4a56b6 24.5px,#495ab9 30.5px,#4263c1 36.5px,#3c6dc8 42.5px,#337dcf 48.5px,#2891d6 54.5px,#1ea1d2 60.5px,#1da4c9 66.5px,#1da7c0 72.5px,#1da7be 78.5px,#1da7bf 84.5px,#1da7c0 90.5px,#1da6c4 96.5px,#1ea3cd 102.5px,#2497d6 108.5px,#2f85d3 114.5px,#3579cd 120.5px,#3c6dc8 126.5px,#4462bf 132.5px,#485bba 138.5px,#4a58b8 144.5px,#4b55b5 150.5px,#4b51b1 156.5px,#4c4dad 162.5px,#4d49a9 168.5px,#4d48a7 174.5px,#4d46a5 180.5px,#4c46a5 186.5px,#4c45a4 192.5px,#4b44a3 198.5px,#4b43a2 204.5px,#4a42a1 210.5px,#4a42a1 216.5px,#4a41a0 218.5px)"></i><i style="background:linear-gradient(#4c4aaa 0.5px,#4c4dad 6.5px,#4b51b0 12.5px,#4b54b4 18.5px,#4a57b7 24.5px,#485bba 30.5px,#4165c2 36.5px,#3a6fca 42.5px,#3180d1 48.5px,#2595d6 54.5px,#1ea3cd 60.5px,#1da6c3 66.5px,#1da9ba 72.5px,#1ca9b7 78.5px,#1ca9b9 84.5px,#1da9ba 90.5px,#1da7be 96.5px,#1da4c9 102.5px,#2399d6 108.5px,#2f85d2 114.5px,#3677cd 120.5px,#3e6bc6 126.5px,#455fbe 132.5px,#4959b9 138.5px,#4b55b5 144.5px,#4b51b1 150.5px,#4c4dad 156.5px,#4d4aa9 162.5px,#4d46a5 168.5px,#4c45a4 174.5px,#4c44a3 180.5px,#4b44a3 186.5px,#4b43a2 192.5px,#4a42a1 198.5px,#4a41a0 204.5px,#4a41a0 210.5px,#49409f 216.5px,#49409f 218.5px)"></i><i style="background:linear-gradient(#4d49a8 0.5px,#4c4cab 6.5px,#4c4faf 12.5px,#4b52b2 18.5px,#4a55b5 24.5px,#4959b9 30.5px,#4363c0 36.5px,#3d6cc7 42.5px,#347ccf 48.5px,#298fd6 54.5px,#1ea0d5 60.5px,#1da3cc 66.5px,#1da6c4 72.5px,#1da6c1 78.5px,#1da6c2 84.5px,#1da6c4 90.5px,#1da5c7 96.5px,#1ea1d2 102.5px,#298fd6 108.5px,#347ccf 114.5px,#3b6ec9 120.5px,#4263c1 126.5px,#4959b9 132.5px,#4b52b2 138.5px,#4c4ead 144.5px,#4c4aaa 150.5px,#4d47a6 156.5px,#4c45a4 162.5px,#4b43a2 168.5px,#4a42a1 174.5px,#4a42a1 180.5px,#4a41a0 186.5px,#4a41a0 192.5px,#49409f 198.5px,#49409f 204.5px,#493f9e 210.5px,#493f9e 216.5px,#493f9e 218.5px)"></i><i style="background:linear-gradient(#4d46a5 0.5px,#4d48a7 6.5px,#4c4baa 12.5px,#4c4dad 18.5px,#4b50af 24.5px,#4b53b3 30.5px,#485cbb 36.5px,#4263c0 42.5px,#3b6fc9 48.5px,#337ed0 54.5px,#2b8cd5 60.5px,#2793d6 66.5px,#2399d6 72.5px,#219bd6 78.5px,#229ad6 84.5px,#2399d6 90.5px,#2496d6 96.5px,#2b8dd6 102.5px,#347bce 108.5px,#3d6bc6 114.5px,#4461be 120.5px,#4a58b8 126.5px,#4c4eae 132.5px,#4d49a8 138.5px,#4d46a5 144.5px,#4c44a3 150.5px,#4b43a2 156.5px,#4a42a1 162.5px,#4941a0 168.5px,#49409f 174.5px,#49409f 180.5px,#493f9e 186.5px,#493f9e 192.5px,#493f9e 198.5px,#483f9e 204.5px,#483f9e 210.5px,#483e9d 216.5px,#483e9d 218.5px)"></i><i style="background:linear-gradient(#4b43a2 0.5px,#4c44a3 6.5px,#4c45a4 12.5px,#4d46a5 18.5px,#4d48a7 24.5px,#4c4aa9 30.5px,#4b50b0 36.5px,#4a56b6 42.5px,#465ebc 48.5px,#4067c3 54.5px,#3b6fc9 60.5px,#3873cb 66.5px,#3677cd 72.5px,#3678cd 78.5px,#3678cd 84.5px,#3677cd 90.5px,#3776cc 96.5px,#3b6fc9 102.5px,#4363c0 108.5px,#4959b9 114.5px,#4b50b0 120.5px,#4d49a9 126.5px,#4c45a4 132.5px,#4b43a2 138.5px,#4a42a1 144.5px,#4a41a0 150.5px,#49409f 156.5px,#493f9e 162.5px,#493f9e 168.5px,#483f9e 174.5px,#483f9e 180.5px,#483e9d 186.5px,#483e9d 192.5px,#483e9d 198.5px,#483e9d 204.5px,#483e9d 210.5px,#483e9d 216.5px,#483e9d 218.5px)"></i><i style="background:linear-gradient(#4941a0 0.5px,#4a41a0 6.5px,#4a42a1 12.5px,#4a42a1 18.5px,#4b43a2 24.5px,#4b43a2 30.5px,#4c45a4 36.5px,#4d48a7 42.5px,#4c4cac 48.5px,#4b52b2 54.5px,#4a57b7 60.5px,#4959b9 66.5px,#485bba 72.5px,#485cbb 78.5px,#485bba 84.5px,#485bba 90.5px,#485aba 96.5px,#4a56b6 102.5px,#4c4ead 108.5px,#4d47a6 114.5px,#4c44a3 120.5px,#4a42a1 126.5px,#4941a0 132.5px,#49409f 138.5px,#493f9e 144.5px,#483f9e 150.5px,#483f9e 156.5px,#483e9d 162.5px,#483e9d 168.5px,#483e9d 174.5px,#483e9d 180.5px,#483e9d 186.5px,#483e9d 192.5px,#483e9d 198.5px,#483e9d 204.5px,#483e9d 210.5px,#483e9d 216.5px,#483e9d 218.5px)"></i><i style="background:linear-gradient(#493f9e 0.5px,#493f9e 6.5px,#493f9e 12.5px,#49409f 18.5px,#49409f 24.5px,#49409f 30.5px,#4a41a0 36.5px,#4a42a1 42.5px,#4b43a2 48.5px,#4b44a3 54.5px,#4c45a4 60.5px,#4c46a5 66.5px,#4d46a5 72.5px,#4d47a6 78.5px,#4d46a5 84.5px,#4d46a5 90.5px,#4d46a5 96.5px,#4c45a4 102.5px,#4b43a2 108.5px,#4a41a0 114.5px,#49409f 120.5px,#493f9e 126.5px,#483f9e 132.5px,#483e9d 138.5px,#483e9d 144.5px,#483e9d 150.5px,#483e9d 156.5px,#483e9d 162.5px,#483e9d 168.5px,#483e9d 174.5px,#483e9d 180.5px,#483e9d 186.5px,#483e9d 192.5px,#483e9d 198.5px,#483e9d 204.5px,#483e9d 210.5px,#483e9d 216.5px,#483e9d 218.5px)"></i><i style="background:linear-gradient(#483e9d 0.5px,#483e9d 6.5px,#483e9d 12.5px,#483e9d 18.5px,#483e9d 24.5px,#483f9e 30.5px,#483f9e 36.5px,#493f9e 42.5px,#493f9e 48.5px,#49409f 54.5px,#49409f 60.5px,#49409f 66.5px,#49409f 72.5px,#49409f 78.5px,#49409f 84.5px,#49409f 90.5px,#49409f 96.5px,#49409f 102.5px,#493f9e 108.5px,#483f9e 114.5px,#483e9d 120.5px,#483e9d 126.5px,#483e9d 132.5px,#483e9d 138.5px,#483e9d 144.5px,#483e9d 150.5px,#483e9d 156.5px,#483e9d 162.5px,#483e9d 168.5px,#483e9d 174.5px,#483e9d 180.5px,#483e9d 186.5px,#483e9d 192.5px,#483e9d 198.5px,#483e9d 204.5px,#483e9d 210.5px,#483e9d 216.5px,#483e9d 218.5px)"></i><i style="background:linear-gradient(#483e9d 0.5px,#483e9d 6.5px,#483e9d 12.5px,#483e9d 18.5px,#483e9d 24.5px,#483e9d 30.5px,#483e9d 36.5px,#483e9d 42.5px,#483e9d 48.5px,#483e9d 54.5px,#483f9e 60.5px,#483f9e 66.5px,#483f9e 72.5px,#483f9e 78.5px,#483f9e 84.5px,#483f9e 90.5px,#483f9e 96.5px,#483f9e 102.5px,#483f9e 108.5px,#483f9e 114.5px,#483f9e 120.5px,#483f9e 126.5px,#483f9e 132.5px,#483f9e 138.5px,#483f9e 144.5px,#483f9e 150.5px,#483f9e 156.5px,#483f9e 162.5px,#483f9e 168.5px,#493f9e 174.5px,#493f9e 180.5px,#493f9e 186.5px,#493f9e 192.5px,#493f9e 198.5px,#493f9e 204.5px,#493f9e 210.5px,#483f9e 216.5px,#483f9e 218.5px)"></i><i style="background:linear-gradient(#483e9d 0.5px,#483e9d 6.5px,#483e9d 12.5px,#483e9d 18.5px,#483e9d 24.5px,#483e9d 30.5px,#483e9d 36.5px,#483e9d 42.5px,#483f9e 48.5px,#483f9e 54.5px,#493f9e 60.5px,#493f9e 66.5px,#49409f 72.5px,#49409f 78.5px,#49409f 84.5px,#49409f 90.5px,#49409f 96.5px,#49409f 102.5px,#49409f 108.5px,#49409f 114.5px,#49409f 120.5px,#49409f 126.5px,#49409f 132.5px,#49409f 138.5px,#49409f 144.5px,#49409f 150.5px,#49409f 156.5px,#49409f 162.5px,#49409f 168.5px,#49409f 174.5px,#49409f 180.5px,#49409f 186.5px,#49409f 192.5px,#49409f 198.5px,#49409f 204.5px,#49409f 210.5px,#49409f 216.5px,#49409f 218.5px)"></i><i style="background:linear-gradient(#483f9e 0.5px,#483f9e 6.5px,#483f9e 12.5px,#483f9e 18.5px,#483f9e 24.5px,#493f9e 30.5px,#493f9e 36.5px,#49409f 42.5px,#49409f 48.5px,#4a41a0 54.5px,#4a42a1 60.5px,#4b43a2 66.5px,#4b44a3 72.5px,#4c44a3 78.5px,#4c45a4 84.5px,#4c45a4 90.5px,#4c45a4 96.5px,#4c45a4 102.5px,#4c45a4 108.5px,#4c45a4 114.5px,#4c44a3 120.5px,#4b44a3 126.5px,#4b43a2 132.5px,#4b43a2 138.5px,#4b43a2 144.5px,#4b43a2 150.5px,#4b43a2 156.5px,#4b43a2 162.5px,#4b43a2 168.5px,#4b43a2 174.5px,#4b43a2 180.5px,#4b43a2 186.5px,#4a42a1 192.5px,#4a42a1 198.5px,#4a42a1 204.5px,#4a41a0 210.5px,#4a41a0 216.5px,#4a41a0 218.5px)"></i><i style="background:linear-gradient(#49409f 0.5px,#49409f 6.5px,#49409f 12.5px,#49409f 18.5px,#49409f 24.5px,#4a41a0 30.5px,#4a42a1 36.5px,#4b43a2 42.5px,#4c45a4 48.5px,#4d47a6 54.5px,#4c4aa9 60.5px,#4c4eae 66.5px,#4b52b2 72.5px,#4b54b4 78.5px,#4a56b6 84.5px,#4a57b7 90.5px,#4a57b6 96.5px,#4a56b6 102.5px,#4b55b4 108.5px,#4b52b2 114.5px,#4b50b0 120.5px,#4c4ead 126.5px,#4c4aa9 132.5px,#4d48a7 138.5px,#4d48a7 144.5px,#4d48a7 150.5px,#4d47a6 156.5px,#4d47a6 162.5px,#4c46a5 168.5px,#4c45a4 174.5px,#4c45a4 180.5px,#4c45a4 186.5px,#4b44a3 192.5px,#4b44a3 198.5px,#4b43a2 204.5px,#4b43a2 210.5px,#4a42a1 216.5px,#4a42a1 218.5px)"></i><i style="background:linear-gradient(#4a42a1 0.5px,#4a42a1 6.5px,#4a42a1 12.5px,#4b43a2 18.5px,#4b43a2 24.5px,#4b44a3 30.5px,#4c46a5 36.5px,#4d48a8 42.5px,#4c4ead 48.5px,#4b55b5 54.5px,#485bbb 60.5px,#4362bf 66.5px,#3f68c4 72.5px,#3c6cc7 78.5px,#3b6ec9 84.5px,#3a70ca 90.5px,#3a70ca 96.5px,#3b6ec8 102.5px,#3e6ac5 108.5px,#4264c1 114.5px,#4560be 120.5px,#485bba 126.5px,#4b54b4 132.5px,#4b51b0 138.5px,#4b50af 144.5px,#4c4eae 150.5px,#4c4dac 156.5px,#4c4baa 162.5px,#4d49a8 168.5px,#4d48a7 174.5px,#4d47a6 180.5px,#4d46a5 186.5px,#4c46a5 192.5px,#4c45a4 198.5px,#4b44a3 204.5px,#4b43a2 210.5px,#4b43a2 216.5px,#4a42a1 218.5px)"></i><i style="background:linear-gradient(#4b44a3 0.5px,#4c45a4 6.5px,#4c45a4 12.5px,#4c46a5 18.5px,#4d46a5 24.5px,#4d47a6 30.5px,#4c4dac 36.5px,#4b52b2 42.5px,#495aba 48.5px,#4263c0 54.5px,#3c6dc7 60.5px,#3678cd 66.5px,#3084d2 72.5px,#2c8bd5 78.5px,#2a8fd6 84.5px,#2792d6 90.5px,#2891d6 96.5px,#2b8cd5 102.5px,#3182d1 108.5px,#3775cc 114.5px,#3c6dc8 120.5px,#4165c2 126.5px,#475cbb 132.5px,#4a57b7 138.5px,#4b55b5 144.5px,#4b53b2 150.5px,#4b50b0 156.5px,#4c4dad 162.5px,#4c4baa 168.5px,#4d49a8 174.5px,#4d48a7 180.5px,#4d47a6 186.5px,#4c46a5 192.5px,#4c45a4 198.5px,#4c44a3 204.5px,#4b43a2 210.5px,#4b43a2 216.5px,#4a42a1 218.5px)"></i><i style="background:linear-gradient(#4c46a5 0.5px,#4d47a6 6.5px,#4d48a7 12.5px,#4d49a8 18.5px,#4c4aa9 24.5px,#4c4cab 30.5px,#4b53b2 36.5px,#4959b9 42.5px,#4362c0 48.5px,#3b6ec9 54.5px,#347ccf 60.5px,#2b8bd5 66.5px,#229bd6 72.5px,#1ea1d1 78.5px,#1da3cc 84.5px,#1da5c7 90.5px,#1da4c9 96.5px,#1ea2d1 102.5px,#2694d6 108.5px,#3082d1 114.5px,#3776cc 120.5px,#3e6bc6 126.5px,#4560be 132.5px,#4959b9 138.5px,#4a57b7 144.5px,#4b54b4 150.5px,#4b51b0 156.5px,#4c4ead 162.5px,#4c4aaa 168.5px,#4d49a8 174.5px,#4d47a6 180.5px,#4d46a5 186.5px,#4c46a5 192.5px,#4c45a4 198.5px,#4b44a3 204.5px,#4b43a2 210.5px,#4a42a1 216.5px,#4a42a1 218.5px)"></i><i style="background:linear-gradient(#4d47a6 0.5px,#4d48a7 6.5px,#4d49a8 12.5px,#4c4baa 18.5px,#4c4cab 24.5px,#4c4ead 30.5px,#4a56b5 36.5px,#475cbb 42.5px,#4067c3 48.5px,#3874cc 54.5px,#2f84d2 60.5px,#2595d6 66.5px,#1ea2cf 72.5px,#1da6c4 78.5px,#1da8bd 84.5px,#1ca9b8 90.5px,#1da9ba 96.5px,#1da6c4 102.5px,#219cd6 108.5px,#2e87d3 114.5px,#3678cd 120.5px,#3d6cc7 126.5px,#4560be 132.5px,#4959b9 138.5px,#4a56b6 144.5px,#4b53b2 150.5px,#4c4faf 156.5px,#4c4cab 162.5px,#4d49a8 168.5px,#4d47a6 174.5px,#4c46a5 180.5px,#4c45a4 186.5px,#4b44a3 192.5px,#4b43a2 198.5px,#4b43a2 204.5px,#4a42a1 210.5px,#4a41a0 216.5px,#4a41a0 218.5px)"></i><i style="background:linear-gradient(#4d47a6 0.5px,#4d48a7 6.5px,#4d49a8 12.5px,#4c4baa 18.5px,#4c4cab 24.5px,#4c4ead 30.5px,#4a56b5 36.5px,#475cbb 42.5px,#4067c3 48.5px,#3874cc 54.5px,#2f84d2 60.5px,#2595d6 66.5px,#1ea2cf 72.5px,#1da6c4 78.5px,#1da8bd 84.5px,#1ca9b8 90.5px,#1da9ba 96.5px,#1da5c5 102.5px,#2399d6 108.5px,#3083d2 114.5px,#3874cc 120.5px,#3f68c4 126.5px,#475cbb 132.5px,#4a55b5 138.5px,#4b52b1 144.5px,#4c4eae 150.5px,#4c4baa 156.5px,#4d48a7 162.5px,#4c46a5 168.5px,#4c44a3 174.5px,#4b44a3 180.5px,#4b43a2 186.5px,#4a42a1 192.5px,#4a42a1 198.5px,#4a41a0 204.5px,#4941a0 210.5px,#49409f 216.5px,#49409f 218.5px)"></i><i style="background:linear-gradient(#4c46a5 0.5px,#4d47a6 6.5px,#4d48a7 12.5px,#4d49a8 18.5px,#4c4aa9 24.5px,#4c4cab 30.5px,#4b53b2 36.5px,#4959b9 42.5px,#4362c0 48.5px,#3b6ec9 54.5px,#347ccf 60.5px,#2b8bd5 66.5px,#229bd6 72.5px,#1ea1d1 78.5px,#1da3cc 84.5px,#1da5c7 90.5px,#1da4c9 96.5px,#1ea1d4 102.5px,#2b8cd5 108.5px,#3678cd 114.5px,#3e6ac6 120.5px,#4560be 126.5px,#4b55b5 132.5px,#4c4ead 138.5px,#4c4baa 144.5px,#4d48a7 150.5px,#4c46a5 156.5px,#4b44a3 162.5px,#4b43a2 168.5px,#4a42a1 174.5px,#4a41a0 180.5px,#4a41a0 186.5px,#49409f 192.5px,#49409f 198.5px,#49409f 204.5px,#493f9e 210.5px,#493f9e 216.5px,#493f9e 218.5px)"></i><i style="background:linear-gradient(#4b44a3 0.5px,#4c45a4 6.5px,#4c45a4 12.5px,#4c46a5 18.5px,#4d46a5 24.5px,#4d47a6 30.5px,#4c4dac 36.5px,#4b52b2 42.5px,#495aba 48.5px,#4263c0 54.5px,#3c6dc7 60.5px,#3678cd 66.5px,#3084d2 72.5px,#2c8bd5 78.5px,#2a8fd6 84.5px,#2792d6 90.5px,#2891d6 96.5px,#2d88d4 102.5px,#3775cc 108.5px,#4166c3 114.5px,#475cbb 120.5px,#4b53b3 126.5px,#4c4baa 132.5px,#4d46a5 138.5px,#4c45a4 144.5px,#4b43a2 150.5px,#4a42a1 156.5px,#4a41a0 162.5px,#49409f 168.5px,#49409f 174.5px,#493f9e 180.5px,#493f9e 186.5px,#493f9e 192.5px,#483f9e 198.5px,#483f9e 204.5px,#483e9d 210.5px,#483e9d 216.5px,#483e9d 218.5px)"></i><i style="background:linear-gradient(#4a42a1 0.5px,#4a42a1 6.5px,#4a42a1 12.5px,#4b43a2 18.5px,#4b43a2 24.5px,#4b44a3 30.5px,#4c46a5 36.5px,#4d48a8 42.5px,#4c4ead 48.5px,#4b55b5 54.5px,#485bbb 60.5px,#4362bf 66.5px,#3f68c4 72.5px,#3c6cc7 78.5px,#3b6ec9 84.5px,#3a70ca 90.5px,#3a70ca 96.5px,#3e6ac6 102.5px,#465fbd 108.5px,#4b54b4 114.5px,#4c4dac 120.5px,#4d47a6 126.5px,#4b43a2 132.5px,#4a42a1 138.5px,#4a41a0 144.5px,#49409f 150.5px,#49409f 156.5px,#493f9e 162.5px,#483f9e 168.5px,#483f9e 174.5px,#483e9d 180.5px,#483e9d 186.5px,#483e9d 192.5px,#483e9d 198.5px,#483e9d 204.5px,#483e9d 210.5px,#483e9d 216.5px,#483e9d 218.5px)"></i><i style="background:linear-gradient(#49409f 0.5px,#49409f 6.5px,#49409f 12.5px,#49409f 18.5px,#49409f 24.5px,#4a41a0 30.5px,#4a42a1 36.5px,#4b43a2 42.5px,#4c45a4 48.5px,#4d47a6 54.5px,#4c4aa9 60.5px,#4c4eae 66.5px,#4b52b2 72.5px,#4b54b4 78.5px,#4a56b6 84.5px,#4a57b7 90.5px,#4a57b6 96.5px,#4b53b2 102.5px,#4c4baa 108.5px,#4c46a5 114.5px,#4b43a2 120.5px,#4a41a0 126.5px,#49409f 132.5px,#493f9e 138.5px,#493f9e 144.5px,#483f9e 150.5px,#483e9d 156.5px,#483e9d 162.5px,#483e9d 168.5px,#483e9d 174.5px,#483e9d 180.5px,#483e9d 186.5px,#483e9d 192.5px,#483e9d 198.5px,#483e9d 204.5px,#483e9d 210.5px,#483e9d 216.5px,#483e9d 218.5px)"></i><i style="background:linear-gradient(#483f9e 0.5px,#483f9e 6.5px,#483f9e 12.5px,#483f9e 18.5px,#483f9e 24.5px,#493f9e 30.5px,#493f9e 36.5px,#49409f 42.5px,#49409f 48.5px,#4a41a0 54.5px,#4a42a1 60.5px,#4b43a2 66.5px,#4b44a3 72.5px,#4c44a3 78.5px,#4c45a4 84.5px,#4c45a4 90.5px,#4c45a4 96.5px,#4b44a3 102.5px,#4a42a1 108.5px,#49409f 114.5px,#49409f 120.5px,#493f9e 126.5px,#483f9e 132.5px,#483e9d 138.5px,#483e9d 144.5px,#483e9d 150.5px,#483e9d 156.5px,#483e9d 162.5px,#483e9d 168.5px,#483e9d 174.5px,#483e9d 180.5px,#483e9d 186.5px,#483e9d 192.5px,#483e9d 198.5px,#483e9d 204.5px,#483e9d 210.5px,#483e9d 216.5px,#483e9d 218.5px)"></i><i style="background:linear-gradient(#483e9d 0.5px,#483e9d 6.5px,#483e9d 12.5px,#483e9d 18.5px,#483e9d 24.5px,#483e9d 30.5px,#483e9d 36.5px,#483e9d 42.5px,#483f9e 48.5px,#483f9e 54.5px,#493f9e 60.5px,#493f9e 66.5px,#49409f 72.5px,#49409f 78.5px,#49409f 84.5px,#49409f 90.5px,#49409f 96.5px,#49409f 102.5px,#493f9e 108.5px,#483f9e 114.5px,#483e9d 120.5px,#483e9d 126.5px,#483e9d 132.5px,#483e9d 138.5px,#483e9d 144.5px,#483e9d 150.5px,#483e9d 156.5px,#483e9d 162.5px,#483e9d 168.5px,#483e9d 174.5px,#483e9d 180.5px,#483e9d 186.5px,#483e9d 192.5px,#483e9d 198.5px,#483e9d 204.5px,#483e9d 210.5px,#483e9d 216.5px,#483e9d 218.5px)"></i><i style="background:linear-gradient(#483e9d 0.5px,#483e9d 6.5px,#483e9d 12.5px,#483e9d 18.5px,#483e9d 24.5px,#483e9d 30.5px,#483e9d 36.5px,#483e9d 42.5px,#483e9d 48.5px,#483e9d 54.5px,#483e9d 60.5px,#483e9d 66.5px,#483e9d 72.5px,#483e9d 78.5px,#483e9d 84.5px,#483e9d 90.5px,#483e9d 96.5px,#483e9d 102.5px,#483e9d 108.5px,#483e9d 114.5px,#483e9d 120.5px,#483e9d 126.5px,#483e9d 132.5px,#483e9d 138.5px,#483e9d 144.5px,#483e9d 150.5px,#483e9d 156.5px,#483e9d 162.5px,#483e9d 168.5px,#483e9d 174.5px,#483e9d 180.5px,#483e9d 186.5px,#483e9d 192.5px,#483e9d 198.5px,#483e9d 204.5px,#483e9d 210.5px,#483e9d 216.5px,#483e9d 218.5px)"></i><i style="background:linear-gradient(#483e9d 0.5px,#483e9d 6.5px,#483e9d 12.5px,#483e9d 18.5px,#483e9d 24.5px,#483e9d 30.5px,#483e9d 36.5px,#483e9d 42.5px,#483e9d 48.5px,#483e9d 54.5px,#483e9d 60.5px,#483e9d 66.5px,#483e9d 72.5px,#483f9e 78.5px,#483f9e 84.5px,#483f9e 90.5px,#483f9e 96.5px,#483f9e 102.5px,#483f9e 108.5px,#483f9e 114.5px,#483f9e 120.5px,#483f9e 126.5px,#483f9e 132.5px,#483f9e 138.5px,#493f9e 144.5px,#493f9e 150.5px,#493f9e 156.5px,#493f9e 162.5px,#493f9e 168.5px,#493f9e 174.5px,#493f9e 180.5px,#493f9e 186.5px,#493f9e 192.5px,#493f9e 198.5px,#493f9e 204.5px,#493f9e 210.5px,#493f9e 216.5px,#493f9e 218.5px)"></i><i style="background:linear-gradient(#483e9d 0.5px,#483e9d 6.5px,#483e9d 12.5px,#483e9d 18.5px,#483e9d 24.5px,#483e9d 30.5px,#483e9d 36.5px,#483f9e 42.5px,#483f9e 48.5px,#493f9e 54.5px,#493f9e 60.5px,#49409f 66.5px,#49409f 72.5px,#49409f 78.5px,#4a41a0 84.5px,#4a41a0 90.5px,#4a41a0 96.5px,#4a41a0 102.5px,#4a41a0 108.5px,#4a41a0 114.5px,#4a41a0 120.5px,#4a41a0 126.5px,#4a41a0 132.5px,#4941a0 138.5px,#4a41a0 144.5px,#4a41a0 150.5px,#4a41a0 156.5px,#4a41a0 162.5px,#4941a0 168.5px,#4941a0 174.5px,#4941a0 180.5px,#4941a0 186.5px,#4941a0 192.5px,#4941a0 198.5px,#4941a0 204.5px,#49409f 210.5px,#49409f 216.5px,#49409f 218.5px)"></i><i style="background:linear-gradient(#483f9e 0.5px,#483f9e 6.5px,#493f9e 12.5px,#493f9e 18.5px,#493f9e 24.5px,#493f9e 30.5px,#49409f 36.5px,#49409f 42.5px,#49409f 48.5px,#4a41a0 54.5px,#4a42a1 60.5px,#4b43a2 66.5px,#4c45a4 72.5px,#4d46a5 78.5px,#4d48a7 84.5px,#4d4aa9 90.5px,#4d4aa9 96.5px,#4d4aa9 102.5px,#4d49a8 108.5px,#4d47a6 114.5px,#4d47a6 120.5px,#4c46a5 126.5px,#4c45a4 132.5px,#4b44a3 138.5px,#4b44a3 144.5px,#4b44a3 150.5px,#4b44a3 156.5px,#4b44a3 162.5px,#4b43a2 168.5px,#4b43a2 174.5px,#4b43a2 180.5px,#4b43a2 186.5px,#4a42a1 192.5px,#4a42a1 198.5px,#4a42a1 204.5px,#4a42a1 210.5px,#4a41a0 216.5px,#4a41a0 218.5px)"></i><i style="background:linear-gradient(#49409f 0.5px,#49409f 6.5px,#49409f 12.5px,#4941a0 18.5px,#4a41a0 24.5px,#4a41a0 30.5px,#4a42a1 36.5px,#4b43a2 42.5px,#4b44a3 48.5px,#4c46a5 54.5px,#4d49a8 60.5px,#4c4ead 66.5px,#4b53b2 72.5px,#4a58b8 78.5px,#475cbb 84.5px,#455fbd 90.5px,#455fbe 96.5px,#465fbd 102.5px,#475cbb 108.5px,#4a58b8 114.5px,#4b55b5 120.5px,#4b51b1 126.5px,#4c4dac 132.5px,#4c4aa9 138.5px,#4d4aa9 144.5px,#4d49a8 150.5px,#4d48a7 156.5px,#4d46a5 162.5px,#4c45a4 168.5px,#4c45a4 174.5px,#4c44a3 180.5px,#4b44a3 186.5px,#4b44a3 192.5px,#4b44a3 198.5px,#4b43a2 204.5px,#4b43a2 210.5px,#4a42a1 216.5px,#4a42a1 218.5px)"></i><i style="background:linear-gradient(#4a41a0 0.5px,#4a42a1 6.5px,#4a42a1 12.5px,#4b43a2 18.5px,#4b43a2 24.5px,#4b44a3 30.5px,#4c45a4 36.5px,#4d46a5 42.5px,#4c4aa9 48.5px,#4b50af 54.5px,#4a56b6 60.5px,#465ebc 66.5px,#4165c2 72.5px,#3c6dc7 78.5px,#3875cc 84.5px,#347ccf 90.5px,#337ccf 96.5px,#357ace 102.5px,#3971cb 108.5px,#3f68c4 114.5px,#4363c0 120.5px,#475dbc 126.5px,#4a56b6 132.5px,#4b51b1 138.5px,#4b50af 144.5px,#4c4ead 150.5px,#4c4cab 156.5px,#4d49a8 162.5px,#4d47a6 168.5px,#4c46a5 174.5px,#4c46a5 180.5px,#4c45a4 186.5px,#4c45a4 192.5px,#4b44a3 198.5px,#4b44a3 204.5px,#4b43a2 210.5px,#4b43a2 216.5px,#4a42a1 218.5px)"></i><i style="background:linear-gradient(#4b43a2 0.5px,#4b44a3 6.5px,#4c44a3 12.5px,#4c45a4 18.5px,#4c46a5 24.5px,#4d47a6 30.5px,#4d49a9 36.5px,#4c4cac 42.5px,#4b52b2 48.5px,#495aba 54.5px,#4461bf 60.5px,#3d6cc7 66.5px,#3678cd 72.5px,#2f85d2 78.5px,#2891d6 84.5px,#219cd6 90.5px,#209dd6 96.5px,#2497d6 102.5px,#2d88d4 108.5px,#3678cd 114.5px,#3c6ec8 120.5px,#4165c2 126.5px,#485cbb 132.5px,#4a56b6 138.5px,#4b53b3 144.5px,#4b51b0 150.5px,#4c4ead 156.5px,#4c4baa 162.5px,#4d47a6 168.5px,#4d46a5 174.5px,#4c46a5 180.5px,#4c45a4 186.5px,#4c45a4 192.5px,#4b44a3 198.5px,#4b44a3 204.5px,#4b43a2 210.5px,#4a42a1 216.5px,#4a42a1 218.5px)"></i><i style="background:linear-gradient(#4c44a3 0.5px,#4c45a4 6.5px,#4c46a5 12.5px,#4d47a6 18.5px,#4d48a7 24.5px,#4d49a9 30.5px,#4c4dac 36.5px,#4b51b0 42.5px,#4a58b8 48.5px,#4560be 54.5px,#3f68c4 60.5px,#3777cd 66.5px,#2e86d3 72.5px,#2595d6 78.5px,#1ea2d1 84.5px,#1da6c3 90.5px,#1da6c2 96.5px,#1da3cb 102.5px,#2596d6 108.5px,#3181d1 114.5px,#3874cb 120.5px,#3f68c4 126.5px,#465ebc 132.5px,#4a57b7 138.5px,#4b54b4 144.5px,#4b51b0 150.5px,#4c4dad 156.5px,#4c4aa9 162.5px,#4d47a6 168.5px,#4c46a5 174.5px,#4c45a4 180.5px,#4c45a4 186.5px,#4b44a3 192.5px,#4b43a2 198.5px,#4b43a2 204.5px,#4a42a1 210.5px,#4a42a1 216.5px,#4a42a1 218.5px)"></i><i style="background:linear-gradient(#4c45a4 0.5px,#4c46a5 6.5px,#4d46a5 12.5px,#4d47a6 18.5px,#4d49a8 24.5px,#4c4aaa 30.5px,#4c4eae 36.5px,#4b52b2 42.5px,#495ab9 48.5px,#4362bf 54.5px,#3d6bc6 60.5px,#347ace 66.5px,#2c8bd5 72.5px,#219bd6 78.5px,#1da4c9 84.5px,#1da9ba 90.5px,#1da9b9 96.5px,#1da6c4 102.5px,#2399d6 108.5px,#3182d1 114.5px,#3873cb 120.5px,#4068c4 126.5px,#475cbb 132.5px,#4a56b6 138.5px,#4b52b2 144.5px,#4c4fae 150.5px,#4c4baa 156.5px,#4d48a7 162.5px,#4c45a4 168.5px,#4c44a3 174.5px,#4b44a3 180.5px,#4b43a2 186.5px,#4b43a2 192.5px,#4a42a1 198.5px,#4a42a1 204.5px,#4a41a0 210.5px,#4941a0 216.5px,#4941a0 218.5px)"></i><i style="background:linear-gradient(#4c44a3 0.5px,#4c45a4 6.5px,#4c46a5 12.5px,#4d47a6 18.5px,#4d48a7 24.5px,#4d4aa9 30.5px,#4c4dad 36.5px,#4b51b1 42.5px,#4a59b8 48.5px,#4461be 54.5px,#3e69c5 60.5px,#3678cd 66.5px,#2d88d3 72.5px,#2497d6 78.5px,#1ea2ce 84.5px,#1da7c0 90.5px,#1da7bf 96.5px,#1da4ca 102.5px,#2793d6 108.5px,#347bcf 114.5px,#3c6dc8 120.5px,#4362c0 126.5px,#4a58b8 132.5px,#4b51b0 138.5px,#4c4dac 144.5px,#4d4aa9 150.5px,#4d47a6 156.5px,#4c45a4 162.5px,#4b43a2 168.5px,#4a42a1 174.5px,#4a42a1 180.5px,#4a41a0 186.5px,#4a41a0 192.5px,#4941a0 198.5px,#49409f 204.5px,#49409f 210.5px,#49409f 216.5px,#493f9e 218.5px)"></i><i style="background:linear-gradient(#4b43a2 0.5px,#4b44a3 6.5px,#4c45a4 12.5px,#4c46a5 18.5px,#4d46a5 24.5px,#4d47a6 30.5px,#4c4aa9 36.5px,#4c4ead 42.5px,#4b54b4 48.5px,#485bbb 54.5px,#4363c0 60.5px,#3b6ec9 66.5px,#347bcf 72.5px,#2d89d4 78.5px,#2596d6 84.5px,#1ea0d4 90.5px,#1ea1d4 96.5px,#2398d6 102.5px,#3182d1 108.5px,#3c6ec8 114.5px,#4363c0 120.5px,#4959b9 126.5px,#4c4faf 132.5px,#4d49a8 138.5px,#4d47a6 144.5px,#4c45a4 150.5px,#4b43a2 156.5px,#4a42a1 162.5px,#4a41a0 168.5px,#49409f 174.5px,#49409f 180.5px,#49409f 186.5px,#493f9e 192.5px,#493f9e 198.5px,#493f9e 204.5px,#483f9e 210.5px,#483f9e 216.5px,#483f9e 218.5px)"></i><i style="background:linear-gradient(#4a42a1 0.5px,#4a42a1 6.5px,#4b43a2 12.5px,#4b43a2 18.5px,#4b44a3 24.5px,#4c44a3 30.5px,#4c46a5 36.5px,#4d48a7 42.5px,#4c4cab 48.5px,#4b52b2 54.5px,#4a59b8 60.5px,#4461be 66.5px,#3f69c5 72.5px,#3971cb 78.5px,#347bce 84.5px,#3083d1 90.5px,#3083d2 96.5px,#347bce 102.5px,#3e6bc6 108.5px,#475dbc 114.5px,#4b54b4 120.5px,#4c4cac 126.5px,#4d46a5 132.5px,#4b44a3 138.5px,#4a42a1 144.5px,#4a41a0 150.5px,#49409f 156.5px,#49409f 162.5px,#493f9e 168.5px,#493f9e 174.5px,#483f9e 180.5px,#483f9e 186.5px,#483f9e 192.5px,#483e9d 198.5px,#483e9d 204.5px,#483e9d 210.5px,#483e9d 216.5px,#483e9d 218.5px)"></i><i style="background:linear-gradient(#49409f 0.5px,#49409f 6.5px,#4941a0 12.5px,#4a41a0 18.5px,#4a41a0 24.5px,#4a42a1 30.5px,#4a42a1 36.5px,#4b43a2 42.5px,#4c45a4 48.5px,#4d47a6 54.5px,#4c4baa 60.5px,#4b51b0 66.5px,#4a57b7 72.5px,#485cbb 78.5px,#4560be 84.5px,#4264c1 90.5px,#4264c1 96.5px,#4560be 102.5px,#4a56b6 108.5px,#4c4cab 114.5px,#4d47a6 120.5px,#4b44a3 126.5px,#4a42a1 132.5px,#49409f 138.5px,#49409f 144.5px,#493f9e 150.5px,#483f9e 156.5px,#483f9e 162.5px,#483e9d 168.5px,#483e9d 174.5px,#483e9d 180.5px,#483e9d 186.5px,#483e9d 192.5px,#483e9d 198.5px,#483e9d 204.5px,#483e9d 210.5px,#483e9d 216.5px,#483e9d 218.5px)"></i><i style="background:linear-gradient(#493f9e 0.5px,#493f9e 6.5px,#493f9e 12.5px,#493f9e 18.5px,#493f9e 24.5px,#49409f 30.5px,#49409f 36.5px,#49409f 42.5px,#4a41a0 48.5px,#4a42a1 54.5px,#4b43a2 60.5px,#4c45a4 66.5px,#4d46a5 72.5px,#4d48a8 78.5px,#4c4baa 84.5px,#4c4dad 90.5px,#4c4dad 96.5px,#4c4baa 102.5px,#4c46a5 108.5px,#4b43a2 114.5px,#4a41a0 120.5px,#49409f 126.5px,#493f9e 132.5px,#483f9e 138.5px,#483f9e 144.5px,#483e9d 150.5px,#483e9d 156.5px,#483e9d 162.5px,#483e9d 168.5px,#483e9d 174.5px,#483e9d 180.5px,#483e9d 186.5px,#483e9d 192.5px,#483e9d 198.5px,#483e9d 204.5px,#483e9d 210.5px,#483e9d 216.5px,#483e9d 218.5px)"></i><i style="background:linear-gradient(#483e9d 0.5px,#483e9d 6.5px,#483e9d 12.5px,#483e9d 18.5px,#483e9d 24.5px,#483e9d 30.5px,#483f9e 36.5px,#483f9e 42.5px,#493f9e 48.5px,#493f9e 54.5px,#49409f 60.5px,#49409f 66.5px,#4941a0 72.5px,#4a41a0 78.5px,#4a42a1 84.5px,#4a42a1 90.5px,#4a42a1 96.5px,#4a42a1 102.5px,#49409f 108.5px,#493f9e 114.5px,#483f9e 120.5px,#483f9e 126.5px,#483e9d 132.5px,#483e9d 138.5px,#483e9d 144.5px,#483e9d 150.5px,#483e9d 156.5px,#483e9d 162.5px,#483e9d 168.5px,#483e9d 174.5px,#483e9d 180.5px,#483e9d 186.5px,#483e9d 192.5px,#483e9d 198.5px,#483e9d 204.5px,#483e9d 210.5px,#483e9d 216.5px,#483e9d 218.5px)"></i><i style="background:linear-gradient(#483e9d 0.5px,#483e9d 6.5px,#483e9d 12.5px,#483e9d 18.5px,#483e9d 24.5px,#483e9d 30.5px,#483e9d 36.5px,#483e9d 42.5px,#483e9d 48.5px,#483e9d 54.5px,#483e9d 60.5px,#483f9e 66.5px,#483f9e 72.5px,#483f9e 78.5px,#493f9e 84.5px,#493f9e 90.5px,#493f9e 96.5px,#493f9e 102.5px,#483f9e 108.5px,#483f9e 114.5px,#483e9d 120.5px,#483e9d 126.5px,#483e9d 132.5px,#483e9d 138.5px,#483e9d 144.5px,#483f9e 150.5px,#483f9e 156.5px,#483f9e 162.5px,#483f9e 168.5px,#483f9e 174.5px,#483f9e 180.5px,#483f9e 186.5px,#483f9e 192.5px,#483f9e 198.5px,#483f9e 204.5px,#483f9e 210.5px,#483f9e 216.5px,#483f9e 218.5px)"></i><i style="background:linear-gradient(#483e9d 0.5px,#483e9d 6.5px,#483e9d 12.5px,#483e9d 18.5px,#483e9d 24.5px,#483e9d 30.5px,#483e9d 36.5px,#483e9d 42.5px,#483e9d 48.5px,#483e9d 54.5px,#483e9d 60.5px,#483f9e 66.5px,#483f9e 72.5px,#493f9e 78.5px,#493f9e 84.5px,#49409f 90.5px,#49409f 96.5px,#49409f 102.5px,#49409f 108.5px,#49409f 114.5px,#49409f 120.5px,#49409f 126.5px,#493f9e 132.5px,#493f9e 138.5px,#49409f 144.5px,#49409f 150.5px,#49409f 156.5px,#49409f 162.5px,#49409f 168.5px,#49409f 174.5px,#49409f 180.5px,#49409f 186.5px,#49409f 192.5px,#49409f 198.5px,#49409f 204.5px,#49409f 210.5px,#49409f 216.5px,#49409f 218.5px)"></i><i style="background:linear-gradient(#483e9d 0.5px,#483e9d 6.5px,#483e9d 12.5px,#483e9d 18.5px,#483e9d 24.5px,#483e9d 30.5px,#483f9e 36.5px,#483f9e 42.5px,#493f9e 48.5px,#493f9e 54.5px,#49409f 60.5px,#49409f 66.5px,#4a41a0 72.5px,#4a42a1 78.5px,#4b43a2 84.5px,#4b44a3 90.5px,#4b44a3 96.5px,#4b44a3 102.5px,#4b44a3 108.5px,#4b43a2 114.5px,#4b43a2 120.5px,#4b43a2 126.5px,#4a42a1 132.5px,#4a42a1 138.5px,#4a42a1 144.5px,#4a42a1 150.5px,#4a42a1 156.5px,#4a42a1 162.5px,#4a42a1 168.5px,#4a42a1 174.5px,#4a42a1 180.5px,#4a42a1 186.5px,#4a42a1 192.5px,#4a42a1 198.5px,#4a41a0 204.5px,#4a41a0 210.5px,#4a41a0 216.5px,#4a41a0 218.5px)"></i><i style="background:linear-gradient(#483f9e 0.5px,#493f9e 6.5px,#493f9e 12.5px,#493f9e 18.5px,#493f9e 24.5px,#493f9e 30.5px,#49409f 36.5px,#49409f 42.5px,#4941a0 48.5px,#4a42a1 54.5px,#4b43a2 60.5px,#4b44a3 66.5px,#4c46a5 72.5px,#4d49a8 78.5px,#4c4dad 84.5px,#4b51b1 90.5px,#4b52b2 96.5px,#4b52b1 102.5px,#4c4faf 108.5px,#4c4cab 114.5px,#4c4aa9 120.5px,#4d48a8 126.5px,#4d46a5 132.5px,#4c46a5 138.5px,#4c46a5 144.5px,#4c45a4 150.5px,#4c45a4 156.5px,#4c45a4 162.5px,#4b44a3 168.5px,#4b44a3 174.5px,#4b44a3 180.5px,#4b44a3 186.5px,#4b43a2 192.5px,#4b43a2 198.5px,#4b43a2 204.5px,#4a42a1 210.5px,#4a42a1 216.5px,#4a42a1 218.5px)"></i><i style="background:linear-gradient(#49409f 0.5px,#49409f 6.5px,#49409f 12.5px,#49409f 18.5px,#4941a0 24.5px,#4a41a0 30.5px,#4a42a1 36.5px,#4a42a1 42.5px,#4b44a3 48.5px,#4c45a4 54.5px,#4d48a7 60.5px,#4c4dac 66.5px,#4b53b2 72.5px,#495ab9 78.5px,#4460be 84.5px,#4067c3 90.5px,#3f68c4 96.5px,#4067c3 102.5px,#4462bf 108.5px,#485bba 114.5px,#4a57b7 120.5px,#4b53b3 126.5px,#4c4ead 132.5px,#4c4bab 138.5px,#4c4baa 144.5px,#4d4aa9 150.5px,#4d49a8 156.5px,#4d47a6 162.5px,#4d46a5 168.5px,#4c46a5 174.5px,#4c45a4 180.5px,#4c45a4 186.5px,#4c44a3 192.5px,#4b44a3 198.5px,#4b44a3 204.5px,#4b43a2 210.5px,#4b43a2 216.5px,#4a42a1 218.5px)"></i><i style="background:linear-gradient(#4a41a0 0.5px,#4a41a0 6.5px,#4a42a1 12.5px,#4a42a1 18.5px,#4a42a1 24.5px,#4b43a2 30.5px,#4b44a3 36.5px,#4c45a4 42.5px,#4d47a6 48.5px,#4c4cab 54.5px,#4b51b0 60.5px,#4959b9 66.5px,#4560be 72.5px,#3e69c5 78.5px,#3775cc 84.5px,#3180d1 90.5px,#3083d2 96.5px,#3180d0 102.5px,#3874cc 108.5px,#4067c3 114.5px,#4461bf 120.5px,#485cbb 126.5px,#4b55b4 132.5px,#4b50b0 138.5px,#4c4fae 144.5px,#4c4dac 150.5px,#4c4baa 156.5px,#4d49a8 162.5px,#4d47a6 168.5px,#4d46a5 174.5px,#4c46a5 180.5px,#4c45a4 186.5px,#4c45a4 192.5px,#4b44a3 198.5px,#4b44a3 204.5px,#4b43a2 210.5px,#4b43a2 216.5px,#4a42a1 218.5px)"></i><i style="background:linear-gradient(#4a42a1 0.5px,#4a42a1 6.5px,#4b43a2 12.5px,#4b43a2 18.5px,#4b43a2 24.5px,#4b44a3 30.5px,#4c45a4 36.5px,#4d47a6 42.5px,#4c4bab 48.5px,#4b51b1 54.5px,#4a58b8 60.5px,#4461bf 66.5px,#3e6ac6 72.5px,#3677cd 78.5px,#2d88d3 84.5px,#2496d6 90.5px,#229ad6 96.5px,#2595d6 102.5px,#3083d2 108.5px,#3a70ca 114.5px,#4067c3 120.5px,#4560be 126.5px,#4a58b8 132.5px,#4b52b2 138.5px,#4b50b0 144.5px,#4c4ead 150.5px,#4c4cab 156.5px,#4d49a9 162.5px,#4d47a6 168.5px,#4d46a5 174.5px,#4c46a5 180.5px,#4c45a4 186.5px,#4c44a3 192.5px,#4b44a3 198.5px,#4b43a2 204.5px,#4b43a2 210.5px,#4a42a1 216.5px,#4a42a1 218.5px)"></i><i style="background:linear-gradient(#4a42a1 0.5px,#4b43a2 6.5px,#4b43a2 12.5px,#4b44a3 18.5px,#4b44a3 24.5px,#4c45a4 30.5px,#4d46a5 36.5px,#4d49a8 42.5px,#4c4ead 48.5px,#4b54b4 54.5px,#485bba 60.5px,#4165c2 66.5px,#3b6fc9 72.5px,#327fd0 78.5px,#2891d6 84.5px,#1ea1d4 90.5px,#1ea2d0 96.5px,#1f9fd6 102.5px,#2d89d4 108.5px,#3873cb 114.5px,#3f69c5 120.5px,#4460be 126.5px,#4a58b8 132.5px,#4b52b2 138.5px,#4b50af 144.5px,#4c4dac 150.5px,#4c4aaa 156.5px,#4d48a7 162.5px,#4c46a5 168.5px,#4c45a4 174.5px,#4c45a4 180.5px,#4b44a3 186.5px,#4b43a2 192.5px,#4b43a2 198.5px,#4a42a1 204.5px,#4a42a1 210.5px,#4a41a0 216.5px,#4a41a0 218.5px)"></i><i style="background:linear-gradient(#4a42a1 0.5px,#4b43a2 6.5px,#4b43a2 12.5px,#4b44a3 18.5px,#4b44a3 24.5px,#4c45a4 30.5px,#4d46a5 36.5px,#4d49a8 42.5px,#4c4ead 48.5px,#4b54b4 54.5px,#485bba 60.5px,#4165c2 66.5px,#3b6fc9 72.5px,#327fd0 78.5px,#2891d6 84.5px,#1ea1d4 90.5px,#1ea2d0 96.5px,#1f9ed6 102.5px,#2e87d3 108.5px,#3a71ca 114.5px,#4066c3 120.5px,#465ebc 126.5px,#4b55b5 132.5px,#4c4fae 138.5px,#4c4cac 144.5px,#4d4aa9 150.5px,#4d47a6 156.5px,#4c45a4 162.5px,#4b44a3 168.5px,#4b43a2 174.5px,#4b43a2 180.5px,#4a42a1 186.5px,#4a42a1 192.5px,#4a41a0 198.5px,#4a41a0 204.5px,#49409f 210.5px,#49409f 216.5px,#49409f 218.5px)"></i><i style="background:linear-gradient(#4a42a1 0.5px,#4a42a1 6.5px,#4b43a2 12.5px,#4b43a2 18.5px,#4b43a2 24.5px,#4b44a3 30.5px,#4c45a4 36.5px,#4d47a6 42.5px,#4c4bab 48.5px,#4b51b1 54.5px,#4a58b8 60.5px,#4461bf 66.5px,#3e6ac6 72.5px,#3677cd 78.5px,#2d88d3 84.5px,#2496d6 90.5px,#229ad6 96.5px,#2792d6 102.5px,#337ccf 108.5px,#3f69c5 114.5px,#455fbd 120.5px,#4a57b7 126.5px,#4c4eae 132.5px,#4d49a8 138.5px,#4d47a6 144.5px,#4c45a4 150.5px,#4b44a3 156.5px,#4b43a2 162.5px,#4a42a1 168.5px,#4a41a0 174.5px,#4941a0 180.5px,#49409f 186.5px,#49409f 192.5px,#49409f 198.5px,#493f9e 204.5px,#493f9e 210.5px,#493f9e 216.5px,#493f9e 218.5px)"></i><i style="background:linear-gradient(#4a41a0 0.5px,#4a41a0 6.5px,#4a42a1 12.5px,#4a42a1 18.5px,#4a42a1 24.5px,#4b43a2 30.5px,#4b44a3 36.5px,#4c45a4 42.5px,#4d47a6 48.5px,#4c4cab 54.5px,#4b51b0 60.5px,#4959b9 66.5px,#4560be 72.5px,#3e69c5 78.5px,#3775cc 84.5px,#3180d1 90.5px,#3083d2 96.5px,#337ccf 102.5px,#3e6bc6 108.5px,#475cbb 114.5px,#4b54b4 120.5px,#4c4dac 126.5px,#4d47a6 132.5px,#4b44a3 138.5px,#4b43a2 144.5px,#4a42a1 150.5px,#4a41a0 156.5px,#49409f 162.5px,#49409f 168.5px,#493f9e 174.5px,#493f9e 180.5px,#493f9e 186.5px,#483f9e 192.5px,#483f9e 198.5px,#483f9e 204.5px,#483e9d 210.5px,#483e9d 216.5px,#483e9d 218.5px)"></i><i style="background:linear-gradient(#49409f 0.5px,#49409f 6.5px,#49409f 12.5px,#49409f 18.5px,#4941a0 24.5px,#4a41a0 30.5px,#4a42a1 36.5px,#4a42a1 42.5px,#4b44a3 48.5px,#4c45a4 54.5px,#4d48a7 60.5px,#4c4dac 66.5px,#4b53b2 72.5px,#495ab9 78.5px,#4460be 84.5px,#4067c3 90.5px,#3f68c4 96.5px,#4264c1 102.5px,#4959b9 108.5px,#4c4ead 114.5px,#4d48a7 120.5px,#4c44a3 126.5px,#4a42a1 132.5px,#4a41a0 138.5px,#49409f 144.5px,#49409f 150.5px,#493f9e 156.5px,#483f9e 162.5px,#483f9e 168.5px,#483e9d 174.5px,#483e9d 180.5px,#483e9d 186.5px,#483e9d 192.5px,#483e9d 198.5px,#483e9d 204.5px,#483e9d 210.5px,#483e9d 216.5px,#483e9d 218.5px)"></i><i style="background:linear-gradient(#483f9e 0.5px,#493f9e 6.5px,#493f9e 12.5px,#493f9e 18.5px,#493f9e 24.5px,#493f9e 30.5px,#49409f 36.5px,#49409f 42.5px,#4941a0 48.5px,#4a42a1 54.5px,#4b43a2 60.5px,#4b44a3 66.5px,#4c46a5 72.5px,#4d49a8 78.5px,#4c4dad 84.5px,#4b51b1 90.5px,#4b52b2 96.5px,#4c4fae 102.5px,#4d48a7 108.5px,#4b44a3 114.5px,#4a42a1 120.5px,#49409f 126.5px,#49409f 132.5px,#493f9e 138.5px,#483f9e 144.5px,#483f9e 150.5px,#483e9d 156.5px,#483e9d 162.5px,#483e9d 168.5px,#483e9d 174.5px,#483e9d 180.5px,#483e9d 186.5px,#483e9d 192.5px,#483e9d 198.5px,#483e9d 204.5px,#483e9d 210.5px,#483e9d 216.5px,#483e9d 218.5px)"></i><i style="background:linear-gradient(#483e9d 0.5px,#483e9d 6.5px,#483e9d 12.5px,#483e9d 18.5px,#483e9d 24.5px,#483e9d 30.5px,#483f9e 36.5px,#483f9e 42.5px,#493f9e 48.5px,#493f9e 54.5px,#49409f 60.5px,#49409f 66.5px,#4a41a0 72.5px,#4a42a1 78.5px,#4b43a2 84.5px,#4b44a3 90.5px,#4b44a3 96.5px,#4b43a2 102.5px,#4a41a0 108.5px,#49409f 114.5px,#493f9e 120.5px,#483f9e 126.5px,#483e9d 132.5px,#483e9d 138.5px,#483e9d 144.5px,#483e9d 150.5px,#483e9d 156.5px,#483e9d 162.5px,#483e9d 168.5px,#483e9d 174.5px,#483e9d 180.5px,#483e9d 186.5px,#483e9d 192.5px,#483e9d 198.5px,#483e9d 204.5px,#483e9d 210.5px,#483e9d 216.5px,#483e9d 218.5px)"></i><i style="background:linear-gradient(#483e9d 0.5px,#483e9d 6.5px,#483e9d 12.5px,#483e9d 18.5px,#483e9d 24.5px,#483e9d 30.5px,#483e9d 36.5px,#483e9d 42.5px,#483e9d 48.5px,#483e9d 54.5px,#483e9d 60.5px,#483f9e 66.5px,#483f9e 72.5px,#493f9e 78.5px,#493f9e 84.5px,#49409f 90.5px,#49409f 96.5px,#493f9e 102.5px,#483f9e 108.5px,#483e9d 114.5px,#483e9d 120.5px,#483e9d 126.5px,#483e9d 132.5px,#483e9d 138.5px,#483e9d 144.5px,#483e9d 150.5px,#483e9d 156.5px,#483e9d 162.5px,#483e9d 168.5px,#483e9d 174.5px,#483e9d 180.5px,#483e9d 186.5px,#483e9d 192.5px,#483e9d 198.5px,#483e9d 204.5px,#483e9d 210.5px,#483e9d 216.5px,#483e9d 218.5px)"></i><i style="background:linear-gradient(#483e9d 0.5px,#483e9d 6.5px,#483e9d 12.5px,#483e9d 18.5px,#483e9d 24.5px,#483e9d 30.5px,#483e9d 36.5px,#483e9d 42.5px,#483e9d 48.5px,#483e9d 54.5px,#483e9d 60.5px,#483e9d 66.5px,#483e9d 72.5px,#483e9d 78.5px,#483e9d 84.5px,#483f9e 90.5px,#483f9e 96.5px,#483f9e 102.5px,#483e9d 108.5px,#483e9d 114.5px,#483e9d 120.5px,#483e9d 126.5px,#483e9d 132.5px,#483e9d 138.5px,#483e9d 144.5px,#483f9e 150.5px,#483f9e 156.5px,#483f9e 162.5px,#483f9e 168.5px,#483f9e 174.5px,#483f9e 180.5px,#483f9e 186.5px,#483f9e 192.5px,#493f9e 198.5px,#493f9e 204.5px,#493f9e 210.5px,#493f9e 216.5px,#493f9e 218.5px)"></i><i style="background:linear-gradient(#483e9d 0.5px,#483e9d 6.5px,#483e9d 12.5px,#483e9d 18.5px,#483e9d 24.5px,#483e9d 30.5px,#483e9d 36.5px,#483e9d 42.5px,#483e9d 48.5px,#483e9d 54.5px,#483e9d 60.5px,#483f9e 66.5px,#483f9e 72.5px,#483f9e 78.5px,#493f9e 84.5px,#493f9e 90.5px,#493f9e 96.5px,#49409f 102.5px,#49409f 108.5px,#49409f 114.5px,#49409f 120.5px,#493f9e 126.5px,#493f9e 132.5px,#493f9e 138.5px,#493f9e 144.5px,#49409f 150.5px,#49409f 156.5px,#49409f 162.5px,#49409f 168.5px,#49409f 174.5px,#49409f 180.5px,#49409f 186.5px,#49409f 192.5px,#49409f 198.5px,#49409f 204.5px,#49409f 210.5px,#49409f 216.5px,#49409f 218.5px)"></i><i style="background:linear-gradient(#483e9d 0.5px,#483e9d 6.5px,#483e9d 12.5px,#483e9d 18.5px,#483e9d 24.5px,#483e9d 30.5px,#483e9d 36.5px,#483f9e 42.5px,#483f9e 48.5px,#493f9e 54.5px,#493f9e 60.5px,#49409f 66.5px,#49409f 72.5px,#4a41a0 78.5px,#4a42a1 84.5px,#4a42a1 90.5px,#4b43a2 96.5px,#4b43a2 102.5px,#4b43a2 108.5px,#4a42a1 114.5px,#4a42a1 120.5px,#4a42a1 126.5px,#4a41a0 132.5px,#4a41a0 138.5px,#4a41a0 144.5px,#4a41a0 150.5px,#4a41a0 156.5px,#4a41a0 162.5px,#4a41a0 168.5px,#4a41a0 174.5px,#4a41a0 180.5px,#4a41a0 186.5px,#4a41a0 192.5px,#4a41a0 198.5px,#4a41a0 204.5px,#4a41a0 210.5px,#4a41a0 216.5px,#4a41a0 218.5px)"></i><i style="background:linear-gradient(#493f9e 0.5px,#493f9e 6.5px,#493f9e 12.5px,#493f9e 18.5px,#493f9e 24.5px,#493f9e 30.5px,#493f9e 36.5px,#493f9e 42.5px,#49409f 48.5px,#4941a0 54.5px,#4a41a0 60.5px,#4a42a1 66.5px,#4b44a3 72.5px,#4c45a4 78.5px,#4d48a7 84.5px,#4c4aaa 90.5px,#4c4cab 96.5px,#4c4cac 102.5px,#4c4baa 108.5px,#4d48a7 114.5px,#4d47a6 120.5px,#4c46a5 126.5px,#4c44a3 132.5px,#4b44a3 138.5px,#4b44a3 144.5px,#4b44a3 150.5px,#4b44a3 156.5px,#4b43a2 162.5px,#4b43a2 168.5px,#4b43a2 174.5px,#4b43a2 180.5px,#4b43a2 186.5px,#4b43a2 192.5px,#4a42a1 198.5px,#4a42a1 204.5px,#4a42a1 210.5px,#4a42a1 216.5px,#4a42a1 218.5px)"></i><i style="background:linear-gradient(#49409f 0.5px,#49409f 6.5px,#49409f 12.5px,#49409f 18.5px,#49409f 24.5px,#49409f 30.5px,#49409f 36.5px,#4a41a0 42.5px,#4a42a1 48.5px,#4b43a2 54.5px,#4b44a3 60.5px,#4d47a6 66.5px,#4c4aa9 72.5px,#4c4fae 78.5px,#4b55b5 84.5px,#495ab9 90.5px,#475cbb 96.5px,#475cbb 102.5px,#4959b9 108.5px,#4b54b3 114.5px,#4b50b0 120.5px,#4c4dac 126.5px,#4d49a8 132.5px,#4d47a6 138.5px,#4d46a5 144.5px,#4c46a5 150.5px,#4c45a4 156.5px,#4c45a4 162.5px,#4b44a3 168.5px,#4b44a3 174.5px,#4b44a3 180.5px,#4b44a3 186.5px,#4b43a2 192.5px,#4b43a2 198.5px,#4b43a2 204.5px,#4b43a2 210.5px,#4a42a1 216.5px,#4a42a1 218.5px)"></i><i style="background:linear-gradient(#4a41a0 0.5px,#4a41a0 6.5px,#4a41a0 12.5px,#4a41a0 18.5px,#4a41a0 24.5px,#4a41a0 30.5px,#4a42a1 36.5px,#4a42a1 42.5px,#4b44a3 48.5px,#4c46a5 54.5px,#4d48a7 60.5px,#4c4dad 66.5px,#4b53b3 72.5px,#495aba 78.5px,#4461bf 84.5px,#3f68c4 90.5px,#3d6cc7 96.5px,#3d6bc6 102.5px,#4265c1 108.5px,#475dbc 114.5px,#4a59b8 120.5px,#4b53b3 126.5px,#4c4dac 132.5px,#4d4aa9 138.5px,#4d49a8 144.5px,#4d48a7 150.5px,#4d47a6 156.5px,#4c46a5 162.5px,#4c45a4 168.5px,#4c44a3 174.5px,#4b44a3 180.5px,#4b44a3 186.5px,#4b44a3 192.5px,#4b43a2 198.5px,#4b43a2 204.5px,#4b43a2 210.5px,#4a42a1 216.5px,#4a42a1 218.5px)"></i><i style="background:linear-gradient(#4a42a1 0.5px,#4a42a1 6.5px,#4a42a1 12.5px,#4a42a1 18.5px,#4a42a1 24.5px,#4a42a1 30.5px,#4b43a2 36.5px,#4b44a3 42.5px,#4c45a4 48.5px,#4d48a7 54.5px,#4c4cab 60.5px,#4b53b3 66.5px,#495ab9 72.5px,#4461bf 78.5px,#3e6bc6 84.5px,#3874cc 90.5px,#3579ce 96.5px,#3677cd 102.5px,#3c6dc8 108.5px,#4363c0 114.5px,#475dbb 120.5px,#4a57b7 126.5px,#4c4faf 132.5px,#4c4baa 138.5px,#4d4aa9 144.5px,#4d48a7 150.5px,#4d47a6 156.5px,#4c46a5 162.5px,#4c45a4 168.5px,#4b44a3 174.5px,#4b44a3 180.5px,#4b44a3 186.5px,#4b43a2 192.5px,#4b43a2 198.5px,#4b43a2 204.5px,#4a42a1 210.5px,#4a42a1 216.5px,#4a42a1 218.5px)"></i><i style="background:linear-gradient(#4a42a1 0.5px,#4a42a1 6.5px,#4a42a1 12.5px,#4a42a1 18.5px,#4a42a1 24.5px,#4a42a1 30.5px,#4b43a2 36.5px,#4b44a3 42.5px,#4c46a5 48.5px,#4d4aa9 54.5px,#4c4ead 60.5px,#4a56b6 66.5px,#475cbb 72.5px,#4165c2 78.5px,#3a6fc9 84.5px,#357ace 90.5px,#327fd0 96.5px,#337dcf 102.5px,#3a70ca 108.5px,#4265c2 114.5px,#465ebc 120.5px,#4a57b7 126.5px,#4c4faf 132.5px,#4c4baa 138.5px,#4d49a8 144.5px,#4d47a7 150.5px,#4d46a5 156.5px,#4c45a4 162.5px,#4b44a3 168.5px,#4b44a3 174.5px,#4b43a2 180.5px,#4b43a2 186.5px,#4a42a1 192.5px,#4a42a1 198.5px,#4a42a1 204.5px,#4a42a1 210.5px,#4a41a0 216.5px,#4a41a0 218.5px)"></i><i style="background:linear-gradient(#4a42a1 0.5px,#4a42a1 6.5px,#4a42a1 12.5px,#4a42a1 18.5px,#4a42a1 24.5px,#4a42a1 30.5px,#4b43a2 36.5px,#4b44a3 42.5px,#4c46a5 48.5px,#4d4aa9 54.5px,#4c4ead 60.5px,#4a56b6 66.5px,#475cbb 72.5px,#4165c2 78.5px,#3a6fc9 84.5px,#357ace 90.5px,#327fd0 96.5px,#337dcf 102.5px,#3b6fc9 108.5px,#4363c0 114.5px,#475cbb 120.5px,#4b55b5 126.5px,#4c4dac 132.5px,#4d49a8 138.5px,#4d47a6 144.5px,#4c46a5 150.5px,#4c45a4 156.5px,#4b44a3 162.5px,#4b43a2 168.5px,#4a42a1 174.5px,#4a42a1 180.5px,#4a42a1 186.5px,#4a41a0 192.5px,#4a41a0 198.5px,#4941a0 204.5px,#49409f 210.5px,#49409f 216.5px,#49409f 218.5px)"></i><i style="background:linear-gradient(#4a42a1 0.5px,#4a42a1 6.5px,#4a42a1 12.5px,#4a42a1 18.5px,#4a42a1 24.5px,#4a42a1 30.5px,#4b43a2 36.5px,#4b44a3 42.5px,#4c45a4 48.5px,#4d48a7 54.5px,#4c4cab 60.5px,#4b53b3 66.5px,#495ab9 72.5px,#4461bf 78.5px,#3e6bc6 84.5px,#3874cc 90.5px,#3579ce 96.5px,#3776cc 102.5px,#3f69c5 108.5px,#465ebd 114.5px,#4a57b7 120.5px,#4b50af 126.5px,#4d49a8 132.5px,#4c46a5 138.5px,#4c45a4 144.5px,#4b44a3 150.5px,#4b43a2 156.5px,#4a42a1 162.5px,#4a41a0 168.5px,#4941a0 174.5px,#49409f 180.5px,#49409f 186.5px,#49409f 192.5px,#49409f 198.5px,#493f9e 204.5px,#493f9e 210.5px,#493f9e 216.5px,#493f9e 218.5px)"></i><i style="background:linear-gradient(#4a41a0 0.5px,#4a41a0 6.5px,#4a41a0 12.5px,#4a41a0 18.5px,#4a41a0 24.5px,#4a41a0 30.5px,#4a42a1 36.5px,#4a42a1 42.5px,#4b44a3 48.5px,#4c46a5 54.5px,#4d48a7 60.5px,#4c4dad 66.5px,#4b53b3 72.5px,#495aba 78.5px,#4461bf 84.5px,#3f68c4 90.5px,#3d6cc7 96.5px,#3f69c5 102.5px,#455fbd 108.5px,#4a55b5 114.5px,#4c4eae 120.5px,#4d48a8 126.5px,#4c45a4 132.5px,#4b43a2 138.5px,#4a42a1 144.5px,#4a41a0 150.5px,#4941a0 156.5px,#49409f 162.5px,#49409f 168.5px,#493f9e 174.5px,#493f9e 180.5px,#493f9e 186.5px,#483f9e 192.5px,#483f9e 198.5px,#483f9e 204.5px,#483f9e 210.5px,#483e9d 216.5px,#483e9d 218.5px)"></i><i style="background:linear-gradient(#49409f 0.5px,#49409f 6.5px,#49409f 12.5px,#49409f 18.5px,#49409f 24.5px,#49409f 30.5px,#49409f 36.5px,#4a41a0 42.5px,#4a42a1 48.5px,#4b43a2 54.5px,#4b44a3 60.5px,#4d47a6 66.5px,#4c4aa9 72.5px,#4c4fae 78.5px,#4b55b5 84.5px,#495ab9 90.5px,#475cbb 96.5px,#495aba 102.5px,#4b51b1 108.5px,#4d4aa9 114.5px,#4c46a5 120.5px,#4b43a2 126.5px,#4a41a0 132.5px,#49409f 138.5px,#49409f 144.5px,#493f9e 150.5px,#493f9e 156.5px,#483f9e 162.5px,#483f9e 168.5px,#483e9d 174.5px,#483e9d 180.5px,#483e9d 186.5px,#483e9d 192.5px,#483e9d 198.5px,#483e9d 204.5px,#483e9d 210.5px,#483e9d 216.5px,#483e9d 218.5px)"></i><i style="background:linear-gradient(#493f9e 0.5px,#493f9e 6.5px,#493f9e 12.5px,#493f9e 18.5px,#493f9e 24.5px,#493f9e 30.5px,#493f9e 36.5px,#493f9e 42.5px,#49409f 48.5px,#4941a0 54.5px,#4a41a0 60.5px,#4a42a1 66.5px,#4b44a3 72.5px,#4c45a4 78.5px,#4d48a7 84.5px,#4c4aaa 90.5px,#4c4cab 96.5px,#4c4aa9 102.5px,#4c46a5 108.5px,#4b43a2 114.5px,#4a41a0 120.5px,#49409f 126.5px,#493f9e 132.5px,#493f9e 138.5px,#483f9e 144.5px,#483f9e 150.5px,#483e9d 156.5px,#483e9d 162.5px,#483e9d 168.5px,#483e9d 174.5px,#483e9d 180.5px,#483e9d 186.5px,#483e9d 192.5px,#483e9d 198.5px,#483e9d 204.5px,#483e9d 210.5px,#483e9d 216.5px,#483e9d 218.5px)"></i><i style="background:linear-gradient(#483e9d 0.5px,#483e9d 6.5px,#483e9d 12.5px,#483e9d 18.5px,#483e9d 24.5px,#483e9d 30.5px,#483e9d 36.5px,#483f9e 42.5px,#483f9e 48.5px,#493f9e 54.5px,#493f9e 60.5px,#49409f 66.5px,#49409f 72.5px,#4a41a0 78.5px,#4a42a1 84.5px,#4a42a1 90.5px,#4b43a2 96.5px,#4a42a1 102.5px,#4a41a0 108.5px,#49409f 114.5px,#493f9e 120.5px,#483f9e 126.5px,#483e9d 132.5px,#483e9d 138.5px,#483e9d 144.5px,#483e9d 150.5px,#483e9d 156.5px,#483e9d 162.5px,#483e9d 168.5px,#483e9d 174.5px,#483e9d 180.5px,#483e9d 186.5px,#483e9d 192.5px,#483e9d 198.5px,#483e9d 204.5px,#483e9d 210.5px,#483e9d 216.5px,#483e9d 218.5px)"></i><i style="background:linear-gradient(#483e9d 0.5px,#483e9d 6.5px,#483e9d 12.5px,#483e9d 18.5px,#483e9d 24.5px,#483e9d 30.5px,#483e9d 36.5px,#483e9d 42.5px,#483e9d 48.5px,#483e9d 54.5px,#483e9d 60.5px,#483f9e 66.5px,#483f9e 72.5px,#493f9e 78.5px,#493f9e 84.5px,#493f9e 90.5px,#49409f 96.5px,#493f9e 102.5px,#493f9e 108.5px,#483f9e 114.5px,#483e9d 120.5px,#483e9d 126.5px,#483e9d 132.5px,#483e9d 138.5px,#483e9d 144.5px,#483e9d 150.5px,#483e9d 156.5px,#483f9e 162.5px,#483f9e 168.5px,#483f9e 174.5px,#483f9e 180.5px,#483f9e 186.5px,#483f9e 192.5px,#493f9e 198.5px,#493f9e 204.5px,#493f9e 210.5px,#493f9e 216.5px,#493f9e 218.5px)"></i><i style="background:linear-gradient(#483e9d 0.5px,#483e9d 6.5px,#483e9d 12.5px,#483e9d 18.5px,#483e9d 24.5px,#483e9d 30.5px,#483e9d 36.5px,#483e9d 42.5px,#483e9d 48.5px,#483e9d 54.5px,#483e9d 60.5px,#483e9d 66.5px,#483f9e 72.5px,#483f9e 78.5px,#493f9e 84.5px,#493f9e 90.5px,#493f9e 96.5px,#493f9e 102.5px,#493f9e 108.5px,#493f9e 114.5px,#493f9e 120.5px,#493f9e 126.5px,#493f9e 132.5px,#493f9e 138.5px,#493f9e 144.5px,#493f9e 150.5px,#493f9e 156.5px,#493f9e 162.5px,#49409f 168.5px,#49409f 174.5px,#49409f 180.5px,#49409f 186.5px,#49409f 192.5px,#49409f 198.5px,#49409f 204.5px,#49409f 210.5px,#49409f 216.5px,#49409f 218.5px)"></i><i style="background:linear-gradient(#483e9d 0.5px,#483e9d 6.5px,#483e9d 12.5px,#483e9d 18.5px,#483e9d 24.5px,#483e9d 30.5px,#483e9d 36.5px,#483e9d 42.5px,#483f9e 48.5px,#483f9e 54.5px,#483f9e 60.5px,#493f9e 66.5px,#493f9e 72.5px,#49409f 78.5px,#49409f 84.5px,#4a41a0 90.5px,#4a41a0 96.5px,#4a41a0 102.5px,#4a41a0 108.5px,#4a41a0 114.5px,#4941a0 120.5px,#4941a0 126.5px,#49409f 132.5px,#49409f 138.5px,#49409f 144.5px,#4941a0 150.5px,#4a41a0 156.5px,#4a41a0 162.5px,#4a41a0 168.5px,#4a41a0 174.5px,#4a41a0 180.5px,#4a41a0 186.5px,#4a41a0 192.5px,#4a41a0 198.5px,#4a41a0 204.5px,#4a41a0 210.5px,#4a41a0 216.5px,#4a41a0 218.5px)"></i><i style="background:linear-gradient(#483f9e 0.5px,#483f9e 6.5px,#483f9e 12.5px,#483f9e 18.5px,#493f9e 24.5px,#493f9e 30.5px,#493f9e 36.5px,#493f9e 42.5px,#493f9e 48.5px,#49409f 54.5px,#49409f 60.5px,#4a41a0 66.5px,#4a42a1 72.5px,#4b43a2 78.5px,#4b44a3 84.5px,#4c45a4 90.5px,#4c46a5 96.5px,#4c46a5 102.5px,#4c45a4 108.5px,#4b44a3 114.5px,#4b44a3 120.5px,#4b43a2 126.5px,#4a42a1 132.5px,#4a42a1 138.5px,#4a42a1 144.5px,#4b43a2 150.5px,#4b43a2 156.5px,#4b43a2 162.5px,#4b43a2 168.5px,#4b43a2 174.5px,#4b43a2 180.5px,#4b43a2 186.5px,#4b43a2 192.5px,#4a42a1 198.5px,#4a42a1 204.5px,#4a42a1 210.5px,#4a42a1 216.5px,#4a42a1 218.5px)"></i><i style="background:linear-gradient(#493f9e 0.5px,#493f9e 6.5px,#493f9e 12.5px,#49409f 18.5px,#49409f 24.5px,#49409f 30.5px,#49409f 36.5px,#49409f 42.5px,#49409f 48.5px,#4a41a0 54.5px,#4a42a1 60.5px,#4b44a3 66.5px,#4c45a4 72.5px,#4d48a7 78.5px,#4c4baa 84.5px,#4c4eae 90.5px,#4b50b0 96.5px,#4b50b0 102.5px,#4c4dad 108.5px,#4d4aa9 114.5px,#4d48a7 120.5px,#4d46a5 126.5px,#4c45a4 132.5px,#4b44a3 138.5px,#4c44a3 144.5px,#4c44a3 150.5px,#4b44a3 156.5px,#4b44a3 162.5px,#4b44a3 168.5px,#4b44a3 174.5px,#4b44a3 180.5px,#4b44a3 186.5px,#4b43a2 192.5px,#4b43a2 198.5px,#4b43a2 204.5px,#4b43a2 210.5px,#4a42a1 216.5px,#4a42a1 218.5px)"></i><i style="background:linear-gradient(#49409f 0.5px,#49409f 6.5px,#49409f 12.5px,#49409f 18.5px,#4a41a0 24.5px,#4a41a0 30.5px,#4a41a0 36.5px,#4a41a0 42.5px,#4a42a1 48.5px,#4b43a2 54.5px,#4c44a3 60.5px,#4d47a6 66.5px,#4c4aaa 72.5px,#4c4faf 78.5px,#4b55b5 84.5px,#495ab9 90.5px,#475cbb 96.5px,#485cbb 102.5px,#4a57b7 108.5px,#4b51b0 114.5px,#4c4dad 120.5px,#4c4aaa 126.5px,#4d47a6 132.5px,#4c46a5 138.5px,#4c46a5 144.5px,#4c45a4 150.5px,#4c45a4 156.5px,#4c45a4 162.5px,#4c45a4 168.5px,#4c44a3 174.5px,#4b44a3 180.5px,#4b44a3 186.5px,#4b44a3 192.5px,#4b43a2 198.5px,#4b43a2 204.5px,#4b43a2 210.5px,#4a42a1 216.5px,#4a42a1 218.5px)"></i><i style="background:linear-gradient(#49409f 0.5px,#49409f 6.5px,#4a41a0 12.5px,#4a41a0 18.5px,#4a42a1 24.5px,#4a42a1 30.5px,#4a42a1 36.5px,#4a42a1 42.5px,#4b43a2 48.5px,#4c44a3 54.5px,#4d46a5 60.5px,#4c4aaa 66.5px,#4c4faf 72.5px,#4a55b5 78.5px,#485bbb 84.5px,#4461bf 90.5px,#4264c1 96.5px,#4363c0 102.5px,#475cbb 108.5px,#4a55b5 114.5px,#4b51b0 120.5px,#4c4dac 126.5px,#4d48a7 132.5px,#4d47a6 138.5px,#4d46a5 144.5px,#4c46a5 150.5px,#4c45a4 156.5px,#4c45a4 162.5px,#4c45a4 168.5px,#4b44a3 174.5px,#4b44a3 180.5px,#4b44a3 186.5px,#4b43a2 192.5px,#4b43a2 198.5px,#4b43a2 204.5px,#4a42a1 210.5px,#4a42a1 216.5px,#4a42a1 218.5px)"></i><i style="background:linear-gradient(#49409f 0.5px,#4941a0 6.5px,#4a41a0 12.5px,#4a42a1 18.5px,#4a42a1 24.5px,#4a42a1 30.5px,#4a42a1 36.5px,#4a42a1 42.5px,#4b43a2 48.5px,#4c45a4 54.5px,#4d47a6 60.5px,#4c4cac 66.5px,#4b52b1 72.5px,#4a58b8 78.5px,#465ebd 84.5px,#4264c1 90.5px,#4067c4 96.5px,#4166c3 102.5px,#465fbd 108.5px,#4a57b7 114.5px,#4b52b1 120.5px,#4c4dac 126.5px,#4d48a8 132.5px,#4d46a5 138.5px,#4c46a5 144.5px,#4c45a4 150.5px,#4c45a4 156.5px,#4c44a3 162.5px,#4b44a3 168.5px,#4b44a3 174.5px,#4b43a2 180.5px,#4b43a2 186.5px,#4a42a1 192.5px,#4a42a1 198.5px,#4a42a1 204.5px,#4a42a1 210.5px,#4a41a0 216.5px,#4a41a0 218.5px)"></i><i style="background:linear-gradient(#49409f 0.5px,#4941a0 6.5px,#4a41a0 12.5px,#4a42a1 18.5px,#4a42a1 24.5px,#4a42a1 30.5px,#4a42a1 36.5px,#4a42a1 42.5px,#4b43a2 48.5px,#4c45a4 54.5px,#4d47a6 60.5px,#4c4cac 66.5px,#4b52b1 72.5px,#4a58b8 78.5px,#465ebd 84.5px,#4264c1 90.5px,#4067c4 96.5px,#4166c2 102.5px,#465ebc 108.5px,#4a56b5 114.5px,#4b50b0 120.5px,#4c4cab 126.5px,#4d47a6 132.5px,#4c45a4 138.5px,#4c45a4 144.5px,#4b44a3 150.5px,#4b44a3 156.5px,#4b43a2 162.5px,#4b43a2 168.5px,#4a42a1 174.5px,#4a42a1 180.5px,#4a42a1 186.5px,#4a41a0 192.5px,#4a41a0 198.5px,#4941a0 204.5px,#49409f 210.5px,#49409f 216.5px,#49409f 218.5px)"></i><i style="background:linear-gradient(#49409f 0.5px,#49409f 6.5px,#4a41a0 12.5px,#4a41a0 18.5px,#4a42a1 24.5px,#4a42a1 30.5px,#4a42a1 36.5px,#4a42a1 42.5px,#4b43a2 48.5px,#4c44a3 54.5px,#4d46a5 60.5px,#4c4aaa 66.5px,#4c4faf 72.5px,#4a55b5 78.5px,#485bbb 84.5px,#4461bf 90.5px,#4264c1 96.5px,#4362bf 102.5px,#495aba 108.5px,#4b51b1 114.5px,#4c4cac 120.5px,#4d48a7 126.5px,#4c45a4 132.5px,#4b44a3 138.5px,#4b43a2 144.5px,#4a42a1 150.5px,#4a42a1 156.5px,#4a41a0 162.5px,#4a41a0 168.5px,#4941a0 174.5px,#49409f 180.5px,#49409f 186.5px,#49409f 192.5px,#49409f 198.5px,#493f9e 204.5px,#493f9e 210.5px,#493f9e 216.5px,#493f9e 218.5px)"></i><i style="background:linear-gradient(#49409f 0.5px,#49409f 6.5px,#49409f 12.5px,#49409f 18.5px,#4a41a0 24.5px,#4a41a0 30.5px,#4a41a0 36.5px,#4a41a0 42.5px,#4a42a1 48.5px,#4b43a2 54.5px,#4c44a3 60.5px,#4d47a6 66.5px,#4c4aaa 72.5px,#4c4faf 78.5px,#4b55b5 84.5px,#495ab9 90.5px,#475cbb 96.5px,#495aba 102.5px,#4b52b2 108.5px,#4c4baa 114.5px,#4d47a6 120.5px,#4c45a4 126.5px,#4b43a2 132.5px,#4a42a1 138.5px,#4a41a0 144.5px,#4941a0 150.5px,#49409f 156.5px,#49409f 162.5px,#493f9e 168.5px,#493f9e 174.5px,#493f9e 180.5px,#493f9e 186.5px,#483f9e 192.5px,#483f9e 198.5px,#483f9e 204.5px,#483f9e 210.5px,#483e9d 216.5px,#483e9d 218.5px)"></i><i style="background:linear-gradient(#493f9e 0.5px,#493f9e 6.5px,#493f9e 12.5px,#49409f 18.5px,#49409f 24.5px,#49409f 30.5px,#49409f 36.5px,#49409f 42.5px,#49409f 48.5px,#4a41a0 54.5px,#4a42a1 60.5px,#4b44a3 66.5px,#4c45a4 72.5px,#4d48a7 78.5px,#4c4baa 84.5px,#4c4eae 90.5px,#4b50b0 96.5px,#4c4fae 102.5px,#4d49a8 108.5px,#4c45a4 114.5px,#4b43a2 120.5px,#4a42a1 126.5px,#49409f 132.5px,#49409f 138.5px,#493f9e 144.5px,#493f9e 150.5px,#493f9e 156.5px,#483f9e 162.5px,#483f9e 168.5px,#483e9d 174.5px,#483e9d 180.5px,#483e9d 186.5px,#483e9d 192.5px,#483e9d 198.5px,#483e9d 204.5px,#483e9d 210.5px,#483e9d 216.5px,#483e9d 218.5px)"></i><i style="background:linear-gradient(#483f9e 0.5px,#483f9e 6.5px,#483f9e 12.5px,#483f9e 18.5px,#493f9e 24.5px,#493f9e 30.5px,#493f9e 36.5px,#493f9e 42.5px,#493f9e 48.5px,#49409f 54.5px,#49409f 60.5px,#4a41a0 66.5px,#4a42a1 72.5px,#4b43a2 78.5px,#4b44a3 84.5px,#4c45a4 90.5px,#4c46a5 96.5px,#4c45a4 102.5px,#4b43a2 108.5px,#4a41a0 114.5px,#49409f 120.5px,#493f9e 126.5px,#493f9e 132.5px,#483f9e 138.5px,#483f9e 144.5px,#483e9d 150.5px,#483e9d 156.5px,#483e9d 162.5px,#483e9d 168.5px,#483e9d 174.5px,#483e9d 180.5px,#483e9d 186.5px,#483e9d 192.5px,#483e9d 198.5px,#483e9d 204.5px,#483e9d 210.5px,#483e9d 216.5px,#483e9d 218.5px)"></i><i style="background:linear-gradient(#483e9d 0.5px,#483e9d 6.5px,#483e9d 12.5px,#483e9d 18.5px,#483e9d 24.5px,#483e9d 30.5px,#483e9d 36.5px,#483e9d 42.5px,#483f9e 48.5px,#483f9e 54.5px,#483f9e 60.5px,#493f9e 66.5px,#493f9e 72.5px,#49409f 78.5px,#49409f 84.5px,#4a41a0 90.5px,#4a41a0 96.5px,#4a41a0 102.5px,#49409f 108.5px,#493f9e 114.5px,#483f9e 120.5px,#483e9d 126.5px,#483e9d 132.5px,#483e9d 138.5px,#483e9d 144.5px,#483e9d 150.5px,#483e9d 156.5px,#483e9d 162.5px,#483e9d 168.5px,#483e9d 174.5px,#483e9d 180.5px,#483e9d 186.5px,#483e9d 192.5px,#483e9d 198.5px,#483e9d 204.5px,#483e9d 210.5px,#483e9d 216.5px,#483e9d 218.5px)"></i><i style="background:linear-gradient(#483e9d 0.5px,#483e9d 6.5px,#483e9d 12.5px,#483e9d 18.5px,#483e9d 24.5px,#483e9d 30.5px,#483e9d 36.5px,#483e9d 42.5px,#483e9d 48.5px,#483e9d 54.5px,#483e9d 60.5px,#483e9d 66.5px,#483e9d 72.5px,#483f9e 78.5px,#483f9e 84.5px,#483f9e 90.5px,#493f9e 96.5px,#483f9e 102.5px,#483f9e 108.5px,#483e9d 114.5px,#483e9d 120.5px,#483e9d 126.5px,#483e9d 132.5px,#483e9d 138.5px,#483e9d 144.5px,#483e9d 150.5px,#483e9d 156.5px,#483e9d 162.5px,#483e9d 168.5px,#483e9d 174.5px,#483e9d 180.5px,#483e9d 186.5px,#483e9d 192.5px,#483e9d 198.5px,#483e9d 204.5px,#483e9d 210.5px,#483e9d 216.5px,#483e9d 218.5px)"></i><i style="background:linear-gradient(#483e9d 0.5px,#483e9d 6.5px,#483e9d 12.5px,#483e9d 18.5px,#483e9d 24.5px,#483e9d 30.5px,#483e9d 36.5px,#483e9d 42.5px,#483e9d 48.5px,#483e9d 54.5px,#483e9d 60.5px,#483e9d 66.5px,#483e9d 72.5px,#483e9d 78.5px,#483e9d 84.5px,#483e9d 90.5px,#483e9d 96.5px,#483e9d 102.5px,#483e9d 108.5px,#483e9d 114.5px,#483e9d 120.5px,#483e9d 126.5px,#483e9d 132.5px,#483e9d 138.5px,#483e9d 144.5px,#483e9d 150.5px,#483e9d 156.5px,#483e9d 162.5px,#483e9d 168.5px,#483e9d 174.5px,#483e9d 180.5px,#483e9d 186.5px,#483e9d 192.5px,#483e9d 198.5px,#483e9d 204.5px,#483e9d 210.5px,#483e9d 216.5px,#483e9d 218.5px)"></i><i style="background:linear-gradient(#483e9d 0.5px,#483e9d 6.5px,#483e9d 12.5px,#483e9d 18.5px,#483e9d 24.5px,#483e9d 30.5px,#483e9d 36.5px,#483e9d 42.5px,#483e9d 48.5px,#483e9d 54.5px,#483e9d 60.5px,#483e9d 66.5px,#483e9d 72.5px,#483e9d 78.5px,#483e9d 84.5px,#483e9d 90.5px,#483e9d 96.5px,#483e9d 102.5px,#483e9d 108.5px,#483e9d 114.5px,#483e9d 120.5px,#483e9d 126.5px,#483e9d 132.5px,#483e9d 138.5px,#483e9d 144.5px,#483e9d 150.5px,#483e9d 156.5px,#483e9d 162.5px,#483e9d 168.5px,#483e9d 174.5px,#483e9d 180.5px,#483e9d 186.5px,#483e9d 192.5px,#483e9d 198.5px,#483e9d 204.5px,#483e9d 210.5px,#483e9d 216.5px,#483e9d 218.5px)"></i><i style="background:linear-gradient(#483e9d 0.5px,#483e9d 6.5px,#483e9d 12.5px,#483e9d 18.5px,#483e9d 24.5px,#483e9d 30.5px,#483e9d 36.5px,#483e9d 42.5px,#483e9d 48.5px,#483e9d 54.5px,#483e9d 60.5px,#483e9d 66.5px,#483e9d 72.5px,#483e9d 78.5px,#483e9d 84.5px,#483e9d 90.5px,#483e9d 96.5px,#483e9d 102.5px,#483e9d 108.5px,#483e9d 114.5px,#483e9d 120.5px,#483e9d 126.5px,#483e9d 132.5px,#483e9d 138.5px,#483e9d 144.5px,#483e9d 150.5px,#483e9d 156.5px,#483e9d 162.5px,#483e9d 168.5px,#483e9d 174.5px,#483e9d 180.5px,#483e9d 186.5px,#483e9d 192.5px,#483e9d 198.5px,#483e9d 204.5px,#483e9d 210.5px,#483e9d 216.5px,#483e9d 218.5px)"></i><i style="background:linear-gradient(#483e9d 0.5px,#483e9d 6.5px,#483e9d 12.5px,#483e9d 18.5px,#483e9d 24.5px,#483e9d 30.5px,#483e9d 36.5px,#483e9d 42.5px,#483e9d 48.5px,#483e9d 54.5px,#483e9d 60.5px,#483e9d 66.5px,#483e9d 72.5px,#483e9d 78.5px,#483e9d 84.5px,#483e9d 90.5px,#483e9d 96.5px,#483e9d 102.5px,#483e9d 108.5px,#483e9d 114.5px,#483e9d 120.5px,#483e9d 126.5px,#483e9d 132.5px,#483e9d 138.5px,#483e9d 144.5px,#483e9d 150.5px,#483e9d 156.5px,#483e9d 162.5px,#483e9d 168.5px,#483e9d 174.5px,#483e9d 180.5px,#483e9d 186.5px,#483e9d 192.5px,#483e9d 198.5px,#483e9d 204.5px,#483e9d 210.5px,#483e9d 216.5px,#483e9d 218.5px)"></i><i style="background:linear-gradient(#483e9d 0.5px,#483e9d 6.5px,#483e9d 12.5px,#483e9d 18.5px,#483e9d 24.5px,#483e9d 30.5px,#483e9d 36.5px,#483e9d 42.5px,#483e9d 48.5px,#483e9d 54.5px,#483e9d 60.5px,#483e9d 66.5px,#483e9d 72.5px,#483e9d 78.5px,#483e9d 84.5px,#483e9d 90.5px,#483e9d 96.5px,#483e9d 102.5px,#483e9d 108.5px,#483e9d 114.5px,#483e9d 120.5px,#483e9d 126.5px,#483e9d 132.5px,#483e9d 138.5px,#483e9d 144.5px,#483e9d 150.5px,#483e9d 156.5px,#483e9d 162.5px,#483e9d 168.5px,#483e9d 174.5px,#483e9d 180.5px,#483e9d 186.5px,#483e9d 192.5px,#483e9d 198.5px,#483e9d 204.5px,#483e9d 210.5px,#483e9d 216.5px,#483e9d 218.5px)"></i><i style="background:linear-gradient(#483e9d 0.5px,#483e9d 6.5px,#483e9d 12.5px,#483e9d 18.5px,#483e9d 24.5px,#483e9d 30.5px,#483e9d 36.5px,#483e9d 42.5px,#483e9d 48.5px,#483e9d 54.5px,#483e9d 60.5px,#483e9d 66.5px,#483e9d 72.5px,#483e9d 78.5px,#483e9d 84.5px,#483e9d 90.5px,#483e9d 96.5px,#483e9d 102.5px,#483e9d 108.5px,#483e9d 114.5px,#483e9d 120.5px,#483e9d 126.5px,#483e9d 132.5px,#483e9d 138.5px,#483e9d 144.5px,#483e9d 150.5px,#483e9d 156.5px,#483e9d 162.5px,#483e9d 168.5px,#483e9d 174.5px,#483e9d 180.5px,#483e9d 186.5px,#483e9d 192.5px,#483e9d 198.5px,#483e9d 204.5px,#483e9d 210.5px,#483e9d 216.5px,#483e9d 218.5px)"></i><i style="background:linear-gradient(#483e9d 0.5px,#483e9d 6.5px,#483e9d 12.5px,#483e9d 18.5px,#483e9d 24.5px,#483e9d 30.5px,#483e9d 36.5px,#483e9d 42.5px,#483e9d 48.5px,#483e9d 54.5px,#483e9d 60.5px,#483e9d 66.5px,#483e9d 72.5px,#483e9d 78.5px,#483e9d 84.5px,#483e9d 90.5px,#483e9d 96.5px,#483e9d 102.5px,#483e9d 108.5px,#483e9d 114.5px,#483e9d 120.5px,#483e9d 126.5px,#483e9d 132.5px,#483e9d 138.5px,#483e9d 144.5px,#483e9d 150.5px,#483e9d 156.5px,#483e9d 162.5px,#483e9d 168.5px,#483e9d 174.5px,#483e9d 180.5px,#483e9d 186.5px,#483e9d 192.5px,#483e9d 198.5px,#483e9d 204.5px,#483e9d 210.5px,#483e9d 216.5px,#483e9d 218.5px)"></i></div><div class="cb" style="left:288.9px"></div><div class="cb" style="left:602.8px"></div><div class="tk" style="left:297.9px;top:18.7px"></div><div class="t" style="left:304.00px;top:12.35px;font-size:14px;font-weight:normal;color:#000;">2</div><div class="tk" style="left:297.9px;top:72.3px"></div><div class="t" style="left:304.00px;top:65.95px;font-size:14px;font-weight:normal;color:#000;">1.5</div><div class="tk" style="left:297.9px;top:125.9px"></div><div class="t" style="left:304.00px;top:119.55px;font-size:14px;font-weight:normal;color:#000;">1</div><div class="tk" style="left:297.9px;top:179.5px"></div><div class="t" style="left:304.00px;top:173.15px;font-size:14px;font-weight:normal;color:#000;">0.5</div><div class="tk" style="left:611.9px;top:26.4px"></div><div class="t" style="left:617.80px;top:20.05px;font-size:14px;font-weight:normal;color:#000;">5</div><div class="tk" style="left:611.9px;top:66.0px"></div><div class="t" style="left:617.80px;top:59.65px;font-size:14px;font-weight:normal;color:#000;">4</div><div class="tk" style="left:611.9px;top:105.7px"></div><div class="t" style="left:617.80px;top:99.35px;font-size:14px;font-weight:normal;color:#000;">3</div><div class="tk" style="left:611.9px;top:145.4px"></div><div class="t" style="left:617.80px;top:139.05px;font-size:14px;font-weight:normal;color:#000;">2</div><div class="tk" style="left:611.9px;top:185.0px"></div><div class="t" style="left:617.80px;top:178.65px;font-size:14px;font-weight:normal;color:#000;">1</div><div class="t" style="right:584.40px;top:16.95px;font-size:14px;font-weight:normal;color:#000;">350</div><div class="t" style="right:584.40px;top:56.05px;font-size:14px;font-weight:normal;color:#000;">300</div><div class="t" style="right:584.40px;top:95.15px;font-size:14px;font-weight:normal;color:#000;">250</div><div class="t" style="right:584.40px;top:134.25px;font-size:14px;font-weight:normal;color:#000;">200</div><div class="t" style="right:584.40px;top:173.35px;font-size:14px;font-weight:normal;color:#000;">150</div><div class="t" style="right:584.40px;top:212.45px;font-size:14px;font-weight:normal;color:#000;">100</div><div class="t" style="right:270.20px;top:24.95px;font-size:14px;font-weight:normal;color:#000;">4</div><div class="t" style="right:270.20px;top:66.95px;font-size:14px;font-weight:normal;color:#000;">2</div><div class="t" style="right:270.20px;top:109.05px;font-size:14px;font-weight:normal;color:#000;">0</div><div class="t" style="right:270.20px;top:151.05px;font-size:14px;font-weight:normal;color:#000;">-2</div><div class="t" style="right:270.20px;top:193.15px;font-size:14px;font-weight:normal;color:#000;">-4</div><div class="t" style="left:64.60px;transform:translateX(-50%);top:225.95px;font-size:14px;font-weight:normal;color:#000;">30</div><div class="t" style="left:127.30px;transform:translateX(-50%);top:225.95px;font-size:14px;font-weight:normal;color:#000;">40</div><div class="t" style="left:190.00px;transform:translateX(-50%);top:225.95px;font-size:14px;font-weight:normal;color:#000;">50</div><div class="t" style="left:252.70px;transform:translateX(-50%);top:225.95px;font-size:14px;font-weight:normal;color:#000;">60</div><div class="t" style="left:164.40px;transform:translateX(-50%);top:244.99px;font-size:15.6px;font-weight:normal;color:#000;">Photon Energy (eV)</div><div class="t" style="left:378.60px;transform:translateX(-50%);top:225.95px;font-size:14px;font-weight:normal;color:#000;">30</div><div class="t" style="left:441.30px;transform:translateX(-50%);top:225.95px;font-size:14px;font-weight:normal;color:#000;">40</div><div class="t" style="left:504.00px;transform:translateX(-50%);top:225.95px;font-size:14px;font-weight:normal;color:#000;">50</div><div class="t" style="left:566.70px;transform:translateX(-50%);top:225.95px;font-size:14px;font-weight:normal;color:#000;">60</div><div class="t" style="left:478.40px;transform:translateX(-50%);top:244.99px;font-size:15.6px;font-weight:normal;color:#000;">Photon Energy (eV)</div><div class="t" style="left:7.00px;top:108.50px;font-size:15.5px;font-weight:normal;transform:translate(-50%,-50%) rotate(-90deg);white-space:nowrap">Pressure (mbar)</div><div class="t" style="left:330.50px;top:108.60px;font-size:15.5px;font-weight:normal;transform:translate(-50%,-50%) rotate(-90deg);white-space:nowrap">Gas Cell Position (mm)</div><div class="t w" style="left:58.00px;top:5.46px;font-size:16px;font-weight:bold;color:#fff;">(a)</div><div class="t w" style="left:372.00px;top:4.26px;font-size:16px;font-weight:bold;color:#fff;">(b)</div><div class="t w" style="left:170.90px;top:197.38px;font-size:15.5px;font-weight:bold;color:#fff;">Position 0mm</div><div class="t w" style="left:515.70px;top:192.43px;font-size:15.8px;font-weight:bold;color:#fff;">390 mbar</div><div class="t w" style="left:521.50px;top:5.86px;font-size:16px;font-weight:bold;color:#fff;">APT</div><div class="dash" style="left:359.00px;width:9.20px"></div><div class="dash" style="left:375.40px;width:9.00px"></div><div class="dash" style="left:391.90px;width:9.00px"></div><div class="dash" style="left:408.20px;width:9.00px"></div><div class="dash" style="left:424.90px;width:9.00px"></div><div class="dash" style="left:441.10px;width:9.00px"></div><div class="dash" style="left:457.40px;width:9.00px"></div><div class="dash" style="left:473.80px;width:9.00px"></div><div class="dash" style="left:489.90px;width:9.00px"></div><div class="dash" style="left:506.50px;width:3.70px"></div><div class="dash" style="left:517.70px;width:9.00px"></div><div class="dash" style="left:533.90px;width:9.00px"></div><div class="dash" style="left:550.20px;width:9.00px"></div><div class="dash" style="left:566.60px;width:9.00px"></div><div class="dash" style="left:582.90px;width:7.20px"></div></body></html>
